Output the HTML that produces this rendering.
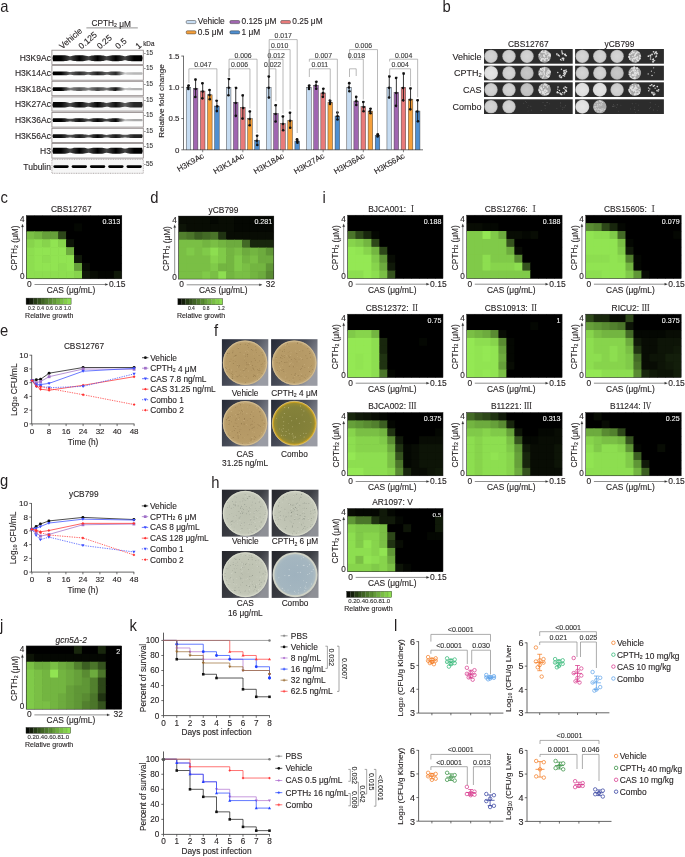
<!DOCTYPE html>
<html><head><meta charset="utf-8"><title>Figure</title>
<style>
html,body{margin:0;padding:0;background:#fff;}
body{width:685px;height:857px;overflow:hidden;}
svg{display:block;font-family:"Liberation Sans", Arial, sans-serif;}
text{stroke:currentColor;stroke-width:0.12px;paint-order:stroke;}
</style></head>
<body>
<svg width="685" height="857" viewBox="0 0 685 857">
<rect width="685" height="857" fill="#fff"/>
<text transform="translate(0.30 12.20) scale(0.87 1)" font-size="17" fill="#231f20" style="stroke:none">a</text>
<text transform="translate(442.50 12.40) scale(0.87 1)" font-size="17" fill="#231f20" style="stroke:none">b</text>
<text transform="translate(0.60 203.20) scale(0.87 1)" font-size="17" fill="#231f20" style="stroke:none">c</text>
<text transform="translate(150.20 203.00) scale(0.87 1)" font-size="17" fill="#231f20" style="stroke:none">d</text>
<text transform="translate(322.50 202.80) scale(0.87 1)" font-size="17" fill="#231f20" style="stroke:none">i</text>
<text transform="translate(0.00 335.70) scale(0.87 1)" font-size="17" fill="#231f20" style="stroke:none">e</text>
<text transform="translate(214.00 336.40) scale(0.87 1)" font-size="17" fill="#231f20" style="stroke:none">f</text>
<text transform="translate(0.00 486.00) scale(0.87 1)" font-size="17" fill="#231f20" style="stroke:none">g</text>
<text transform="translate(211.30 487.50) scale(0.87 1)" font-size="17" fill="#231f20" style="stroke:none">h</text>
<text transform="translate(0.00 631.00) scale(0.87 1)" font-size="17" fill="#231f20" style="stroke:none">j</text>
<text transform="translate(129.50 630.90) scale(0.87 1)" font-size="17" fill="#231f20" style="stroke:none">k</text>
<text transform="translate(394.00 631.00) scale(0.87 1)" font-size="17" fill="#231f20" style="stroke:none">l</text>
<clipPath id="hc1"><rect x="26.30" y="215.50" width="95.50" height="63.30"/></clipPath>
<g clip-path="url(#hc1)">
<rect x="26.30" y="215.50" width="95.50" height="63.30" fill="#000" />
<rect x="26.30" y="215.50" width="8.66" height="8.61" fill="#000000" />
<rect x="34.26" y="215.50" width="8.66" height="8.61" fill="#000000" />
<rect x="42.22" y="215.50" width="8.66" height="8.61" fill="#000000" />
<rect x="50.17" y="215.50" width="8.66" height="8.61" fill="#000000" />
<rect x="58.13" y="215.50" width="8.66" height="8.61" fill="#000000" />
<rect x="66.09" y="215.50" width="8.66" height="8.61" fill="#000000" />
<rect x="74.05" y="215.50" width="8.66" height="8.61" fill="#000000" />
<rect x="82.01" y="215.50" width="8.66" height="8.61" fill="#000000" />
<rect x="89.97" y="215.50" width="8.66" height="8.61" fill="#000000" />
<rect x="97.92" y="215.50" width="8.66" height="8.61" fill="#000000" />
<rect x="105.88" y="215.50" width="8.66" height="8.61" fill="#000000" />
<rect x="113.84" y="215.50" width="8.66" height="8.61" fill="#000000" />
<rect x="26.30" y="223.41" width="8.66" height="8.61" fill="#000000" />
<rect x="34.26" y="223.41" width="8.66" height="8.61" fill="#000000" />
<rect x="42.22" y="223.41" width="8.66" height="8.61" fill="#000000" />
<rect x="50.17" y="223.41" width="8.66" height="8.61" fill="#000000" />
<rect x="58.13" y="223.41" width="8.66" height="8.61" fill="#000000" />
<rect x="66.09" y="223.41" width="8.66" height="8.61" fill="#000000" />
<rect x="74.05" y="223.41" width="8.66" height="8.61" fill="#040702" />
<rect x="82.01" y="223.41" width="8.66" height="8.61" fill="#000000" />
<rect x="89.97" y="223.41" width="8.66" height="8.61" fill="#000000" />
<rect x="97.92" y="223.41" width="8.66" height="8.61" fill="#000000" />
<rect x="105.88" y="223.41" width="8.66" height="8.61" fill="#000000" />
<rect x="113.84" y="223.41" width="8.66" height="8.61" fill="#000000" />
<rect x="26.30" y="231.32" width="8.66" height="8.61" fill="#7abf45" />
<rect x="34.26" y="231.32" width="8.66" height="8.61" fill="#73b541" />
<rect x="42.22" y="231.32" width="8.66" height="8.61" fill="#66a03a" />
<rect x="50.17" y="231.32" width="8.66" height="8.61" fill="#66a03a" />
<rect x="58.13" y="231.32" width="8.66" height="8.61" fill="#2d4719" />
<rect x="66.09" y="231.32" width="8.66" height="8.61" fill="#000000" />
<rect x="74.05" y="231.32" width="8.66" height="8.61" fill="#000000" />
<rect x="82.01" y="231.32" width="8.66" height="8.61" fill="#000000" />
<rect x="89.97" y="231.32" width="8.66" height="8.61" fill="#000000" />
<rect x="97.92" y="231.32" width="8.66" height="8.61" fill="#000000" />
<rect x="105.88" y="231.32" width="8.66" height="8.61" fill="#000000" />
<rect x="113.84" y="231.32" width="8.66" height="8.61" fill="#000000" />
<rect x="26.30" y="239.24" width="8.66" height="8.61" fill="#87d44c" />
<rect x="34.26" y="239.24" width="8.66" height="8.61" fill="#8dde50" />
<rect x="42.22" y="239.24" width="8.66" height="8.61" fill="#87d44c" />
<rect x="50.17" y="239.24" width="8.66" height="8.61" fill="#91e452" />
<rect x="58.13" y="239.24" width="8.66" height="8.61" fill="#87d44c" />
<rect x="66.09" y="239.24" width="8.66" height="8.61" fill="#0d1407" />
<rect x="74.05" y="239.24" width="8.66" height="8.61" fill="#000000" />
<rect x="82.01" y="239.24" width="8.66" height="8.61" fill="#000000" />
<rect x="89.97" y="239.24" width="8.66" height="8.61" fill="#000000" />
<rect x="97.92" y="239.24" width="8.66" height="8.61" fill="#000000" />
<rect x="105.88" y="239.24" width="8.66" height="8.61" fill="#000000" />
<rect x="113.84" y="239.24" width="8.66" height="8.61" fill="#000000" />
<rect x="26.30" y="247.15" width="8.66" height="8.61" fill="#8dde50" />
<rect x="34.26" y="247.15" width="8.66" height="8.61" fill="#91e452" />
<rect x="42.22" y="247.15" width="8.66" height="8.61" fill="#91e452" />
<rect x="50.17" y="247.15" width="8.66" height="8.61" fill="#91e452" />
<rect x="58.13" y="247.15" width="8.66" height="8.61" fill="#91e452" />
<rect x="66.09" y="247.15" width="8.66" height="8.61" fill="#6dab3e" />
<rect x="74.05" y="247.15" width="8.66" height="8.61" fill="#000000" />
<rect x="82.01" y="247.15" width="8.66" height="8.61" fill="#000000" />
<rect x="89.97" y="247.15" width="8.66" height="8.61" fill="#000000" />
<rect x="97.92" y="247.15" width="8.66" height="8.61" fill="#000000" />
<rect x="105.88" y="247.15" width="8.66" height="8.61" fill="#000000" />
<rect x="113.84" y="247.15" width="8.66" height="8.61" fill="#000000" />
<rect x="26.30" y="255.06" width="8.66" height="8.61" fill="#8dde50" />
<rect x="34.26" y="255.06" width="8.66" height="8.61" fill="#91e452" />
<rect x="42.22" y="255.06" width="8.66" height="8.61" fill="#8dde50" />
<rect x="50.17" y="255.06" width="8.66" height="8.61" fill="#91e452" />
<rect x="58.13" y="255.06" width="8.66" height="8.61" fill="#91e452" />
<rect x="66.09" y="255.06" width="8.66" height="8.61" fill="#91e452" />
<rect x="74.05" y="255.06" width="8.66" height="8.61" fill="#101909" />
<rect x="82.01" y="255.06" width="8.66" height="8.61" fill="#000000" />
<rect x="89.97" y="255.06" width="8.66" height="8.61" fill="#000000" />
<rect x="97.92" y="255.06" width="8.66" height="8.61" fill="#000000" />
<rect x="105.88" y="255.06" width="8.66" height="8.61" fill="#000000" />
<rect x="113.84" y="255.06" width="8.66" height="8.61" fill="#000000" />
<rect x="26.30" y="262.98" width="8.66" height="8.61" fill="#8dde50" />
<rect x="34.26" y="262.98" width="8.66" height="8.61" fill="#91e452" />
<rect x="42.22" y="262.98" width="8.66" height="8.61" fill="#91e452" />
<rect x="50.17" y="262.98" width="8.66" height="8.61" fill="#91e452" />
<rect x="58.13" y="262.98" width="8.66" height="8.61" fill="#8dde50" />
<rect x="66.09" y="262.98" width="8.66" height="8.61" fill="#91e452" />
<rect x="74.05" y="262.98" width="8.66" height="8.61" fill="#66a03a" />
<rect x="82.01" y="262.98" width="8.66" height="8.61" fill="#080c04" />
<rect x="89.97" y="262.98" width="8.66" height="8.61" fill="#000000" />
<rect x="97.92" y="262.98" width="8.66" height="8.61" fill="#000000" />
<rect x="105.88" y="262.98" width="8.66" height="8.61" fill="#000000" />
<rect x="113.84" y="262.98" width="8.66" height="8.61" fill="#000000" />
<rect x="26.30" y="270.89" width="8.66" height="8.61" fill="#8dde50" />
<rect x="34.26" y="270.89" width="8.66" height="8.61" fill="#8dde50" />
<rect x="42.22" y="270.89" width="8.66" height="8.61" fill="#8dde50" />
<rect x="50.17" y="270.89" width="8.66" height="8.61" fill="#8dde50" />
<rect x="58.13" y="270.89" width="8.66" height="8.61" fill="#8dde50" />
<rect x="66.09" y="270.89" width="8.66" height="8.61" fill="#8dde50" />
<rect x="74.05" y="270.89" width="8.66" height="8.61" fill="#87d44c" />
<rect x="82.01" y="270.89" width="8.66" height="8.61" fill="#101909" />
<rect x="89.97" y="270.89" width="8.66" height="8.61" fill="#080c04" />
<rect x="97.92" y="270.89" width="8.66" height="8.61" fill="#030501" />
<rect x="105.88" y="270.89" width="8.66" height="8.61" fill="#030501" />
<rect x="113.84" y="270.89" width="8.66" height="8.61" fill="#101909" />
</g>
<rect x="26.30" y="215.50" width="95.50" height="63.30" fill="none" stroke="#222" stroke-width="0.5"/>
<text x="71.30" y="212.30" font-size="8.4" text-anchor="middle" fill="#231f20" color="#231f20" >CBS12767</text>
<text x="120.20" y="223.80" font-size="7.1" text-anchor="end" fill="#f2f2f2" color="#f2f2f2" >0.313</text>
<text x="24.50" y="221.90" font-size="8.2" text-anchor="end" fill="#231f20" color="#231f20" >4</text>
<text x="24.50" y="278.90" font-size="8.2" text-anchor="end" fill="#231f20" color="#231f20" >0</text>
<line x1="22.50" y1="226.00" x2="22.50" y2="273.30" stroke="#333" stroke-width="0.55" />
<path d="M21.40,227.00 L22.50,224.10 L23.60,227.00 Z" stroke="#333" stroke-width="0.2" fill="#333" />
<text x="17.30" y="248.00" font-size="8.3" text-anchor="middle" fill="#231f20" color="#231f20" transform="rotate(-90 17.30 248.00)" >CPTH<tspan font-size="62%" dy="0.9">2</tspan><tspan dy="-0.9"></tspan> (μM)</text>
<text x="27.10" y="286.80" font-size="8.4" text-anchor="start" fill="#231f20" color="#231f20" >0</text>
<line x1="34.50" y1="284.50" x2="105.80" y2="284.50" stroke="#333" stroke-width="0.55" />
<path d="M105.30,283.40 L108.10,284.50 L105.30,285.60 Z" stroke="#333" stroke-width="0.2" fill="#333" />
<text x="108.90" y="286.80" font-size="8.5" text-anchor="start" fill="#231f20" color="#231f20" >0.15</text>
<text x="71.00" y="292.80" font-size="8.4" text-anchor="middle" fill="#231f20" color="#231f20" >CAS (μg/mL)</text>
<rect x="26.10" y="298.10" width="3.80" height="6.30" fill="#060a03" />
<rect x="29.85" y="298.10" width="3.80" height="6.30" fill="#141f0b" />
<rect x="33.60" y="298.10" width="3.80" height="6.30" fill="#273d16" />
<rect x="37.35" y="298.10" width="3.80" height="6.30" fill="#33511d" />
<rect x="41.10" y="298.10" width="3.80" height="6.30" fill="#406424" />
<rect x="44.85" y="298.10" width="3.80" height="6.30" fill="#4c772b" />
<rect x="48.60" y="298.10" width="3.80" height="6.30" fill="#578931" />
<rect x="52.35" y="298.10" width="3.80" height="6.30" fill="#639b38" />
<rect x="56.10" y="298.10" width="3.80" height="6.30" fill="#6ead3e" />
<rect x="59.85" y="298.10" width="3.80" height="6.30" fill="#79be44" />
<rect x="63.60" y="298.10" width="3.80" height="6.30" fill="#84cf4a" />
<rect x="67.35" y="298.10" width="3.80" height="6.30" fill="#8edf51" />
<line x1="29.85" y1="298.90" x2="29.85" y2="303.60" stroke="#000" stroke-width="0.25" opacity="0.5"/>
<line x1="33.60" y1="298.90" x2="33.60" y2="303.60" stroke="#000" stroke-width="0.25" opacity="0.5"/>
<line x1="37.35" y1="298.90" x2="37.35" y2="303.60" stroke="#000" stroke-width="0.25" opacity="0.5"/>
<line x1="41.10" y1="298.90" x2="41.10" y2="303.60" stroke="#000" stroke-width="0.25" opacity="0.5"/>
<line x1="44.85" y1="298.90" x2="44.85" y2="303.60" stroke="#000" stroke-width="0.25" opacity="0.5"/>
<line x1="48.60" y1="298.90" x2="48.60" y2="303.60" stroke="#000" stroke-width="0.25" opacity="0.5"/>
<line x1="52.35" y1="298.90" x2="52.35" y2="303.60" stroke="#000" stroke-width="0.25" opacity="0.5"/>
<line x1="56.10" y1="298.90" x2="56.10" y2="303.60" stroke="#000" stroke-width="0.25" opacity="0.5"/>
<line x1="59.85" y1="298.90" x2="59.85" y2="303.60" stroke="#000" stroke-width="0.25" opacity="0.5"/>
<line x1="63.60" y1="298.90" x2="63.60" y2="303.60" stroke="#000" stroke-width="0.25" opacity="0.5"/>
<line x1="67.35" y1="298.90" x2="67.35" y2="303.60" stroke="#000" stroke-width="0.25" opacity="0.5"/>
<rect x="26.10" y="298.10" width="45.00" height="6.30" fill="none" stroke="#222" stroke-width="0.4"/>
<text x="31.50" y="309.80" font-size="4.9" text-anchor="middle" fill="#333" color="#333" >0.2</text>
<text x="40.50" y="309.80" font-size="4.9" text-anchor="middle" fill="#333" color="#333" >0.4</text>
<text x="49.50" y="309.80" font-size="4.9" text-anchor="middle" fill="#333" color="#333" >0.6</text>
<text x="58.50" y="309.80" font-size="4.9" text-anchor="middle" fill="#333" color="#333" >0.8</text>
<text x="67.50" y="309.80" font-size="4.9" text-anchor="middle" fill="#333" color="#333" >1.0</text>
<text x="25.10" y="317.60" font-size="7.0" text-anchor="start" fill="#231f20" color="#231f20" >Relative growth</text>
<clipPath id="hc2"><rect x="178.50" y="216.10" width="95.30" height="63.00"/></clipPath>
<g clip-path="url(#hc2)">
<rect x="178.50" y="216.10" width="95.30" height="63.00" fill="#000" />
<rect x="178.50" y="216.10" width="8.64" height="8.57" fill="#080c04" />
<rect x="186.44" y="216.10" width="8.64" height="8.57" fill="#080c04" />
<rect x="194.38" y="216.10" width="8.64" height="8.57" fill="#080c04" />
<rect x="202.32" y="216.10" width="8.64" height="8.57" fill="#080c04" />
<rect x="210.27" y="216.10" width="8.64" height="8.57" fill="#040702" />
<rect x="218.21" y="216.10" width="8.64" height="8.57" fill="#080c04" />
<rect x="226.15" y="216.10" width="8.64" height="8.57" fill="#080c04" />
<rect x="234.09" y="216.10" width="8.64" height="8.57" fill="#040702" />
<rect x="242.03" y="216.10" width="8.64" height="8.57" fill="#040702" />
<rect x="249.97" y="216.10" width="8.64" height="8.57" fill="#040702" />
<rect x="257.92" y="216.10" width="8.64" height="8.57" fill="#040702" />
<rect x="265.86" y="216.10" width="8.64" height="8.57" fill="#040702" />
<rect x="178.50" y="223.97" width="8.64" height="8.57" fill="#0d1407" />
<rect x="186.44" y="223.97" width="8.64" height="8.57" fill="#080c04" />
<rect x="194.38" y="223.97" width="8.64" height="8.57" fill="#080c04" />
<rect x="202.32" y="223.97" width="8.64" height="8.57" fill="#080c04" />
<rect x="210.27" y="223.97" width="8.64" height="8.57" fill="#080c04" />
<rect x="218.21" y="223.97" width="8.64" height="8.57" fill="#080c04" />
<rect x="226.15" y="223.97" width="8.64" height="8.57" fill="#080c04" />
<rect x="234.09" y="223.97" width="8.64" height="8.57" fill="#040702" />
<rect x="242.03" y="223.97" width="8.64" height="8.57" fill="#040702" />
<rect x="249.97" y="223.97" width="8.64" height="8.57" fill="#040702" />
<rect x="257.92" y="223.97" width="8.64" height="8.57" fill="#040702" />
<rect x="265.86" y="223.97" width="8.64" height="8.57" fill="#040702" />
<rect x="178.50" y="231.85" width="8.64" height="8.57" fill="#52802e" />
<rect x="186.44" y="231.85" width="8.64" height="8.57" fill="#4b752a" />
<rect x="194.38" y="231.85" width="8.64" height="8.57" fill="#3c5f22" />
<rect x="202.32" y="231.85" width="8.64" height="8.57" fill="#436a26" />
<rect x="210.27" y="231.85" width="8.64" height="8.57" fill="#4b752a" />
<rect x="218.21" y="231.85" width="8.64" height="8.57" fill="#203312" />
<rect x="226.15" y="231.85" width="8.64" height="8.57" fill="#080c04" />
<rect x="234.09" y="231.85" width="8.64" height="8.57" fill="#080c04" />
<rect x="242.03" y="231.85" width="8.64" height="8.57" fill="#080c04" />
<rect x="249.97" y="231.85" width="8.64" height="8.57" fill="#080c04" />
<rect x="257.92" y="231.85" width="8.64" height="8.57" fill="#080c04" />
<rect x="265.86" y="231.85" width="8.64" height="8.57" fill="#080c04" />
<rect x="178.50" y="239.72" width="8.64" height="8.57" fill="#7abf45" />
<rect x="186.44" y="239.72" width="8.64" height="8.57" fill="#7abf45" />
<rect x="194.38" y="239.72" width="8.64" height="8.57" fill="#7abf45" />
<rect x="202.32" y="239.72" width="8.64" height="8.57" fill="#73b541" />
<rect x="210.27" y="239.72" width="8.64" height="8.57" fill="#7abf45" />
<rect x="218.21" y="239.72" width="8.64" height="8.57" fill="#73b541" />
<rect x="226.15" y="239.72" width="8.64" height="8.57" fill="#6dab3e" />
<rect x="234.09" y="239.72" width="8.64" height="8.57" fill="#6dab3e" />
<rect x="242.03" y="239.72" width="8.64" height="8.57" fill="#436a26" />
<rect x="249.97" y="239.72" width="8.64" height="8.57" fill="#18260d" />
<rect x="257.92" y="239.72" width="8.64" height="8.57" fill="#18260d" />
<rect x="265.86" y="239.72" width="8.64" height="8.57" fill="#18260d" />
<rect x="178.50" y="247.60" width="8.64" height="8.57" fill="#7abf45" />
<rect x="186.44" y="247.60" width="8.64" height="8.57" fill="#80ca49" />
<rect x="194.38" y="247.60" width="8.64" height="8.57" fill="#7abf45" />
<rect x="202.32" y="247.60" width="8.64" height="8.57" fill="#80ca49" />
<rect x="210.27" y="247.60" width="8.64" height="8.57" fill="#8dde50" />
<rect x="218.21" y="247.60" width="8.64" height="8.57" fill="#80ca49" />
<rect x="226.15" y="247.60" width="8.64" height="8.57" fill="#73b541" />
<rect x="234.09" y="247.60" width="8.64" height="8.57" fill="#7abf45" />
<rect x="242.03" y="247.60" width="8.64" height="8.57" fill="#6dab3e" />
<rect x="249.97" y="247.60" width="8.64" height="8.57" fill="#73b541" />
<rect x="257.92" y="247.60" width="8.64" height="8.57" fill="#6dab3e" />
<rect x="265.86" y="247.60" width="8.64" height="8.57" fill="#5f9636" />
<rect x="178.50" y="255.47" width="8.64" height="8.57" fill="#7abf45" />
<rect x="186.44" y="255.47" width="8.64" height="8.57" fill="#7abf45" />
<rect x="194.38" y="255.47" width="8.64" height="8.57" fill="#7abf45" />
<rect x="202.32" y="255.47" width="8.64" height="8.57" fill="#7abf45" />
<rect x="210.27" y="255.47" width="8.64" height="8.57" fill="#87d44c" />
<rect x="218.21" y="255.47" width="8.64" height="8.57" fill="#80ca49" />
<rect x="226.15" y="255.47" width="8.64" height="8.57" fill="#73b541" />
<rect x="234.09" y="255.47" width="8.64" height="8.57" fill="#80ca49" />
<rect x="242.03" y="255.47" width="8.64" height="8.57" fill="#73b541" />
<rect x="249.97" y="255.47" width="8.64" height="8.57" fill="#7abf45" />
<rect x="257.92" y="255.47" width="8.64" height="8.57" fill="#6dab3e" />
<rect x="265.86" y="255.47" width="8.64" height="8.57" fill="#6dab3e" />
<rect x="178.50" y="263.35" width="8.64" height="8.57" fill="#7abf45" />
<rect x="186.44" y="263.35" width="8.64" height="8.57" fill="#7abf45" />
<rect x="194.38" y="263.35" width="8.64" height="8.57" fill="#7abf45" />
<rect x="202.32" y="263.35" width="8.64" height="8.57" fill="#7abf45" />
<rect x="210.27" y="263.35" width="8.64" height="8.57" fill="#80ca49" />
<rect x="218.21" y="263.35" width="8.64" height="8.57" fill="#73b541" />
<rect x="226.15" y="263.35" width="8.64" height="8.57" fill="#73b541" />
<rect x="234.09" y="263.35" width="8.64" height="8.57" fill="#80ca49" />
<rect x="242.03" y="263.35" width="8.64" height="8.57" fill="#7abf45" />
<rect x="249.97" y="263.35" width="8.64" height="8.57" fill="#73b541" />
<rect x="257.92" y="263.35" width="8.64" height="8.57" fill="#73b541" />
<rect x="265.86" y="263.35" width="8.64" height="8.57" fill="#5f9636" />
<rect x="178.50" y="271.23" width="8.64" height="8.57" fill="#7abf45" />
<rect x="186.44" y="271.23" width="8.64" height="8.57" fill="#7abf45" />
<rect x="194.38" y="271.23" width="8.64" height="8.57" fill="#7abf45" />
<rect x="202.32" y="271.23" width="8.64" height="8.57" fill="#80ca49" />
<rect x="210.27" y="271.23" width="8.64" height="8.57" fill="#7abf45" />
<rect x="218.21" y="271.23" width="8.64" height="8.57" fill="#8dde50" />
<rect x="226.15" y="271.23" width="8.64" height="8.57" fill="#73b541" />
<rect x="234.09" y="271.23" width="8.64" height="8.57" fill="#7abf45" />
<rect x="242.03" y="271.23" width="8.64" height="8.57" fill="#7abf45" />
<rect x="249.97" y="271.23" width="8.64" height="8.57" fill="#73b541" />
<rect x="257.92" y="271.23" width="8.64" height="8.57" fill="#6dab3e" />
<rect x="265.86" y="271.23" width="8.64" height="8.57" fill="#598b32" />
</g>
<rect x="178.50" y="216.10" width="95.30" height="63.00" fill="none" stroke="#222" stroke-width="0.5"/>
<text x="223.50" y="212.90" font-size="8.4" text-anchor="middle" fill="#231f20" color="#231f20" >yCB799</text>
<text x="272.20" y="224.40" font-size="7.1" text-anchor="end" fill="#f2f2f2" color="#f2f2f2" >0.281</text>
<text x="176.70" y="222.50" font-size="8.2" text-anchor="end" fill="#231f20" color="#231f20" >4</text>
<text x="176.70" y="279.50" font-size="8.2" text-anchor="end" fill="#231f20" color="#231f20" >0</text>
<line x1="174.70" y1="226.60" x2="174.70" y2="273.90" stroke="#333" stroke-width="0.55" />
<path d="M173.60,227.60 L174.70,224.70 L175.80,227.60 Z" stroke="#333" stroke-width="0.2" fill="#333" />
<text x="169.50" y="248.60" font-size="8.3" text-anchor="middle" fill="#231f20" color="#231f20" transform="rotate(-90 169.50 248.60)" >CPTH<tspan font-size="62%" dy="0.9">2</tspan><tspan dy="-0.9"></tspan> (μM)</text>
<text x="179.30" y="287.10" font-size="8.4" text-anchor="start" fill="#231f20" color="#231f20" >0</text>
<line x1="186.70" y1="284.80" x2="259.80" y2="284.80" stroke="#333" stroke-width="0.55" />
<path d="M259.30,283.70 L262.10,284.80 L259.30,285.90 Z" stroke="#333" stroke-width="0.2" fill="#333" />
<text x="265.80" y="287.10" font-size="8.5" text-anchor="start" fill="#231f20" color="#231f20" >32</text>
<text x="223.20" y="293.10" font-size="8.4" text-anchor="middle" fill="#231f20" color="#231f20" >CAS (μg/mL)</text>
<rect x="177.90" y="298.70" width="3.77" height="6.10" fill="#060a03" />
<rect x="181.62" y="298.70" width="3.77" height="6.10" fill="#141f0b" />
<rect x="185.35" y="298.70" width="3.77" height="6.10" fill="#273d16" />
<rect x="189.08" y="298.70" width="3.77" height="6.10" fill="#33511d" />
<rect x="192.80" y="298.70" width="3.77" height="6.10" fill="#406424" />
<rect x="196.53" y="298.70" width="3.77" height="6.10" fill="#4c772b" />
<rect x="200.25" y="298.70" width="3.77" height="6.10" fill="#578931" />
<rect x="203.98" y="298.70" width="3.77" height="6.10" fill="#639b38" />
<rect x="207.70" y="298.70" width="3.77" height="6.10" fill="#6ead3e" />
<rect x="211.43" y="298.70" width="3.77" height="6.10" fill="#79be44" />
<rect x="215.15" y="298.70" width="3.77" height="6.10" fill="#84cf4a" />
<rect x="218.88" y="298.70" width="3.77" height="6.10" fill="#8edf51" />
<line x1="181.62" y1="299.50" x2="181.62" y2="304.00" stroke="#000" stroke-width="0.25" opacity="0.5"/>
<line x1="185.35" y1="299.50" x2="185.35" y2="304.00" stroke="#000" stroke-width="0.25" opacity="0.5"/>
<line x1="189.08" y1="299.50" x2="189.08" y2="304.00" stroke="#000" stroke-width="0.25" opacity="0.5"/>
<line x1="192.80" y1="299.50" x2="192.80" y2="304.00" stroke="#000" stroke-width="0.25" opacity="0.5"/>
<line x1="196.53" y1="299.50" x2="196.53" y2="304.00" stroke="#000" stroke-width="0.25" opacity="0.5"/>
<line x1="200.25" y1="299.50" x2="200.25" y2="304.00" stroke="#000" stroke-width="0.25" opacity="0.5"/>
<line x1="203.98" y1="299.50" x2="203.98" y2="304.00" stroke="#000" stroke-width="0.25" opacity="0.5"/>
<line x1="207.70" y1="299.50" x2="207.70" y2="304.00" stroke="#000" stroke-width="0.25" opacity="0.5"/>
<line x1="211.43" y1="299.50" x2="211.43" y2="304.00" stroke="#000" stroke-width="0.25" opacity="0.5"/>
<line x1="215.15" y1="299.50" x2="215.15" y2="304.00" stroke="#000" stroke-width="0.25" opacity="0.5"/>
<line x1="218.88" y1="299.50" x2="218.88" y2="304.00" stroke="#000" stroke-width="0.25" opacity="0.5"/>
<rect x="177.90" y="298.70" width="44.70" height="6.10" fill="none" stroke="#222" stroke-width="0.4"/>
<text x="191.31" y="310.20" font-size="4.9" text-anchor="middle" fill="#333" color="#333" >0.4</text>
<text x="206.06" y="310.20" font-size="4.9" text-anchor="middle" fill="#333" color="#333" >0.8</text>
<text x="221.26" y="310.20" font-size="4.9" text-anchor="middle" fill="#333" color="#333" >1.2</text>
<text x="176.90" y="318.00" font-size="7.0" text-anchor="start" fill="#231f20" color="#231f20" >Relative growth</text>
<clipPath id="hc3"><rect x="347.50" y="215.20" width="95.50" height="63.30"/></clipPath>
<g clip-path="url(#hc3)">
<rect x="347.50" y="215.20" width="95.50" height="63.30" fill="#000" />
<rect x="347.50" y="215.20" width="8.66" height="8.61" fill="#000000" />
<rect x="355.46" y="215.20" width="8.66" height="8.61" fill="#000000" />
<rect x="363.42" y="215.20" width="8.66" height="8.61" fill="#000000" />
<rect x="371.38" y="215.20" width="8.66" height="8.61" fill="#000000" />
<rect x="379.33" y="215.20" width="8.66" height="8.61" fill="#000000" />
<rect x="387.29" y="215.20" width="8.66" height="8.61" fill="#000000" />
<rect x="395.25" y="215.20" width="8.66" height="8.61" fill="#000000" />
<rect x="403.21" y="215.20" width="8.66" height="8.61" fill="#000000" />
<rect x="411.17" y="215.20" width="8.66" height="8.61" fill="#000000" />
<rect x="419.12" y="215.20" width="8.66" height="8.61" fill="#000000" />
<rect x="427.08" y="215.20" width="8.66" height="8.61" fill="#000000" />
<rect x="435.04" y="215.20" width="8.66" height="8.61" fill="#000000" />
<rect x="347.50" y="223.11" width="8.66" height="8.61" fill="#000000" />
<rect x="355.46" y="223.11" width="8.66" height="8.61" fill="#000000" />
<rect x="363.42" y="223.11" width="8.66" height="8.61" fill="#000000" />
<rect x="371.38" y="223.11" width="8.66" height="8.61" fill="#000000" />
<rect x="379.33" y="223.11" width="8.66" height="8.61" fill="#000000" />
<rect x="387.29" y="223.11" width="8.66" height="8.61" fill="#000000" />
<rect x="395.25" y="223.11" width="8.66" height="8.61" fill="#000000" />
<rect x="403.21" y="223.11" width="8.66" height="8.61" fill="#000000" />
<rect x="411.17" y="223.11" width="8.66" height="8.61" fill="#000000" />
<rect x="419.12" y="223.11" width="8.66" height="8.61" fill="#000000" />
<rect x="427.08" y="223.11" width="8.66" height="8.61" fill="#000000" />
<rect x="435.04" y="223.11" width="8.66" height="8.61" fill="#000000" />
<rect x="347.50" y="231.02" width="8.66" height="8.61" fill="#4b752a" />
<rect x="355.46" y="231.02" width="8.66" height="8.61" fill="#2d4719" />
<rect x="363.42" y="231.02" width="8.66" height="8.61" fill="#18260d" />
<rect x="371.38" y="231.02" width="8.66" height="8.61" fill="#040702" />
<rect x="379.33" y="231.02" width="8.66" height="8.61" fill="#000000" />
<rect x="387.29" y="231.02" width="8.66" height="8.61" fill="#000000" />
<rect x="395.25" y="231.02" width="8.66" height="8.61" fill="#000000" />
<rect x="403.21" y="231.02" width="8.66" height="8.61" fill="#000000" />
<rect x="411.17" y="231.02" width="8.66" height="8.61" fill="#000000" />
<rect x="419.12" y="231.02" width="8.66" height="8.61" fill="#000000" />
<rect x="427.08" y="231.02" width="8.66" height="8.61" fill="#000000" />
<rect x="435.04" y="231.02" width="8.66" height="8.61" fill="#000000" />
<rect x="347.50" y="238.94" width="8.66" height="8.61" fill="#87d44c" />
<rect x="355.46" y="238.94" width="8.66" height="8.61" fill="#80ca49" />
<rect x="363.42" y="238.94" width="8.66" height="8.61" fill="#73b541" />
<rect x="371.38" y="238.94" width="8.66" height="8.61" fill="#2d4719" />
<rect x="379.33" y="238.94" width="8.66" height="8.61" fill="#000000" />
<rect x="387.29" y="238.94" width="8.66" height="8.61" fill="#000000" />
<rect x="395.25" y="238.94" width="8.66" height="8.61" fill="#000000" />
<rect x="403.21" y="238.94" width="8.66" height="8.61" fill="#000000" />
<rect x="411.17" y="238.94" width="8.66" height="8.61" fill="#000000" />
<rect x="419.12" y="238.94" width="8.66" height="8.61" fill="#000000" />
<rect x="427.08" y="238.94" width="8.66" height="8.61" fill="#000000" />
<rect x="435.04" y="238.94" width="8.66" height="8.61" fill="#000000" />
<rect x="347.50" y="246.85" width="8.66" height="8.61" fill="#94e854" />
<rect x="355.46" y="246.85" width="8.66" height="8.61" fill="#91e452" />
<rect x="363.42" y="246.85" width="8.66" height="8.61" fill="#87d44c" />
<rect x="371.38" y="246.85" width="8.66" height="8.61" fill="#73b541" />
<rect x="379.33" y="246.85" width="8.66" height="8.61" fill="#2d4719" />
<rect x="387.29" y="246.85" width="8.66" height="8.61" fill="#000000" />
<rect x="395.25" y="246.85" width="8.66" height="8.61" fill="#000000" />
<rect x="403.21" y="246.85" width="8.66" height="8.61" fill="#000000" />
<rect x="411.17" y="246.85" width="8.66" height="8.61" fill="#000000" />
<rect x="419.12" y="246.85" width="8.66" height="8.61" fill="#000000" />
<rect x="427.08" y="246.85" width="8.66" height="8.61" fill="#000000" />
<rect x="435.04" y="246.85" width="8.66" height="8.61" fill="#000000" />
<rect x="347.50" y="254.76" width="8.66" height="8.61" fill="#94e854" />
<rect x="355.46" y="254.76" width="8.66" height="8.61" fill="#94e854" />
<rect x="363.42" y="254.76" width="8.66" height="8.61" fill="#94e854" />
<rect x="371.38" y="254.76" width="8.66" height="8.61" fill="#80ca49" />
<rect x="379.33" y="254.76" width="8.66" height="8.61" fill="#5f9636" />
<rect x="387.29" y="254.76" width="8.66" height="8.61" fill="#080c04" />
<rect x="395.25" y="254.76" width="8.66" height="8.61" fill="#000000" />
<rect x="403.21" y="254.76" width="8.66" height="8.61" fill="#000000" />
<rect x="411.17" y="254.76" width="8.66" height="8.61" fill="#000000" />
<rect x="419.12" y="254.76" width="8.66" height="8.61" fill="#000000" />
<rect x="427.08" y="254.76" width="8.66" height="8.61" fill="#000000" />
<rect x="435.04" y="254.76" width="8.66" height="8.61" fill="#000000" />
<rect x="347.50" y="262.67" width="8.66" height="8.61" fill="#94e854" />
<rect x="355.46" y="262.67" width="8.66" height="8.61" fill="#94e854" />
<rect x="363.42" y="262.67" width="8.66" height="8.61" fill="#94e854" />
<rect x="371.38" y="262.67" width="8.66" height="8.61" fill="#87d44c" />
<rect x="379.33" y="262.67" width="8.66" height="8.61" fill="#6dab3e" />
<rect x="387.29" y="262.67" width="8.66" height="8.61" fill="#101909" />
<rect x="395.25" y="262.67" width="8.66" height="8.61" fill="#000000" />
<rect x="403.21" y="262.67" width="8.66" height="8.61" fill="#000000" />
<rect x="411.17" y="262.67" width="8.66" height="8.61" fill="#000000" />
<rect x="419.12" y="262.67" width="8.66" height="8.61" fill="#000000" />
<rect x="427.08" y="262.67" width="8.66" height="8.61" fill="#000000" />
<rect x="435.04" y="262.67" width="8.66" height="8.61" fill="#000000" />
<rect x="347.50" y="270.59" width="8.66" height="8.61" fill="#8dde50" />
<rect x="355.46" y="270.59" width="8.66" height="8.61" fill="#8dde50" />
<rect x="363.42" y="270.59" width="8.66" height="8.61" fill="#94e854" />
<rect x="371.38" y="270.59" width="8.66" height="8.61" fill="#8dde50" />
<rect x="379.33" y="270.59" width="8.66" height="8.61" fill="#7abf45" />
<rect x="387.29" y="270.59" width="8.66" height="8.61" fill="#35531e" />
<rect x="395.25" y="270.59" width="8.66" height="8.61" fill="#000000" />
<rect x="403.21" y="270.59" width="8.66" height="8.61" fill="#000000" />
<rect x="411.17" y="270.59" width="8.66" height="8.61" fill="#000000" />
<rect x="419.12" y="270.59" width="8.66" height="8.61" fill="#000000" />
<rect x="427.08" y="270.59" width="8.66" height="8.61" fill="#000000" />
<rect x="435.04" y="270.59" width="8.66" height="8.61" fill="#000000" />
</g>
<rect x="347.50" y="215.20" width="95.50" height="63.30" fill="none" stroke="#222" stroke-width="0.5"/>
<text x="392.50" y="212.00" font-size="8.4" text-anchor="middle" fill="#231f20" color="#231f20" >BJCA001: <tspan font-family="Noto Serif CJK SC, Liberation Serif, serif">Ⅰ</tspan></text>
<text x="441.40" y="223.50" font-size="7.1" text-anchor="end" fill="#f2f2f2" color="#f2f2f2" >0.188</text>
<text x="345.70" y="221.60" font-size="8.2" text-anchor="end" fill="#231f20" color="#231f20" >4</text>
<text x="345.70" y="278.60" font-size="8.2" text-anchor="end" fill="#231f20" color="#231f20" >0</text>
<line x1="343.70" y1="225.70" x2="343.70" y2="273.00" stroke="#333" stroke-width="0.55" />
<path d="M342.60,226.70 L343.70,223.80 L344.80,226.70 Z" stroke="#333" stroke-width="0.2" fill="#333" />
<text x="338.50" y="247.70" font-size="8.3" text-anchor="middle" fill="#231f20" color="#231f20" transform="rotate(-90 338.50 247.70)" >CPTH<tspan font-size="62%" dy="0.9">2</tspan><tspan dy="-0.9"></tspan> (μM)</text>
<text x="348.30" y="286.50" font-size="8.4" text-anchor="start" fill="#231f20" color="#231f20" >0</text>
<line x1="355.70" y1="284.20" x2="427.00" y2="284.20" stroke="#333" stroke-width="0.55" />
<path d="M426.50,283.10 L429.30,284.20 L426.50,285.30 Z" stroke="#333" stroke-width="0.2" fill="#333" />
<text x="430.10" y="286.50" font-size="8.5" text-anchor="start" fill="#231f20" color="#231f20" >0.15</text>
<text x="392.20" y="292.50" font-size="8.4" text-anchor="middle" fill="#231f20" color="#231f20" >CAS (μg/mL)</text>
<clipPath id="hc4"><rect x="466.60" y="215.20" width="95.50" height="63.30"/></clipPath>
<g clip-path="url(#hc4)">
<rect x="466.60" y="215.20" width="95.50" height="63.30" fill="#000" />
<rect x="466.60" y="215.20" width="8.66" height="8.61" fill="#000000" />
<rect x="474.56" y="215.20" width="8.66" height="8.61" fill="#000000" />
<rect x="482.52" y="215.20" width="8.66" height="8.61" fill="#000000" />
<rect x="490.48" y="215.20" width="8.66" height="8.61" fill="#000000" />
<rect x="498.43" y="215.20" width="8.66" height="8.61" fill="#000000" />
<rect x="506.39" y="215.20" width="8.66" height="8.61" fill="#000000" />
<rect x="514.35" y="215.20" width="8.66" height="8.61" fill="#000000" />
<rect x="522.31" y="215.20" width="8.66" height="8.61" fill="#000000" />
<rect x="530.27" y="215.20" width="8.66" height="8.61" fill="#000000" />
<rect x="538.23" y="215.20" width="8.66" height="8.61" fill="#000000" />
<rect x="546.18" y="215.20" width="8.66" height="8.61" fill="#000000" />
<rect x="554.14" y="215.20" width="8.66" height="8.61" fill="#000000" />
<rect x="466.60" y="223.11" width="8.66" height="8.61" fill="#080c04" />
<rect x="474.56" y="223.11" width="8.66" height="8.61" fill="#080c04" />
<rect x="482.52" y="223.11" width="8.66" height="8.61" fill="#040702" />
<rect x="490.48" y="223.11" width="8.66" height="8.61" fill="#040702" />
<rect x="498.43" y="223.11" width="8.66" height="8.61" fill="#000000" />
<rect x="506.39" y="223.11" width="8.66" height="8.61" fill="#000000" />
<rect x="514.35" y="223.11" width="8.66" height="8.61" fill="#000000" />
<rect x="522.31" y="223.11" width="8.66" height="8.61" fill="#000000" />
<rect x="530.27" y="223.11" width="8.66" height="8.61" fill="#000000" />
<rect x="538.23" y="223.11" width="8.66" height="8.61" fill="#000000" />
<rect x="546.18" y="223.11" width="8.66" height="8.61" fill="#000000" />
<rect x="554.14" y="223.11" width="8.66" height="8.61" fill="#000000" />
<rect x="466.60" y="231.02" width="8.66" height="8.61" fill="#80ca49" />
<rect x="474.56" y="231.02" width="8.66" height="8.61" fill="#80ca49" />
<rect x="482.52" y="231.02" width="8.66" height="8.61" fill="#94e854" />
<rect x="490.48" y="231.02" width="8.66" height="8.61" fill="#80ca49" />
<rect x="498.43" y="231.02" width="8.66" height="8.61" fill="#6dab3e" />
<rect x="506.39" y="231.02" width="8.66" height="8.61" fill="#080c04" />
<rect x="514.35" y="231.02" width="8.66" height="8.61" fill="#080c04" />
<rect x="522.31" y="231.02" width="8.66" height="8.61" fill="#040702" />
<rect x="530.27" y="231.02" width="8.66" height="8.61" fill="#080c04" />
<rect x="538.23" y="231.02" width="8.66" height="8.61" fill="#000000" />
<rect x="546.18" y="231.02" width="8.66" height="8.61" fill="#000000" />
<rect x="554.14" y="231.02" width="8.66" height="8.61" fill="#000000" />
<rect x="466.60" y="238.94" width="8.66" height="8.61" fill="#80ca49" />
<rect x="474.56" y="238.94" width="8.66" height="8.61" fill="#80ca49" />
<rect x="482.52" y="238.94" width="8.66" height="8.61" fill="#80ca49" />
<rect x="490.48" y="238.94" width="8.66" height="8.61" fill="#80ca49" />
<rect x="498.43" y="238.94" width="8.66" height="8.61" fill="#80ca49" />
<rect x="506.39" y="238.94" width="8.66" height="8.61" fill="#35531e" />
<rect x="514.35" y="238.94" width="8.66" height="8.61" fill="#000000" />
<rect x="522.31" y="238.94" width="8.66" height="8.61" fill="#000000" />
<rect x="530.27" y="238.94" width="8.66" height="8.61" fill="#000000" />
<rect x="538.23" y="238.94" width="8.66" height="8.61" fill="#000000" />
<rect x="546.18" y="238.94" width="8.66" height="8.61" fill="#000000" />
<rect x="554.14" y="238.94" width="8.66" height="8.61" fill="#000000" />
<rect x="466.60" y="246.85" width="8.66" height="8.61" fill="#80ca49" />
<rect x="474.56" y="246.85" width="8.66" height="8.61" fill="#80ca49" />
<rect x="482.52" y="246.85" width="8.66" height="8.61" fill="#80ca49" />
<rect x="490.48" y="246.85" width="8.66" height="8.61" fill="#80ca49" />
<rect x="498.43" y="246.85" width="8.66" height="8.61" fill="#80ca49" />
<rect x="506.39" y="246.85" width="8.66" height="8.61" fill="#6dab3e" />
<rect x="514.35" y="246.85" width="8.66" height="8.61" fill="#080c04" />
<rect x="522.31" y="246.85" width="8.66" height="8.61" fill="#000000" />
<rect x="530.27" y="246.85" width="8.66" height="8.61" fill="#000000" />
<rect x="538.23" y="246.85" width="8.66" height="8.61" fill="#000000" />
<rect x="546.18" y="246.85" width="8.66" height="8.61" fill="#000000" />
<rect x="554.14" y="246.85" width="8.66" height="8.61" fill="#000000" />
<rect x="466.60" y="254.76" width="8.66" height="8.61" fill="#80ca49" />
<rect x="474.56" y="254.76" width="8.66" height="8.61" fill="#80ca49" />
<rect x="482.52" y="254.76" width="8.66" height="8.61" fill="#8dde50" />
<rect x="490.48" y="254.76" width="8.66" height="8.61" fill="#80ca49" />
<rect x="498.43" y="254.76" width="8.66" height="8.61" fill="#80ca49" />
<rect x="506.39" y="254.76" width="8.66" height="8.61" fill="#80ca49" />
<rect x="514.35" y="254.76" width="8.66" height="8.61" fill="#598b32" />
<rect x="522.31" y="254.76" width="8.66" height="8.61" fill="#000000" />
<rect x="530.27" y="254.76" width="8.66" height="8.61" fill="#000000" />
<rect x="538.23" y="254.76" width="8.66" height="8.61" fill="#000000" />
<rect x="546.18" y="254.76" width="8.66" height="8.61" fill="#000000" />
<rect x="554.14" y="254.76" width="8.66" height="8.61" fill="#000000" />
<rect x="466.60" y="262.67" width="8.66" height="8.61" fill="#80ca49" />
<rect x="474.56" y="262.67" width="8.66" height="8.61" fill="#80ca49" />
<rect x="482.52" y="262.67" width="8.66" height="8.61" fill="#8dde50" />
<rect x="490.48" y="262.67" width="8.66" height="8.61" fill="#87d44c" />
<rect x="498.43" y="262.67" width="8.66" height="8.61" fill="#87d44c" />
<rect x="506.39" y="262.67" width="8.66" height="8.61" fill="#87d44c" />
<rect x="514.35" y="262.67" width="8.66" height="8.61" fill="#8dde50" />
<rect x="522.31" y="262.67" width="8.66" height="8.61" fill="#35531e" />
<rect x="530.27" y="262.67" width="8.66" height="8.61" fill="#000000" />
<rect x="538.23" y="262.67" width="8.66" height="8.61" fill="#000000" />
<rect x="546.18" y="262.67" width="8.66" height="8.61" fill="#000000" />
<rect x="554.14" y="262.67" width="8.66" height="8.61" fill="#000000" />
<rect x="466.60" y="270.59" width="8.66" height="8.61" fill="#80ca49" />
<rect x="474.56" y="270.59" width="8.66" height="8.61" fill="#80ca49" />
<rect x="482.52" y="270.59" width="8.66" height="8.61" fill="#80ca49" />
<rect x="490.48" y="270.59" width="8.66" height="8.61" fill="#80ca49" />
<rect x="498.43" y="270.59" width="8.66" height="8.61" fill="#80ca49" />
<rect x="506.39" y="270.59" width="8.66" height="8.61" fill="#80ca49" />
<rect x="514.35" y="270.59" width="8.66" height="8.61" fill="#80ca49" />
<rect x="522.31" y="270.59" width="8.66" height="8.61" fill="#80ca49" />
<rect x="530.27" y="270.59" width="8.66" height="8.61" fill="#000000" />
<rect x="538.23" y="270.59" width="8.66" height="8.61" fill="#000000" />
<rect x="546.18" y="270.59" width="8.66" height="8.61" fill="#000000" />
<rect x="554.14" y="270.59" width="8.66" height="8.61" fill="#000000" />
</g>
<rect x="466.60" y="215.20" width="95.50" height="63.30" fill="none" stroke="#222" stroke-width="0.5"/>
<text x="511.60" y="212.00" font-size="8.4" text-anchor="middle" fill="#231f20" color="#231f20" >CBS12766: <tspan font-family="Noto Serif CJK SC, Liberation Serif, serif">Ⅰ</tspan></text>
<text x="560.50" y="223.50" font-size="7.1" text-anchor="end" fill="#f2f2f2" color="#f2f2f2" >0.188</text>
<text x="464.80" y="221.60" font-size="8.2" text-anchor="end" fill="#231f20" color="#231f20" >4</text>
<text x="464.80" y="278.60" font-size="8.2" text-anchor="end" fill="#231f20" color="#231f20" >0</text>
<line x1="462.80" y1="225.70" x2="462.80" y2="273.00" stroke="#333" stroke-width="0.55" />
<path d="M461.70,226.70 L462.80,223.80 L463.90,226.70 Z" stroke="#333" stroke-width="0.2" fill="#333" />
<text x="457.60" y="247.70" font-size="8.3" text-anchor="middle" fill="#231f20" color="#231f20" transform="rotate(-90 457.60 247.70)" >CPTH<tspan font-size="62%" dy="0.9">2</tspan><tspan dy="-0.9"></tspan> (μM)</text>
<text x="467.40" y="286.50" font-size="8.4" text-anchor="start" fill="#231f20" color="#231f20" >0</text>
<line x1="474.80" y1="284.20" x2="546.10" y2="284.20" stroke="#333" stroke-width="0.55" />
<path d="M545.60,283.10 L548.40,284.20 L545.60,285.30 Z" stroke="#333" stroke-width="0.2" fill="#333" />
<text x="549.20" y="286.50" font-size="8.5" text-anchor="start" fill="#231f20" color="#231f20" >0.15</text>
<text x="511.30" y="292.50" font-size="8.4" text-anchor="middle" fill="#231f20" color="#231f20" >CAS (μg/mL)</text>
<clipPath id="hc5"><rect x="585.70" y="215.20" width="95.50" height="63.30"/></clipPath>
<g clip-path="url(#hc5)">
<rect x="585.70" y="215.20" width="95.50" height="63.30" fill="#000" />
<rect x="585.70" y="215.20" width="8.66" height="8.61" fill="#000000" />
<rect x="593.66" y="215.20" width="8.66" height="8.61" fill="#000000" />
<rect x="601.62" y="215.20" width="8.66" height="8.61" fill="#000000" />
<rect x="609.58" y="215.20" width="8.66" height="8.61" fill="#000000" />
<rect x="617.53" y="215.20" width="8.66" height="8.61" fill="#000000" />
<rect x="625.49" y="215.20" width="8.66" height="8.61" fill="#000000" />
<rect x="633.45" y="215.20" width="8.66" height="8.61" fill="#000000" />
<rect x="641.41" y="215.20" width="8.66" height="8.61" fill="#000000" />
<rect x="649.37" y="215.20" width="8.66" height="8.61" fill="#000000" />
<rect x="657.33" y="215.20" width="8.66" height="8.61" fill="#000000" />
<rect x="665.28" y="215.20" width="8.66" height="8.61" fill="#000000" />
<rect x="673.24" y="215.20" width="8.66" height="8.61" fill="#000000" />
<rect x="585.70" y="223.11" width="8.66" height="8.61" fill="#598b32" />
<rect x="593.66" y="223.11" width="8.66" height="8.61" fill="#52802e" />
<rect x="601.62" y="223.11" width="8.66" height="8.61" fill="#2d4719" />
<rect x="609.58" y="223.11" width="8.66" height="8.61" fill="#18260d" />
<rect x="617.53" y="223.11" width="8.66" height="8.61" fill="#040702" />
<rect x="625.49" y="223.11" width="8.66" height="8.61" fill="#000000" />
<rect x="633.45" y="223.11" width="8.66" height="8.61" fill="#000000" />
<rect x="641.41" y="223.11" width="8.66" height="8.61" fill="#000000" />
<rect x="649.37" y="223.11" width="8.66" height="8.61" fill="#000000" />
<rect x="657.33" y="223.11" width="8.66" height="8.61" fill="#000000" />
<rect x="665.28" y="223.11" width="8.66" height="8.61" fill="#000000" />
<rect x="673.24" y="223.11" width="8.66" height="8.61" fill="#000000" />
<rect x="585.70" y="231.02" width="8.66" height="8.61" fill="#91e452" />
<rect x="593.66" y="231.02" width="8.66" height="8.61" fill="#8dde50" />
<rect x="601.62" y="231.02" width="8.66" height="8.61" fill="#8dde50" />
<rect x="609.58" y="231.02" width="8.66" height="8.61" fill="#80ca49" />
<rect x="617.53" y="231.02" width="8.66" height="8.61" fill="#436a26" />
<rect x="625.49" y="231.02" width="8.66" height="8.61" fill="#000000" />
<rect x="633.45" y="231.02" width="8.66" height="8.61" fill="#000000" />
<rect x="641.41" y="231.02" width="8.66" height="8.61" fill="#000000" />
<rect x="649.37" y="231.02" width="8.66" height="8.61" fill="#000000" />
<rect x="657.33" y="231.02" width="8.66" height="8.61" fill="#000000" />
<rect x="665.28" y="231.02" width="8.66" height="8.61" fill="#000000" />
<rect x="673.24" y="231.02" width="8.66" height="8.61" fill="#040702" />
<rect x="585.70" y="238.94" width="8.66" height="8.61" fill="#91e452" />
<rect x="593.66" y="238.94" width="8.66" height="8.61" fill="#91e452" />
<rect x="601.62" y="238.94" width="8.66" height="8.61" fill="#91e452" />
<rect x="609.58" y="238.94" width="8.66" height="8.61" fill="#91e452" />
<rect x="617.53" y="238.94" width="8.66" height="8.61" fill="#7abf45" />
<rect x="625.49" y="238.94" width="8.66" height="8.61" fill="#040702" />
<rect x="633.45" y="238.94" width="8.66" height="8.61" fill="#000000" />
<rect x="641.41" y="238.94" width="8.66" height="8.61" fill="#000000" />
<rect x="649.37" y="238.94" width="8.66" height="8.61" fill="#000000" />
<rect x="657.33" y="238.94" width="8.66" height="8.61" fill="#000000" />
<rect x="665.28" y="238.94" width="8.66" height="8.61" fill="#000000" />
<rect x="673.24" y="238.94" width="8.66" height="8.61" fill="#000000" />
<rect x="585.70" y="246.85" width="8.66" height="8.61" fill="#91e452" />
<rect x="593.66" y="246.85" width="8.66" height="8.61" fill="#91e452" />
<rect x="601.62" y="246.85" width="8.66" height="8.61" fill="#91e452" />
<rect x="609.58" y="246.85" width="8.66" height="8.61" fill="#91e452" />
<rect x="617.53" y="246.85" width="8.66" height="8.61" fill="#80ca49" />
<rect x="625.49" y="246.85" width="8.66" height="8.61" fill="#101909" />
<rect x="633.45" y="246.85" width="8.66" height="8.61" fill="#000000" />
<rect x="641.41" y="246.85" width="8.66" height="8.61" fill="#000000" />
<rect x="649.37" y="246.85" width="8.66" height="8.61" fill="#000000" />
<rect x="657.33" y="246.85" width="8.66" height="8.61" fill="#000000" />
<rect x="665.28" y="246.85" width="8.66" height="8.61" fill="#000000" />
<rect x="673.24" y="246.85" width="8.66" height="8.61" fill="#000000" />
<rect x="585.70" y="254.76" width="8.66" height="8.61" fill="#8dde50" />
<rect x="593.66" y="254.76" width="8.66" height="8.61" fill="#8dde50" />
<rect x="601.62" y="254.76" width="8.66" height="8.61" fill="#8dde50" />
<rect x="609.58" y="254.76" width="8.66" height="8.61" fill="#91e452" />
<rect x="617.53" y="254.76" width="8.66" height="8.61" fill="#8dde50" />
<rect x="625.49" y="254.76" width="8.66" height="8.61" fill="#52802e" />
<rect x="633.45" y="254.76" width="8.66" height="8.61" fill="#040702" />
<rect x="641.41" y="254.76" width="8.66" height="8.61" fill="#000000" />
<rect x="649.37" y="254.76" width="8.66" height="8.61" fill="#000000" />
<rect x="657.33" y="254.76" width="8.66" height="8.61" fill="#000000" />
<rect x="665.28" y="254.76" width="8.66" height="8.61" fill="#000000" />
<rect x="673.24" y="254.76" width="8.66" height="8.61" fill="#000000" />
<rect x="585.70" y="262.67" width="8.66" height="8.61" fill="#91e452" />
<rect x="593.66" y="262.67" width="8.66" height="8.61" fill="#91e452" />
<rect x="601.62" y="262.67" width="8.66" height="8.61" fill="#91e452" />
<rect x="609.58" y="262.67" width="8.66" height="8.61" fill="#91e452" />
<rect x="617.53" y="262.67" width="8.66" height="8.61" fill="#91e452" />
<rect x="625.49" y="262.67" width="8.66" height="8.61" fill="#73b541" />
<rect x="633.45" y="262.67" width="8.66" height="8.61" fill="#040702" />
<rect x="641.41" y="262.67" width="8.66" height="8.61" fill="#000000" />
<rect x="649.37" y="262.67" width="8.66" height="8.61" fill="#000000" />
<rect x="657.33" y="262.67" width="8.66" height="8.61" fill="#000000" />
<rect x="665.28" y="262.67" width="8.66" height="8.61" fill="#000000" />
<rect x="673.24" y="262.67" width="8.66" height="8.61" fill="#000000" />
<rect x="585.70" y="270.59" width="8.66" height="8.61" fill="#8dde50" />
<rect x="593.66" y="270.59" width="8.66" height="8.61" fill="#8dde50" />
<rect x="601.62" y="270.59" width="8.66" height="8.61" fill="#91e452" />
<rect x="609.58" y="270.59" width="8.66" height="8.61" fill="#91e452" />
<rect x="617.53" y="270.59" width="8.66" height="8.61" fill="#91e452" />
<rect x="625.49" y="270.59" width="8.66" height="8.61" fill="#80ca49" />
<rect x="633.45" y="270.59" width="8.66" height="8.61" fill="#5f9636" />
<rect x="641.41" y="270.59" width="8.66" height="8.61" fill="#080c04" />
<rect x="649.37" y="270.59" width="8.66" height="8.61" fill="#000000" />
<rect x="657.33" y="270.59" width="8.66" height="8.61" fill="#000000" />
<rect x="665.28" y="270.59" width="8.66" height="8.61" fill="#000000" />
<rect x="673.24" y="270.59" width="8.66" height="8.61" fill="#000000" />
</g>
<rect x="585.70" y="215.20" width="95.50" height="63.30" fill="none" stroke="#222" stroke-width="0.5"/>
<text x="630.70" y="212.00" font-size="8.4" text-anchor="middle" fill="#231f20" color="#231f20" >CBS15605: <tspan font-family="Noto Serif CJK SC, Liberation Serif, serif">Ⅰ</tspan></text>
<text x="679.60" y="223.50" font-size="7.1" text-anchor="end" fill="#f2f2f2" color="#f2f2f2" >0.079</text>
<text x="583.90" y="221.60" font-size="8.2" text-anchor="end" fill="#231f20" color="#231f20" >4</text>
<text x="583.90" y="278.60" font-size="8.2" text-anchor="end" fill="#231f20" color="#231f20" >0</text>
<line x1="581.90" y1="225.70" x2="581.90" y2="273.00" stroke="#333" stroke-width="0.55" />
<path d="M580.80,226.70 L581.90,223.80 L583.00,226.70 Z" stroke="#333" stroke-width="0.2" fill="#333" />
<text x="576.70" y="247.70" font-size="8.3" text-anchor="middle" fill="#231f20" color="#231f20" transform="rotate(-90 576.70 247.70)" >CPTH<tspan font-size="62%" dy="0.9">2</tspan><tspan dy="-0.9"></tspan> (μM)</text>
<text x="586.50" y="286.50" font-size="8.4" text-anchor="start" fill="#231f20" color="#231f20" >0</text>
<line x1="593.90" y1="284.20" x2="665.20" y2="284.20" stroke="#333" stroke-width="0.55" />
<path d="M664.70,283.10 L667.50,284.20 L664.70,285.30 Z" stroke="#333" stroke-width="0.2" fill="#333" />
<text x="668.30" y="286.50" font-size="8.5" text-anchor="start" fill="#231f20" color="#231f20" >0.15</text>
<text x="630.40" y="292.50" font-size="8.4" text-anchor="middle" fill="#231f20" color="#231f20" >CAS (μg/mL)</text>
<clipPath id="hc6"><rect x="347.50" y="314.20" width="95.50" height="63.30"/></clipPath>
<g clip-path="url(#hc6)">
<rect x="347.50" y="314.20" width="95.50" height="63.30" fill="#000" />
<rect x="347.50" y="314.20" width="8.66" height="8.61" fill="#000000" />
<rect x="355.46" y="314.20" width="8.66" height="8.61" fill="#000000" />
<rect x="363.42" y="314.20" width="8.66" height="8.61" fill="#000000" />
<rect x="371.38" y="314.20" width="8.66" height="8.61" fill="#000000" />
<rect x="379.33" y="314.20" width="8.66" height="8.61" fill="#000000" />
<rect x="387.29" y="314.20" width="8.66" height="8.61" fill="#000000" />
<rect x="395.25" y="314.20" width="8.66" height="8.61" fill="#000000" />
<rect x="403.21" y="314.20" width="8.66" height="8.61" fill="#000000" />
<rect x="411.17" y="314.20" width="8.66" height="8.61" fill="#000000" />
<rect x="419.12" y="314.20" width="8.66" height="8.61" fill="#000000" />
<rect x="427.08" y="314.20" width="8.66" height="8.61" fill="#000000" />
<rect x="435.04" y="314.20" width="8.66" height="8.61" fill="#000000" />
<rect x="347.50" y="322.11" width="8.66" height="8.61" fill="#000000" />
<rect x="355.46" y="322.11" width="8.66" height="8.61" fill="#000000" />
<rect x="363.42" y="322.11" width="8.66" height="8.61" fill="#000000" />
<rect x="371.38" y="322.11" width="8.66" height="8.61" fill="#000000" />
<rect x="379.33" y="322.11" width="8.66" height="8.61" fill="#000000" />
<rect x="387.29" y="322.11" width="8.66" height="8.61" fill="#000000" />
<rect x="395.25" y="322.11" width="8.66" height="8.61" fill="#000000" />
<rect x="403.21" y="322.11" width="8.66" height="8.61" fill="#000000" />
<rect x="411.17" y="322.11" width="8.66" height="8.61" fill="#000000" />
<rect x="419.12" y="322.11" width="8.66" height="8.61" fill="#000000" />
<rect x="427.08" y="322.11" width="8.66" height="8.61" fill="#000000" />
<rect x="435.04" y="322.11" width="8.66" height="8.61" fill="#000000" />
<rect x="347.50" y="330.02" width="8.66" height="8.61" fill="#80ca49" />
<rect x="355.46" y="330.02" width="8.66" height="8.61" fill="#87d44c" />
<rect x="363.42" y="330.02" width="8.66" height="8.61" fill="#87d44c" />
<rect x="371.38" y="330.02" width="8.66" height="8.61" fill="#73b541" />
<rect x="379.33" y="330.02" width="8.66" height="8.61" fill="#000000" />
<rect x="387.29" y="330.02" width="8.66" height="8.61" fill="#000000" />
<rect x="395.25" y="330.02" width="8.66" height="8.61" fill="#000000" />
<rect x="403.21" y="330.02" width="8.66" height="8.61" fill="#000000" />
<rect x="411.17" y="330.02" width="8.66" height="8.61" fill="#000000" />
<rect x="419.12" y="330.02" width="8.66" height="8.61" fill="#000000" />
<rect x="427.08" y="330.02" width="8.66" height="8.61" fill="#000000" />
<rect x="435.04" y="330.02" width="8.66" height="8.61" fill="#000000" />
<rect x="347.50" y="337.94" width="8.66" height="8.61" fill="#94e854" />
<rect x="355.46" y="337.94" width="8.66" height="8.61" fill="#94e854" />
<rect x="363.42" y="337.94" width="8.66" height="8.61" fill="#94e854" />
<rect x="371.38" y="337.94" width="8.66" height="8.61" fill="#8dde50" />
<rect x="379.33" y="337.94" width="8.66" height="8.61" fill="#18260d" />
<rect x="387.29" y="337.94" width="8.66" height="8.61" fill="#000000" />
<rect x="395.25" y="337.94" width="8.66" height="8.61" fill="#000000" />
<rect x="403.21" y="337.94" width="8.66" height="8.61" fill="#000000" />
<rect x="411.17" y="337.94" width="8.66" height="8.61" fill="#000000" />
<rect x="419.12" y="337.94" width="8.66" height="8.61" fill="#040702" />
<rect x="427.08" y="337.94" width="8.66" height="8.61" fill="#000000" />
<rect x="435.04" y="337.94" width="8.66" height="8.61" fill="#000000" />
<rect x="347.50" y="345.85" width="8.66" height="8.61" fill="#94e854" />
<rect x="355.46" y="345.85" width="8.66" height="8.61" fill="#94e854" />
<rect x="363.42" y="345.85" width="8.66" height="8.61" fill="#94e854" />
<rect x="371.38" y="345.85" width="8.66" height="8.61" fill="#8dde50" />
<rect x="379.33" y="345.85" width="8.66" height="8.61" fill="#18260d" />
<rect x="387.29" y="345.85" width="8.66" height="8.61" fill="#000000" />
<rect x="395.25" y="345.85" width="8.66" height="8.61" fill="#000000" />
<rect x="403.21" y="345.85" width="8.66" height="8.61" fill="#000000" />
<rect x="411.17" y="345.85" width="8.66" height="8.61" fill="#000000" />
<rect x="419.12" y="345.85" width="8.66" height="8.61" fill="#000000" />
<rect x="427.08" y="345.85" width="8.66" height="8.61" fill="#000000" />
<rect x="435.04" y="345.85" width="8.66" height="8.61" fill="#000000" />
<rect x="347.50" y="353.76" width="8.66" height="8.61" fill="#94e854" />
<rect x="355.46" y="353.76" width="8.66" height="8.61" fill="#91e452" />
<rect x="363.42" y="353.76" width="8.66" height="8.61" fill="#94e854" />
<rect x="371.38" y="353.76" width="8.66" height="8.61" fill="#8dde50" />
<rect x="379.33" y="353.76" width="8.66" height="8.61" fill="#203312" />
<rect x="387.29" y="353.76" width="8.66" height="8.61" fill="#000000" />
<rect x="395.25" y="353.76" width="8.66" height="8.61" fill="#000000" />
<rect x="403.21" y="353.76" width="8.66" height="8.61" fill="#000000" />
<rect x="411.17" y="353.76" width="8.66" height="8.61" fill="#000000" />
<rect x="419.12" y="353.76" width="8.66" height="8.61" fill="#000000" />
<rect x="427.08" y="353.76" width="8.66" height="8.61" fill="#000000" />
<rect x="435.04" y="353.76" width="8.66" height="8.61" fill="#000000" />
<rect x="347.50" y="361.67" width="8.66" height="8.61" fill="#94e854" />
<rect x="355.46" y="361.67" width="8.66" height="8.61" fill="#91e452" />
<rect x="363.42" y="361.67" width="8.66" height="8.61" fill="#94e854" />
<rect x="371.38" y="361.67" width="8.66" height="8.61" fill="#8dde50" />
<rect x="379.33" y="361.67" width="8.66" height="8.61" fill="#203312" />
<rect x="387.29" y="361.67" width="8.66" height="8.61" fill="#000000" />
<rect x="395.25" y="361.67" width="8.66" height="8.61" fill="#000000" />
<rect x="403.21" y="361.67" width="8.66" height="8.61" fill="#000000" />
<rect x="411.17" y="361.67" width="8.66" height="8.61" fill="#000000" />
<rect x="419.12" y="361.67" width="8.66" height="8.61" fill="#000000" />
<rect x="427.08" y="361.67" width="8.66" height="8.61" fill="#000000" />
<rect x="435.04" y="361.67" width="8.66" height="8.61" fill="#000000" />
<rect x="347.50" y="369.59" width="8.66" height="8.61" fill="#94e854" />
<rect x="355.46" y="369.59" width="8.66" height="8.61" fill="#94e854" />
<rect x="363.42" y="369.59" width="8.66" height="8.61" fill="#94e854" />
<rect x="371.38" y="369.59" width="8.66" height="8.61" fill="#8dde50" />
<rect x="379.33" y="369.59" width="8.66" height="8.61" fill="#4b752a" />
<rect x="387.29" y="369.59" width="8.66" height="8.61" fill="#040702" />
<rect x="395.25" y="369.59" width="8.66" height="8.61" fill="#000000" />
<rect x="403.21" y="369.59" width="8.66" height="8.61" fill="#000000" />
<rect x="411.17" y="369.59" width="8.66" height="8.61" fill="#000000" />
<rect x="419.12" y="369.59" width="8.66" height="8.61" fill="#000000" />
<rect x="427.08" y="369.59" width="8.66" height="8.61" fill="#000000" />
<rect x="435.04" y="369.59" width="8.66" height="8.61" fill="#000000" />
</g>
<rect x="347.50" y="314.20" width="95.50" height="63.30" fill="none" stroke="#222" stroke-width="0.5"/>
<text x="392.50" y="311.00" font-size="8.4" text-anchor="middle" fill="#231f20" color="#231f20" >CBS12372: <tspan font-family="Noto Serif CJK SC, Liberation Serif, serif">Ⅱ</tspan></text>
<text x="441.40" y="322.50" font-size="7.1" text-anchor="end" fill="#f2f2f2" color="#f2f2f2" >0.75</text>
<text x="345.70" y="320.60" font-size="8.2" text-anchor="end" fill="#231f20" color="#231f20" >4</text>
<text x="345.70" y="377.60" font-size="8.2" text-anchor="end" fill="#231f20" color="#231f20" >0</text>
<line x1="343.70" y1="324.70" x2="343.70" y2="372.00" stroke="#333" stroke-width="0.55" />
<path d="M342.60,325.70 L343.70,322.80 L344.80,325.70 Z" stroke="#333" stroke-width="0.2" fill="#333" />
<text x="338.50" y="346.70" font-size="8.3" text-anchor="middle" fill="#231f20" color="#231f20" transform="rotate(-90 338.50 346.70)" >CPTH<tspan font-size="62%" dy="0.9">2</tspan><tspan dy="-0.9"></tspan> (μM)</text>
<text x="348.30" y="385.50" font-size="8.4" text-anchor="start" fill="#231f20" color="#231f20" >0</text>
<line x1="355.70" y1="383.20" x2="427.00" y2="383.20" stroke="#333" stroke-width="0.55" />
<path d="M426.50,382.10 L429.30,383.20 L426.50,384.30 Z" stroke="#333" stroke-width="0.2" fill="#333" />
<text x="430.10" y="385.50" font-size="8.5" text-anchor="start" fill="#231f20" color="#231f20" >0.15</text>
<text x="392.20" y="391.50" font-size="8.4" text-anchor="middle" fill="#231f20" color="#231f20" >CAS (μg/mL)</text>
<clipPath id="hc7"><rect x="466.60" y="314.20" width="95.50" height="63.30"/></clipPath>
<g clip-path="url(#hc7)">
<rect x="466.60" y="314.20" width="95.50" height="63.30" fill="#000" />
<rect x="466.60" y="314.20" width="8.66" height="8.61" fill="#000000" />
<rect x="474.56" y="314.20" width="8.66" height="8.61" fill="#000000" />
<rect x="482.52" y="314.20" width="8.66" height="8.61" fill="#000000" />
<rect x="490.48" y="314.20" width="8.66" height="8.61" fill="#000000" />
<rect x="498.43" y="314.20" width="8.66" height="8.61" fill="#000000" />
<rect x="506.39" y="314.20" width="8.66" height="8.61" fill="#000000" />
<rect x="514.35" y="314.20" width="8.66" height="8.61" fill="#000000" />
<rect x="522.31" y="314.20" width="8.66" height="8.61" fill="#000000" />
<rect x="530.27" y="314.20" width="8.66" height="8.61" fill="#000000" />
<rect x="538.23" y="314.20" width="8.66" height="8.61" fill="#000000" />
<rect x="546.18" y="314.20" width="8.66" height="8.61" fill="#000000" />
<rect x="554.14" y="314.20" width="8.66" height="8.61" fill="#000000" />
<rect x="466.60" y="322.11" width="8.66" height="8.61" fill="#000000" />
<rect x="474.56" y="322.11" width="8.66" height="8.61" fill="#000000" />
<rect x="482.52" y="322.11" width="8.66" height="8.61" fill="#000000" />
<rect x="490.48" y="322.11" width="8.66" height="8.61" fill="#000000" />
<rect x="498.43" y="322.11" width="8.66" height="8.61" fill="#000000" />
<rect x="506.39" y="322.11" width="8.66" height="8.61" fill="#000000" />
<rect x="514.35" y="322.11" width="8.66" height="8.61" fill="#000000" />
<rect x="522.31" y="322.11" width="8.66" height="8.61" fill="#000000" />
<rect x="530.27" y="322.11" width="8.66" height="8.61" fill="#040702" />
<rect x="538.23" y="322.11" width="8.66" height="8.61" fill="#000000" />
<rect x="546.18" y="322.11" width="8.66" height="8.61" fill="#000000" />
<rect x="554.14" y="322.11" width="8.66" height="8.61" fill="#000000" />
<rect x="466.60" y="330.02" width="8.66" height="8.61" fill="#7abf45" />
<rect x="474.56" y="330.02" width="8.66" height="8.61" fill="#73b541" />
<rect x="482.52" y="330.02" width="8.66" height="8.61" fill="#6dab3e" />
<rect x="490.48" y="330.02" width="8.66" height="8.61" fill="#598b32" />
<rect x="498.43" y="330.02" width="8.66" height="8.61" fill="#080c04" />
<rect x="506.39" y="330.02" width="8.66" height="8.61" fill="#000000" />
<rect x="514.35" y="330.02" width="8.66" height="8.61" fill="#000000" />
<rect x="522.31" y="330.02" width="8.66" height="8.61" fill="#000000" />
<rect x="530.27" y="330.02" width="8.66" height="8.61" fill="#000000" />
<rect x="538.23" y="330.02" width="8.66" height="8.61" fill="#000000" />
<rect x="546.18" y="330.02" width="8.66" height="8.61" fill="#000000" />
<rect x="554.14" y="330.02" width="8.66" height="8.61" fill="#000000" />
<rect x="466.60" y="337.94" width="8.66" height="8.61" fill="#94e854" />
<rect x="474.56" y="337.94" width="8.66" height="8.61" fill="#8dde50" />
<rect x="482.52" y="337.94" width="8.66" height="8.61" fill="#8dde50" />
<rect x="490.48" y="337.94" width="8.66" height="8.61" fill="#87d44c" />
<rect x="498.43" y="337.94" width="8.66" height="8.61" fill="#598b32" />
<rect x="506.39" y="337.94" width="8.66" height="8.61" fill="#040702" />
<rect x="514.35" y="337.94" width="8.66" height="8.61" fill="#000000" />
<rect x="522.31" y="337.94" width="8.66" height="8.61" fill="#000000" />
<rect x="530.27" y="337.94" width="8.66" height="8.61" fill="#000000" />
<rect x="538.23" y="337.94" width="8.66" height="8.61" fill="#000000" />
<rect x="546.18" y="337.94" width="8.66" height="8.61" fill="#000000" />
<rect x="554.14" y="337.94" width="8.66" height="8.61" fill="#000000" />
<rect x="466.60" y="345.85" width="8.66" height="8.61" fill="#94e854" />
<rect x="474.56" y="345.85" width="8.66" height="8.61" fill="#91e452" />
<rect x="482.52" y="345.85" width="8.66" height="8.61" fill="#94e854" />
<rect x="490.48" y="345.85" width="8.66" height="8.61" fill="#91e452" />
<rect x="498.43" y="345.85" width="8.66" height="8.61" fill="#66a03a" />
<rect x="506.39" y="345.85" width="8.66" height="8.61" fill="#040702" />
<rect x="514.35" y="345.85" width="8.66" height="8.61" fill="#000000" />
<rect x="522.31" y="345.85" width="8.66" height="8.61" fill="#000000" />
<rect x="530.27" y="345.85" width="8.66" height="8.61" fill="#000000" />
<rect x="538.23" y="345.85" width="8.66" height="8.61" fill="#000000" />
<rect x="546.18" y="345.85" width="8.66" height="8.61" fill="#000000" />
<rect x="554.14" y="345.85" width="8.66" height="8.61" fill="#000000" />
<rect x="466.60" y="353.76" width="8.66" height="8.61" fill="#94e854" />
<rect x="474.56" y="353.76" width="8.66" height="8.61" fill="#91e452" />
<rect x="482.52" y="353.76" width="8.66" height="8.61" fill="#94e854" />
<rect x="490.48" y="353.76" width="8.66" height="8.61" fill="#91e452" />
<rect x="498.43" y="353.76" width="8.66" height="8.61" fill="#6dab3e" />
<rect x="506.39" y="353.76" width="8.66" height="8.61" fill="#040702" />
<rect x="514.35" y="353.76" width="8.66" height="8.61" fill="#000000" />
<rect x="522.31" y="353.76" width="8.66" height="8.61" fill="#000000" />
<rect x="530.27" y="353.76" width="8.66" height="8.61" fill="#000000" />
<rect x="538.23" y="353.76" width="8.66" height="8.61" fill="#000000" />
<rect x="546.18" y="353.76" width="8.66" height="8.61" fill="#000000" />
<rect x="554.14" y="353.76" width="8.66" height="8.61" fill="#000000" />
<rect x="466.60" y="361.67" width="8.66" height="8.61" fill="#94e854" />
<rect x="474.56" y="361.67" width="8.66" height="8.61" fill="#91e452" />
<rect x="482.52" y="361.67" width="8.66" height="8.61" fill="#91e452" />
<rect x="490.48" y="361.67" width="8.66" height="8.61" fill="#91e452" />
<rect x="498.43" y="361.67" width="8.66" height="8.61" fill="#66a03a" />
<rect x="506.39" y="361.67" width="8.66" height="8.61" fill="#080c04" />
<rect x="514.35" y="361.67" width="8.66" height="8.61" fill="#000000" />
<rect x="522.31" y="361.67" width="8.66" height="8.61" fill="#000000" />
<rect x="530.27" y="361.67" width="8.66" height="8.61" fill="#000000" />
<rect x="538.23" y="361.67" width="8.66" height="8.61" fill="#000000" />
<rect x="546.18" y="361.67" width="8.66" height="8.61" fill="#000000" />
<rect x="554.14" y="361.67" width="8.66" height="8.61" fill="#000000" />
<rect x="466.60" y="369.59" width="8.66" height="8.61" fill="#94e854" />
<rect x="474.56" y="369.59" width="8.66" height="8.61" fill="#91e452" />
<rect x="482.52" y="369.59" width="8.66" height="8.61" fill="#94e854" />
<rect x="490.48" y="369.59" width="8.66" height="8.61" fill="#91e452" />
<rect x="498.43" y="369.59" width="8.66" height="8.61" fill="#7abf45" />
<rect x="506.39" y="369.59" width="8.66" height="8.61" fill="#000000" />
<rect x="514.35" y="369.59" width="8.66" height="8.61" fill="#000000" />
<rect x="522.31" y="369.59" width="8.66" height="8.61" fill="#000000" />
<rect x="530.27" y="369.59" width="8.66" height="8.61" fill="#000000" />
<rect x="538.23" y="369.59" width="8.66" height="8.61" fill="#000000" />
<rect x="546.18" y="369.59" width="8.66" height="8.61" fill="#000000" />
<rect x="554.14" y="369.59" width="8.66" height="8.61" fill="#000000" />
</g>
<rect x="466.60" y="314.20" width="95.50" height="63.30" fill="none" stroke="#222" stroke-width="0.5"/>
<text x="511.60" y="311.00" font-size="8.4" text-anchor="middle" fill="#231f20" color="#231f20" >CBS10913: <tspan font-family="Noto Serif CJK SC, Liberation Serif, serif">Ⅱ</tspan></text>
<text x="560.50" y="322.50" font-size="7.1" text-anchor="end" fill="#f2f2f2" color="#f2f2f2" >1</text>
<text x="464.80" y="320.60" font-size="8.2" text-anchor="end" fill="#231f20" color="#231f20" >4</text>
<text x="464.80" y="377.60" font-size="8.2" text-anchor="end" fill="#231f20" color="#231f20" >0</text>
<line x1="462.80" y1="324.70" x2="462.80" y2="372.00" stroke="#333" stroke-width="0.55" />
<path d="M461.70,325.70 L462.80,322.80 L463.90,325.70 Z" stroke="#333" stroke-width="0.2" fill="#333" />
<text x="457.60" y="346.70" font-size="8.3" text-anchor="middle" fill="#231f20" color="#231f20" transform="rotate(-90 457.60 346.70)" >CPTH<tspan font-size="62%" dy="0.9">2</tspan><tspan dy="-0.9"></tspan> (μM)</text>
<text x="467.40" y="385.50" font-size="8.4" text-anchor="start" fill="#231f20" color="#231f20" >0</text>
<line x1="474.80" y1="383.20" x2="546.10" y2="383.20" stroke="#333" stroke-width="0.55" />
<path d="M545.60,382.10 L548.40,383.20 L545.60,384.30 Z" stroke="#333" stroke-width="0.2" fill="#333" />
<text x="549.20" y="385.50" font-size="8.5" text-anchor="start" fill="#231f20" color="#231f20" >0.15</text>
<text x="511.30" y="391.50" font-size="8.4" text-anchor="middle" fill="#231f20" color="#231f20" >CAS (μg/mL)</text>
<clipPath id="hc8"><rect x="585.70" y="314.20" width="95.50" height="63.30"/></clipPath>
<g clip-path="url(#hc8)">
<rect x="585.70" y="314.20" width="95.50" height="63.30" fill="#000" />
<rect x="585.70" y="314.20" width="8.66" height="8.61" fill="#2d4719" />
<rect x="593.66" y="314.20" width="8.66" height="8.61" fill="#18260d" />
<rect x="601.62" y="314.20" width="8.66" height="8.61" fill="#18260d" />
<rect x="609.58" y="314.20" width="8.66" height="8.61" fill="#080c04" />
<rect x="617.53" y="314.20" width="8.66" height="8.61" fill="#080c04" />
<rect x="625.49" y="314.20" width="8.66" height="8.61" fill="#2d4719" />
<rect x="633.45" y="314.20" width="8.66" height="8.61" fill="#000000" />
<rect x="641.41" y="314.20" width="8.66" height="8.61" fill="#000000" />
<rect x="649.37" y="314.20" width="8.66" height="8.61" fill="#000000" />
<rect x="657.33" y="314.20" width="8.66" height="8.61" fill="#000000" />
<rect x="665.28" y="314.20" width="8.66" height="8.61" fill="#000000" />
<rect x="673.24" y="314.20" width="8.66" height="8.61" fill="#000000" />
<rect x="585.70" y="322.11" width="8.66" height="8.61" fill="#66a03a" />
<rect x="593.66" y="322.11" width="8.66" height="8.61" fill="#5f9636" />
<rect x="601.62" y="322.11" width="8.66" height="8.61" fill="#598b32" />
<rect x="609.58" y="322.11" width="8.66" height="8.61" fill="#52802e" />
<rect x="617.53" y="322.11" width="8.66" height="8.61" fill="#4b752a" />
<rect x="625.49" y="322.11" width="8.66" height="8.61" fill="#0d1407" />
<rect x="633.45" y="322.11" width="8.66" height="8.61" fill="#000000" />
<rect x="641.41" y="322.11" width="8.66" height="8.61" fill="#000000" />
<rect x="649.37" y="322.11" width="8.66" height="8.61" fill="#000000" />
<rect x="657.33" y="322.11" width="8.66" height="8.61" fill="#000000" />
<rect x="665.28" y="322.11" width="8.66" height="8.61" fill="#000000" />
<rect x="673.24" y="322.11" width="8.66" height="8.61" fill="#000000" />
<rect x="585.70" y="330.02" width="8.66" height="8.61" fill="#87d44c" />
<rect x="593.66" y="330.02" width="8.66" height="8.61" fill="#7abf45" />
<rect x="601.62" y="330.02" width="8.66" height="8.61" fill="#73b541" />
<rect x="609.58" y="330.02" width="8.66" height="8.61" fill="#73b541" />
<rect x="617.53" y="330.02" width="8.66" height="8.61" fill="#73b541" />
<rect x="625.49" y="330.02" width="8.66" height="8.61" fill="#436a26" />
<rect x="633.45" y="330.02" width="8.66" height="8.61" fill="#040702" />
<rect x="641.41" y="330.02" width="8.66" height="8.61" fill="#040702" />
<rect x="649.37" y="330.02" width="8.66" height="8.61" fill="#040702" />
<rect x="657.33" y="330.02" width="8.66" height="8.61" fill="#040702" />
<rect x="665.28" y="330.02" width="8.66" height="8.61" fill="#080c04" />
<rect x="673.24" y="330.02" width="8.66" height="8.61" fill="#080c04" />
<rect x="585.70" y="337.94" width="8.66" height="8.61" fill="#8dde50" />
<rect x="593.66" y="337.94" width="8.66" height="8.61" fill="#87d44c" />
<rect x="601.62" y="337.94" width="8.66" height="8.61" fill="#87d44c" />
<rect x="609.58" y="337.94" width="8.66" height="8.61" fill="#87d44c" />
<rect x="617.53" y="337.94" width="8.66" height="8.61" fill="#87d44c" />
<rect x="625.49" y="337.94" width="8.66" height="8.61" fill="#6dab3e" />
<rect x="633.45" y="337.94" width="8.66" height="8.61" fill="#101909" />
<rect x="641.41" y="337.94" width="8.66" height="8.61" fill="#080c04" />
<rect x="649.37" y="337.94" width="8.66" height="8.61" fill="#080c04" />
<rect x="657.33" y="337.94" width="8.66" height="8.61" fill="#0d1407" />
<rect x="665.28" y="337.94" width="8.66" height="8.61" fill="#0d1407" />
<rect x="673.24" y="337.94" width="8.66" height="8.61" fill="#0d1407" />
<rect x="585.70" y="345.85" width="8.66" height="8.61" fill="#8dde50" />
<rect x="593.66" y="345.85" width="8.66" height="8.61" fill="#87d44c" />
<rect x="601.62" y="345.85" width="8.66" height="8.61" fill="#87d44c" />
<rect x="609.58" y="345.85" width="8.66" height="8.61" fill="#8dde50" />
<rect x="617.53" y="345.85" width="8.66" height="8.61" fill="#87d44c" />
<rect x="625.49" y="345.85" width="8.66" height="8.61" fill="#7abf45" />
<rect x="633.45" y="345.85" width="8.66" height="8.61" fill="#203312" />
<rect x="641.41" y="345.85" width="8.66" height="8.61" fill="#080c04" />
<rect x="649.37" y="345.85" width="8.66" height="8.61" fill="#080c04" />
<rect x="657.33" y="345.85" width="8.66" height="8.61" fill="#0d1407" />
<rect x="665.28" y="345.85" width="8.66" height="8.61" fill="#0d1407" />
<rect x="673.24" y="345.85" width="8.66" height="8.61" fill="#101909" />
<rect x="585.70" y="353.76" width="8.66" height="8.61" fill="#8dde50" />
<rect x="593.66" y="353.76" width="8.66" height="8.61" fill="#8dde50" />
<rect x="601.62" y="353.76" width="8.66" height="8.61" fill="#87d44c" />
<rect x="609.58" y="353.76" width="8.66" height="8.61" fill="#8dde50" />
<rect x="617.53" y="353.76" width="8.66" height="8.61" fill="#87d44c" />
<rect x="625.49" y="353.76" width="8.66" height="8.61" fill="#80ca49" />
<rect x="633.45" y="353.76" width="8.66" height="8.61" fill="#436a26" />
<rect x="641.41" y="353.76" width="8.66" height="8.61" fill="#080c04" />
<rect x="649.37" y="353.76" width="8.66" height="8.61" fill="#0d1407" />
<rect x="657.33" y="353.76" width="8.66" height="8.61" fill="#0d1407" />
<rect x="665.28" y="353.76" width="8.66" height="8.61" fill="#131e0b" />
<rect x="673.24" y="353.76" width="8.66" height="8.61" fill="#131e0b" />
<rect x="585.70" y="361.67" width="8.66" height="8.61" fill="#8dde50" />
<rect x="593.66" y="361.67" width="8.66" height="8.61" fill="#87d44c" />
<rect x="601.62" y="361.67" width="8.66" height="8.61" fill="#87d44c" />
<rect x="609.58" y="361.67" width="8.66" height="8.61" fill="#87d44c" />
<rect x="617.53" y="361.67" width="8.66" height="8.61" fill="#87d44c" />
<rect x="625.49" y="361.67" width="8.66" height="8.61" fill="#80ca49" />
<rect x="633.45" y="361.67" width="8.66" height="8.61" fill="#4b752a" />
<rect x="641.41" y="361.67" width="8.66" height="8.61" fill="#080c04" />
<rect x="649.37" y="361.67" width="8.66" height="8.61" fill="#080c04" />
<rect x="657.33" y="361.67" width="8.66" height="8.61" fill="#0d1407" />
<rect x="665.28" y="361.67" width="8.66" height="8.61" fill="#101909" />
<rect x="673.24" y="361.67" width="8.66" height="8.61" fill="#131e0b" />
<rect x="585.70" y="369.59" width="8.66" height="8.61" fill="#94e854" />
<rect x="593.66" y="369.59" width="8.66" height="8.61" fill="#94e854" />
<rect x="601.62" y="369.59" width="8.66" height="8.61" fill="#8dde50" />
<rect x="609.58" y="369.59" width="8.66" height="8.61" fill="#8dde50" />
<rect x="617.53" y="369.59" width="8.66" height="8.61" fill="#8dde50" />
<rect x="625.49" y="369.59" width="8.66" height="8.61" fill="#8dde50" />
<rect x="633.45" y="369.59" width="8.66" height="8.61" fill="#598b32" />
<rect x="641.41" y="369.59" width="8.66" height="8.61" fill="#18260d" />
<rect x="649.37" y="369.59" width="8.66" height="8.61" fill="#101909" />
<rect x="657.33" y="369.59" width="8.66" height="8.61" fill="#0d1407" />
<rect x="665.28" y="369.59" width="8.66" height="8.61" fill="#0d1407" />
<rect x="673.24" y="369.59" width="8.66" height="8.61" fill="#131e0b" />
</g>
<rect x="585.70" y="314.20" width="95.50" height="63.30" fill="none" stroke="#222" stroke-width="0.5"/>
<text x="630.70" y="311.00" font-size="8.4" text-anchor="middle" fill="#231f20" color="#231f20" >RICU2: <tspan font-family="Noto Serif CJK SC, Liberation Serif, serif">Ⅲ</tspan></text>
<text x="679.60" y="322.50" font-size="7.1" text-anchor="end" fill="#f2f2f2" color="#f2f2f2" >0.375</text>
<text x="583.90" y="320.60" font-size="8.2" text-anchor="end" fill="#231f20" color="#231f20" >4</text>
<text x="583.90" y="377.60" font-size="8.2" text-anchor="end" fill="#231f20" color="#231f20" >0</text>
<line x1="581.90" y1="324.70" x2="581.90" y2="372.00" stroke="#333" stroke-width="0.55" />
<path d="M580.80,325.70 L581.90,322.80 L583.00,325.70 Z" stroke="#333" stroke-width="0.2" fill="#333" />
<text x="576.70" y="346.70" font-size="8.3" text-anchor="middle" fill="#231f20" color="#231f20" transform="rotate(-90 576.70 346.70)" >CPTH<tspan font-size="62%" dy="0.9">2</tspan><tspan dy="-0.9"></tspan> (μM)</text>
<text x="586.50" y="385.50" font-size="8.4" text-anchor="start" fill="#231f20" color="#231f20" >0</text>
<line x1="593.90" y1="383.20" x2="665.20" y2="383.20" stroke="#333" stroke-width="0.55" />
<path d="M664.70,382.10 L667.50,383.20 L664.70,384.30 Z" stroke="#333" stroke-width="0.2" fill="#333" />
<text x="668.30" y="385.50" font-size="8.5" text-anchor="start" fill="#231f20" color="#231f20" >0.15</text>
<text x="630.40" y="391.50" font-size="8.4" text-anchor="middle" fill="#231f20" color="#231f20" >CAS (μg/mL)</text>
<clipPath id="hc9"><rect x="347.50" y="412.50" width="95.50" height="63.30"/></clipPath>
<g clip-path="url(#hc9)">
<rect x="347.50" y="412.50" width="95.50" height="63.30" fill="#000" />
<rect x="347.50" y="412.50" width="8.66" height="8.61" fill="#18260d" />
<rect x="355.46" y="412.50" width="8.66" height="8.61" fill="#101909" />
<rect x="363.42" y="412.50" width="8.66" height="8.61" fill="#0d1407" />
<rect x="371.38" y="412.50" width="8.66" height="8.61" fill="#080c04" />
<rect x="379.33" y="412.50" width="8.66" height="8.61" fill="#040702" />
<rect x="387.29" y="412.50" width="8.66" height="8.61" fill="#000000" />
<rect x="395.25" y="412.50" width="8.66" height="8.61" fill="#000000" />
<rect x="403.21" y="412.50" width="8.66" height="8.61" fill="#000000" />
<rect x="411.17" y="412.50" width="8.66" height="8.61" fill="#000000" />
<rect x="419.12" y="412.50" width="8.66" height="8.61" fill="#000000" />
<rect x="427.08" y="412.50" width="8.66" height="8.61" fill="#000000" />
<rect x="435.04" y="412.50" width="8.66" height="8.61" fill="#000000" />
<rect x="347.50" y="420.41" width="8.66" height="8.61" fill="#66a03a" />
<rect x="355.46" y="420.41" width="8.66" height="8.61" fill="#5f9636" />
<rect x="363.42" y="420.41" width="8.66" height="8.61" fill="#598b32" />
<rect x="371.38" y="420.41" width="8.66" height="8.61" fill="#52802e" />
<rect x="379.33" y="420.41" width="8.66" height="8.61" fill="#3c5f22" />
<rect x="387.29" y="420.41" width="8.66" height="8.61" fill="#040702" />
<rect x="395.25" y="420.41" width="8.66" height="8.61" fill="#000000" />
<rect x="403.21" y="420.41" width="8.66" height="8.61" fill="#000000" />
<rect x="411.17" y="420.41" width="8.66" height="8.61" fill="#000000" />
<rect x="419.12" y="420.41" width="8.66" height="8.61" fill="#000000" />
<rect x="427.08" y="420.41" width="8.66" height="8.61" fill="#000000" />
<rect x="435.04" y="420.41" width="8.66" height="8.61" fill="#000000" />
<rect x="347.50" y="428.32" width="8.66" height="8.61" fill="#87d44c" />
<rect x="355.46" y="428.32" width="8.66" height="8.61" fill="#7abf45" />
<rect x="363.42" y="428.32" width="8.66" height="8.61" fill="#7abf45" />
<rect x="371.38" y="428.32" width="8.66" height="8.61" fill="#7abf45" />
<rect x="379.33" y="428.32" width="8.66" height="8.61" fill="#73b541" />
<rect x="387.29" y="428.32" width="8.66" height="8.61" fill="#203312" />
<rect x="395.25" y="428.32" width="8.66" height="8.61" fill="#000000" />
<rect x="403.21" y="428.32" width="8.66" height="8.61" fill="#000000" />
<rect x="411.17" y="428.32" width="8.66" height="8.61" fill="#000000" />
<rect x="419.12" y="428.32" width="8.66" height="8.61" fill="#000000" />
<rect x="427.08" y="428.32" width="8.66" height="8.61" fill="#000000" />
<rect x="435.04" y="428.32" width="8.66" height="8.61" fill="#040702" />
<rect x="347.50" y="436.24" width="8.66" height="8.61" fill="#8dde50" />
<rect x="355.46" y="436.24" width="8.66" height="8.61" fill="#87d44c" />
<rect x="363.42" y="436.24" width="8.66" height="8.61" fill="#87d44c" />
<rect x="371.38" y="436.24" width="8.66" height="8.61" fill="#87d44c" />
<rect x="379.33" y="436.24" width="8.66" height="8.61" fill="#80ca49" />
<rect x="387.29" y="436.24" width="8.66" height="8.61" fill="#598b32" />
<rect x="395.25" y="436.24" width="8.66" height="8.61" fill="#101909" />
<rect x="403.21" y="436.24" width="8.66" height="8.61" fill="#000000" />
<rect x="411.17" y="436.24" width="8.66" height="8.61" fill="#000000" />
<rect x="419.12" y="436.24" width="8.66" height="8.61" fill="#080c04" />
<rect x="427.08" y="436.24" width="8.66" height="8.61" fill="#080c04" />
<rect x="435.04" y="436.24" width="8.66" height="8.61" fill="#080c04" />
<rect x="347.50" y="444.15" width="8.66" height="8.61" fill="#8dde50" />
<rect x="355.46" y="444.15" width="8.66" height="8.61" fill="#87d44c" />
<rect x="363.42" y="444.15" width="8.66" height="8.61" fill="#87d44c" />
<rect x="371.38" y="444.15" width="8.66" height="8.61" fill="#87d44c" />
<rect x="379.33" y="444.15" width="8.66" height="8.61" fill="#87d44c" />
<rect x="387.29" y="444.15" width="8.66" height="8.61" fill="#6dab3e" />
<rect x="395.25" y="444.15" width="8.66" height="8.61" fill="#203312" />
<rect x="403.21" y="444.15" width="8.66" height="8.61" fill="#040702" />
<rect x="411.17" y="444.15" width="8.66" height="8.61" fill="#080c04" />
<rect x="419.12" y="444.15" width="8.66" height="8.61" fill="#0d1407" />
<rect x="427.08" y="444.15" width="8.66" height="8.61" fill="#0d1407" />
<rect x="435.04" y="444.15" width="8.66" height="8.61" fill="#0d1407" />
<rect x="347.50" y="452.06" width="8.66" height="8.61" fill="#94e854" />
<rect x="355.46" y="452.06" width="8.66" height="8.61" fill="#8dde50" />
<rect x="363.42" y="452.06" width="8.66" height="8.61" fill="#8dde50" />
<rect x="371.38" y="452.06" width="8.66" height="8.61" fill="#8dde50" />
<rect x="379.33" y="452.06" width="8.66" height="8.61" fill="#8dde50" />
<rect x="387.29" y="452.06" width="8.66" height="8.61" fill="#7abf45" />
<rect x="395.25" y="452.06" width="8.66" height="8.61" fill="#35531e" />
<rect x="403.21" y="452.06" width="8.66" height="8.61" fill="#040702" />
<rect x="411.17" y="452.06" width="8.66" height="8.61" fill="#080c04" />
<rect x="419.12" y="452.06" width="8.66" height="8.61" fill="#0d1407" />
<rect x="427.08" y="452.06" width="8.66" height="8.61" fill="#0d1407" />
<rect x="435.04" y="452.06" width="8.66" height="8.61" fill="#0d1407" />
<rect x="347.50" y="459.98" width="8.66" height="8.61" fill="#8dde50" />
<rect x="355.46" y="459.98" width="8.66" height="8.61" fill="#8dde50" />
<rect x="363.42" y="459.98" width="8.66" height="8.61" fill="#8dde50" />
<rect x="371.38" y="459.98" width="8.66" height="8.61" fill="#8dde50" />
<rect x="379.33" y="459.98" width="8.66" height="8.61" fill="#8dde50" />
<rect x="387.29" y="459.98" width="8.66" height="8.61" fill="#7abf45" />
<rect x="395.25" y="459.98" width="8.66" height="8.61" fill="#4b752a" />
<rect x="403.21" y="459.98" width="8.66" height="8.61" fill="#040702" />
<rect x="411.17" y="459.98" width="8.66" height="8.61" fill="#080c04" />
<rect x="419.12" y="459.98" width="8.66" height="8.61" fill="#0d1407" />
<rect x="427.08" y="459.98" width="8.66" height="8.61" fill="#0d1407" />
<rect x="435.04" y="459.98" width="8.66" height="8.61" fill="#0d1407" />
<rect x="347.50" y="467.89" width="8.66" height="8.61" fill="#94e854" />
<rect x="355.46" y="467.89" width="8.66" height="8.61" fill="#94e854" />
<rect x="363.42" y="467.89" width="8.66" height="8.61" fill="#8dde50" />
<rect x="371.38" y="467.89" width="8.66" height="8.61" fill="#8dde50" />
<rect x="379.33" y="467.89" width="8.66" height="8.61" fill="#8dde50" />
<rect x="387.29" y="467.89" width="8.66" height="8.61" fill="#87d44c" />
<rect x="395.25" y="467.89" width="8.66" height="8.61" fill="#598b32" />
<rect x="403.21" y="467.89" width="8.66" height="8.61" fill="#18260d" />
<rect x="411.17" y="467.89" width="8.66" height="8.61" fill="#080c04" />
<rect x="419.12" y="467.89" width="8.66" height="8.61" fill="#080c04" />
<rect x="427.08" y="467.89" width="8.66" height="8.61" fill="#0d1407" />
<rect x="435.04" y="467.89" width="8.66" height="8.61" fill="#101909" />
</g>
<rect x="347.50" y="412.50" width="95.50" height="63.30" fill="none" stroke="#222" stroke-width="0.5"/>
<text x="392.50" y="409.30" font-size="8.4" text-anchor="middle" fill="#231f20" color="#231f20" >BJCA002: <tspan font-family="Noto Serif CJK SC, Liberation Serif, serif">Ⅲ</tspan></text>
<text x="441.40" y="420.80" font-size="7.1" text-anchor="end" fill="#f2f2f2" color="#f2f2f2" >0.375</text>
<text x="345.70" y="418.90" font-size="8.2" text-anchor="end" fill="#231f20" color="#231f20" >4</text>
<text x="345.70" y="475.90" font-size="8.2" text-anchor="end" fill="#231f20" color="#231f20" >0</text>
<line x1="343.70" y1="423.00" x2="343.70" y2="470.30" stroke="#333" stroke-width="0.55" />
<path d="M342.60,424.00 L343.70,421.10 L344.80,424.00 Z" stroke="#333" stroke-width="0.2" fill="#333" />
<text x="338.50" y="445.00" font-size="8.3" text-anchor="middle" fill="#231f20" color="#231f20" transform="rotate(-90 338.50 445.00)" >CPTH<tspan font-size="62%" dy="0.9">2</tspan><tspan dy="-0.9"></tspan> (μM)</text>
<text x="348.30" y="483.80" font-size="8.4" text-anchor="start" fill="#231f20" color="#231f20" >0</text>
<line x1="355.70" y1="481.50" x2="427.00" y2="481.50" stroke="#333" stroke-width="0.55" />
<path d="M426.50,480.40 L429.30,481.50 L426.50,482.60 Z" stroke="#333" stroke-width="0.2" fill="#333" />
<text x="430.10" y="483.80" font-size="8.5" text-anchor="start" fill="#231f20" color="#231f20" >0.15</text>
<text x="392.20" y="489.80" font-size="8.4" text-anchor="middle" fill="#231f20" color="#231f20" >CAS (μg/mL)</text>
<clipPath id="hc10"><rect x="466.60" y="412.50" width="95.50" height="63.30"/></clipPath>
<g clip-path="url(#hc10)">
<rect x="466.60" y="412.50" width="95.50" height="63.30" fill="#000" />
<rect x="466.60" y="412.50" width="8.66" height="8.61" fill="#436a26" />
<rect x="474.56" y="412.50" width="8.66" height="8.61" fill="#35531e" />
<rect x="482.52" y="412.50" width="8.66" height="8.61" fill="#2d4719" />
<rect x="490.48" y="412.50" width="8.66" height="8.61" fill="#203312" />
<rect x="498.43" y="412.50" width="8.66" height="8.61" fill="#101909" />
<rect x="506.39" y="412.50" width="8.66" height="8.61" fill="#000000" />
<rect x="514.35" y="412.50" width="8.66" height="8.61" fill="#000000" />
<rect x="522.31" y="412.50" width="8.66" height="8.61" fill="#000000" />
<rect x="530.27" y="412.50" width="8.66" height="8.61" fill="#000000" />
<rect x="538.23" y="412.50" width="8.66" height="8.61" fill="#000000" />
<rect x="546.18" y="412.50" width="8.66" height="8.61" fill="#000000" />
<rect x="554.14" y="412.50" width="8.66" height="8.61" fill="#000000" />
<rect x="466.60" y="420.41" width="8.66" height="8.61" fill="#73b541" />
<rect x="474.56" y="420.41" width="8.66" height="8.61" fill="#6dab3e" />
<rect x="482.52" y="420.41" width="8.66" height="8.61" fill="#6dab3e" />
<rect x="490.48" y="420.41" width="8.66" height="8.61" fill="#66a03a" />
<rect x="498.43" y="420.41" width="8.66" height="8.61" fill="#598b32" />
<rect x="506.39" y="420.41" width="8.66" height="8.61" fill="#18260d" />
<rect x="514.35" y="420.41" width="8.66" height="8.61" fill="#000000" />
<rect x="522.31" y="420.41" width="8.66" height="8.61" fill="#000000" />
<rect x="530.27" y="420.41" width="8.66" height="8.61" fill="#000000" />
<rect x="538.23" y="420.41" width="8.66" height="8.61" fill="#000000" />
<rect x="546.18" y="420.41" width="8.66" height="8.61" fill="#000000" />
<rect x="554.14" y="420.41" width="8.66" height="8.61" fill="#000000" />
<rect x="466.60" y="428.32" width="8.66" height="8.61" fill="#80ca49" />
<rect x="474.56" y="428.32" width="8.66" height="8.61" fill="#80ca49" />
<rect x="482.52" y="428.32" width="8.66" height="8.61" fill="#87d44c" />
<rect x="490.48" y="428.32" width="8.66" height="8.61" fill="#80ca49" />
<rect x="498.43" y="428.32" width="8.66" height="8.61" fill="#80ca49" />
<rect x="506.39" y="428.32" width="8.66" height="8.61" fill="#66a03a" />
<rect x="514.35" y="428.32" width="8.66" height="8.61" fill="#0d1407" />
<rect x="522.31" y="428.32" width="8.66" height="8.61" fill="#000000" />
<rect x="530.27" y="428.32" width="8.66" height="8.61" fill="#000000" />
<rect x="538.23" y="428.32" width="8.66" height="8.61" fill="#040702" />
<rect x="546.18" y="428.32" width="8.66" height="8.61" fill="#040702" />
<rect x="554.14" y="428.32" width="8.66" height="8.61" fill="#080c04" />
<rect x="466.60" y="436.24" width="8.66" height="8.61" fill="#8dde50" />
<rect x="474.56" y="436.24" width="8.66" height="8.61" fill="#87d44c" />
<rect x="482.52" y="436.24" width="8.66" height="8.61" fill="#8dde50" />
<rect x="490.48" y="436.24" width="8.66" height="8.61" fill="#8dde50" />
<rect x="498.43" y="436.24" width="8.66" height="8.61" fill="#8dde50" />
<rect x="506.39" y="436.24" width="8.66" height="8.61" fill="#7abf45" />
<rect x="514.35" y="436.24" width="8.66" height="8.61" fill="#35531e" />
<rect x="522.31" y="436.24" width="8.66" height="8.61" fill="#040702" />
<rect x="530.27" y="436.24" width="8.66" height="8.61" fill="#040702" />
<rect x="538.23" y="436.24" width="8.66" height="8.61" fill="#080c04" />
<rect x="546.18" y="436.24" width="8.66" height="8.61" fill="#080c04" />
<rect x="554.14" y="436.24" width="8.66" height="8.61" fill="#080c04" />
<rect x="466.60" y="444.15" width="8.66" height="8.61" fill="#8dde50" />
<rect x="474.56" y="444.15" width="8.66" height="8.61" fill="#87d44c" />
<rect x="482.52" y="444.15" width="8.66" height="8.61" fill="#8dde50" />
<rect x="490.48" y="444.15" width="8.66" height="8.61" fill="#8dde50" />
<rect x="498.43" y="444.15" width="8.66" height="8.61" fill="#8dde50" />
<rect x="506.39" y="444.15" width="8.66" height="8.61" fill="#80ca49" />
<rect x="514.35" y="444.15" width="8.66" height="8.61" fill="#5f9636" />
<rect x="522.31" y="444.15" width="8.66" height="8.61" fill="#101909" />
<rect x="530.27" y="444.15" width="8.66" height="8.61" fill="#080c04" />
<rect x="538.23" y="444.15" width="8.66" height="8.61" fill="#080c04" />
<rect x="546.18" y="444.15" width="8.66" height="8.61" fill="#080c04" />
<rect x="554.14" y="444.15" width="8.66" height="8.61" fill="#0d1407" />
<rect x="466.60" y="452.06" width="8.66" height="8.61" fill="#8dde50" />
<rect x="474.56" y="452.06" width="8.66" height="8.61" fill="#87d44c" />
<rect x="482.52" y="452.06" width="8.66" height="8.61" fill="#8dde50" />
<rect x="490.48" y="452.06" width="8.66" height="8.61" fill="#91e452" />
<rect x="498.43" y="452.06" width="8.66" height="8.61" fill="#8dde50" />
<rect x="506.39" y="452.06" width="8.66" height="8.61" fill="#87d44c" />
<rect x="514.35" y="452.06" width="8.66" height="8.61" fill="#66a03a" />
<rect x="522.31" y="452.06" width="8.66" height="8.61" fill="#18260d" />
<rect x="530.27" y="452.06" width="8.66" height="8.61" fill="#080c04" />
<rect x="538.23" y="452.06" width="8.66" height="8.61" fill="#080c04" />
<rect x="546.18" y="452.06" width="8.66" height="8.61" fill="#080c04" />
<rect x="554.14" y="452.06" width="8.66" height="8.61" fill="#0d1407" />
<rect x="466.60" y="459.98" width="8.66" height="8.61" fill="#8dde50" />
<rect x="474.56" y="459.98" width="8.66" height="8.61" fill="#87d44c" />
<rect x="482.52" y="459.98" width="8.66" height="8.61" fill="#8dde50" />
<rect x="490.48" y="459.98" width="8.66" height="8.61" fill="#8dde50" />
<rect x="498.43" y="459.98" width="8.66" height="8.61" fill="#8dde50" />
<rect x="506.39" y="459.98" width="8.66" height="8.61" fill="#87d44c" />
<rect x="514.35" y="459.98" width="8.66" height="8.61" fill="#66a03a" />
<rect x="522.31" y="459.98" width="8.66" height="8.61" fill="#18260d" />
<rect x="530.27" y="459.98" width="8.66" height="8.61" fill="#080c04" />
<rect x="538.23" y="459.98" width="8.66" height="8.61" fill="#080c04" />
<rect x="546.18" y="459.98" width="8.66" height="8.61" fill="#080c04" />
<rect x="554.14" y="459.98" width="8.66" height="8.61" fill="#0d1407" />
<rect x="466.60" y="467.89" width="8.66" height="8.61" fill="#8dde50" />
<rect x="474.56" y="467.89" width="8.66" height="8.61" fill="#87d44c" />
<rect x="482.52" y="467.89" width="8.66" height="8.61" fill="#8dde50" />
<rect x="490.48" y="467.89" width="8.66" height="8.61" fill="#8dde50" />
<rect x="498.43" y="467.89" width="8.66" height="8.61" fill="#8dde50" />
<rect x="506.39" y="467.89" width="8.66" height="8.61" fill="#87d44c" />
<rect x="514.35" y="467.89" width="8.66" height="8.61" fill="#6dab3e" />
<rect x="522.31" y="467.89" width="8.66" height="8.61" fill="#35531e" />
<rect x="530.27" y="467.89" width="8.66" height="8.61" fill="#080c04" />
<rect x="538.23" y="467.89" width="8.66" height="8.61" fill="#080c04" />
<rect x="546.18" y="467.89" width="8.66" height="8.61" fill="#080c04" />
<rect x="554.14" y="467.89" width="8.66" height="8.61" fill="#080c04" />
</g>
<rect x="466.60" y="412.50" width="95.50" height="63.30" fill="none" stroke="#222" stroke-width="0.5"/>
<text x="511.60" y="409.30" font-size="8.4" text-anchor="middle" fill="#231f20" color="#231f20" >B11221: <tspan font-family="Noto Serif CJK SC, Liberation Serif, serif">Ⅲ</tspan></text>
<text x="560.50" y="420.80" font-size="7.1" text-anchor="end" fill="#f2f2f2" color="#f2f2f2" >0.313</text>
<text x="464.80" y="418.90" font-size="8.2" text-anchor="end" fill="#231f20" color="#231f20" >4</text>
<text x="464.80" y="475.90" font-size="8.2" text-anchor="end" fill="#231f20" color="#231f20" >0</text>
<line x1="462.80" y1="423.00" x2="462.80" y2="470.30" stroke="#333" stroke-width="0.55" />
<path d="M461.70,424.00 L462.80,421.10 L463.90,424.00 Z" stroke="#333" stroke-width="0.2" fill="#333" />
<text x="457.60" y="445.00" font-size="8.3" text-anchor="middle" fill="#231f20" color="#231f20" transform="rotate(-90 457.60 445.00)" >CPTH<tspan font-size="62%" dy="0.9">2</tspan><tspan dy="-0.9"></tspan> (μM)</text>
<text x="467.40" y="483.80" font-size="8.4" text-anchor="start" fill="#231f20" color="#231f20" >0</text>
<line x1="474.80" y1="481.50" x2="546.10" y2="481.50" stroke="#333" stroke-width="0.55" />
<path d="M545.60,480.40 L548.40,481.50 L545.60,482.60 Z" stroke="#333" stroke-width="0.2" fill="#333" />
<text x="549.20" y="483.80" font-size="8.5" text-anchor="start" fill="#231f20" color="#231f20" >0.15</text>
<text x="511.30" y="489.80" font-size="8.4" text-anchor="middle" fill="#231f20" color="#231f20" >CAS (μg/mL)</text>
<clipPath id="hc11"><rect x="585.70" y="412.50" width="95.50" height="63.30"/></clipPath>
<g clip-path="url(#hc11)">
<rect x="585.70" y="412.50" width="95.50" height="63.30" fill="#000" />
<rect x="585.70" y="412.50" width="8.66" height="8.61" fill="#000000" />
<rect x="593.66" y="412.50" width="8.66" height="8.61" fill="#080c04" />
<rect x="601.62" y="412.50" width="8.66" height="8.61" fill="#000000" />
<rect x="609.58" y="412.50" width="8.66" height="8.61" fill="#000000" />
<rect x="617.53" y="412.50" width="8.66" height="8.61" fill="#000000" />
<rect x="625.49" y="412.50" width="8.66" height="8.61" fill="#000000" />
<rect x="633.45" y="412.50" width="8.66" height="8.61" fill="#000000" />
<rect x="641.41" y="412.50" width="8.66" height="8.61" fill="#000000" />
<rect x="649.37" y="412.50" width="8.66" height="8.61" fill="#000000" />
<rect x="657.33" y="412.50" width="8.66" height="8.61" fill="#000000" />
<rect x="665.28" y="412.50" width="8.66" height="8.61" fill="#000000" />
<rect x="673.24" y="412.50" width="8.66" height="8.61" fill="#000000" />
<rect x="585.70" y="420.41" width="8.66" height="8.61" fill="#000000" />
<rect x="593.66" y="420.41" width="8.66" height="8.61" fill="#000000" />
<rect x="601.62" y="420.41" width="8.66" height="8.61" fill="#080c04" />
<rect x="609.58" y="420.41" width="8.66" height="8.61" fill="#000000" />
<rect x="617.53" y="420.41" width="8.66" height="8.61" fill="#000000" />
<rect x="625.49" y="420.41" width="8.66" height="8.61" fill="#000000" />
<rect x="633.45" y="420.41" width="8.66" height="8.61" fill="#000000" />
<rect x="641.41" y="420.41" width="8.66" height="8.61" fill="#000000" />
<rect x="649.37" y="420.41" width="8.66" height="8.61" fill="#000000" />
<rect x="657.33" y="420.41" width="8.66" height="8.61" fill="#000000" />
<rect x="665.28" y="420.41" width="8.66" height="8.61" fill="#000000" />
<rect x="673.24" y="420.41" width="8.66" height="8.61" fill="#000000" />
<rect x="585.70" y="428.32" width="8.66" height="8.61" fill="#6dab3e" />
<rect x="593.66" y="428.32" width="8.66" height="8.61" fill="#6dab3e" />
<rect x="601.62" y="428.32" width="8.66" height="8.61" fill="#598b32" />
<rect x="609.58" y="428.32" width="8.66" height="8.61" fill="#52802e" />
<rect x="617.53" y="428.32" width="8.66" height="8.61" fill="#2d4719" />
<rect x="625.49" y="428.32" width="8.66" height="8.61" fill="#000000" />
<rect x="633.45" y="428.32" width="8.66" height="8.61" fill="#000000" />
<rect x="641.41" y="428.32" width="8.66" height="8.61" fill="#000000" />
<rect x="649.37" y="428.32" width="8.66" height="8.61" fill="#000000" />
<rect x="657.33" y="428.32" width="8.66" height="8.61" fill="#000000" />
<rect x="665.28" y="428.32" width="8.66" height="8.61" fill="#000000" />
<rect x="673.24" y="428.32" width="8.66" height="8.61" fill="#000000" />
<rect x="585.70" y="436.24" width="8.66" height="8.61" fill="#87d44c" />
<rect x="593.66" y="436.24" width="8.66" height="8.61" fill="#80ca49" />
<rect x="601.62" y="436.24" width="8.66" height="8.61" fill="#7abf45" />
<rect x="609.58" y="436.24" width="8.66" height="8.61" fill="#7abf45" />
<rect x="617.53" y="436.24" width="8.66" height="8.61" fill="#73b541" />
<rect x="625.49" y="436.24" width="8.66" height="8.61" fill="#35531e" />
<rect x="633.45" y="436.24" width="8.66" height="8.61" fill="#000000" />
<rect x="641.41" y="436.24" width="8.66" height="8.61" fill="#000000" />
<rect x="649.37" y="436.24" width="8.66" height="8.61" fill="#000000" />
<rect x="657.33" y="436.24" width="8.66" height="8.61" fill="#000000" />
<rect x="665.28" y="436.24" width="8.66" height="8.61" fill="#000000" />
<rect x="673.24" y="436.24" width="8.66" height="8.61" fill="#000000" />
<rect x="585.70" y="444.15" width="8.66" height="8.61" fill="#8dde50" />
<rect x="593.66" y="444.15" width="8.66" height="8.61" fill="#80ca49" />
<rect x="601.62" y="444.15" width="8.66" height="8.61" fill="#8dde50" />
<rect x="609.58" y="444.15" width="8.66" height="8.61" fill="#8dde50" />
<rect x="617.53" y="444.15" width="8.66" height="8.61" fill="#87d44c" />
<rect x="625.49" y="444.15" width="8.66" height="8.61" fill="#5f9636" />
<rect x="633.45" y="444.15" width="8.66" height="8.61" fill="#040702" />
<rect x="641.41" y="444.15" width="8.66" height="8.61" fill="#000000" />
<rect x="649.37" y="444.15" width="8.66" height="8.61" fill="#000000" />
<rect x="657.33" y="444.15" width="8.66" height="8.61" fill="#080c04" />
<rect x="665.28" y="444.15" width="8.66" height="8.61" fill="#000000" />
<rect x="673.24" y="444.15" width="8.66" height="8.61" fill="#000000" />
<rect x="585.70" y="452.06" width="8.66" height="8.61" fill="#91e452" />
<rect x="593.66" y="452.06" width="8.66" height="8.61" fill="#8dde50" />
<rect x="601.62" y="452.06" width="8.66" height="8.61" fill="#8dde50" />
<rect x="609.58" y="452.06" width="8.66" height="8.61" fill="#8dde50" />
<rect x="617.53" y="452.06" width="8.66" height="8.61" fill="#8dde50" />
<rect x="625.49" y="452.06" width="8.66" height="8.61" fill="#80ca49" />
<rect x="633.45" y="452.06" width="8.66" height="8.61" fill="#3c5f22" />
<rect x="641.41" y="452.06" width="8.66" height="8.61" fill="#000000" />
<rect x="649.37" y="452.06" width="8.66" height="8.61" fill="#000000" />
<rect x="657.33" y="452.06" width="8.66" height="8.61" fill="#000000" />
<rect x="665.28" y="452.06" width="8.66" height="8.61" fill="#000000" />
<rect x="673.24" y="452.06" width="8.66" height="8.61" fill="#000000" />
<rect x="585.70" y="459.98" width="8.66" height="8.61" fill="#91e452" />
<rect x="593.66" y="459.98" width="8.66" height="8.61" fill="#8dde50" />
<rect x="601.62" y="459.98" width="8.66" height="8.61" fill="#8dde50" />
<rect x="609.58" y="459.98" width="8.66" height="8.61" fill="#8dde50" />
<rect x="617.53" y="459.98" width="8.66" height="8.61" fill="#8dde50" />
<rect x="625.49" y="459.98" width="8.66" height="8.61" fill="#80ca49" />
<rect x="633.45" y="459.98" width="8.66" height="8.61" fill="#5f9636" />
<rect x="641.41" y="459.98" width="8.66" height="8.61" fill="#101909" />
<rect x="649.37" y="459.98" width="8.66" height="8.61" fill="#000000" />
<rect x="657.33" y="459.98" width="8.66" height="8.61" fill="#000000" />
<rect x="665.28" y="459.98" width="8.66" height="8.61" fill="#000000" />
<rect x="673.24" y="459.98" width="8.66" height="8.61" fill="#000000" />
<rect x="585.70" y="467.89" width="8.66" height="8.61" fill="#8dde50" />
<rect x="593.66" y="467.89" width="8.66" height="8.61" fill="#8dde50" />
<rect x="601.62" y="467.89" width="8.66" height="8.61" fill="#8dde50" />
<rect x="609.58" y="467.89" width="8.66" height="8.61" fill="#8dde50" />
<rect x="617.53" y="467.89" width="8.66" height="8.61" fill="#8dde50" />
<rect x="625.49" y="467.89" width="8.66" height="8.61" fill="#8dde50" />
<rect x="633.45" y="467.89" width="8.66" height="8.61" fill="#73b541" />
<rect x="641.41" y="467.89" width="8.66" height="8.61" fill="#3c5f22" />
<rect x="649.37" y="467.89" width="8.66" height="8.61" fill="#000000" />
<rect x="657.33" y="467.89" width="8.66" height="8.61" fill="#000000" />
<rect x="665.28" y="467.89" width="8.66" height="8.61" fill="#000000" />
<rect x="673.24" y="467.89" width="8.66" height="8.61" fill="#000000" />
</g>
<rect x="585.70" y="412.50" width="95.50" height="63.30" fill="none" stroke="#222" stroke-width="0.5"/>
<text x="630.70" y="409.30" font-size="8.4" text-anchor="middle" fill="#231f20" color="#231f20" >B11244: <tspan font-family="Noto Serif CJK SC, Liberation Serif, serif">Ⅳ</tspan></text>
<text x="679.60" y="420.80" font-size="7.1" text-anchor="end" fill="#f2f2f2" color="#f2f2f2" >0.25</text>
<text x="583.90" y="418.90" font-size="8.2" text-anchor="end" fill="#231f20" color="#231f20" >4</text>
<text x="583.90" y="475.90" font-size="8.2" text-anchor="end" fill="#231f20" color="#231f20" >0</text>
<line x1="581.90" y1="423.00" x2="581.90" y2="470.30" stroke="#333" stroke-width="0.55" />
<path d="M580.80,424.00 L581.90,421.10 L583.00,424.00 Z" stroke="#333" stroke-width="0.2" fill="#333" />
<text x="576.70" y="445.00" font-size="8.3" text-anchor="middle" fill="#231f20" color="#231f20" transform="rotate(-90 576.70 445.00)" >CPTH<tspan font-size="62%" dy="0.9">2</tspan><tspan dy="-0.9"></tspan> (μM)</text>
<text x="586.50" y="483.80" font-size="8.4" text-anchor="start" fill="#231f20" color="#231f20" >0</text>
<line x1="593.90" y1="481.50" x2="665.20" y2="481.50" stroke="#333" stroke-width="0.55" />
<path d="M664.70,480.40 L667.50,481.50 L664.70,482.60 Z" stroke="#333" stroke-width="0.2" fill="#333" />
<text x="668.30" y="483.80" font-size="8.5" text-anchor="start" fill="#231f20" color="#231f20" >0.15</text>
<text x="630.40" y="489.80" font-size="8.4" text-anchor="middle" fill="#231f20" color="#231f20" >CAS (μg/mL)</text>
<clipPath id="hc12"><rect x="347.50" y="508.40" width="95.50" height="63.30"/></clipPath>
<g clip-path="url(#hc12)">
<rect x="347.50" y="508.40" width="95.50" height="63.30" fill="#000" />
<rect x="347.50" y="508.40" width="8.66" height="8.61" fill="#080c04" />
<rect x="355.46" y="508.40" width="8.66" height="8.61" fill="#040702" />
<rect x="363.42" y="508.40" width="8.66" height="8.61" fill="#040702" />
<rect x="371.38" y="508.40" width="8.66" height="8.61" fill="#040702" />
<rect x="379.33" y="508.40" width="8.66" height="8.61" fill="#101909" />
<rect x="387.29" y="508.40" width="8.66" height="8.61" fill="#040702" />
<rect x="395.25" y="508.40" width="8.66" height="8.61" fill="#000000" />
<rect x="403.21" y="508.40" width="8.66" height="8.61" fill="#000000" />
<rect x="411.17" y="508.40" width="8.66" height="8.61" fill="#000000" />
<rect x="419.12" y="508.40" width="8.66" height="8.61" fill="#000000" />
<rect x="427.08" y="508.40" width="8.66" height="8.61" fill="#000000" />
<rect x="435.04" y="508.40" width="8.66" height="8.61" fill="#000000" />
<rect x="347.50" y="516.31" width="8.66" height="8.61" fill="#5f9636" />
<rect x="355.46" y="516.31" width="8.66" height="8.61" fill="#4b752a" />
<rect x="363.42" y="516.31" width="8.66" height="8.61" fill="#4b752a" />
<rect x="371.38" y="516.31" width="8.66" height="8.61" fill="#203312" />
<rect x="379.33" y="516.31" width="8.66" height="8.61" fill="#101909" />
<rect x="387.29" y="516.31" width="8.66" height="8.61" fill="#101909" />
<rect x="395.25" y="516.31" width="8.66" height="8.61" fill="#040702" />
<rect x="403.21" y="516.31" width="8.66" height="8.61" fill="#000000" />
<rect x="411.17" y="516.31" width="8.66" height="8.61" fill="#000000" />
<rect x="419.12" y="516.31" width="8.66" height="8.61" fill="#000000" />
<rect x="427.08" y="516.31" width="8.66" height="8.61" fill="#000000" />
<rect x="435.04" y="516.31" width="8.66" height="8.61" fill="#101909" />
<rect x="347.50" y="524.23" width="8.66" height="8.61" fill="#87d44c" />
<rect x="355.46" y="524.23" width="8.66" height="8.61" fill="#80ca49" />
<rect x="363.42" y="524.23" width="8.66" height="8.61" fill="#80ca49" />
<rect x="371.38" y="524.23" width="8.66" height="8.61" fill="#80ca49" />
<rect x="379.33" y="524.23" width="8.66" height="8.61" fill="#7abf45" />
<rect x="387.29" y="524.23" width="8.66" height="8.61" fill="#000000" />
<rect x="395.25" y="524.23" width="8.66" height="8.61" fill="#000000" />
<rect x="403.21" y="524.23" width="8.66" height="8.61" fill="#0d1407" />
<rect x="411.17" y="524.23" width="8.66" height="8.61" fill="#000000" />
<rect x="419.12" y="524.23" width="8.66" height="8.61" fill="#000000" />
<rect x="427.08" y="524.23" width="8.66" height="8.61" fill="#000000" />
<rect x="435.04" y="524.23" width="8.66" height="8.61" fill="#101909" />
<rect x="347.50" y="532.14" width="8.66" height="8.61" fill="#8dde50" />
<rect x="355.46" y="532.14" width="8.66" height="8.61" fill="#80ca49" />
<rect x="363.42" y="532.14" width="8.66" height="8.61" fill="#87d44c" />
<rect x="371.38" y="532.14" width="8.66" height="8.61" fill="#87d44c" />
<rect x="379.33" y="532.14" width="8.66" height="8.61" fill="#7abf45" />
<rect x="387.29" y="532.14" width="8.66" height="8.61" fill="#2d4719" />
<rect x="395.25" y="532.14" width="8.66" height="8.61" fill="#000000" />
<rect x="403.21" y="532.14" width="8.66" height="8.61" fill="#000000" />
<rect x="411.17" y="532.14" width="8.66" height="8.61" fill="#000000" />
<rect x="419.12" y="532.14" width="8.66" height="8.61" fill="#000000" />
<rect x="427.08" y="532.14" width="8.66" height="8.61" fill="#040702" />
<rect x="435.04" y="532.14" width="8.66" height="8.61" fill="#040702" />
<rect x="347.50" y="540.05" width="8.66" height="8.61" fill="#8dde50" />
<rect x="355.46" y="540.05" width="8.66" height="8.61" fill="#80ca49" />
<rect x="363.42" y="540.05" width="8.66" height="8.61" fill="#91e452" />
<rect x="371.38" y="540.05" width="8.66" height="8.61" fill="#87d44c" />
<rect x="379.33" y="540.05" width="8.66" height="8.61" fill="#7abf45" />
<rect x="387.29" y="540.05" width="8.66" height="8.61" fill="#203312" />
<rect x="395.25" y="540.05" width="8.66" height="8.61" fill="#080c04" />
<rect x="403.21" y="540.05" width="8.66" height="8.61" fill="#000000" />
<rect x="411.17" y="540.05" width="8.66" height="8.61" fill="#000000" />
<rect x="419.12" y="540.05" width="8.66" height="8.61" fill="#000000" />
<rect x="427.08" y="540.05" width="8.66" height="8.61" fill="#000000" />
<rect x="435.04" y="540.05" width="8.66" height="8.61" fill="#000000" />
<rect x="347.50" y="547.96" width="8.66" height="8.61" fill="#8dde50" />
<rect x="355.46" y="547.96" width="8.66" height="8.61" fill="#8dde50" />
<rect x="363.42" y="547.96" width="8.66" height="8.61" fill="#8dde50" />
<rect x="371.38" y="547.96" width="8.66" height="8.61" fill="#87d44c" />
<rect x="379.33" y="547.96" width="8.66" height="8.61" fill="#91e452" />
<rect x="387.29" y="547.96" width="8.66" height="8.61" fill="#5f9636" />
<rect x="395.25" y="547.96" width="8.66" height="8.61" fill="#000000" />
<rect x="403.21" y="547.96" width="8.66" height="8.61" fill="#000000" />
<rect x="411.17" y="547.96" width="8.66" height="8.61" fill="#000000" />
<rect x="419.12" y="547.96" width="8.66" height="8.61" fill="#000000" />
<rect x="427.08" y="547.96" width="8.66" height="8.61" fill="#000000" />
<rect x="435.04" y="547.96" width="8.66" height="8.61" fill="#000000" />
<rect x="347.50" y="555.88" width="8.66" height="8.61" fill="#8dde50" />
<rect x="355.46" y="555.88" width="8.66" height="8.61" fill="#7abf45" />
<rect x="363.42" y="555.88" width="8.66" height="8.61" fill="#91e452" />
<rect x="371.38" y="555.88" width="8.66" height="8.61" fill="#8dde50" />
<rect x="379.33" y="555.88" width="8.66" height="8.61" fill="#87d44c" />
<rect x="387.29" y="555.88" width="8.66" height="8.61" fill="#6dab3e" />
<rect x="395.25" y="555.88" width="8.66" height="8.61" fill="#000000" />
<rect x="403.21" y="555.88" width="8.66" height="8.61" fill="#000000" />
<rect x="411.17" y="555.88" width="8.66" height="8.61" fill="#000000" />
<rect x="419.12" y="555.88" width="8.66" height="8.61" fill="#000000" />
<rect x="427.08" y="555.88" width="8.66" height="8.61" fill="#000000" />
<rect x="435.04" y="555.88" width="8.66" height="8.61" fill="#000000" />
<rect x="347.50" y="563.79" width="8.66" height="8.61" fill="#87d44c" />
<rect x="355.46" y="563.79" width="8.66" height="8.61" fill="#87d44c" />
<rect x="363.42" y="563.79" width="8.66" height="8.61" fill="#87d44c" />
<rect x="371.38" y="563.79" width="8.66" height="8.61" fill="#80ca49" />
<rect x="379.33" y="563.79" width="8.66" height="8.61" fill="#87d44c" />
<rect x="387.29" y="563.79" width="8.66" height="8.61" fill="#7abf45" />
<rect x="395.25" y="563.79" width="8.66" height="8.61" fill="#0d1407" />
<rect x="403.21" y="563.79" width="8.66" height="8.61" fill="#040702" />
<rect x="411.17" y="563.79" width="8.66" height="8.61" fill="#000000" />
<rect x="419.12" y="563.79" width="8.66" height="8.61" fill="#000000" />
<rect x="427.08" y="563.79" width="8.66" height="8.61" fill="#000000" />
<rect x="435.04" y="563.79" width="8.66" height="8.61" fill="#000000" />
</g>
<rect x="347.50" y="508.40" width="95.50" height="63.30" fill="none" stroke="#222" stroke-width="0.5"/>
<text x="392.50" y="505.20" font-size="8.4" text-anchor="middle" fill="#231f20" color="#231f20" >AR1097: V</text>
<text x="441.40" y="516.70" font-size="7.1" text-anchor="end" fill="#f2f2f2" color="#f2f2f2" ><tspan font-family="Liberation Serif, serif">0.5</tspan></text>
<text x="345.70" y="514.80" font-size="8.2" text-anchor="end" fill="#231f20" color="#231f20" >4</text>
<text x="345.70" y="571.80" font-size="8.2" text-anchor="end" fill="#231f20" color="#231f20" >0</text>
<line x1="343.70" y1="518.90" x2="343.70" y2="566.20" stroke="#333" stroke-width="0.55" />
<path d="M342.60,519.90 L343.70,517.00 L344.80,519.90 Z" stroke="#333" stroke-width="0.2" fill="#333" />
<text x="338.50" y="540.90" font-size="8.3" text-anchor="middle" fill="#231f20" color="#231f20" transform="rotate(-90 338.50 540.90)" >CPTH<tspan font-size="62%" dy="0.9">2</tspan><tspan dy="-0.9"></tspan> (μM)</text>
<text x="348.30" y="579.70" font-size="8.4" text-anchor="start" fill="#231f20" color="#231f20" >0</text>
<line x1="355.70" y1="577.40" x2="427.00" y2="577.40" stroke="#333" stroke-width="0.55" />
<path d="M426.50,576.30 L429.30,577.40 L426.50,578.50 Z" stroke="#333" stroke-width="0.2" fill="#333" />
<text x="430.10" y="579.70" font-size="8.5" text-anchor="start" fill="#231f20" color="#231f20" >0.15</text>
<text x="392.20" y="585.70" font-size="8.4" text-anchor="middle" fill="#231f20" color="#231f20" >CAS (μg/mL)</text>
<rect x="346.70" y="591.30" width="3.80" height="6.10" fill="#060a03" />
<rect x="350.45" y="591.30" width="3.80" height="6.10" fill="#141f0b" />
<rect x="354.20" y="591.30" width="3.80" height="6.10" fill="#273d16" />
<rect x="357.95" y="591.30" width="3.80" height="6.10" fill="#33511d" />
<rect x="361.70" y="591.30" width="3.80" height="6.10" fill="#406424" />
<rect x="365.45" y="591.30" width="3.80" height="6.10" fill="#4c772b" />
<rect x="369.20" y="591.30" width="3.80" height="6.10" fill="#578931" />
<rect x="372.95" y="591.30" width="3.80" height="6.10" fill="#639b38" />
<rect x="376.70" y="591.30" width="3.80" height="6.10" fill="#6ead3e" />
<rect x="380.45" y="591.30" width="3.80" height="6.10" fill="#79be44" />
<rect x="384.20" y="591.30" width="3.80" height="6.10" fill="#84cf4a" />
<rect x="387.95" y="591.30" width="3.80" height="6.10" fill="#8edf51" />
<line x1="350.45" y1="592.10" x2="350.45" y2="596.60" stroke="#000" stroke-width="0.25" opacity="0.5"/>
<line x1="354.20" y1="592.10" x2="354.20" y2="596.60" stroke="#000" stroke-width="0.25" opacity="0.5"/>
<line x1="357.95" y1="592.10" x2="357.95" y2="596.60" stroke="#000" stroke-width="0.25" opacity="0.5"/>
<line x1="361.70" y1="592.10" x2="361.70" y2="596.60" stroke="#000" stroke-width="0.25" opacity="0.5"/>
<line x1="365.45" y1="592.10" x2="365.45" y2="596.60" stroke="#000" stroke-width="0.25" opacity="0.5"/>
<line x1="369.20" y1="592.10" x2="369.20" y2="596.60" stroke="#000" stroke-width="0.25" opacity="0.5"/>
<line x1="372.95" y1="592.10" x2="372.95" y2="596.60" stroke="#000" stroke-width="0.25" opacity="0.5"/>
<line x1="376.70" y1="592.10" x2="376.70" y2="596.60" stroke="#000" stroke-width="0.25" opacity="0.5"/>
<line x1="380.45" y1="592.10" x2="380.45" y2="596.60" stroke="#000" stroke-width="0.25" opacity="0.5"/>
<line x1="384.20" y1="592.10" x2="384.20" y2="596.60" stroke="#000" stroke-width="0.25" opacity="0.5"/>
<line x1="387.95" y1="592.10" x2="387.95" y2="596.60" stroke="#000" stroke-width="0.25" opacity="0.5"/>
<rect x="346.70" y="591.30" width="45.00" height="6.10" fill="none" stroke="#222" stroke-width="0.4"/>
<text x="369.20" y="602.80" font-size="5.4" text-anchor="middle" fill="#333" color="#333" textLength="42.0" lengthAdjust="spacingAndGlyphs">0.20.40.60.81.0</text>
<text x="344.30" y="610.60" font-size="7.0" text-anchor="start" fill="#231f20" color="#231f20" >Relative growth</text>
<clipPath id="hc13"><rect x="26.20" y="645.90" width="95.50" height="63.30"/></clipPath>
<g clip-path="url(#hc13)">
<rect x="26.20" y="645.90" width="95.50" height="63.30" fill="#000" />
<rect x="26.20" y="645.90" width="8.66" height="8.61" fill="#000000" />
<rect x="34.16" y="645.90" width="8.66" height="8.61" fill="#000000" />
<rect x="42.12" y="645.90" width="8.66" height="8.61" fill="#000000" />
<rect x="50.08" y="645.90" width="8.66" height="8.61" fill="#000000" />
<rect x="58.03" y="645.90" width="8.66" height="8.61" fill="#000000" />
<rect x="65.99" y="645.90" width="8.66" height="8.61" fill="#000000" />
<rect x="73.95" y="645.90" width="8.66" height="8.61" fill="#18260d" />
<rect x="81.91" y="645.90" width="8.66" height="8.61" fill="#000000" />
<rect x="89.87" y="645.90" width="8.66" height="8.61" fill="#000000" />
<rect x="97.83" y="645.90" width="8.66" height="8.61" fill="#18260d" />
<rect x="105.78" y="645.90" width="8.66" height="8.61" fill="#000000" />
<rect x="113.74" y="645.90" width="8.66" height="8.61" fill="#000000" />
<rect x="26.20" y="653.81" width="8.66" height="8.61" fill="#0d1407" />
<rect x="34.16" y="653.81" width="8.66" height="8.61" fill="#040702" />
<rect x="42.12" y="653.81" width="8.66" height="8.61" fill="#040702" />
<rect x="50.08" y="653.81" width="8.66" height="8.61" fill="#040702" />
<rect x="58.03" y="653.81" width="8.66" height="8.61" fill="#040702" />
<rect x="65.99" y="653.81" width="8.66" height="8.61" fill="#040702" />
<rect x="73.95" y="653.81" width="8.66" height="8.61" fill="#040702" />
<rect x="81.91" y="653.81" width="8.66" height="8.61" fill="#040702" />
<rect x="89.87" y="653.81" width="8.66" height="8.61" fill="#040702" />
<rect x="97.83" y="653.81" width="8.66" height="8.61" fill="#040702" />
<rect x="105.78" y="653.81" width="8.66" height="8.61" fill="#000000" />
<rect x="113.74" y="653.81" width="8.66" height="8.61" fill="#000000" />
<rect x="26.20" y="661.73" width="8.66" height="8.61" fill="#7abf45" />
<rect x="34.16" y="661.73" width="8.66" height="8.61" fill="#6dab3e" />
<rect x="42.12" y="661.73" width="8.66" height="8.61" fill="#6dab3e" />
<rect x="50.08" y="661.73" width="8.66" height="8.61" fill="#7abf45" />
<rect x="58.03" y="661.73" width="8.66" height="8.61" fill="#6dab3e" />
<rect x="65.99" y="661.73" width="8.66" height="8.61" fill="#66a03a" />
<rect x="73.95" y="661.73" width="8.66" height="8.61" fill="#52802e" />
<rect x="81.91" y="661.73" width="8.66" height="8.61" fill="#3c5f22" />
<rect x="89.87" y="661.73" width="8.66" height="8.61" fill="#4b752a" />
<rect x="97.83" y="661.73" width="8.66" height="8.61" fill="#35531e" />
<rect x="105.78" y="661.73" width="8.66" height="8.61" fill="#000000" />
<rect x="113.74" y="661.73" width="8.66" height="8.61" fill="#000000" />
<rect x="26.20" y="669.64" width="8.66" height="8.61" fill="#80ca49" />
<rect x="34.16" y="669.64" width="8.66" height="8.61" fill="#7abf45" />
<rect x="42.12" y="669.64" width="8.66" height="8.61" fill="#73b541" />
<rect x="50.08" y="669.64" width="8.66" height="8.61" fill="#91e452" />
<rect x="58.03" y="669.64" width="8.66" height="8.61" fill="#73b541" />
<rect x="65.99" y="669.64" width="8.66" height="8.61" fill="#6dab3e" />
<rect x="73.95" y="669.64" width="8.66" height="8.61" fill="#66a03a" />
<rect x="81.91" y="669.64" width="8.66" height="8.61" fill="#598b32" />
<rect x="89.87" y="669.64" width="8.66" height="8.61" fill="#6dab3e" />
<rect x="97.83" y="669.64" width="8.66" height="8.61" fill="#4b752a" />
<rect x="105.78" y="669.64" width="8.66" height="8.61" fill="#000000" />
<rect x="113.74" y="669.64" width="8.66" height="8.61" fill="#000000" />
<rect x="26.20" y="677.55" width="8.66" height="8.61" fill="#80ca49" />
<rect x="34.16" y="677.55" width="8.66" height="8.61" fill="#7abf45" />
<rect x="42.12" y="677.55" width="8.66" height="8.61" fill="#73b541" />
<rect x="50.08" y="677.55" width="8.66" height="8.61" fill="#73b541" />
<rect x="58.03" y="677.55" width="8.66" height="8.61" fill="#73b541" />
<rect x="65.99" y="677.55" width="8.66" height="8.61" fill="#6dab3e" />
<rect x="73.95" y="677.55" width="8.66" height="8.61" fill="#66a03a" />
<rect x="81.91" y="677.55" width="8.66" height="8.61" fill="#5f9636" />
<rect x="89.87" y="677.55" width="8.66" height="8.61" fill="#52802e" />
<rect x="97.83" y="677.55" width="8.66" height="8.61" fill="#2d4719" />
<rect x="105.78" y="677.55" width="8.66" height="8.61" fill="#000000" />
<rect x="113.74" y="677.55" width="8.66" height="8.61" fill="#000000" />
<rect x="26.20" y="685.46" width="8.66" height="8.61" fill="#80ca49" />
<rect x="34.16" y="685.46" width="8.66" height="8.61" fill="#7abf45" />
<rect x="42.12" y="685.46" width="8.66" height="8.61" fill="#73b541" />
<rect x="50.08" y="685.46" width="8.66" height="8.61" fill="#73b541" />
<rect x="58.03" y="685.46" width="8.66" height="8.61" fill="#73b541" />
<rect x="65.99" y="685.46" width="8.66" height="8.61" fill="#66a03a" />
<rect x="73.95" y="685.46" width="8.66" height="8.61" fill="#5f9636" />
<rect x="81.91" y="685.46" width="8.66" height="8.61" fill="#5f9636" />
<rect x="89.87" y="685.46" width="8.66" height="8.61" fill="#52802e" />
<rect x="97.83" y="685.46" width="8.66" height="8.61" fill="#2d4719" />
<rect x="105.78" y="685.46" width="8.66" height="8.61" fill="#000000" />
<rect x="113.74" y="685.46" width="8.66" height="8.61" fill="#000000" />
<rect x="26.20" y="693.38" width="8.66" height="8.61" fill="#80ca49" />
<rect x="34.16" y="693.38" width="8.66" height="8.61" fill="#7abf45" />
<rect x="42.12" y="693.38" width="8.66" height="8.61" fill="#73b541" />
<rect x="50.08" y="693.38" width="8.66" height="8.61" fill="#73b541" />
<rect x="58.03" y="693.38" width="8.66" height="8.61" fill="#6dab3e" />
<rect x="65.99" y="693.38" width="8.66" height="8.61" fill="#66a03a" />
<rect x="73.95" y="693.38" width="8.66" height="8.61" fill="#5f9636" />
<rect x="81.91" y="693.38" width="8.66" height="8.61" fill="#598b32" />
<rect x="89.87" y="693.38" width="8.66" height="8.61" fill="#4b752a" />
<rect x="97.83" y="693.38" width="8.66" height="8.61" fill="#203312" />
<rect x="105.78" y="693.38" width="8.66" height="8.61" fill="#000000" />
<rect x="113.74" y="693.38" width="8.66" height="8.61" fill="#000000" />
<rect x="26.20" y="701.29" width="8.66" height="8.61" fill="#80ca49" />
<rect x="34.16" y="701.29" width="8.66" height="8.61" fill="#7abf45" />
<rect x="42.12" y="701.29" width="8.66" height="8.61" fill="#7abf45" />
<rect x="50.08" y="701.29" width="8.66" height="8.61" fill="#73b541" />
<rect x="58.03" y="701.29" width="8.66" height="8.61" fill="#6dab3e" />
<rect x="65.99" y="701.29" width="8.66" height="8.61" fill="#66a03a" />
<rect x="73.95" y="701.29" width="8.66" height="8.61" fill="#5f9636" />
<rect x="81.91" y="701.29" width="8.66" height="8.61" fill="#52802e" />
<rect x="89.87" y="701.29" width="8.66" height="8.61" fill="#4b752a" />
<rect x="97.83" y="701.29" width="8.66" height="8.61" fill="#35531e" />
<rect x="105.78" y="701.29" width="8.66" height="8.61" fill="#000000" />
<rect x="113.74" y="701.29" width="8.66" height="8.61" fill="#000000" />
</g>
<rect x="26.20" y="645.90" width="95.50" height="63.30" fill="none" stroke="#222" stroke-width="0.5"/>
<text x="71.20" y="642.70" font-size="8.4" text-anchor="middle" fill="#231f20" color="#231f20" font-style="italic">gcn5Δ-2</text>
<text x="120.10" y="654.20" font-size="7.1" text-anchor="end" fill="#f2f2f2" color="#f2f2f2" >2</text>
<text x="24.40" y="652.30" font-size="8.2" text-anchor="end" fill="#231f20" color="#231f20" >4</text>
<text x="24.40" y="709.30" font-size="8.2" text-anchor="end" fill="#231f20" color="#231f20" >0</text>
<line x1="22.40" y1="656.40" x2="22.40" y2="703.70" stroke="#333" stroke-width="0.55" />
<path d="M21.30,657.40 L22.40,654.50 L23.50,657.40 Z" stroke="#333" stroke-width="0.2" fill="#333" />
<text x="17.20" y="678.40" font-size="8.3" text-anchor="middle" fill="#231f20" color="#231f20" transform="rotate(-90 17.20 678.40)" >CPTH<tspan font-size="62%" dy="0.9">2</tspan><tspan dy="-0.9"></tspan> (μM)</text>
<text x="27.00" y="717.20" font-size="8.4" text-anchor="start" fill="#231f20" color="#231f20" >0</text>
<line x1="34.40" y1="714.90" x2="107.50" y2="714.90" stroke="#333" stroke-width="0.55" />
<path d="M107.00,713.80 L109.80,714.90 L107.00,716.00 Z" stroke="#333" stroke-width="0.2" fill="#333" />
<text x="113.50" y="717.20" font-size="8.5" text-anchor="start" fill="#231f20" color="#231f20" >32</text>
<text x="70.90" y="723.20" font-size="8.4" text-anchor="middle" fill="#231f20" color="#231f20" >CAS (μg/mL)</text>
<rect x="26.00" y="727.50" width="3.77" height="5.80" fill="#060a03" />
<rect x="29.72" y="727.50" width="3.77" height="5.80" fill="#141f0b" />
<rect x="33.43" y="727.50" width="3.77" height="5.80" fill="#273d16" />
<rect x="37.15" y="727.50" width="3.77" height="5.80" fill="#33511d" />
<rect x="40.87" y="727.50" width="3.77" height="5.80" fill="#406424" />
<rect x="44.58" y="727.50" width="3.77" height="5.80" fill="#4c772b" />
<rect x="48.30" y="727.50" width="3.77" height="5.80" fill="#578931" />
<rect x="52.02" y="727.50" width="3.77" height="5.80" fill="#639b38" />
<rect x="55.73" y="727.50" width="3.77" height="5.80" fill="#6ead3e" />
<rect x="59.45" y="727.50" width="3.77" height="5.80" fill="#79be44" />
<rect x="63.17" y="727.50" width="3.77" height="5.80" fill="#84cf4a" />
<rect x="66.88" y="727.50" width="3.77" height="5.80" fill="#8edf51" />
<line x1="29.72" y1="728.30" x2="29.72" y2="732.50" stroke="#000" stroke-width="0.25" opacity="0.5"/>
<line x1="33.43" y1="728.30" x2="33.43" y2="732.50" stroke="#000" stroke-width="0.25" opacity="0.5"/>
<line x1="37.15" y1="728.30" x2="37.15" y2="732.50" stroke="#000" stroke-width="0.25" opacity="0.5"/>
<line x1="40.87" y1="728.30" x2="40.87" y2="732.50" stroke="#000" stroke-width="0.25" opacity="0.5"/>
<line x1="44.58" y1="728.30" x2="44.58" y2="732.50" stroke="#000" stroke-width="0.25" opacity="0.5"/>
<line x1="48.30" y1="728.30" x2="48.30" y2="732.50" stroke="#000" stroke-width="0.25" opacity="0.5"/>
<line x1="52.02" y1="728.30" x2="52.02" y2="732.50" stroke="#000" stroke-width="0.25" opacity="0.5"/>
<line x1="55.73" y1="728.30" x2="55.73" y2="732.50" stroke="#000" stroke-width="0.25" opacity="0.5"/>
<line x1="59.45" y1="728.30" x2="59.45" y2="732.50" stroke="#000" stroke-width="0.25" opacity="0.5"/>
<line x1="63.17" y1="728.30" x2="63.17" y2="732.50" stroke="#000" stroke-width="0.25" opacity="0.5"/>
<line x1="66.88" y1="728.30" x2="66.88" y2="732.50" stroke="#000" stroke-width="0.25" opacity="0.5"/>
<rect x="26.00" y="727.50" width="44.60" height="5.80" fill="none" stroke="#222" stroke-width="0.4"/>
<text x="48.30" y="738.70" font-size="5.4" text-anchor="middle" fill="#333" color="#333" textLength="41.6" lengthAdjust="spacingAndGlyphs">0.20.40.60.81.0</text>
<text x="25.00" y="746.50" font-size="7.0" text-anchor="start" fill="#231f20" color="#231f20" >Relative growth</text>
<filter id="bblur" x="-20%" y="-60%" width="140%" height="220%"><feGaussianBlur stdDeviation="0.65"/></filter>
<rect x="51.90" y="50.20" width="91.40" height="14.30" fill="#fdfdfd" stroke="#8a8282" stroke-width="0.8"/>
<g filter="url(#bblur)">
<linearGradient id="bg0" gradientUnits="userSpaceOnUse" x1="51.90" y1="0" x2="143.30" y2="0"><stop offset="0.100" stop-color="#000" stop-opacity="1.00"/><stop offset="0.200" stop-color="#000" stop-opacity="0.72"/><stop offset="0.300" stop-color="#000" stop-opacity="1.00"/><stop offset="0.400" stop-color="#000" stop-opacity="0.72"/><stop offset="0.500" stop-color="#000" stop-opacity="1.00"/><stop offset="0.600" stop-color="#000" stop-opacity="0.72"/><stop offset="0.700" stop-color="#000" stop-opacity="1.00"/><stop offset="0.800" stop-color="#000" stop-opacity="0.72"/><stop offset="0.900" stop-color="#000" stop-opacity="1.00"/></linearGradient>
<path d="M53.1,55.33 L54.6,55.33 L56.1,55.33 L57.6,55.33 L59.0,55.33 L60.5,55.33 L62.0,55.33 L63.5,55.33 L65.0,55.36 L66.5,55.49 L67.9,55.82 L69.4,56.18 L70.9,56.18 L72.4,55.84 L73.9,55.50 L75.4,55.36 L76.8,55.33 L78.3,55.33 L79.8,55.33 L81.3,55.33 L82.8,55.34 L84.3,55.42 L85.7,55.70 L87.2,56.09 L88.7,56.23 L90.2,55.97 L91.7,55.59 L93.2,55.38 L94.6,55.34 L96.1,55.33 L97.6,55.33 L99.1,55.33 L100.6,55.34 L102.1,55.38 L103.5,55.59 L105.0,55.97 L106.5,56.23 L108.0,56.09 L109.5,55.70 L111.0,55.42 L112.4,55.34 L113.9,55.33 L115.4,55.33 L116.9,55.33 L118.4,55.33 L119.9,55.36 L121.3,55.50 L122.8,55.84 L124.3,56.18 L125.8,56.18 L127.3,55.82 L128.8,55.49 L130.2,55.36 L131.7,55.33 L133.2,55.33 L134.7,55.33 L136.2,55.33 L137.7,55.33 L139.1,55.33 L140.6,55.33 L142.1,55.33 Q143.3,58.35 142.1,61.13 L140.6,61.13 L139.1,61.13 L137.7,61.13 L136.2,61.13 L134.7,61.13 L133.2,61.13 L131.7,61.13 L130.2,61.11 L128.8,60.99 L127.3,60.68 L125.8,60.35 L124.3,60.35 L122.8,60.67 L121.3,60.99 L119.9,61.11 L118.4,61.13 L116.9,61.13 L115.4,61.13 L113.9,61.13 L112.4,61.13 L111.0,61.05 L109.5,60.80 L108.0,60.44 L106.5,60.30 L105.0,60.55 L103.5,60.90 L102.1,61.09 L100.6,61.13 L99.1,61.13 L97.6,61.13 L96.1,61.13 L94.6,61.13 L93.2,61.09 L91.7,60.90 L90.2,60.55 L88.7,60.30 L87.2,60.44 L85.7,60.80 L84.3,61.05 L82.8,61.13 L81.3,61.13 L79.8,61.13 L78.3,61.13 L76.8,61.13 L75.4,61.11 L73.9,60.99 L72.4,60.67 L70.9,60.35 L69.4,60.35 L67.9,60.68 L66.5,60.99 L65.0,61.11 L63.5,61.13 L62.0,61.13 L60.5,61.13 L59.0,61.13 L57.6,61.13 L56.1,61.13 L54.6,61.13 L53.1,61.13 Q51.9,58.35 53.1,55.33 Z" fill="url(#bg0)"/>
</g>
<text x="50.90" y="60.55" font-size="8.5" text-anchor="end" fill="#231f20" color="#231f20" >H3K9Ac</text>
<text x="143.80" y="54.90" font-size="6.4" text-anchor="start" fill="#3a3a3a" color="#3a3a3a" >-15</text>
<rect x="51.90" y="65.60" width="91.40" height="14.60" fill="#fdfdfd" stroke="#8a8282" stroke-width="0.8"/>
<g filter="url(#bblur)">
<linearGradient id="bg1" gradientUnits="userSpaceOnUse" x1="51.90" y1="0" x2="143.30" y2="0"><stop offset="0.100" stop-color="#000" stop-opacity="1.00"/><stop offset="0.200" stop-color="#000" stop-opacity="0.60"/><stop offset="0.300" stop-color="#000" stop-opacity="0.84"/><stop offset="0.400" stop-color="#000" stop-opacity="0.60"/><stop offset="0.500" stop-color="#000" stop-opacity="0.88"/><stop offset="0.600" stop-color="#000" stop-opacity="0.60"/><stop offset="0.700" stop-color="#000" stop-opacity="0.84"/><stop offset="0.800" stop-color="#000" stop-opacity="0.20"/><stop offset="0.900" stop-color="#000" stop-opacity="0.28"/></linearGradient>
<path d="M53.1,71.52 L54.6,71.52 L56.1,71.52 L57.6,71.52 L59.0,71.52 L60.5,71.52 L62.0,71.52 L63.5,71.52 L65.0,71.54 L66.5,71.62 L67.9,71.85 L69.4,72.08 L70.9,72.08 L72.4,71.85 L73.9,71.63 L75.4,71.54 L76.8,71.52 L78.3,71.52 L79.8,71.52 L81.3,71.52 L82.8,71.53 L84.3,71.58 L85.7,71.76 L87.2,72.02 L88.7,72.11 L90.2,71.94 L91.7,71.69 L93.2,71.56 L94.6,71.53 L96.1,71.52 L97.6,71.52 L99.1,71.52 L100.6,71.53 L102.1,71.56 L103.5,71.69 L105.0,71.94 L106.5,72.11 L108.0,72.02 L109.5,71.76 L111.0,71.58 L112.4,71.53 L113.9,71.52 L115.4,71.52 L116.9,71.53 L118.4,71.56 L119.9,71.62 L121.3,71.77 L122.8,72.05 L124.3,72.32 L125.8,72.38 L127.3,72.28 L128.8,72.19 L130.2,72.20 L131.7,72.24 L133.2,72.27 L134.7,72.27 L136.2,72.27 L137.7,72.27 L139.1,72.27 L140.6,72.27 L142.1,72.27 Q143.3,73.50 142.1,74.63 L140.6,74.63 L139.1,74.63 L137.7,74.63 L136.2,74.63 L134.7,74.63 L133.2,74.64 L131.7,74.66 L130.2,74.70 L128.8,74.71 L127.3,74.63 L125.8,74.53 L124.3,74.59 L122.8,74.84 L121.3,75.09 L119.9,75.23 L118.4,75.29 L116.9,75.32 L115.4,75.32 L113.9,75.32 L112.4,75.32 L111.0,75.27 L109.5,75.10 L108.0,74.87 L106.5,74.78 L105.0,74.94 L103.5,75.17 L102.1,75.30 L100.6,75.32 L99.1,75.32 L97.6,75.32 L96.1,75.32 L94.6,75.32 L93.2,75.30 L91.7,75.17 L90.2,74.94 L88.7,74.78 L87.2,74.87 L85.7,75.10 L84.3,75.27 L82.8,75.32 L81.3,75.32 L79.8,75.32 L78.3,75.32 L76.8,75.32 L75.4,75.31 L73.9,75.23 L72.4,75.02 L70.9,74.81 L69.4,74.81 L67.9,75.03 L66.5,75.23 L65.0,75.31 L63.5,75.32 L62.0,75.32 L60.5,75.32 L59.0,75.32 L57.6,75.32 L56.1,75.32 L54.6,75.32 L53.1,75.32 Q51.9,73.50 53.1,71.52 Z" fill="url(#bg1)"/>
</g>
<text x="50.90" y="76.10" font-size="8.5" text-anchor="end" fill="#231f20" color="#231f20" >H3K14Ac</text>
<text x="143.80" y="70.30" font-size="6.4" text-anchor="start" fill="#3a3a3a" color="#3a3a3a" >-15</text>
<rect x="51.90" y="81.30" width="91.40" height="14.40" fill="#fdfdfd" stroke="#8a8282" stroke-width="0.8"/>
<g filter="url(#bblur)">
<linearGradient id="bg2" gradientUnits="userSpaceOnUse" x1="51.90" y1="0" x2="143.30" y2="0"><stop offset="0.100" stop-color="#000" stop-opacity="1.00"/><stop offset="0.200" stop-color="#000" stop-opacity="0.48"/><stop offset="0.300" stop-color="#000" stop-opacity="0.66"/><stop offset="0.400" stop-color="#000" stop-opacity="0.48"/><stop offset="0.500" stop-color="#000" stop-opacity="0.72"/><stop offset="0.600" stop-color="#000" stop-opacity="0.52"/><stop offset="0.700" stop-color="#000" stop-opacity="0.92"/><stop offset="0.800" stop-color="#000" stop-opacity="0.22"/><stop offset="0.900" stop-color="#000" stop-opacity="0.30"/></linearGradient>
<path d="M53.1,87.18 L54.6,87.18 L56.1,87.18 L57.6,87.18 L59.0,87.18 L60.5,87.18 L62.0,87.18 L63.5,87.18 L65.0,87.19 L66.5,87.27 L67.9,87.49 L69.4,87.71 L70.9,87.72 L72.4,87.50 L73.9,87.28 L75.4,87.19 L76.8,87.18 L78.3,87.18 L79.8,87.18 L81.3,87.18 L82.8,87.18 L84.3,87.23 L85.7,87.41 L87.2,87.66 L88.7,87.75 L90.2,87.58 L91.7,87.34 L93.2,87.21 L94.6,87.18 L96.1,87.18 L97.6,87.18 L99.1,87.18 L100.6,87.18 L102.1,87.21 L103.5,87.34 L105.0,87.58 L106.5,87.75 L108.0,87.66 L109.5,87.41 L111.0,87.23 L112.4,87.18 L113.9,87.18 L115.4,87.18 L116.9,87.18 L118.4,87.21 L119.9,87.27 L121.3,87.42 L122.8,87.69 L124.3,87.95 L125.8,88.01 L127.3,87.91 L128.8,87.83 L130.2,87.84 L131.7,87.88 L133.2,87.90 L134.7,87.91 L136.2,87.91 L137.7,87.91 L139.1,87.91 L140.6,87.91 L142.1,87.91 Q143.3,89.10 142.1,90.20 L140.6,90.20 L139.1,90.20 L137.7,90.20 L136.2,90.20 L134.7,90.20 L133.2,90.21 L131.7,90.23 L130.2,90.27 L128.8,90.27 L127.3,90.20 L125.8,90.10 L124.3,90.16 L122.8,90.40 L121.3,90.65 L119.9,90.79 L118.4,90.85 L116.9,90.87 L115.4,90.88 L113.9,90.88 L112.4,90.87 L111.0,90.82 L109.5,90.66 L108.0,90.43 L106.5,90.35 L105.0,90.50 L103.5,90.73 L102.1,90.85 L100.6,90.87 L99.1,90.88 L97.6,90.88 L96.1,90.88 L94.6,90.87 L93.2,90.85 L91.7,90.73 L90.2,90.50 L88.7,90.35 L87.2,90.43 L85.7,90.66 L84.3,90.82 L82.8,90.87 L81.3,90.88 L79.8,90.88 L78.3,90.88 L76.8,90.88 L75.4,90.86 L73.9,90.78 L72.4,90.58 L70.9,90.37 L69.4,90.38 L67.9,90.59 L66.5,90.79 L65.0,90.86 L63.5,90.88 L62.0,90.88 L60.5,90.88 L59.0,90.88 L57.6,90.88 L56.1,90.88 L54.6,90.88 L53.1,90.88 Q51.9,89.10 53.1,87.18 Z" fill="url(#bg2)"/>
</g>
<text x="50.90" y="91.70" font-size="8.5" text-anchor="end" fill="#231f20" color="#231f20" >H3K18Ac</text>
<text x="143.80" y="86.00" font-size="6.4" text-anchor="start" fill="#3a3a3a" color="#3a3a3a" >-15</text>
<rect x="51.90" y="96.90" width="91.40" height="14.20" fill="#f6f6f6" stroke="#8a8282" stroke-width="0.8"/>
<g filter="url(#bblur)">
<linearGradient id="bg3" gradientUnits="userSpaceOnUse" x1="51.90" y1="0" x2="143.30" y2="0"><stop offset="0.100" stop-color="#000" stop-opacity="0.97"/><stop offset="0.200" stop-color="#000" stop-opacity="0.69"/><stop offset="0.300" stop-color="#000" stop-opacity="0.96"/><stop offset="0.400" stop-color="#000" stop-opacity="0.69"/><stop offset="0.500" stop-color="#000" stop-opacity="0.98"/><stop offset="0.600" stop-color="#000" stop-opacity="0.68"/><stop offset="0.700" stop-color="#000" stop-opacity="0.94"/><stop offset="0.800" stop-color="#000" stop-opacity="0.60"/><stop offset="0.900" stop-color="#000" stop-opacity="0.84"/></linearGradient>
<path d="M53.1,102.09 L54.6,102.09 L56.1,102.09 L57.6,102.09 L59.0,102.09 L60.5,102.09 L62.0,102.09 L63.5,102.09 L65.0,102.11 L66.5,102.24 L67.9,102.55 L69.4,102.88 L70.9,102.88 L72.4,102.56 L73.9,102.24 L75.4,102.11 L76.8,102.09 L78.3,102.09 L79.8,102.09 L81.3,102.09 L82.8,102.10 L84.3,102.18 L85.7,102.43 L87.2,102.79 L88.7,102.93 L90.2,102.68 L91.7,102.33 L93.2,102.14 L94.6,102.09 L96.1,102.09 L97.6,102.09 L99.1,102.09 L100.6,102.09 L102.1,102.14 L103.5,102.33 L105.0,102.68 L106.5,102.93 L108.0,102.79 L109.5,102.43 L111.0,102.18 L112.4,102.10 L113.9,102.09 L115.4,102.09 L116.9,102.09 L118.4,102.09 L119.9,102.11 L121.3,102.24 L122.8,102.56 L124.3,102.88 L125.8,102.88 L127.3,102.55 L128.8,102.24 L130.2,102.11 L131.7,102.09 L133.2,102.09 L134.7,102.09 L136.2,102.09 L137.7,102.09 L139.1,102.09 L140.6,102.09 L142.1,102.09 Q143.3,104.90 142.1,107.49 L140.6,107.49 L139.1,107.49 L137.7,107.49 L136.2,107.49 L134.7,107.49 L133.2,107.49 L131.7,107.49 L130.2,107.47 L128.8,107.36 L127.3,107.07 L125.8,106.77 L124.3,106.76 L122.8,107.06 L121.3,107.35 L119.9,107.47 L118.4,107.49 L116.9,107.49 L115.4,107.49 L113.9,107.49 L112.4,107.48 L111.0,107.41 L109.5,107.18 L108.0,106.85 L106.5,106.72 L105.0,106.95 L103.5,107.28 L102.1,107.45 L100.6,107.49 L99.1,107.49 L97.6,107.49 L96.1,107.49 L94.6,107.49 L93.2,107.45 L91.7,107.28 L90.2,106.95 L88.7,106.72 L87.2,106.85 L85.7,107.18 L84.3,107.41 L82.8,107.48 L81.3,107.49 L79.8,107.49 L78.3,107.49 L76.8,107.49 L75.4,107.47 L73.9,107.35 L72.4,107.06 L70.9,106.76 L69.4,106.77 L67.9,107.07 L66.5,107.36 L65.0,107.47 L63.5,107.49 L62.0,107.49 L60.5,107.49 L59.0,107.49 L57.6,107.49 L56.1,107.49 L54.6,107.49 L53.1,107.49 Q51.9,104.90 53.1,102.09 Z" fill="url(#bg3)"/>
</g>
<text x="50.90" y="107.20" font-size="8.5" text-anchor="end" fill="#231f20" color="#231f20" >H3K27Ac</text>
<text x="143.80" y="101.60" font-size="6.4" text-anchor="start" fill="#3a3a3a" color="#3a3a3a" >-15</text>
<rect x="51.90" y="112.50" width="91.40" height="14.60" fill="#fdfdfd" stroke="#8a8282" stroke-width="0.8"/>
<g filter="url(#bblur)">
<linearGradient id="bg4" gradientUnits="userSpaceOnUse" x1="51.90" y1="0" x2="143.30" y2="0"><stop offset="0.100" stop-color="#000" stop-opacity="1.00"/><stop offset="0.200" stop-color="#000" stop-opacity="0.68"/><stop offset="0.300" stop-color="#000" stop-opacity="0.94"/><stop offset="0.400" stop-color="#000" stop-opacity="0.68"/><stop offset="0.500" stop-color="#000" stop-opacity="0.97"/><stop offset="0.600" stop-color="#000" stop-opacity="0.70"/><stop offset="0.700" stop-color="#000" stop-opacity="0.98"/><stop offset="0.800" stop-color="#000" stop-opacity="0.24"/><stop offset="0.900" stop-color="#000" stop-opacity="0.33"/></linearGradient>
<path d="M53.1,118.33 L54.6,118.33 L56.1,118.33 L57.6,118.33 L59.0,118.33 L60.5,118.33 L62.0,118.33 L63.5,118.33 L65.0,118.34 L66.5,118.42 L67.9,118.63 L69.4,118.85 L70.9,118.86 L72.4,118.64 L73.9,118.43 L75.4,118.34 L76.8,118.33 L78.3,118.33 L79.8,118.33 L81.3,118.33 L82.8,118.33 L84.3,118.38 L85.7,118.55 L87.2,118.80 L88.7,118.89 L90.2,118.72 L91.7,118.48 L93.2,118.36 L94.6,118.33 L96.1,118.33 L97.6,118.33 L99.1,118.33 L100.6,118.33 L102.1,118.36 L103.5,118.48 L105.0,118.72 L106.5,118.89 L108.0,118.80 L109.5,118.55 L111.0,118.38 L112.4,118.33 L113.9,118.33 L115.4,118.33 L116.9,118.33 L118.4,118.36 L119.9,118.42 L121.3,118.57 L122.8,118.83 L124.3,119.08 L125.8,119.14 L127.3,119.04 L128.8,118.96 L130.2,118.97 L131.7,119.01 L133.2,119.03 L134.7,119.04 L136.2,119.04 L137.7,119.04 L139.1,119.04 L140.6,119.04 L142.1,119.04 Q143.3,120.20 142.1,121.27 L140.6,121.27 L139.1,121.27 L137.7,121.27 L136.2,121.27 L134.7,121.27 L133.2,121.28 L131.7,121.30 L130.2,121.34 L128.8,121.34 L127.3,121.27 L125.8,121.18 L124.3,121.23 L122.8,121.47 L121.3,121.71 L119.9,121.84 L118.4,121.90 L116.9,121.92 L115.4,121.93 L113.9,121.93 L112.4,121.92 L111.0,121.88 L109.5,121.72 L108.0,121.50 L106.5,121.41 L105.0,121.56 L103.5,121.78 L102.1,121.90 L100.6,121.93 L99.1,121.93 L97.6,121.93 L96.1,121.93 L94.6,121.93 L93.2,121.90 L91.7,121.78 L90.2,121.56 L88.7,121.41 L87.2,121.50 L85.7,121.72 L84.3,121.88 L82.8,121.92 L81.3,121.93 L79.8,121.93 L78.3,121.93 L76.8,121.93 L75.4,121.92 L73.9,121.84 L72.4,121.64 L70.9,121.44 L69.4,121.44 L67.9,121.65 L66.5,121.84 L65.0,121.92 L63.5,121.93 L62.0,121.93 L60.5,121.93 L59.0,121.93 L57.6,121.93 L56.1,121.93 L54.6,121.93 L53.1,121.93 Q51.9,120.20 53.1,118.33 Z" fill="url(#bg4)"/>
</g>
<text x="50.90" y="123.00" font-size="8.5" text-anchor="end" fill="#231f20" color="#231f20" >H3K36Ac</text>
<text x="143.80" y="117.20" font-size="6.4" text-anchor="start" fill="#3a3a3a" color="#3a3a3a" >-15</text>
<rect x="51.90" y="128.30" width="91.40" height="14.20" fill="#fdfdfd" stroke="#8a8282" stroke-width="0.8"/>
<g filter="url(#bblur)">
<linearGradient id="bg5" gradientUnits="userSpaceOnUse" x1="51.90" y1="0" x2="143.30" y2="0"><stop offset="0.100" stop-color="#000" stop-opacity="0.94"/><stop offset="0.200" stop-color="#000" stop-opacity="0.65"/><stop offset="0.300" stop-color="#000" stop-opacity="0.90"/><stop offset="0.400" stop-color="#000" stop-opacity="0.65"/><stop offset="0.500" stop-color="#000" stop-opacity="0.98"/><stop offset="0.600" stop-color="#000" stop-opacity="0.65"/><stop offset="0.700" stop-color="#000" stop-opacity="0.90"/><stop offset="0.800" stop-color="#000" stop-opacity="0.62"/><stop offset="0.900" stop-color="#000" stop-opacity="0.86"/></linearGradient>
<path d="M53.1,134.33 L54.6,134.33 L56.1,134.33 L57.6,134.33 L59.0,134.33 L60.5,134.33 L62.0,134.33 L63.5,134.33 L65.0,134.34 L66.5,134.42 L67.9,134.63 L69.4,134.85 L70.9,134.86 L72.4,134.64 L73.9,134.43 L75.4,134.34 L76.8,134.33 L78.3,134.33 L79.8,134.33 L81.3,134.33 L82.8,134.33 L84.3,134.38 L85.7,134.55 L87.2,134.80 L88.7,134.89 L90.2,134.72 L91.7,134.48 L93.2,134.36 L94.6,134.33 L96.1,134.33 L97.6,134.33 L99.1,134.33 L100.6,134.33 L102.1,134.36 L103.5,134.48 L105.0,134.72 L106.5,134.89 L108.0,134.80 L109.5,134.55 L111.0,134.38 L112.4,134.33 L113.9,134.33 L115.4,134.33 L116.9,134.33 L118.4,134.33 L119.9,134.34 L121.3,134.43 L122.8,134.64 L124.3,134.86 L125.8,134.85 L127.3,134.63 L128.8,134.42 L130.2,134.34 L131.7,134.33 L133.2,134.33 L134.7,134.33 L136.2,134.33 L137.7,134.33 L139.1,134.33 L140.6,134.33 L142.1,134.33 Q143.3,136.20 142.1,137.93 L140.6,137.93 L139.1,137.93 L137.7,137.93 L136.2,137.93 L134.7,137.93 L133.2,137.93 L131.7,137.93 L130.2,137.92 L128.8,137.84 L127.3,137.65 L125.8,137.44 L124.3,137.44 L122.8,137.64 L121.3,137.84 L119.9,137.92 L118.4,137.93 L116.9,137.93 L115.4,137.93 L113.9,137.93 L112.4,137.92 L111.0,137.88 L109.5,137.72 L108.0,137.50 L106.5,137.41 L105.0,137.56 L103.5,137.78 L102.1,137.90 L100.6,137.93 L99.1,137.93 L97.6,137.93 L96.1,137.93 L94.6,137.93 L93.2,137.90 L91.7,137.78 L90.2,137.56 L88.7,137.41 L87.2,137.50 L85.7,137.72 L84.3,137.88 L82.8,137.92 L81.3,137.93 L79.8,137.93 L78.3,137.93 L76.8,137.93 L75.4,137.92 L73.9,137.84 L72.4,137.64 L70.9,137.44 L69.4,137.44 L67.9,137.65 L66.5,137.84 L65.0,137.92 L63.5,137.93 L62.0,137.93 L60.5,137.93 L59.0,137.93 L57.6,137.93 L56.1,137.93 L54.6,137.93 L53.1,137.93 Q51.9,136.20 53.1,134.33 Z" fill="url(#bg5)"/>
</g>
<text x="50.90" y="138.60" font-size="8.5" text-anchor="end" fill="#231f20" color="#231f20" >H3K56Ac</text>
<text x="143.80" y="133.00" font-size="6.4" text-anchor="start" fill="#3a3a3a" color="#3a3a3a" >-15</text>
<rect x="51.90" y="143.50" width="91.40" height="14.60" fill="#fdfdfd" stroke="#8a8282" stroke-width="0.8"/>
<g filter="url(#bblur)">
<linearGradient id="bg6" gradientUnits="userSpaceOnUse" x1="51.90" y1="0" x2="143.30" y2="0"><stop offset="0.100" stop-color="#000" stop-opacity="1.00"/><stop offset="0.200" stop-color="#000" stop-opacity="0.72"/><stop offset="0.300" stop-color="#000" stop-opacity="1.00"/><stop offset="0.400" stop-color="#000" stop-opacity="0.72"/><stop offset="0.500" stop-color="#000" stop-opacity="1.00"/><stop offset="0.600" stop-color="#000" stop-opacity="0.72"/><stop offset="0.700" stop-color="#000" stop-opacity="1.00"/><stop offset="0.800" stop-color="#000" stop-opacity="0.72"/><stop offset="0.900" stop-color="#000" stop-opacity="1.00"/></linearGradient>
<path d="M53.1,147.68 L54.6,147.68 L56.1,147.68 L57.6,147.68 L59.0,147.68 L60.5,147.68 L62.0,147.68 L63.5,147.68 L65.0,147.70 L66.5,147.84 L67.9,148.19 L69.4,148.55 L70.9,148.56 L72.4,148.20 L73.9,147.85 L75.4,147.70 L76.8,147.68 L78.3,147.68 L79.8,147.68 L81.3,147.68 L82.8,147.69 L84.3,147.77 L85.7,148.06 L87.2,148.46 L88.7,148.61 L90.2,148.34 L91.7,147.94 L93.2,147.73 L94.6,147.68 L96.1,147.68 L97.6,147.68 L99.1,147.68 L100.6,147.68 L102.1,147.73 L103.5,147.94 L105.0,148.34 L106.5,148.61 L108.0,148.46 L109.5,148.06 L111.0,147.77 L112.4,147.69 L113.9,147.68 L115.4,147.68 L116.9,147.68 L118.4,147.68 L119.9,147.70 L121.3,147.85 L122.8,148.20 L124.3,148.56 L125.8,148.55 L127.3,148.19 L128.8,147.84 L130.2,147.70 L131.7,147.68 L133.2,147.68 L134.7,147.68 L136.2,147.68 L137.7,147.68 L139.1,147.68 L140.6,147.68 L142.1,147.68 Q143.3,150.80 142.1,153.68 L140.6,153.68 L139.1,153.68 L137.7,153.68 L136.2,153.68 L134.7,153.68 L133.2,153.68 L131.7,153.68 L130.2,153.66 L128.8,153.53 L127.3,153.21 L125.8,152.87 L124.3,152.87 L122.8,153.20 L121.3,153.53 L119.9,153.66 L118.4,153.68 L116.9,153.68 L115.4,153.68 L113.9,153.68 L112.4,153.67 L111.0,153.59 L109.5,153.33 L108.0,152.96 L106.5,152.82 L105.0,153.07 L103.5,153.44 L102.1,153.63 L100.6,153.68 L99.1,153.68 L97.6,153.68 L96.1,153.68 L94.6,153.68 L93.2,153.63 L91.7,153.44 L90.2,153.07 L88.7,152.82 L87.2,152.96 L85.7,153.33 L84.3,153.59 L82.8,153.67 L81.3,153.68 L79.8,153.68 L78.3,153.68 L76.8,153.68 L75.4,153.66 L73.9,153.53 L72.4,153.20 L70.9,152.87 L69.4,152.87 L67.9,153.21 L66.5,153.53 L65.0,153.66 L63.5,153.68 L62.0,153.68 L60.5,153.68 L59.0,153.68 L57.6,153.68 L56.1,153.68 L54.6,153.68 L53.1,153.68 Q51.9,150.80 53.1,147.68 Z" fill="url(#bg6)"/>
</g>
<text x="50.90" y="154.00" font-size="8.5" text-anchor="end" fill="#231f20" color="#231f20" >H3</text>
<text x="143.80" y="148.20" font-size="6.4" text-anchor="start" fill="#3a3a3a" color="#3a3a3a" >-15</text>
<rect x="51.90" y="159.30" width="91.40" height="14.00" fill="#f6f6f6" stroke="#a09898" stroke-width="0.8" stroke-dasharray="1.0,0.7"/>
<g filter="url(#bblur)">
<rect x="53.40" y="165.30" width="15.28" height="2.60" rx="1.30" fill="#000" fill-opacity="1"/>
<rect x="71.68" y="165.30" width="15.28" height="2.60" rx="1.30" fill="#000" fill-opacity="1"/>
<rect x="89.96" y="165.30" width="15.28" height="2.60" rx="1.30" fill="#000" fill-opacity="1"/>
<rect x="108.24" y="165.30" width="15.28" height="2.60" rx="1.30" fill="#000" fill-opacity="1"/>
<rect x="126.52" y="165.30" width="15.28" height="2.60" rx="1.30" fill="#000" fill-opacity="1"/>
</g>
<text x="50.90" y="169.50" font-size="8.5" text-anchor="end" fill="#231f20" color="#231f20" >Tubulin</text>
<text x="143.80" y="165.80" font-size="6.4" text-anchor="start" fill="#3a3a3a" color="#3a3a3a" >-55</text>
<text x="143.20" y="45.80" font-size="6.3" text-anchor="start" fill="#231f20" color="#231f20" >kDa</text>
<text x="62.24" y="49.60" font-size="8.5" text-anchor="start" fill="#231f20" color="#231f20" transform="rotate(-41 62.24 49.60)" >Vehicle</text>
<text x="81.62" y="49.60" font-size="8.5" text-anchor="start" fill="#231f20" color="#231f20" transform="rotate(-41 81.62 49.60)" >0.125</text>
<text x="100.00" y="49.60" font-size="8.5" text-anchor="start" fill="#231f20" color="#231f20" transform="rotate(-41 100.00 49.60)" >0.25</text>
<text x="118.38" y="49.60" font-size="8.5" text-anchor="start" fill="#231f20" color="#231f20" transform="rotate(-41 118.38 49.60)" >0.5</text>
<text x="138.46" y="49.60" font-size="8.5" text-anchor="start" fill="#231f20" color="#231f20" transform="rotate(-41 138.46 49.60)" >1</text>
<text x="91.40" y="26.20" font-size="8.3" text-anchor="start" fill="#231f20" color="#231f20" >CPTH<tspan font-size="62%" dy="0.9">2</tspan><tspan dy="-0.9"></tspan> μM</text>
<line x1="86.40" y1="27.90" x2="137.80" y2="27.90" stroke="#4a4a4a" stroke-width="0.6" />
<line x1="183.50" y1="55.75" x2="183.50" y2="149.80" stroke="#333" stroke-width="0.7" />
<line x1="183.50" y1="149.80" x2="423.00" y2="149.80" stroke="#333" stroke-width="0.7" />
<line x1="181.30" y1="149.80" x2="183.50" y2="149.80" stroke="#333" stroke-width="0.7" />
<text x="179.50" y="152.50" font-size="7.9" text-anchor="end" fill="#231f20" color="#231f20" >0</text>
<line x1="181.30" y1="118.55" x2="183.50" y2="118.55" stroke="#333" stroke-width="0.7" />
<text x="179.50" y="121.25" font-size="7.9" text-anchor="end" fill="#231f20" color="#231f20" >0.5</text>
<line x1="181.30" y1="87.30" x2="183.50" y2="87.30" stroke="#333" stroke-width="0.7" />
<text x="179.50" y="90.00" font-size="7.9" text-anchor="end" fill="#231f20" color="#231f20" >1.0</text>
<line x1="181.30" y1="56.05" x2="183.50" y2="56.05" stroke="#333" stroke-width="0.7" />
<text x="179.50" y="58.75" font-size="7.9" text-anchor="end" fill="#231f20" color="#231f20" >1.5</text>
<text x="164.40" y="101.00" font-size="8.1" text-anchor="middle" fill="#231f20" color="#231f20" transform="rotate(-90 164.40 101.00)" >Relative fold change</text>
<rect x="186.20" y="87.30" width="4.60" height="62.50" fill="#c6dcf2" stroke="#3a3a3a" stroke-width="0.45"/>
<line x1="188.50" y1="85.43" x2="188.50" y2="89.18" stroke="#111" stroke-width="0.85" />
<line x1="187.30" y1="85.43" x2="189.70" y2="85.43" stroke="#111" stroke-width="0.7" />
<circle cx="188.36" cy="88.99" r="1.30" fill="#111" />
<circle cx="188.22" cy="87.39" r="1.30" fill="#111" />
<circle cx="188.62" cy="85.52" r="1.30" fill="#111" />
<rect x="193.30" y="88.55" width="4.60" height="61.25" fill="#a066b0" stroke="#3a3a3a" stroke-width="0.45"/>
<line x1="195.60" y1="79.18" x2="195.60" y2="97.93" stroke="#111" stroke-width="0.85" />
<line x1="194.40" y1="79.18" x2="196.80" y2="79.18" stroke="#111" stroke-width="0.7" />
<circle cx="195.26" cy="96.99" r="1.30" fill="#111" />
<circle cx="195.63" cy="89.02" r="1.30" fill="#111" />
<circle cx="195.49" cy="79.64" r="1.30" fill="#111" />
<rect x="200.40" y="91.05" width="4.60" height="58.75" fill="#e87a7a" stroke="#3a3a3a" stroke-width="0.45"/>
<line x1="202.70" y1="82.93" x2="202.70" y2="99.18" stroke="#111" stroke-width="0.85" />
<line x1="201.50" y1="82.93" x2="203.90" y2="82.93" stroke="#111" stroke-width="0.7" />
<circle cx="202.35" cy="98.36" r="1.30" fill="#111" />
<circle cx="202.71" cy="91.46" r="1.30" fill="#111" />
<circle cx="202.33" cy="83.33" r="1.30" fill="#111" />
<rect x="207.50" y="94.80" width="4.60" height="55.00" fill="#f5a03c" stroke="#3a3a3a" stroke-width="0.45"/>
<line x1="209.80" y1="89.80" x2="209.80" y2="99.80" stroke="#111" stroke-width="0.85" />
<line x1="208.60" y1="89.80" x2="211.00" y2="89.80" stroke="#111" stroke-width="0.7" />
<circle cx="209.75" cy="99.30" r="1.30" fill="#111" />
<circle cx="209.46" cy="95.05" r="1.30" fill="#111" />
<circle cx="209.47" cy="90.05" r="1.30" fill="#111" />
<rect x="214.60" y="106.05" width="4.60" height="43.75" fill="#4f8fd0" stroke="#3a3a3a" stroke-width="0.45"/>
<line x1="216.90" y1="100.43" x2="216.90" y2="111.68" stroke="#111" stroke-width="0.85" />
<line x1="215.70" y1="100.43" x2="218.10" y2="100.43" stroke="#111" stroke-width="0.7" />
<circle cx="216.84" cy="111.11" r="1.30" fill="#111" />
<circle cx="217.16" cy="106.33" r="1.30" fill="#111" />
<circle cx="216.60" cy="100.71" r="1.30" fill="#111" />
<line x1="202.70" y1="149.80" x2="202.70" y2="152.20" stroke="#333" stroke-width="0.6" />
<text x="204.50" y="157.40" font-size="8.0" text-anchor="end" fill="#231f20" color="#231f20" transform="rotate(-30 204.50 157.40)" >H3K9Ac</text>
<rect x="226.35" y="87.30" width="4.60" height="62.50" fill="#c6dcf2" stroke="#3a3a3a" stroke-width="0.45"/>
<line x1="228.65" y1="78.55" x2="228.65" y2="96.05" stroke="#111" stroke-width="0.85" />
<line x1="227.45" y1="78.55" x2="229.85" y2="78.55" stroke="#111" stroke-width="0.7" />
<circle cx="228.43" cy="95.18" r="1.30" fill="#111" />
<circle cx="228.75" cy="87.74" r="1.30" fill="#111" />
<circle cx="229.01" cy="78.99" r="1.30" fill="#111" />
<rect x="233.45" y="102.30" width="4.60" height="47.50" fill="#a066b0" stroke="#3a3a3a" stroke-width="0.45"/>
<line x1="235.75" y1="87.30" x2="235.75" y2="117.30" stroke="#111" stroke-width="0.85" />
<line x1="234.55" y1="87.30" x2="236.95" y2="87.30" stroke="#111" stroke-width="0.7" />
<circle cx="235.81" cy="115.80" r="1.30" fill="#111" />
<circle cx="235.67" cy="103.05" r="1.30" fill="#111" />
<circle cx="236.13" cy="88.05" r="1.30" fill="#111" />
<rect x="240.55" y="107.30" width="4.60" height="42.50" fill="#e87a7a" stroke="#3a3a3a" stroke-width="0.45"/>
<line x1="242.85" y1="94.80" x2="242.85" y2="119.80" stroke="#111" stroke-width="0.85" />
<line x1="241.65" y1="94.80" x2="244.05" y2="94.80" stroke="#111" stroke-width="0.7" />
<circle cx="242.49" cy="118.55" r="1.30" fill="#111" />
<circle cx="243.14" cy="107.93" r="1.30" fill="#111" />
<circle cx="242.68" cy="95.43" r="1.30" fill="#111" />
<rect x="247.65" y="118.55" width="4.60" height="31.25" fill="#f5a03c" stroke="#3a3a3a" stroke-width="0.45"/>
<line x1="249.95" y1="111.05" x2="249.95" y2="126.05" stroke="#111" stroke-width="0.85" />
<line x1="248.75" y1="111.05" x2="251.15" y2="111.05" stroke="#111" stroke-width="0.7" />
<circle cx="249.67" cy="125.30" r="1.30" fill="#111" />
<circle cx="249.64" cy="118.93" r="1.30" fill="#111" />
<circle cx="249.80" cy="111.43" r="1.30" fill="#111" />
<rect x="254.75" y="140.43" width="4.60" height="9.38" fill="#4f8fd0" stroke="#3a3a3a" stroke-width="0.45"/>
<line x1="257.05" y1="135.43" x2="257.05" y2="145.43" stroke="#111" stroke-width="0.85" />
<line x1="255.85" y1="135.43" x2="258.25" y2="135.43" stroke="#111" stroke-width="0.7" />
<circle cx="257.30" cy="144.93" r="1.30" fill="#111" />
<circle cx="256.79" cy="140.68" r="1.30" fill="#111" />
<circle cx="257.12" cy="135.68" r="1.30" fill="#111" />
<line x1="242.85" y1="149.80" x2="242.85" y2="152.20" stroke="#333" stroke-width="0.6" />
<text x="244.65" y="157.40" font-size="8.0" text-anchor="end" fill="#231f20" color="#231f20" transform="rotate(-30 244.65 157.40)" >H3K14Ac</text>
<rect x="266.50" y="87.30" width="4.60" height="62.50" fill="#c6dcf2" stroke="#3a3a3a" stroke-width="0.45"/>
<line x1="268.80" y1="76.05" x2="268.80" y2="98.55" stroke="#111" stroke-width="0.85" />
<line x1="267.60" y1="76.05" x2="270.00" y2="76.05" stroke="#111" stroke-width="0.7" />
<circle cx="268.91" cy="97.43" r="1.30" fill="#111" />
<circle cx="268.70" cy="87.86" r="1.30" fill="#111" />
<circle cx="268.84" cy="76.61" r="1.30" fill="#111" />
<rect x="273.60" y="113.55" width="4.60" height="36.25" fill="#a066b0" stroke="#3a3a3a" stroke-width="0.45"/>
<line x1="275.90" y1="104.80" x2="275.90" y2="122.30" stroke="#111" stroke-width="0.85" />
<line x1="274.70" y1="104.80" x2="277.10" y2="104.80" stroke="#111" stroke-width="0.7" />
<circle cx="275.55" cy="121.43" r="1.30" fill="#111" />
<circle cx="275.55" cy="113.99" r="1.30" fill="#111" />
<circle cx="275.66" cy="105.24" r="1.30" fill="#111" />
<rect x="280.70" y="123.55" width="4.60" height="26.25" fill="#e87a7a" stroke="#3a3a3a" stroke-width="0.45"/>
<line x1="283.00" y1="116.05" x2="283.00" y2="131.05" stroke="#111" stroke-width="0.85" />
<line x1="281.80" y1="116.05" x2="284.20" y2="116.05" stroke="#111" stroke-width="0.7" />
<circle cx="283.14" cy="130.30" r="1.30" fill="#111" />
<circle cx="282.94" cy="123.93" r="1.30" fill="#111" />
<circle cx="282.85" cy="116.43" r="1.30" fill="#111" />
<rect x="287.80" y="120.43" width="4.60" height="29.38" fill="#f5a03c" stroke="#3a3a3a" stroke-width="0.45"/>
<line x1="290.10" y1="112.30" x2="290.10" y2="128.55" stroke="#111" stroke-width="0.85" />
<line x1="288.90" y1="112.30" x2="291.30" y2="112.30" stroke="#111" stroke-width="0.7" />
<circle cx="290.17" cy="127.74" r="1.30" fill="#111" />
<circle cx="290.06" cy="120.83" r="1.30" fill="#111" />
<circle cx="289.94" cy="112.71" r="1.30" fill="#111" />
<rect x="294.90" y="141.05" width="4.60" height="8.75" fill="#4f8fd0" stroke="#3a3a3a" stroke-width="0.45"/>
<line x1="297.20" y1="139.18" x2="297.20" y2="142.93" stroke="#111" stroke-width="0.85" />
<line x1="296.00" y1="139.18" x2="298.40" y2="139.18" stroke="#111" stroke-width="0.7" />
<circle cx="297.44" cy="142.74" r="1.30" fill="#111" />
<circle cx="297.36" cy="141.14" r="1.30" fill="#111" />
<circle cx="297.00" cy="139.27" r="1.30" fill="#111" />
<line x1="283.00" y1="149.80" x2="283.00" y2="152.20" stroke="#333" stroke-width="0.6" />
<text x="284.80" y="157.40" font-size="8.0" text-anchor="end" fill="#231f20" color="#231f20" transform="rotate(-30 284.80 157.40)" >H3K18Ac</text>
<rect x="306.65" y="87.30" width="4.60" height="62.50" fill="#c6dcf2" stroke="#3a3a3a" stroke-width="0.45"/>
<line x1="308.95" y1="85.43" x2="308.95" y2="89.18" stroke="#111" stroke-width="0.85" />
<line x1="307.75" y1="85.43" x2="310.15" y2="85.43" stroke="#111" stroke-width="0.7" />
<circle cx="309.01" cy="88.99" r="1.30" fill="#111" />
<circle cx="308.97" cy="87.39" r="1.30" fill="#111" />
<circle cx="309.25" cy="85.52" r="1.30" fill="#111" />
<rect x="313.75" y="85.43" width="4.60" height="64.38" fill="#a066b0" stroke="#3a3a3a" stroke-width="0.45"/>
<line x1="316.05" y1="81.68" x2="316.05" y2="89.18" stroke="#111" stroke-width="0.85" />
<line x1="314.85" y1="81.68" x2="317.25" y2="81.68" stroke="#111" stroke-width="0.7" />
<circle cx="316.23" cy="88.80" r="1.30" fill="#111" />
<circle cx="315.88" cy="85.61" r="1.30" fill="#111" />
<circle cx="316.43" cy="81.86" r="1.30" fill="#111" />
<rect x="320.85" y="92.93" width="4.60" height="56.88" fill="#e87a7a" stroke="#3a3a3a" stroke-width="0.45"/>
<line x1="323.15" y1="88.55" x2="323.15" y2="97.30" stroke="#111" stroke-width="0.85" />
<line x1="321.95" y1="88.55" x2="324.35" y2="88.55" stroke="#111" stroke-width="0.7" />
<circle cx="322.84" cy="96.86" r="1.30" fill="#111" />
<circle cx="323.08" cy="93.14" r="1.30" fill="#111" />
<circle cx="323.36" cy="88.77" r="1.30" fill="#111" />
<rect x="327.95" y="102.30" width="4.60" height="47.50" fill="#f5a03c" stroke="#3a3a3a" stroke-width="0.45"/>
<line x1="330.25" y1="100.43" x2="330.25" y2="104.18" stroke="#111" stroke-width="0.85" />
<line x1="329.05" y1="100.43" x2="331.45" y2="100.43" stroke="#111" stroke-width="0.7" />
<circle cx="329.97" cy="103.99" r="1.30" fill="#111" />
<circle cx="330.24" cy="102.39" r="1.30" fill="#111" />
<circle cx="329.88" cy="100.52" r="1.30" fill="#111" />
<rect x="335.05" y="116.05" width="4.60" height="33.75" fill="#4f8fd0" stroke="#3a3a3a" stroke-width="0.45"/>
<line x1="337.35" y1="112.30" x2="337.35" y2="119.80" stroke="#111" stroke-width="0.85" />
<line x1="336.15" y1="112.30" x2="338.55" y2="112.30" stroke="#111" stroke-width="0.7" />
<circle cx="337.48" cy="119.43" r="1.30" fill="#111" />
<circle cx="337.56" cy="116.24" r="1.30" fill="#111" />
<circle cx="337.41" cy="112.49" r="1.30" fill="#111" />
<line x1="323.15" y1="149.80" x2="323.15" y2="152.20" stroke="#333" stroke-width="0.6" />
<text x="324.95" y="157.40" font-size="8.0" text-anchor="end" fill="#231f20" color="#231f20" transform="rotate(-30 324.95 157.40)" >H3K27Ac</text>
<rect x="346.80" y="87.30" width="4.60" height="62.50" fill="#c6dcf2" stroke="#3a3a3a" stroke-width="0.45"/>
<line x1="349.10" y1="82.93" x2="349.10" y2="91.68" stroke="#111" stroke-width="0.85" />
<line x1="347.90" y1="82.93" x2="350.30" y2="82.93" stroke="#111" stroke-width="0.7" />
<circle cx="349.40" cy="91.24" r="1.30" fill="#111" />
<circle cx="348.95" cy="87.52" r="1.30" fill="#111" />
<circle cx="349.26" cy="83.14" r="1.30" fill="#111" />
<rect x="353.90" y="101.05" width="4.60" height="48.75" fill="#a066b0" stroke="#3a3a3a" stroke-width="0.45"/>
<line x1="356.20" y1="96.68" x2="356.20" y2="105.43" stroke="#111" stroke-width="0.85" />
<line x1="355.00" y1="96.68" x2="357.40" y2="96.68" stroke="#111" stroke-width="0.7" />
<circle cx="356.28" cy="104.99" r="1.30" fill="#111" />
<circle cx="356.26" cy="101.27" r="1.30" fill="#111" />
<circle cx="356.16" cy="96.89" r="1.30" fill="#111" />
<rect x="361.00" y="106.68" width="4.60" height="43.12" fill="#e87a7a" stroke="#3a3a3a" stroke-width="0.45"/>
<line x1="363.30" y1="101.68" x2="363.30" y2="111.68" stroke="#111" stroke-width="0.85" />
<line x1="362.10" y1="101.68" x2="364.50" y2="101.68" stroke="#111" stroke-width="0.7" />
<circle cx="363.57" cy="111.18" r="1.30" fill="#111" />
<circle cx="363.66" cy="106.93" r="1.30" fill="#111" />
<circle cx="363.28" cy="101.93" r="1.30" fill="#111" />
<rect x="368.10" y="111.05" width="4.60" height="38.75" fill="#f5a03c" stroke="#3a3a3a" stroke-width="0.45"/>
<line x1="370.40" y1="108.55" x2="370.40" y2="113.55" stroke="#111" stroke-width="0.85" />
<line x1="369.20" y1="108.55" x2="371.60" y2="108.55" stroke="#111" stroke-width="0.7" />
<circle cx="370.53" cy="113.30" r="1.30" fill="#111" />
<circle cx="370.05" cy="111.18" r="1.30" fill="#111" />
<circle cx="370.56" cy="108.68" r="1.30" fill="#111" />
<rect x="375.20" y="135.43" width="4.60" height="14.38" fill="#4f8fd0" stroke="#3a3a3a" stroke-width="0.45"/>
<line x1="377.50" y1="134.18" x2="377.50" y2="136.68" stroke="#111" stroke-width="0.85" />
<line x1="376.30" y1="134.18" x2="378.70" y2="134.18" stroke="#111" stroke-width="0.7" />
<circle cx="377.62" cy="136.55" r="1.30" fill="#111" />
<circle cx="377.89" cy="135.49" r="1.30" fill="#111" />
<circle cx="377.76" cy="134.24" r="1.30" fill="#111" />
<line x1="363.30" y1="149.80" x2="363.30" y2="152.20" stroke="#333" stroke-width="0.6" />
<text x="365.10" y="157.40" font-size="8.0" text-anchor="end" fill="#231f20" color="#231f20" transform="rotate(-30 365.10 157.40)" >H3K36Ac</text>
<rect x="386.95" y="87.30" width="4.60" height="62.50" fill="#c6dcf2" stroke="#3a3a3a" stroke-width="0.45"/>
<line x1="389.25" y1="76.05" x2="389.25" y2="98.55" stroke="#111" stroke-width="0.85" />
<line x1="388.05" y1="76.05" x2="390.45" y2="76.05" stroke="#111" stroke-width="0.7" />
<circle cx="389.08" cy="97.43" r="1.30" fill="#111" />
<circle cx="389.16" cy="87.86" r="1.30" fill="#111" />
<circle cx="389.38" cy="76.61" r="1.30" fill="#111" />
<rect x="394.05" y="92.30" width="4.60" height="57.50" fill="#a066b0" stroke="#3a3a3a" stroke-width="0.45"/>
<line x1="396.35" y1="77.30" x2="396.35" y2="107.30" stroke="#111" stroke-width="0.85" />
<line x1="395.15" y1="77.30" x2="397.55" y2="77.30" stroke="#111" stroke-width="0.7" />
<circle cx="395.97" cy="105.80" r="1.30" fill="#111" />
<circle cx="396.32" cy="93.05" r="1.30" fill="#111" />
<circle cx="396.08" cy="78.05" r="1.30" fill="#111" />
<rect x="401.15" y="87.30" width="4.60" height="62.50" fill="#e87a7a" stroke="#3a3a3a" stroke-width="0.45"/>
<line x1="403.45" y1="72.93" x2="403.45" y2="101.68" stroke="#111" stroke-width="0.85" />
<line x1="402.25" y1="72.93" x2="404.65" y2="72.93" stroke="#111" stroke-width="0.7" />
<circle cx="403.14" cy="100.24" r="1.30" fill="#111" />
<circle cx="403.10" cy="88.02" r="1.30" fill="#111" />
<circle cx="403.66" cy="73.64" r="1.30" fill="#111" />
<rect x="408.25" y="99.18" width="4.60" height="50.62" fill="#f5a03c" stroke="#3a3a3a" stroke-width="0.45"/>
<line x1="410.55" y1="87.93" x2="410.55" y2="110.43" stroke="#111" stroke-width="0.85" />
<line x1="409.35" y1="87.93" x2="411.75" y2="87.93" stroke="#111" stroke-width="0.7" />
<circle cx="410.25" cy="109.30" r="1.30" fill="#111" />
<circle cx="410.35" cy="99.74" r="1.30" fill="#111" />
<circle cx="410.46" cy="88.49" r="1.30" fill="#111" />
<rect x="415.35" y="111.05" width="4.60" height="38.75" fill="#4f8fd0" stroke="#3a3a3a" stroke-width="0.45"/>
<line x1="417.65" y1="99.80" x2="417.65" y2="122.30" stroke="#111" stroke-width="0.85" />
<line x1="416.45" y1="99.80" x2="418.85" y2="99.80" stroke="#111" stroke-width="0.7" />
<circle cx="417.95" cy="121.18" r="1.30" fill="#111" />
<circle cx="417.31" cy="111.61" r="1.30" fill="#111" />
<circle cx="417.61" cy="100.36" r="1.30" fill="#111" />
<line x1="403.45" y1="149.80" x2="403.45" y2="152.20" stroke="#333" stroke-width="0.6" />
<text x="405.25" y="157.40" font-size="8.0" text-anchor="end" fill="#231f20" color="#231f20" transform="rotate(-30 405.25 157.40)" >H3K56Ac</text>
<rect x="186.20" y="20.50" width="9.8" height="3.1" rx="1.2" fill="#c6dcf2" stroke="#3a3a3a" stroke-width="0.5"/>
<text x="197.80" y="24.20" font-size="8.35" text-anchor="start" fill="#231f20" color="#231f20" >Vehicle</text>
<rect x="229.90" y="20.50" width="9.8" height="3.1" rx="1.2" fill="#a066b0" stroke="#3a3a3a" stroke-width="0.5"/>
<text x="241.50" y="24.20" font-size="8.35" text-anchor="start" fill="#231f20" color="#231f20" >0.125 μM</text>
<rect x="280.70" y="20.50" width="9.8" height="3.1" rx="1.2" fill="#e87a7a" stroke="#3a3a3a" stroke-width="0.5"/>
<text x="292.30" y="24.20" font-size="8.35" text-anchor="start" fill="#231f20" color="#231f20" >0.25 μM</text>
<rect x="186.20" y="30.80" width="9.8" height="3.1" rx="1.2" fill="#f5a03c" stroke="#3a3a3a" stroke-width="0.5"/>
<text x="197.80" y="34.50" font-size="8.35" text-anchor="start" fill="#231f20" color="#231f20" >0.5 μM</text>
<rect x="229.90" y="30.80" width="9.8" height="3.1" rx="1.2" fill="#4f8fd0" stroke="#3a3a3a" stroke-width="0.5"/>
<text x="241.50" y="34.50" font-size="8.35" text-anchor="start" fill="#231f20" color="#231f20" >1 μM</text>
<path d="M188.90,82.90 V68.80 H216.90 V99.30" stroke="#8c8c8c" stroke-width="0.6" fill="none" />
<text x="202.90" y="67.40" font-size="6.9" text-anchor="middle" fill="#3a3a3a" color="#3a3a3a" >0.047</text>
<path d="M229.05,76.80 V59.20 H257.05 V133.00" stroke="#8c8c8c" stroke-width="0.6" fill="none" />
<text x="243.05" y="57.80" font-size="6.9" text-anchor="middle" fill="#3a3a3a" color="#3a3a3a" >0.006</text>
<path d="M229.05,76.80 V68.80 H249.95 V108.50" stroke="#8c8c8c" stroke-width="0.6" fill="none" />
<text x="239.50" y="67.40" font-size="6.9" text-anchor="middle" fill="#3a3a3a" color="#3a3a3a" >0.006</text>
<path d="M269.20,75.00 V68.80 H275.90 V101.30" stroke="#8c8c8c" stroke-width="0.6" fill="none" />
<text x="272.55" y="67.40" font-size="6.9" text-anchor="middle" fill="#3a3a3a" color="#3a3a3a" >0.022</text>
<path d="M269.20,75.00 V59.20 H283.00 V113.60" stroke="#8c8c8c" stroke-width="0.6" fill="none" />
<text x="276.10" y="57.80" font-size="6.9" text-anchor="middle" fill="#3a3a3a" color="#3a3a3a" >0.012</text>
<path d="M269.20,75.00 V49.60 H290.10 V109.50" stroke="#8c8c8c" stroke-width="0.6" fill="none" />
<text x="279.65" y="48.20" font-size="6.9" text-anchor="middle" fill="#3a3a3a" color="#3a3a3a" >0.010</text>
<path d="M269.20,75.00 V39.60 H297.20 V133.00" stroke="#8c8c8c" stroke-width="0.6" fill="none" />
<text x="283.20" y="38.20" font-size="6.9" text-anchor="middle" fill="#3a3a3a" color="#3a3a3a" >0.017</text>
<path d="M309.35,61.70 V59.20 H337.35 V113.80" stroke="#8c8c8c" stroke-width="0.6" fill="none" />
<text x="323.35" y="57.80" font-size="6.9" text-anchor="middle" fill="#3a3a3a" color="#3a3a3a" >0.007</text>
<path d="M309.35,77.00 V68.80 H330.25 V100.50" stroke="#8c8c8c" stroke-width="0.6" fill="none" />
<text x="319.80" y="67.40" font-size="6.9" text-anchor="middle" fill="#3a3a3a" color="#3a3a3a" >0.011</text>
<path d="M349.50,51.60 V49.60 H377.50 V133.20" stroke="#8c8c8c" stroke-width="0.6" fill="none" />
<text x="363.50" y="48.20" font-size="6.9" text-anchor="middle" fill="#3a3a3a" color="#3a3a3a" >0.006</text>
<path d="M349.50,51.60 V59.20 H363.30 V99.50" stroke="#8c8c8c" stroke-width="0.6" fill="none" />
<text x="356.40" y="57.80" font-size="6.9" text-anchor="middle" fill="#3a3a3a" color="#3a3a3a" >0.018</text>
<path d="M349.50,77.00 V68.80 H356.20 V76.00" stroke="#8c8c8c" stroke-width="0.6" fill="none" />
<path d="M389.65,61.50 V59.20 H417.65 V97.40" stroke="#8c8c8c" stroke-width="0.6" fill="none" />
<text x="403.65" y="57.80" font-size="6.9" text-anchor="middle" fill="#3a3a3a" color="#3a3a3a" >0.004</text>
<path d="M389.65,75.00 V68.80 H410.55 V86.20" stroke="#8c8c8c" stroke-width="0.6" fill="none" />
<text x="400.10" y="67.40" font-size="6.9" text-anchor="middle" fill="#3a3a3a" color="#3a3a3a" >0.004</text>
<radialGradient id="spotg"><stop offset="0" stop-color="#d6d6d6"/><stop offset="0.8" stop-color="#cdcdcd"/><stop offset="1" stop-color="#acacac"/></radialGradient>
<radialGradient id="spotg2"><stop offset="0" stop-color="#c8c8c8"/><stop offset="0.8" stop-color="#c0c0c0"/><stop offset="1" stop-color="#a0a0a0"/></radialGradient>
<radialGradient id="spotg3"><stop offset="0" stop-color="#e6e6e6"/><stop offset="0.85" stop-color="#dedede"/><stop offset="1" stop-color="#bebebe"/></radialGradient>
<rect x="484.00" y="49.00" width="88.70" height="14.70" fill="#2c2c2c" />
<circle cx="491.00" cy="56.35" r="6.70" fill="url(#spotg)" />
<circle cx="509.00" cy="56.35" r="6.70" fill="url(#spotg)" />
<circle cx="527.00" cy="56.35" r="6.70" fill="url(#spotg)" />
<circle cx="544.60" cy="56.35" r="6.30" fill="#a6a6a6" />
<circle cx="539.41" cy="54.68" r="0.88" fill="#e2e2e2" />
<circle cx="546.61" cy="54.04" r="0.72" fill="#e2e2e2" />
<circle cx="541.16" cy="60.58" r="0.93" fill="#e2e2e2" />
<circle cx="546.02" cy="58.33" r="0.64" fill="#e2e2e2" />
<circle cx="545.02" cy="60.37" r="0.79" fill="#e2e2e2" />
<circle cx="544.57" cy="56.72" r="0.72" fill="#e2e2e2" />
<circle cx="541.63" cy="59.55" r="0.93" fill="#e2e2e2" />
<circle cx="543.08" cy="52.47" r="0.80" fill="#e2e2e2" />
<circle cx="544.00" cy="55.14" r="0.91" fill="#e2e2e2" />
<circle cx="545.62" cy="51.02" r="0.87" fill="#e2e2e2" />
<circle cx="541.74" cy="58.64" r="0.59" fill="#e2e2e2" />
<circle cx="543.64" cy="55.27" r="0.58" fill="#e2e2e2" />
<circle cx="545.20" cy="58.61" r="0.69" fill="#e2e2e2" />
<circle cx="544.68" cy="56.38" r="0.61" fill="#e2e2e2" />
<circle cx="547.41" cy="58.43" r="0.56" fill="#e2e2e2" />
<circle cx="547.80" cy="53.12" r="0.61" fill="#e2e2e2" />
<circle cx="544.55" cy="59.77" r="0.70" fill="#e2e2e2" />
<circle cx="548.43" cy="60.08" r="0.95" fill="#e2e2e2" />
<circle cx="540.66" cy="57.21" r="0.58" fill="#e2e2e2" />
<circle cx="547.32" cy="58.38" r="0.66" fill="#e2e2e2" />
<circle cx="545.71" cy="54.30" r="0.56" fill="#e2e2e2" />
<circle cx="548.62" cy="55.07" r="0.61" fill="#e2e2e2" />
<circle cx="543.68" cy="56.09" r="0.76" fill="#e2e2e2" />
<circle cx="549.94" cy="55.62" r="0.83" fill="#e2e2e2" />
<circle cx="544.35" cy="59.85" r="0.62" fill="#e2e2e2" />
<circle cx="545.18" cy="52.16" r="0.86" fill="#e2e2e2" />
<circle cx="543.29" cy="58.75" r="0.87" fill="#e2e2e2" />
<circle cx="549.93" cy="55.84" r="0.87" fill="#e2e2e2" />
<circle cx="546.68" cy="51.81" r="0.64" fill="#e2e2e2" />
<circle cx="541.16" cy="55.97" r="0.56" fill="#e2e2e2" />
<circle cx="547.62" cy="56.89" r="0.65" fill="#e2e2e2" />
<circle cx="542.60" cy="51.04" r="0.73" fill="#e2e2e2" />
<circle cx="549.92" cy="54.13" r="0.93" fill="#e2e2e2" />
<circle cx="542.80" cy="58.40" r="0.64" fill="#e2e2e2" />
<circle cx="545.46" cy="58.83" r="0.80" fill="#e2e2e2" />
<circle cx="548.91" cy="53.23" r="0.74" fill="#e2e2e2" />
<circle cx="541.63" cy="52.10" r="0.58" fill="#e2e2e2" />
<circle cx="541.65" cy="51.67" r="0.86" fill="#e2e2e2" />
<circle cx="544.60" cy="52.34" r="0.62" fill="#e2e2e2" />
<circle cx="545.41" cy="53.11" r="0.87" fill="#e2e2e2" />
<circle cx="548.19" cy="55.70" r="0.71" fill="#e2e2e2" />
<circle cx="549.26" cy="54.73" r="0.62" fill="#e2e2e2" />
<circle cx="563.53" cy="58.43" r="0.91" fill="#dcdcdc" />
<circle cx="562.50" cy="53.65" r="0.88" fill="#dcdcdc" />
<circle cx="566.09" cy="55.78" r="0.69" fill="#dcdcdc" />
<circle cx="558.82" cy="55.50" r="0.56" fill="#dcdcdc" />
<circle cx="566.03" cy="55.51" r="0.76" fill="#dcdcdc" />
<circle cx="565.12" cy="54.75" r="0.90" fill="#dcdcdc" />
<circle cx="562.95" cy="53.55" r="0.65" fill="#dcdcdc" />
<circle cx="560.63" cy="59.51" r="0.78" fill="#dcdcdc" />
<circle cx="561.27" cy="60.26" r="0.60" fill="#dcdcdc" />
<circle cx="564.62" cy="54.37" r="0.73" fill="#dcdcdc" />
<circle cx="556.93" cy="53.71" r="0.72" fill="#dcdcdc" />
<circle cx="565.13" cy="54.29" r="0.76" fill="#dcdcdc" />
<circle cx="559.28" cy="56.02" r="0.73" fill="#dcdcdc" />
<circle cx="562.38" cy="58.32" r="0.87" fill="#dcdcdc" />
<circle cx="563.42" cy="59.96" r="0.84" fill="#dcdcdc" />
<circle cx="558.13" cy="55.10" r="0.76" fill="#dcdcdc" />
<circle cx="556.83" cy="54.65" r="0.59" fill="#dcdcdc" />
<circle cx="558.43" cy="55.13" r="0.66" fill="#dcdcdc" />
<circle cx="562.08" cy="52.20" r="0.77" fill="#dcdcdc" />
<circle cx="561.83" cy="51.07" r="0.73" fill="#dcdcdc" />
<rect x="575.10" y="49.00" width="88.80" height="14.70" fill="#2c2c2c" />
<circle cx="582.30" cy="56.35" r="6.70" fill="url(#spotg)" />
<circle cx="599.80" cy="56.35" r="6.70" fill="url(#spotg)" />
<circle cx="617.10" cy="56.35" r="6.70" fill="url(#spotg)" />
<circle cx="634.80" cy="56.35" r="6.30" fill="#a6a6a6" />
<circle cx="631.66" cy="53.67" r="0.75" fill="#e2e2e2" />
<circle cx="633.43" cy="52.70" r="0.76" fill="#e2e2e2" />
<circle cx="629.23" cy="57.12" r="0.83" fill="#e2e2e2" />
<circle cx="638.82" cy="52.41" r="0.65" fill="#e2e2e2" />
<circle cx="629.56" cy="54.29" r="0.89" fill="#e2e2e2" />
<circle cx="636.12" cy="57.89" r="0.73" fill="#e2e2e2" />
<circle cx="637.35" cy="57.60" r="0.58" fill="#e2e2e2" />
<circle cx="632.31" cy="51.86" r="0.91" fill="#e2e2e2" />
<circle cx="637.57" cy="60.40" r="0.81" fill="#e2e2e2" />
<circle cx="638.19" cy="60.61" r="0.94" fill="#e2e2e2" />
<circle cx="635.88" cy="61.91" r="0.71" fill="#e2e2e2" />
<circle cx="629.05" cy="56.81" r="0.88" fill="#e2e2e2" />
<circle cx="636.81" cy="59.59" r="0.76" fill="#e2e2e2" />
<circle cx="633.44" cy="58.52" r="0.68" fill="#e2e2e2" />
<circle cx="634.66" cy="55.55" r="0.77" fill="#e2e2e2" />
<circle cx="634.07" cy="56.64" r="0.68" fill="#e2e2e2" />
<circle cx="631.84" cy="53.43" r="0.58" fill="#e2e2e2" />
<circle cx="639.93" cy="55.87" r="0.94" fill="#e2e2e2" />
<circle cx="637.16" cy="58.18" r="0.57" fill="#e2e2e2" />
<circle cx="635.35" cy="53.38" r="0.60" fill="#e2e2e2" />
<circle cx="629.91" cy="58.95" r="0.88" fill="#e2e2e2" />
<circle cx="634.68" cy="58.59" r="0.92" fill="#e2e2e2" />
<circle cx="630.42" cy="54.27" r="0.59" fill="#e2e2e2" />
<circle cx="639.30" cy="58.05" r="0.72" fill="#e2e2e2" />
<circle cx="639.85" cy="58.82" r="0.80" fill="#e2e2e2" />
<circle cx="635.33" cy="54.76" r="0.89" fill="#e2e2e2" />
<circle cx="639.72" cy="58.54" r="0.73" fill="#e2e2e2" />
<circle cx="632.51" cy="60.00" r="0.92" fill="#e2e2e2" />
<circle cx="634.57" cy="58.42" r="0.76" fill="#e2e2e2" />
<circle cx="634.94" cy="58.26" r="0.61" fill="#e2e2e2" />
<circle cx="637.28" cy="57.16" r="0.67" fill="#e2e2e2" />
<circle cx="633.09" cy="61.11" r="0.67" fill="#e2e2e2" />
<circle cx="632.35" cy="56.35" r="0.69" fill="#e2e2e2" />
<circle cx="637.68" cy="56.68" r="0.56" fill="#e2e2e2" />
<circle cx="634.34" cy="52.07" r="0.63" fill="#e2e2e2" />
<circle cx="629.26" cy="57.24" r="0.59" fill="#e2e2e2" />
<circle cx="636.40" cy="52.89" r="0.75" fill="#e2e2e2" />
<circle cx="636.64" cy="53.22" r="0.75" fill="#e2e2e2" />
<circle cx="632.61" cy="51.04" r="0.69" fill="#e2e2e2" />
<circle cx="637.21" cy="52.11" r="0.80" fill="#e2e2e2" />
<circle cx="631.98" cy="58.28" r="0.57" fill="#e2e2e2" />
<circle cx="635.86" cy="57.47" r="0.85" fill="#e2e2e2" />
<circle cx="653.40" cy="59.30" r="0.58" fill="#dcdcdc" />
<circle cx="656.32" cy="51.99" r="0.82" fill="#dcdcdc" />
<circle cx="652.85" cy="59.57" r="0.67" fill="#dcdcdc" />
<circle cx="650.66" cy="57.09" r="0.73" fill="#dcdcdc" />
<circle cx="653.05" cy="61.74" r="0.94" fill="#dcdcdc" />
<circle cx="650.35" cy="55.39" r="0.94" fill="#dcdcdc" />
<circle cx="652.15" cy="59.80" r="0.55" fill="#dcdcdc" />
<circle cx="650.49" cy="59.12" r="0.75" fill="#dcdcdc" />
<circle cx="654.77" cy="60.34" r="0.55" fill="#dcdcdc" />
<circle cx="653.27" cy="58.96" r="0.71" fill="#dcdcdc" />
<circle cx="655.68" cy="56.94" r="0.67" fill="#dcdcdc" />
<circle cx="653.98" cy="60.75" r="0.76" fill="#dcdcdc" />
<circle cx="653.52" cy="51.72" r="0.84" fill="#dcdcdc" />
<circle cx="656.27" cy="53.72" r="0.68" fill="#dcdcdc" />
<circle cx="656.38" cy="56.07" r="0.84" fill="#dcdcdc" />
<circle cx="652.02" cy="54.49" r="0.88" fill="#dcdcdc" />
<circle cx="657.04" cy="53.50" r="0.84" fill="#dcdcdc" />
<circle cx="654.59" cy="53.72" r="0.76" fill="#dcdcdc" />
<circle cx="648.40" cy="56.21" r="0.87" fill="#dcdcdc" />
<circle cx="655.54" cy="52.43" r="0.91" fill="#dcdcdc" />
<text x="481.60" y="59.65" font-size="9.0" text-anchor="end" fill="#231f20" color="#231f20" >Vehicle</text>
<rect x="484.00" y="65.70" width="88.70" height="14.70" fill="#2c2c2c" />
<circle cx="491.00" cy="73.05" r="7.00" fill="url(#spotg3)" />
<circle cx="509.00" cy="73.05" r="6.70" fill="url(#spotg)" />
<circle cx="527.00" cy="73.05" r="6.70" fill="url(#spotg2)" />
<circle cx="544.60" cy="73.05" r="6.30" fill="#a6a6a6" />
<circle cx="542.62" cy="68.64" r="0.64" fill="#e2e2e2" />
<circle cx="546.68" cy="73.46" r="0.69" fill="#e2e2e2" />
<circle cx="548.79" cy="76.30" r="0.77" fill="#e2e2e2" />
<circle cx="541.41" cy="69.75" r="0.82" fill="#e2e2e2" />
<circle cx="544.27" cy="73.07" r="0.87" fill="#e2e2e2" />
<circle cx="544.56" cy="68.94" r="0.76" fill="#e2e2e2" />
<circle cx="543.80" cy="71.79" r="0.84" fill="#e2e2e2" />
<circle cx="544.58" cy="74.63" r="0.66" fill="#e2e2e2" />
<circle cx="544.26" cy="70.44" r="0.85" fill="#e2e2e2" />
<circle cx="548.63" cy="72.43" r="0.70" fill="#e2e2e2" />
<circle cx="539.85" cy="73.68" r="0.86" fill="#e2e2e2" />
<circle cx="541.15" cy="69.93" r="0.58" fill="#e2e2e2" />
<circle cx="546.36" cy="75.39" r="0.85" fill="#e2e2e2" />
<circle cx="543.13" cy="77.17" r="0.55" fill="#e2e2e2" />
<circle cx="547.39" cy="74.17" r="0.82" fill="#e2e2e2" />
<circle cx="542.91" cy="68.59" r="0.67" fill="#e2e2e2" />
<circle cx="540.67" cy="72.64" r="0.74" fill="#e2e2e2" />
<circle cx="548.63" cy="76.77" r="0.63" fill="#e2e2e2" />
<circle cx="550.16" cy="72.28" r="0.56" fill="#e2e2e2" />
<circle cx="539.52" cy="74.39" r="0.94" fill="#e2e2e2" />
<circle cx="541.74" cy="73.99" r="0.63" fill="#e2e2e2" />
<circle cx="547.11" cy="72.16" r="0.78" fill="#e2e2e2" />
<circle cx="547.24" cy="76.31" r="0.93" fill="#e2e2e2" />
<circle cx="548.13" cy="76.94" r="0.75" fill="#e2e2e2" />
<circle cx="548.29" cy="69.88" r="0.64" fill="#e2e2e2" />
<circle cx="547.84" cy="70.63" r="0.56" fill="#e2e2e2" />
<circle cx="548.67" cy="73.14" r="0.73" fill="#e2e2e2" />
<circle cx="543.90" cy="75.11" r="0.69" fill="#e2e2e2" />
<circle cx="542.46" cy="77.91" r="0.55" fill="#e2e2e2" />
<circle cx="544.62" cy="67.74" r="0.60" fill="#e2e2e2" />
<circle cx="548.98" cy="70.86" r="0.91" fill="#e2e2e2" />
<circle cx="543.72" cy="76.48" r="0.71" fill="#e2e2e2" />
<circle cx="549.05" cy="73.02" r="0.69" fill="#e2e2e2" />
<circle cx="541.86" cy="74.38" r="0.57" fill="#e2e2e2" />
<circle cx="548.85" cy="76.21" r="0.66" fill="#e2e2e2" />
<circle cx="547.26" cy="71.91" r="0.66" fill="#e2e2e2" />
<circle cx="542.08" cy="72.88" r="0.70" fill="#e2e2e2" />
<circle cx="549.85" cy="71.57" r="0.87" fill="#e2e2e2" />
<circle cx="540.83" cy="68.99" r="0.93" fill="#e2e2e2" />
<circle cx="539.91" cy="71.55" r="0.57" fill="#e2e2e2" />
<circle cx="544.17" cy="69.18" r="0.85" fill="#e2e2e2" />
<circle cx="542.69" cy="70.60" r="0.57" fill="#e2e2e2" />
<circle cx="564.00" cy="71.81" r="0.74" fill="#dcdcdc" />
<circle cx="559.56" cy="75.95" r="0.85" fill="#dcdcdc" />
<circle cx="564.81" cy="72.55" r="0.81" fill="#dcdcdc" />
<circle cx="560.14" cy="77.17" r="0.71" fill="#dcdcdc" />
<circle cx="562.96" cy="75.61" r="0.63" fill="#dcdcdc" />
<circle cx="564.96" cy="70.73" r="0.64" fill="#dcdcdc" />
<circle cx="566.07" cy="70.00" r="0.73" fill="#dcdcdc" />
<circle cx="563.47" cy="75.42" r="0.59" fill="#dcdcdc" />
<circle cx="560.07" cy="75.25" r="0.65" fill="#dcdcdc" />
<circle cx="561.27" cy="77.42" r="0.90" fill="#dcdcdc" />
<circle cx="561.49" cy="69.16" r="0.72" fill="#dcdcdc" />
<circle cx="557.77" cy="72.48" r="0.69" fill="#dcdcdc" />
<circle cx="564.66" cy="74.35" r="0.94" fill="#dcdcdc" />
<circle cx="564.44" cy="76.02" r="0.80" fill="#dcdcdc" />
<circle cx="563.57" cy="70.64" r="0.66" fill="#dcdcdc" />
<circle cx="561.54" cy="76.90" r="0.73" fill="#dcdcdc" />
<circle cx="566.42" cy="71.58" r="0.90" fill="#dcdcdc" />
<circle cx="563.79" cy="73.37" r="0.83" fill="#dcdcdc" />
<circle cx="564.74" cy="70.56" r="0.78" fill="#dcdcdc" />
<circle cx="565.32" cy="73.05" r="0.92" fill="#dcdcdc" />
<rect x="575.10" y="65.70" width="88.80" height="14.70" fill="#2c2c2c" />
<circle cx="582.30" cy="73.05" r="6.70" fill="url(#spotg)" />
<circle cx="599.80" cy="73.05" r="6.70" fill="url(#spotg)" />
<circle cx="617.10" cy="73.05" r="6.70" fill="url(#spotg2)" />
<circle cx="634.80" cy="73.05" r="6.30" fill="#a6a6a6" />
<circle cx="637.25" cy="68.28" r="0.94" fill="#e2e2e2" />
<circle cx="634.82" cy="74.97" r="0.61" fill="#e2e2e2" />
<circle cx="630.06" cy="72.38" r="0.93" fill="#e2e2e2" />
<circle cx="633.98" cy="68.46" r="0.86" fill="#e2e2e2" />
<circle cx="630.65" cy="74.19" r="0.57" fill="#e2e2e2" />
<circle cx="635.36" cy="70.31" r="0.92" fill="#e2e2e2" />
<circle cx="632.85" cy="70.52" r="0.60" fill="#e2e2e2" />
<circle cx="634.75" cy="77.68" r="0.83" fill="#e2e2e2" />
<circle cx="635.97" cy="74.05" r="0.76" fill="#e2e2e2" />
<circle cx="631.67" cy="71.25" r="0.64" fill="#e2e2e2" />
<circle cx="634.32" cy="72.70" r="0.67" fill="#e2e2e2" />
<circle cx="629.29" cy="74.44" r="0.81" fill="#e2e2e2" />
<circle cx="637.78" cy="70.38" r="0.64" fill="#e2e2e2" />
<circle cx="634.91" cy="78.73" r="0.83" fill="#e2e2e2" />
<circle cx="634.50" cy="73.85" r="0.75" fill="#e2e2e2" />
<circle cx="633.08" cy="69.71" r="0.65" fill="#e2e2e2" />
<circle cx="632.03" cy="68.21" r="0.64" fill="#e2e2e2" />
<circle cx="638.10" cy="73.77" r="0.72" fill="#e2e2e2" />
<circle cx="633.74" cy="70.70" r="0.87" fill="#e2e2e2" />
<circle cx="634.52" cy="68.94" r="0.63" fill="#e2e2e2" />
<circle cx="637.98" cy="72.44" r="0.88" fill="#e2e2e2" />
<circle cx="635.13" cy="75.76" r="0.85" fill="#e2e2e2" />
<circle cx="633.22" cy="78.48" r="0.75" fill="#e2e2e2" />
<circle cx="635.85" cy="75.58" r="0.72" fill="#e2e2e2" />
<circle cx="631.93" cy="68.18" r="0.61" fill="#e2e2e2" />
<circle cx="632.70" cy="74.71" r="0.94" fill="#e2e2e2" />
<circle cx="635.63" cy="74.08" r="0.57" fill="#e2e2e2" />
<circle cx="630.49" cy="76.46" r="0.90" fill="#e2e2e2" />
<circle cx="634.17" cy="67.29" r="0.92" fill="#e2e2e2" />
<circle cx="633.61" cy="75.24" r="0.92" fill="#e2e2e2" />
<circle cx="634.78" cy="72.01" r="0.82" fill="#e2e2e2" />
<circle cx="632.24" cy="75.50" r="0.68" fill="#e2e2e2" />
<circle cx="634.95" cy="73.32" r="0.66" fill="#e2e2e2" />
<circle cx="631.43" cy="77.61" r="0.60" fill="#e2e2e2" />
<circle cx="637.38" cy="72.46" r="0.69" fill="#e2e2e2" />
<circle cx="637.09" cy="68.31" r="0.72" fill="#e2e2e2" />
<circle cx="638.60" cy="74.27" r="0.70" fill="#e2e2e2" />
<circle cx="637.03" cy="71.82" r="0.70" fill="#e2e2e2" />
<circle cx="635.61" cy="72.44" r="0.71" fill="#e2e2e2" />
<circle cx="636.72" cy="68.35" r="0.57" fill="#e2e2e2" />
<circle cx="636.22" cy="73.37" r="0.92" fill="#e2e2e2" />
<circle cx="634.58" cy="78.06" r="0.91" fill="#e2e2e2" />
<circle cx="651.98" cy="75.48" r="0.69" fill="#cfcfcf" />
<circle cx="651.41" cy="71.16" r="0.61" fill="#cfcfcf" />
<circle cx="652.33" cy="75.69" r="0.40" fill="#cfcfcf" />
<circle cx="653.69" cy="67.79" r="0.59" fill="#cfcfcf" />
<circle cx="654.30" cy="72.75" r="0.47" fill="#cfcfcf" />
<circle cx="648.19" cy="73.89" r="0.69" fill="#cfcfcf" />
<text x="481.60" y="76.35" font-size="9.0" text-anchor="end" fill="#231f20" color="#231f20" >CPTH<tspan font-size="62%" dy="0.9">2</tspan><tspan dy="-0.9"></tspan></text>
<rect x="484.00" y="82.30" width="88.70" height="14.70" fill="#2c2c2c" />
<circle cx="491.00" cy="89.65" r="6.70" fill="url(#spotg)" />
<circle cx="509.00" cy="89.65" r="6.70" fill="url(#spotg)" />
<circle cx="527.00" cy="89.65" r="6.70" fill="url(#spotg2)" />
<circle cx="544.60" cy="89.65" r="6.30" fill="#a6a6a6" />
<circle cx="542.40" cy="91.55" r="0.72" fill="#e2e2e2" />
<circle cx="539.02" cy="89.88" r="0.62" fill="#e2e2e2" />
<circle cx="546.22" cy="84.94" r="0.88" fill="#e2e2e2" />
<circle cx="545.25" cy="85.18" r="0.68" fill="#e2e2e2" />
<circle cx="543.12" cy="92.81" r="0.86" fill="#e2e2e2" />
<circle cx="546.87" cy="90.88" r="0.85" fill="#e2e2e2" />
<circle cx="544.62" cy="91.13" r="0.56" fill="#e2e2e2" />
<circle cx="541.47" cy="88.58" r="0.94" fill="#e2e2e2" />
<circle cx="548.89" cy="85.80" r="0.66" fill="#e2e2e2" />
<circle cx="546.16" cy="90.56" r="0.75" fill="#e2e2e2" />
<circle cx="543.63" cy="85.90" r="0.64" fill="#e2e2e2" />
<circle cx="540.64" cy="91.93" r="0.82" fill="#e2e2e2" />
<circle cx="544.53" cy="84.31" r="0.82" fill="#e2e2e2" />
<circle cx="548.45" cy="93.32" r="0.67" fill="#e2e2e2" />
<circle cx="541.37" cy="88.20" r="0.85" fill="#e2e2e2" />
<circle cx="545.51" cy="92.39" r="0.65" fill="#e2e2e2" />
<circle cx="547.71" cy="94.13" r="0.78" fill="#e2e2e2" />
<circle cx="542.92" cy="92.89" r="0.95" fill="#e2e2e2" />
<circle cx="541.81" cy="89.52" r="0.87" fill="#e2e2e2" />
<circle cx="541.30" cy="84.91" r="0.59" fill="#e2e2e2" />
<circle cx="539.42" cy="90.48" r="0.89" fill="#e2e2e2" />
<circle cx="545.60" cy="89.05" r="0.67" fill="#e2e2e2" />
<circle cx="546.45" cy="91.37" r="0.94" fill="#e2e2e2" />
<circle cx="539.75" cy="86.86" r="0.70" fill="#e2e2e2" />
<circle cx="547.19" cy="86.75" r="0.65" fill="#e2e2e2" />
<circle cx="545.58" cy="84.10" r="0.59" fill="#e2e2e2" />
<circle cx="540.84" cy="87.06" r="0.64" fill="#e2e2e2" />
<circle cx="543.12" cy="91.25" r="0.63" fill="#e2e2e2" />
<circle cx="544.46" cy="94.14" r="0.81" fill="#e2e2e2" />
<circle cx="544.78" cy="90.24" r="0.68" fill="#e2e2e2" />
<circle cx="543.51" cy="87.40" r="0.67" fill="#e2e2e2" />
<circle cx="546.09" cy="94.60" r="0.77" fill="#e2e2e2" />
<circle cx="546.30" cy="90.36" r="0.71" fill="#e2e2e2" />
<circle cx="540.19" cy="88.21" r="0.59" fill="#e2e2e2" />
<circle cx="547.10" cy="93.79" r="0.71" fill="#e2e2e2" />
<circle cx="543.93" cy="92.80" r="0.93" fill="#e2e2e2" />
<circle cx="542.93" cy="93.68" r="0.69" fill="#e2e2e2" />
<circle cx="539.93" cy="92.35" r="0.95" fill="#e2e2e2" />
<circle cx="542.91" cy="91.59" r="0.84" fill="#e2e2e2" />
<circle cx="544.73" cy="90.08" r="0.91" fill="#e2e2e2" />
<circle cx="539.94" cy="92.07" r="0.71" fill="#e2e2e2" />
<circle cx="547.52" cy="87.01" r="0.62" fill="#e2e2e2" />
<circle cx="565.81" cy="90.05" r="0.81" fill="#dcdcdc" />
<circle cx="563.70" cy="88.25" r="0.80" fill="#dcdcdc" />
<circle cx="558.62" cy="92.69" r="0.61" fill="#dcdcdc" />
<circle cx="560.62" cy="93.79" r="0.92" fill="#dcdcdc" />
<circle cx="564.71" cy="92.27" r="0.87" fill="#dcdcdc" />
<circle cx="564.53" cy="89.01" r="0.60" fill="#dcdcdc" />
<circle cx="566.60" cy="87.74" r="0.74" fill="#dcdcdc" />
<circle cx="566.53" cy="91.40" r="0.71" fill="#dcdcdc" />
<circle cx="565.23" cy="87.09" r="0.88" fill="#dcdcdc" />
<circle cx="564.16" cy="93.85" r="0.64" fill="#dcdcdc" />
<circle cx="557.27" cy="92.55" r="0.88" fill="#dcdcdc" />
<circle cx="562.80" cy="92.56" r="0.71" fill="#dcdcdc" />
<circle cx="557.73" cy="89.22" r="0.60" fill="#dcdcdc" />
<circle cx="561.59" cy="94.46" r="0.91" fill="#dcdcdc" />
<circle cx="565.71" cy="90.76" r="0.85" fill="#dcdcdc" />
<circle cx="566.46" cy="90.86" r="0.60" fill="#dcdcdc" />
<circle cx="558.00" cy="87.12" r="0.80" fill="#dcdcdc" />
<circle cx="560.15" cy="93.32" r="0.78" fill="#dcdcdc" />
<circle cx="557.36" cy="91.73" r="0.73" fill="#dcdcdc" />
<circle cx="559.40" cy="90.51" r="0.80" fill="#dcdcdc" />
<rect x="575.10" y="82.30" width="88.80" height="14.70" fill="#2c2c2c" />
<circle cx="582.30" cy="89.65" r="7.00" fill="url(#spotg3)" />
<circle cx="599.80" cy="89.65" r="7.00" fill="url(#spotg3)" />
<circle cx="617.10" cy="89.65" r="6.70" fill="url(#spotg)" />
<circle cx="634.80" cy="89.65" r="6.30" fill="#a6a6a6" />
<circle cx="631.99" cy="89.84" r="0.86" fill="#e2e2e2" />
<circle cx="635.54" cy="85.79" r="0.62" fill="#e2e2e2" />
<circle cx="632.93" cy="89.97" r="0.60" fill="#e2e2e2" />
<circle cx="633.21" cy="90.39" r="0.73" fill="#e2e2e2" />
<circle cx="633.63" cy="89.58" r="0.80" fill="#e2e2e2" />
<circle cx="639.12" cy="92.10" r="0.86" fill="#e2e2e2" />
<circle cx="633.45" cy="89.55" r="0.75" fill="#e2e2e2" />
<circle cx="630.73" cy="93.58" r="0.60" fill="#e2e2e2" />
<circle cx="638.41" cy="85.12" r="0.84" fill="#e2e2e2" />
<circle cx="635.81" cy="87.31" r="0.94" fill="#e2e2e2" />
<circle cx="629.13" cy="89.94" r="0.92" fill="#e2e2e2" />
<circle cx="637.42" cy="94.08" r="0.92" fill="#e2e2e2" />
<circle cx="637.95" cy="91.02" r="0.85" fill="#e2e2e2" />
<circle cx="637.78" cy="94.26" r="0.66" fill="#e2e2e2" />
<circle cx="635.68" cy="87.64" r="0.75" fill="#e2e2e2" />
<circle cx="637.12" cy="88.37" r="0.66" fill="#e2e2e2" />
<circle cx="631.53" cy="89.53" r="0.56" fill="#e2e2e2" />
<circle cx="635.76" cy="91.77" r="0.92" fill="#e2e2e2" />
<circle cx="632.45" cy="84.69" r="0.62" fill="#e2e2e2" />
<circle cx="635.23" cy="87.73" r="0.76" fill="#e2e2e2" />
<circle cx="632.52" cy="87.02" r="0.90" fill="#e2e2e2" />
<circle cx="630.65" cy="88.15" r="0.90" fill="#e2e2e2" />
<circle cx="639.38" cy="93.18" r="0.80" fill="#e2e2e2" />
<circle cx="630.72" cy="92.84" r="0.66" fill="#e2e2e2" />
<circle cx="639.20" cy="89.39" r="0.69" fill="#e2e2e2" />
<circle cx="635.15" cy="85.81" r="0.62" fill="#e2e2e2" />
<circle cx="634.75" cy="88.38" r="0.88" fill="#e2e2e2" />
<circle cx="634.69" cy="94.29" r="0.94" fill="#e2e2e2" />
<circle cx="630.75" cy="87.22" r="0.68" fill="#e2e2e2" />
<circle cx="635.87" cy="89.66" r="0.61" fill="#e2e2e2" />
<circle cx="631.96" cy="87.11" r="0.76" fill="#e2e2e2" />
<circle cx="636.47" cy="88.36" r="0.64" fill="#e2e2e2" />
<circle cx="634.30" cy="88.94" r="0.55" fill="#e2e2e2" />
<circle cx="633.64" cy="91.14" r="0.69" fill="#e2e2e2" />
<circle cx="635.51" cy="94.02" r="0.79" fill="#e2e2e2" />
<circle cx="636.10" cy="94.04" r="0.74" fill="#e2e2e2" />
<circle cx="638.52" cy="93.85" r="0.65" fill="#e2e2e2" />
<circle cx="635.86" cy="91.10" r="0.81" fill="#e2e2e2" />
<circle cx="638.34" cy="85.94" r="0.71" fill="#e2e2e2" />
<circle cx="634.74" cy="90.27" r="0.81" fill="#e2e2e2" />
<circle cx="631.63" cy="88.34" r="0.81" fill="#e2e2e2" />
<circle cx="629.53" cy="91.59" r="0.84" fill="#e2e2e2" />
<circle cx="653.55" cy="94.92" r="0.57" fill="#dcdcdc" />
<circle cx="649.71" cy="88.89" r="0.65" fill="#dcdcdc" />
<circle cx="658.13" cy="91.43" r="0.55" fill="#dcdcdc" />
<circle cx="648.41" cy="87.96" r="0.61" fill="#dcdcdc" />
<circle cx="654.90" cy="93.92" r="0.75" fill="#dcdcdc" />
<circle cx="650.32" cy="85.73" r="0.62" fill="#dcdcdc" />
<circle cx="652.22" cy="92.91" r="0.57" fill="#dcdcdc" />
<circle cx="657.31" cy="86.47" r="0.84" fill="#dcdcdc" />
<circle cx="658.62" cy="89.85" r="0.85" fill="#dcdcdc" />
<circle cx="648.76" cy="90.70" r="0.73" fill="#dcdcdc" />
<circle cx="653.91" cy="92.31" r="0.64" fill="#dcdcdc" />
<circle cx="657.02" cy="90.53" r="0.85" fill="#dcdcdc" />
<circle cx="651.77" cy="84.83" r="0.83" fill="#dcdcdc" />
<circle cx="653.07" cy="93.96" r="0.72" fill="#dcdcdc" />
<circle cx="654.51" cy="85.53" r="0.66" fill="#dcdcdc" />
<circle cx="650.10" cy="85.43" r="0.64" fill="#dcdcdc" />
<circle cx="655.12" cy="88.13" r="0.65" fill="#dcdcdc" />
<circle cx="653.92" cy="94.50" r="0.93" fill="#dcdcdc" />
<circle cx="653.41" cy="86.05" r="0.90" fill="#dcdcdc" />
<circle cx="651.95" cy="92.53" r="0.91" fill="#dcdcdc" />
<text x="481.60" y="92.95" font-size="9.0" text-anchor="end" fill="#231f20" color="#231f20" >CAS</text>
<rect x="484.00" y="99.30" width="88.70" height="14.70" fill="#2c2c2c" />
<circle cx="491.00" cy="106.65" r="6.70" fill="url(#spotg)" />
<circle cx="509.00" cy="106.65" r="6.70" fill="url(#spotg)" />
<circle cx="523.77" cy="103.18" r="0.43" fill="#6a6a6a" />
<circle cx="530.87" cy="106.14" r="0.47" fill="#6a6a6a" />
<circle cx="525.29" cy="101.65" r="0.39" fill="#6a6a6a" />
<circle cx="526.32" cy="102.40" r="0.36" fill="#6a6a6a" />
<circle cx="528.06" cy="111.02" r="0.32" fill="#6a6a6a" />
<circle cx="528.84" cy="105.50" r="0.31" fill="#6a6a6a" />
<circle cx="531.31" cy="110.06" r="0.37" fill="#6a6a6a" />
<circle cx="527.61" cy="107.40" r="0.31" fill="#6a6a6a" />
<circle cx="543.00" cy="102.40" r="0.44" fill="#6a6a6a" />
<circle cx="544.48" cy="105.19" r="0.42" fill="#6a6a6a" />
<circle cx="541.23" cy="110.55" r="0.46" fill="#6a6a6a" />
<circle cx="545.74" cy="105.73" r="0.47" fill="#6a6a6a" />
<circle cx="549.36" cy="103.81" r="0.32" fill="#6a6a6a" />
<circle cx="545.12" cy="108.48" r="0.31" fill="#6a6a6a" />
<circle cx="547.56" cy="102.45" r="0.43" fill="#6a6a6a" />
<circle cx="546.66" cy="102.61" r="0.36" fill="#6a6a6a" />
<circle cx="562.94" cy="107.70" r="0.45" fill="#6a6a6a" />
<circle cx="562.40" cy="109.74" r="0.38" fill="#6a6a6a" />
<circle cx="564.36" cy="107.03" r="0.36" fill="#6a6a6a" />
<circle cx="560.76" cy="103.27" r="0.36" fill="#6a6a6a" />
<circle cx="565.44" cy="105.74" r="0.47" fill="#6a6a6a" />
<circle cx="560.76" cy="105.97" r="0.38" fill="#6a6a6a" />
<circle cx="556.88" cy="108.60" r="0.37" fill="#6a6a6a" />
<circle cx="560.33" cy="102.64" r="0.34" fill="#6a6a6a" />
<rect x="575.10" y="99.30" width="88.80" height="14.70" fill="#2c2c2c" />
<circle cx="582.30" cy="106.65" r="7.00" fill="url(#spotg3)" />
<circle cx="599.80" cy="106.65" r="6.70" fill="#a8a8a8" />
<circle cx="601.01" cy="105.23" r="0.69" fill="#d0d0d0" />
<circle cx="599.91" cy="106.85" r="0.47" fill="#d0d0d0" />
<circle cx="600.27" cy="100.54" r="0.40" fill="#d0d0d0" />
<circle cx="595.46" cy="106.90" r="0.68" fill="#d0d0d0" />
<circle cx="601.54" cy="110.65" r="0.52" fill="#d0d0d0" />
<circle cx="601.36" cy="103.89" r="0.73" fill="#d0d0d0" />
<circle cx="599.20" cy="109.46" r="0.64" fill="#d0d0d0" />
<circle cx="597.74" cy="106.67" r="0.62" fill="#d0d0d0" />
<circle cx="604.61" cy="109.33" r="0.64" fill="#d0d0d0" />
<circle cx="600.93" cy="101.87" r="0.52" fill="#d0d0d0" />
<circle cx="596.63" cy="108.91" r="0.71" fill="#d0d0d0" />
<circle cx="604.81" cy="109.66" r="0.41" fill="#d0d0d0" />
<circle cx="600.67" cy="109.71" r="0.72" fill="#d0d0d0" />
<circle cx="595.98" cy="106.62" r="0.71" fill="#d0d0d0" />
<circle cx="600.23" cy="110.84" r="0.59" fill="#d0d0d0" />
<circle cx="599.95" cy="101.27" r="0.63" fill="#d0d0d0" />
<circle cx="597.74" cy="109.54" r="0.45" fill="#d0d0d0" />
<circle cx="602.59" cy="102.44" r="0.66" fill="#d0d0d0" />
<circle cx="601.79" cy="110.24" r="0.67" fill="#d0d0d0" />
<circle cx="597.87" cy="105.60" r="0.56" fill="#d0d0d0" />
<circle cx="602.07" cy="104.65" r="0.47" fill="#d0d0d0" />
<circle cx="598.15" cy="111.58" r="0.70" fill="#d0d0d0" />
<circle cx="601.18" cy="108.67" r="0.49" fill="#d0d0d0" />
<circle cx="597.73" cy="110.62" r="0.46" fill="#d0d0d0" />
<circle cx="598.53" cy="109.03" r="0.74" fill="#d0d0d0" />
<circle cx="599.54" cy="104.69" r="0.74" fill="#d0d0d0" />
<circle cx="602.89" cy="108.94" r="0.74" fill="#d0d0d0" />
<circle cx="601.28" cy="101.55" r="0.55" fill="#d0d0d0" />
<circle cx="601.44" cy="111.32" r="0.44" fill="#d0d0d0" />
<circle cx="600.84" cy="110.37" r="0.41" fill="#d0d0d0" />
<circle cx="595.36" cy="109.92" r="0.64" fill="#d0d0d0" />
<circle cx="594.87" cy="106.63" r="0.56" fill="#d0d0d0" />
<circle cx="602.83" cy="110.40" r="0.54" fill="#d0d0d0" />
<circle cx="599.46" cy="100.75" r="0.55" fill="#d0d0d0" />
<circle cx="595.00" cy="104.24" r="0.55" fill="#d0d0d0" />
<circle cx="600.51" cy="111.87" r="0.71" fill="#d0d0d0" />
<circle cx="600.58" cy="101.52" r="0.70" fill="#d0d0d0" />
<circle cx="597.67" cy="102.16" r="0.56" fill="#d0d0d0" />
<circle cx="597.90" cy="111.18" r="0.43" fill="#d0d0d0" />
<circle cx="595.00" cy="109.30" r="0.65" fill="#d0d0d0" />
<circle cx="597.67" cy="104.40" r="0.55" fill="#d0d0d0" />
<circle cx="595.10" cy="108.01" r="0.54" fill="#d0d0d0" />
<circle cx="597.09" cy="101.32" r="0.46" fill="#d0d0d0" />
<circle cx="596.71" cy="102.14" r="0.54" fill="#d0d0d0" />
<circle cx="593.69" cy="107.04" r="0.41" fill="#d0d0d0" />
<circle cx="614.90" cy="106.03" r="0.46" fill="#6a6a6a" />
<circle cx="620.92" cy="105.15" r="0.32" fill="#6a6a6a" />
<circle cx="613.36" cy="104.76" r="0.44" fill="#6a6a6a" />
<circle cx="612.56" cy="106.30" r="0.47" fill="#6a6a6a" />
<circle cx="613.48" cy="106.15" r="0.49" fill="#6a6a6a" />
<circle cx="618.27" cy="111.22" r="0.38" fill="#6a6a6a" />
<circle cx="617.26" cy="104.66" r="0.50" fill="#6a6a6a" />
<circle cx="616.27" cy="107.72" r="0.35" fill="#6a6a6a" />
<circle cx="634.27" cy="107.04" r="0.38" fill="#6a6a6a" />
<circle cx="630.62" cy="108.93" r="0.37" fill="#6a6a6a" />
<circle cx="634.54" cy="109.34" r="0.45" fill="#6a6a6a" />
<circle cx="638.65" cy="105.12" r="0.34" fill="#6a6a6a" />
<circle cx="635.93" cy="103.27" r="0.34" fill="#6a6a6a" />
<circle cx="638.25" cy="110.30" r="0.46" fill="#6a6a6a" />
<circle cx="632.21" cy="103.73" r="0.41" fill="#6a6a6a" />
<circle cx="635.64" cy="112.18" r="0.37" fill="#6a6a6a" />
<circle cx="650.18" cy="102.70" r="0.46" fill="#6a6a6a" />
<circle cx="650.47" cy="107.27" r="0.41" fill="#6a6a6a" />
<circle cx="657.18" cy="110.33" r="0.37" fill="#6a6a6a" />
<circle cx="655.24" cy="104.27" r="0.38" fill="#6a6a6a" />
<circle cx="653.42" cy="110.37" r="0.34" fill="#6a6a6a" />
<circle cx="658.34" cy="106.73" r="0.36" fill="#6a6a6a" />
<circle cx="653.60" cy="109.78" r="0.40" fill="#6a6a6a" />
<circle cx="649.40" cy="108.63" r="0.43" fill="#6a6a6a" />
<text x="481.60" y="109.95" font-size="9.0" text-anchor="end" fill="#231f20" color="#231f20" >Combo</text>
<text x="528.30" y="46.70" font-size="8.4" text-anchor="middle" fill="#231f20" color="#231f20" >CBS12767</text>
<text x="619.50" y="46.70" font-size="8.4" text-anchor="middle" fill="#231f20" color="#231f20" >yCB799</text>
<line x1="31.70" y1="354.90" x2="31.70" y2="423.90" stroke="#333" stroke-width="0.75" />
<line x1="31.70" y1="423.90" x2="134.40" y2="423.90" stroke="#333" stroke-width="0.75" />
<line x1="29.50" y1="423.90" x2="31.70" y2="423.90" stroke="#333" stroke-width="0.7" />
<text x="28.10" y="426.70" font-size="8.0" text-anchor="end" fill="#231f20" color="#231f20" >0</text>
<line x1="29.50" y1="410.16" x2="31.70" y2="410.16" stroke="#333" stroke-width="0.7" />
<text x="28.10" y="412.96" font-size="8.0" text-anchor="end" fill="#231f20" color="#231f20" >2</text>
<line x1="29.50" y1="396.42" x2="31.70" y2="396.42" stroke="#333" stroke-width="0.7" />
<text x="28.10" y="399.22" font-size="8.0" text-anchor="end" fill="#231f20" color="#231f20" >4</text>
<line x1="29.50" y1="382.68" x2="31.70" y2="382.68" stroke="#333" stroke-width="0.7" />
<text x="28.10" y="385.48" font-size="8.0" text-anchor="end" fill="#231f20" color="#231f20" >6</text>
<line x1="29.50" y1="368.94" x2="31.70" y2="368.94" stroke="#333" stroke-width="0.7" />
<text x="28.10" y="371.74" font-size="8.0" text-anchor="end" fill="#231f20" color="#231f20" >8</text>
<line x1="29.50" y1="355.20" x2="31.70" y2="355.20" stroke="#333" stroke-width="0.7" />
<text x="28.10" y="358.00" font-size="8.0" text-anchor="end" fill="#231f20" color="#231f20" >10</text>
<line x1="32.10" y1="423.90" x2="32.10" y2="426.10" stroke="#333" stroke-width="0.7" />
<text x="32.10" y="433.70" font-size="8.0" text-anchor="middle" fill="#231f20" color="#231f20" >0</text>
<line x1="49.10" y1="423.90" x2="49.10" y2="426.10" stroke="#333" stroke-width="0.7" />
<text x="49.10" y="433.70" font-size="8.0" text-anchor="middle" fill="#231f20" color="#231f20" >8</text>
<line x1="66.10" y1="423.90" x2="66.10" y2="426.10" stroke="#333" stroke-width="0.7" />
<text x="66.10" y="433.70" font-size="8.0" text-anchor="middle" fill="#231f20" color="#231f20" >16</text>
<line x1="83.10" y1="423.90" x2="83.10" y2="426.10" stroke="#333" stroke-width="0.7" />
<text x="83.10" y="433.70" font-size="8.0" text-anchor="middle" fill="#231f20" color="#231f20" >24</text>
<line x1="100.10" y1="423.90" x2="100.10" y2="426.10" stroke="#333" stroke-width="0.7" />
<text x="100.10" y="433.70" font-size="8.0" text-anchor="middle" fill="#231f20" color="#231f20" >32</text>
<line x1="117.10" y1="423.90" x2="117.10" y2="426.10" stroke="#333" stroke-width="0.7" />
<text x="117.10" y="433.70" font-size="8.0" text-anchor="middle" fill="#231f20" color="#231f20" >40</text>
<line x1="134.10" y1="423.90" x2="134.10" y2="426.10" stroke="#333" stroke-width="0.7" />
<text x="134.10" y="433.70" font-size="8.0" text-anchor="middle" fill="#231f20" color="#231f20" >48</text>
<text x="83.10" y="444.70" font-size="8.3" text-anchor="middle" fill="#231f20" color="#231f20" >Time (h)</text>
<text x="83.95" y="348.80" font-size="8.3" text-anchor="middle" fill="#231f20" color="#231f20" >CBS12767</text>
<text x="16.70" y="389.70" font-size="8.3" text-anchor="middle" fill="#231f20" color="#231f20" transform="rotate(-90 16.70 389.70)" >Log<tspan font-size="62%" dy="0.6">10</tspan><tspan dy="-0.6"> CFU/mL</tspan></text>
<polyline points="32.10,380.41 36.35,379.79 40.60,379.31 49.10,373.20 83.10,367.50 134.10,367.50" fill="none" stroke="#111111" stroke-width="0.75"/>
<circle cx="32.10" cy="380.41" r="1.47" fill="#111111" />
<circle cx="36.35" cy="379.79" r="1.47" fill="#111111" />
<circle cx="40.60" cy="379.31" r="1.47" fill="#111111" />
<circle cx="49.10" cy="373.20" r="1.47" fill="#111111" />
<circle cx="83.10" cy="367.50" r="1.47" fill="#111111" />
<circle cx="134.10" cy="367.50" r="1.47" fill="#111111" />
<polyline points="32.10,380.62 36.35,382.68 40.60,381.51 49.10,376.70 83.10,369.01 134.10,369.28" fill="none" stroke="#a070c8" stroke-width="0.75"/>
<rect x="30.68" y="379.19" width="2.85" height="2.85" fill="#a070c8" />
<rect x="34.93" y="381.25" width="2.85" height="2.85" fill="#a070c8" />
<rect x="39.18" y="380.09" width="2.85" height="2.85" fill="#a070c8" />
<rect x="47.68" y="375.28" width="2.85" height="2.85" fill="#a070c8" />
<rect x="81.67" y="367.58" width="2.85" height="2.85" fill="#a070c8" />
<rect x="132.67" y="367.86" width="2.85" height="2.85" fill="#a070c8" />
<polyline points="32.10,380.62 36.35,384.74 40.60,384.60 49.10,383.37 83.10,371.21 134.10,368.39" fill="none" stroke="#3b4dff" stroke-width="0.75"/>
<path d="M30.49,379.48 L33.72,379.48 L32.10,382.23 Z" fill="#3b4dff"/>
<path d="M34.73,383.60 L37.97,383.60 L36.35,386.36 Z" fill="#3b4dff"/>
<path d="M38.98,383.46 L42.22,383.46 L40.60,386.22 Z" fill="#3b4dff"/>
<path d="M47.48,382.23 L50.72,382.23 L49.10,384.98 Z" fill="#3b4dff"/>
<path d="M81.48,370.07 L84.71,370.07 L83.10,372.82 Z" fill="#3b4dff"/>
<path d="M132.48,367.25 L135.72,367.25 L134.10,370.01 Z" fill="#3b4dff"/>
<polyline points="32.10,380.62 36.35,386.11 40.60,389.21 49.10,390.24 83.10,385.29 134.10,376.70" fill="none" stroke="#ff3030" stroke-width="0.75"/>
<path d="M30.68,380.62 L32.10,379.19 L33.52,380.62 L32.10,382.04 Z" fill="#ff3030"/>
<path d="M34.93,386.11 L36.35,384.69 L37.77,386.11 L36.35,387.54 Z" fill="#ff3030"/>
<path d="M39.18,389.21 L40.60,387.78 L42.02,389.21 L40.60,390.63 Z" fill="#ff3030"/>
<path d="M47.68,390.24 L49.10,388.81 L50.52,390.24 L49.10,391.66 Z" fill="#ff3030"/>
<path d="M81.67,385.29 L83.10,383.87 L84.52,385.29 L83.10,386.72 Z" fill="#ff3030"/>
<path d="M132.67,376.70 L134.10,375.28 L135.53,376.70 L134.10,378.13 Z" fill="#ff3030"/>
<polyline points="32.10,380.62 36.35,386.39 40.60,386.11 49.10,387.70 83.10,386.39 134.10,373.89" fill="none" stroke="#3b4dff" stroke-width="0.75" stroke-dasharray="1.3,1.1"/>
<path d="M30.49,379.48 L33.72,379.48 L32.10,382.23 Z" fill="#3b4dff"/>
<path d="M34.73,385.25 L37.97,385.25 L36.35,388.00 Z" fill="#3b4dff"/>
<path d="M38.98,384.97 L42.22,384.97 L40.60,387.73 Z" fill="#3b4dff"/>
<path d="M47.48,386.56 L50.72,386.56 L49.10,389.31 Z" fill="#3b4dff"/>
<path d="M81.48,385.25 L84.71,385.25 L83.10,388.00 Z" fill="#3b4dff"/>
<path d="M132.48,372.75 L135.72,372.75 L134.10,375.50 Z" fill="#3b4dff"/>
<polyline points="32.10,380.62 36.35,386.39 40.60,386.80 49.10,388.59 83.10,394.70 134.10,404.60" fill="none" stroke="#ff3030" stroke-width="0.75" stroke-dasharray="1.3,1.1"/>
<path d="M30.68,380.62 L32.10,379.19 L33.52,380.62 L32.10,382.04 Z" fill="#ff3030"/>
<path d="M34.93,386.39 L36.35,384.96 L37.77,386.39 L36.35,387.81 Z" fill="#ff3030"/>
<path d="M39.18,386.80 L40.60,385.38 L42.02,386.80 L40.60,388.23 Z" fill="#ff3030"/>
<path d="M47.68,388.59 L49.10,387.16 L50.52,388.59 L49.10,390.01 Z" fill="#ff3030"/>
<path d="M81.67,394.70 L83.10,393.28 L84.52,394.70 L83.10,396.13 Z" fill="#ff3030"/>
<path d="M132.67,404.60 L134.10,403.17 L135.53,404.60 L134.10,406.02 Z" fill="#ff3030"/>
<line x1="142.00" y1="357.70" x2="148.40" y2="357.70" stroke="#111111" stroke-width="0.75"/>
<circle cx="145.40" cy="357.70" r="1.40" fill="#111111" />
<text x="150.20" y="360.60" font-size="8.3" text-anchor="start" fill="#231f20" color="#231f20" >Vehicle</text>
<line x1="142.00" y1="368.20" x2="148.40" y2="368.20" stroke="#a070c8" stroke-width="0.75"/>
<rect x="144.05" y="366.85" width="2.70" height="2.70" fill="#a070c8" />
<text x="150.20" y="371.10" font-size="8.3" text-anchor="start" fill="#231f20" color="#231f20" >CPTH<tspan font-size="62%" dy="0.9">2</tspan><tspan dy="-0.9"></tspan> 4 μM</text>
<line x1="142.00" y1="378.70" x2="148.40" y2="378.70" stroke="#3b4dff" stroke-width="0.75"/>
<path d="M143.87,377.62 L146.93,377.62 L145.40,380.23 Z" fill="#3b4dff"/>
<text x="150.20" y="381.60" font-size="8.3" text-anchor="start" fill="#231f20" color="#231f20" >CAS 7.8 ng/mL</text>
<line x1="142.00" y1="389.20" x2="148.40" y2="389.20" stroke="#ff3030" stroke-width="0.75"/>
<path d="M144.05,389.20 L145.40,387.85 L146.75,389.20 L145.40,390.55 Z" fill="#ff3030"/>
<text x="150.20" y="392.10" font-size="8.3" text-anchor="start" fill="#231f20" color="#231f20" >CAS 31.25 ng/mL</text>
<line x1="142.00" y1="399.70" x2="148.40" y2="399.70" stroke="#3b4dff" stroke-width="0.75" stroke-dasharray="1.3,1.1"/>
<path d="M143.87,398.62 L146.93,398.62 L145.40,401.23 Z" fill="#3b4dff"/>
<text x="150.20" y="402.60" font-size="8.3" text-anchor="start" fill="#231f20" color="#231f20" >Combo 1</text>
<line x1="142.00" y1="410.20" x2="148.40" y2="410.20" stroke="#ff3030" stroke-width="0.75" stroke-dasharray="1.3,1.1"/>
<path d="M144.05,410.20 L145.40,408.85 L146.75,410.20 L145.40,411.55 Z" fill="#ff3030"/>
<text x="150.20" y="413.10" font-size="8.3" text-anchor="start" fill="#231f20" color="#231f20" >Combo 2</text>
<line x1="31.50" y1="503.10" x2="31.50" y2="572.10" stroke="#333" stroke-width="0.75" />
<line x1="31.50" y1="572.10" x2="134.20" y2="572.10" stroke="#333" stroke-width="0.75" />
<line x1="29.30" y1="572.10" x2="31.50" y2="572.10" stroke="#333" stroke-width="0.7" />
<text x="27.90" y="574.90" font-size="8.0" text-anchor="end" fill="#231f20" color="#231f20" >0</text>
<line x1="29.30" y1="558.36" x2="31.50" y2="558.36" stroke="#333" stroke-width="0.7" />
<text x="27.90" y="561.16" font-size="8.0" text-anchor="end" fill="#231f20" color="#231f20" >2</text>
<line x1="29.30" y1="544.62" x2="31.50" y2="544.62" stroke="#333" stroke-width="0.7" />
<text x="27.90" y="547.42" font-size="8.0" text-anchor="end" fill="#231f20" color="#231f20" >4</text>
<line x1="29.30" y1="530.88" x2="31.50" y2="530.88" stroke="#333" stroke-width="0.7" />
<text x="27.90" y="533.68" font-size="8.0" text-anchor="end" fill="#231f20" color="#231f20" >6</text>
<line x1="29.30" y1="517.14" x2="31.50" y2="517.14" stroke="#333" stroke-width="0.7" />
<text x="27.90" y="519.94" font-size="8.0" text-anchor="end" fill="#231f20" color="#231f20" >8</text>
<line x1="29.30" y1="503.40" x2="31.50" y2="503.40" stroke="#333" stroke-width="0.7" />
<text x="27.90" y="506.20" font-size="8.0" text-anchor="end" fill="#231f20" color="#231f20" >10</text>
<line x1="31.90" y1="572.10" x2="31.90" y2="574.30" stroke="#333" stroke-width="0.7" />
<text x="31.90" y="581.90" font-size="8.0" text-anchor="middle" fill="#231f20" color="#231f20" >0</text>
<line x1="48.90" y1="572.10" x2="48.90" y2="574.30" stroke="#333" stroke-width="0.7" />
<text x="48.90" y="581.90" font-size="8.0" text-anchor="middle" fill="#231f20" color="#231f20" >8</text>
<line x1="65.90" y1="572.10" x2="65.90" y2="574.30" stroke="#333" stroke-width="0.7" />
<text x="65.90" y="581.90" font-size="8.0" text-anchor="middle" fill="#231f20" color="#231f20" >16</text>
<line x1="82.90" y1="572.10" x2="82.90" y2="574.30" stroke="#333" stroke-width="0.7" />
<text x="82.90" y="581.90" font-size="8.0" text-anchor="middle" fill="#231f20" color="#231f20" >24</text>
<line x1="99.90" y1="572.10" x2="99.90" y2="574.30" stroke="#333" stroke-width="0.7" />
<text x="99.90" y="581.90" font-size="8.0" text-anchor="middle" fill="#231f20" color="#231f20" >32</text>
<line x1="116.90" y1="572.10" x2="116.90" y2="574.30" stroke="#333" stroke-width="0.7" />
<text x="116.90" y="581.90" font-size="8.0" text-anchor="middle" fill="#231f20" color="#231f20" >40</text>
<line x1="133.90" y1="572.10" x2="133.90" y2="574.30" stroke="#333" stroke-width="0.7" />
<text x="133.90" y="581.90" font-size="8.0" text-anchor="middle" fill="#231f20" color="#231f20" >48</text>
<text x="82.90" y="592.90" font-size="8.3" text-anchor="middle" fill="#231f20" color="#231f20" >Time (h)</text>
<text x="83.75" y="497.00" font-size="8.3" text-anchor="middle" fill="#231f20" color="#231f20" >yCB799</text>
<text x="16.50" y="537.90" font-size="8.3" text-anchor="middle" fill="#231f20" color="#231f20" transform="rotate(-90 16.50 537.90)" >Log<tspan font-size="62%" dy="0.6">10</tspan><tspan dy="-0.6"> CFU/mL</tspan></text>
<polyline points="31.90,529.16 36.15,526.55 40.40,524.01 48.90,520.92 82.90,517.41 133.90,519.54" fill="none" stroke="#111111" stroke-width="0.75"/>
<circle cx="31.90" cy="529.16" r="1.47" fill="#111111" />
<circle cx="36.15" cy="526.55" r="1.47" fill="#111111" />
<circle cx="40.40" cy="524.01" r="1.47" fill="#111111" />
<circle cx="48.90" cy="520.92" r="1.47" fill="#111111" />
<circle cx="82.90" cy="517.41" r="1.47" fill="#111111" />
<circle cx="133.90" cy="519.54" r="1.47" fill="#111111" />
<polyline points="31.90,529.16 36.15,532.67 40.40,536.17 48.90,534.45 82.90,524.77 133.90,524.01" fill="none" stroke="#a070c8" stroke-width="0.75"/>
<rect x="30.47" y="527.74" width="2.85" height="2.85" fill="#a070c8" />
<rect x="34.73" y="531.24" width="2.85" height="2.85" fill="#a070c8" />
<rect x="38.98" y="534.74" width="2.85" height="2.85" fill="#a070c8" />
<rect x="47.48" y="533.03" width="2.85" height="2.85" fill="#a070c8" />
<rect x="81.48" y="523.34" width="2.85" height="2.85" fill="#a070c8" />
<rect x="132.47" y="522.59" width="2.85" height="2.85" fill="#a070c8" />
<polyline points="31.90,529.16 36.15,528.27 40.40,526.55 48.90,523.05 82.90,519.20 133.90,520.03" fill="none" stroke="#3b4dff" stroke-width="0.75"/>
<path d="M30.29,528.02 L33.52,528.02 L31.90,530.78 Z" fill="#3b4dff"/>
<path d="M34.53,527.13 L37.77,527.13 L36.15,529.88 Z" fill="#3b4dff"/>
<path d="M38.78,525.41 L42.02,525.41 L40.40,528.17 Z" fill="#3b4dff"/>
<path d="M47.28,521.91 L50.52,521.91 L48.90,524.66 Z" fill="#3b4dff"/>
<path d="M81.29,518.06 L84.52,518.06 L82.90,520.82 Z" fill="#3b4dff"/>
<path d="M132.28,518.89 L135.52,518.89 L133.90,521.64 Z" fill="#3b4dff"/>
<polyline points="31.90,529.16 36.15,530.06 40.40,531.77 48.90,530.54 82.90,523.39 133.90,523.39" fill="none" stroke="#ff3030" stroke-width="0.75"/>
<path d="M30.47,529.16 L31.90,527.74 L33.32,529.16 L31.90,530.59 Z" fill="#ff3030"/>
<path d="M34.73,530.06 L36.15,528.63 L37.57,530.06 L36.15,531.48 Z" fill="#ff3030"/>
<path d="M38.98,531.77 L40.40,530.35 L41.82,531.77 L40.40,533.20 Z" fill="#ff3030"/>
<path d="M47.48,530.54 L48.90,529.11 L50.32,530.54 L48.90,531.96 Z" fill="#ff3030"/>
<path d="M81.48,523.39 L82.90,521.97 L84.33,523.39 L82.90,524.82 Z" fill="#ff3030"/>
<path d="M132.47,523.39 L133.90,521.97 L135.33,523.39 L133.90,524.82 Z" fill="#ff3030"/>
<polyline points="31.90,529.16 36.15,535.28 40.40,539.67 48.90,537.06 82.90,545.44 133.90,551.97" fill="none" stroke="#3b4dff" stroke-width="0.75" stroke-dasharray="1.3,1.1"/>
<path d="M30.29,528.02 L33.52,528.02 L31.90,530.78 Z" fill="#3b4dff"/>
<path d="M34.53,534.14 L37.77,534.14 L36.15,536.89 Z" fill="#3b4dff"/>
<path d="M38.78,538.53 L42.02,538.53 L40.40,541.29 Z" fill="#3b4dff"/>
<path d="M47.28,535.92 L50.52,535.92 L48.90,538.68 Z" fill="#3b4dff"/>
<path d="M81.29,544.30 L84.52,544.30 L82.90,547.06 Z" fill="#3b4dff"/>
<path d="M132.28,550.83 L135.52,550.83 L133.90,553.59 Z" fill="#3b4dff"/>
<polyline points="31.90,529.16 36.15,530.88 40.40,532.67 48.90,535.00 82.90,537.96 133.90,554.93" fill="none" stroke="#ff3030" stroke-width="0.75" stroke-dasharray="1.3,1.1"/>
<path d="M30.47,529.16 L31.90,527.74 L33.32,529.16 L31.90,530.59 Z" fill="#ff3030"/>
<path d="M34.73,530.88 L36.15,529.46 L37.57,530.88 L36.15,532.30 Z" fill="#ff3030"/>
<path d="M38.98,532.67 L40.40,531.24 L41.82,532.67 L40.40,534.09 Z" fill="#ff3030"/>
<path d="M47.48,535.00 L48.90,533.58 L50.32,535.00 L48.90,536.43 Z" fill="#ff3030"/>
<path d="M81.48,537.96 L82.90,536.53 L84.33,537.96 L82.90,539.38 Z" fill="#ff3030"/>
<path d="M132.47,554.93 L133.90,553.50 L135.33,554.93 L133.90,556.35 Z" fill="#ff3030"/>
<line x1="141.80" y1="505.90" x2="148.20" y2="505.90" stroke="#111111" stroke-width="0.75"/>
<circle cx="145.20" cy="505.90" r="1.40" fill="#111111" />
<text x="150.00" y="508.80" font-size="8.3" text-anchor="start" fill="#231f20" color="#231f20" >Vehicle</text>
<line x1="141.80" y1="516.65" x2="148.20" y2="516.65" stroke="#a070c8" stroke-width="0.75"/>
<rect x="143.85" y="515.30" width="2.70" height="2.70" fill="#a070c8" />
<text x="150.00" y="519.55" font-size="8.3" text-anchor="start" fill="#231f20" color="#231f20" >CPTH<tspan font-size="62%" dy="0.9">2</tspan><tspan dy="-0.9"></tspan> 6 μM</text>
<line x1="141.80" y1="527.40" x2="148.20" y2="527.40" stroke="#3b4dff" stroke-width="0.75"/>
<path d="M143.67,526.32 L146.73,526.32 L145.20,528.93 Z" fill="#3b4dff"/>
<text x="150.00" y="530.30" font-size="8.3" text-anchor="start" fill="#231f20" color="#231f20" >CAS 8 μg/mL</text>
<line x1="141.80" y1="538.15" x2="148.20" y2="538.15" stroke="#ff3030" stroke-width="0.75"/>
<path d="M143.85,538.15 L145.20,536.80 L146.55,538.15 L145.20,539.50 Z" fill="#ff3030"/>
<text x="150.00" y="541.05" font-size="8.3" text-anchor="start" fill="#231f20" color="#231f20" >CAS 128 μg/mL</text>
<line x1="141.80" y1="548.90" x2="148.20" y2="548.90" stroke="#3b4dff" stroke-width="0.75" stroke-dasharray="1.3,1.1"/>
<path d="M143.67,547.82 L146.73,547.82 L145.20,550.43 Z" fill="#3b4dff"/>
<text x="150.00" y="551.80" font-size="8.3" text-anchor="start" fill="#231f20" color="#231f20" >Combo 1</text>
<line x1="141.80" y1="559.65" x2="148.20" y2="559.65" stroke="#ff3030" stroke-width="0.75" stroke-dasharray="1.3,1.1"/>
<path d="M143.85,559.65 L145.20,558.30 L146.55,559.65 L145.20,561.00 Z" fill="#ff3030"/>
<text x="150.00" y="562.55" font-size="8.3" text-anchor="start" fill="#231f20" color="#231f20" >Combo 2</text>
<linearGradient id="pbg" x1="0" y1="0" x2="1" y2="0.6"><stop offset="0" stop-color="#262a36"/><stop offset="0.55" stop-color="#4a4e5a"/><stop offset="1" stop-color="#9a9ca4"/></linearGradient>
<linearGradient id="pbg2" x1="0" y1="0" x2="1" y2="0.7"><stop offset="0" stop-color="#25262c"/><stop offset="0.6" stop-color="#3c3e44"/><stop offset="1" stop-color="#8e9096"/></linearGradient>
<radialGradient id="ptan"><stop offset="0" stop-color="#b39764"/><stop offset="0.85" stop-color="#b89c68"/><stop offset="1" stop-color="#c6ad7e"/></radialGradient>
<radialGradient id="pyel"><stop offset="0" stop-color="#7f7d38"/><stop offset="0.8" stop-color="#85823a"/><stop offset="1" stop-color="#9a8c30"/></radialGradient>
<radialGradient id="pgry"><stop offset="0" stop-color="#bcc0b0"/><stop offset="0.85" stop-color="#c2c6b6"/><stop offset="1" stop-color="#cdd0c2"/></radialGradient>
<radialGradient id="pblu"><stop offset="0" stop-color="#9fb2be"/><stop offset="0.85" stop-color="#a4b6c0"/><stop offset="1" stop-color="#b0bec2"/></radialGradient>
<rect x="221.90" y="339.20" width="46.40" height="46.60" fill="url(#pbg)" />
<circle cx="245.10" cy="362.70" r="22.30" fill="url(#ptan)" />
<circle cx="232.09" cy="377.95" r="0.46" fill="#7a6038" opacity="0.8"/>
<circle cx="258.54" cy="370.68" r="0.33" fill="#7a6038" opacity="0.8"/>
<circle cx="233.11" cy="360.36" r="0.40" fill="#8c7044" opacity="0.8"/>
<circle cx="265.34" cy="364.16" r="0.41" fill="#d8c090" opacity="0.8"/>
<circle cx="232.80" cy="352.75" r="0.46" fill="#7a6038" opacity="0.8"/>
<circle cx="247.11" cy="350.62" r="0.29" fill="#d8c090" opacity="0.8"/>
<circle cx="247.31" cy="354.47" r="0.47" fill="#8c7044" opacity="0.8"/>
<circle cx="251.29" cy="361.81" r="0.48" fill="#8c7044" opacity="0.8"/>
<circle cx="249.61" cy="344.19" r="0.30" fill="#8c7044" opacity="0.8"/>
<circle cx="246.44" cy="368.38" r="0.46" fill="#8c7044" opacity="0.8"/>
<circle cx="256.57" cy="352.28" r="0.32" fill="#7a6038" opacity="0.8"/>
<circle cx="251.76" cy="350.04" r="0.39" fill="#d8c090" opacity="0.8"/>
<circle cx="237.36" cy="364.32" r="0.37" fill="#d8c090" opacity="0.8"/>
<circle cx="253.33" cy="376.54" r="0.43" fill="#7a6038" opacity="0.8"/>
<circle cx="252.78" cy="350.72" r="0.39" fill="#8c7044" opacity="0.8"/>
<circle cx="240.98" cy="376.29" r="0.36" fill="#8c7044" opacity="0.8"/>
<circle cx="259.87" cy="370.27" r="0.41" fill="#7a6038" opacity="0.8"/>
<circle cx="249.52" cy="363.27" r="0.43" fill="#d8c090" opacity="0.8"/>
<circle cx="247.40" cy="356.75" r="0.37" fill="#7a6038" opacity="0.8"/>
<circle cx="262.33" cy="366.43" r="0.41" fill="#d8c090" opacity="0.8"/>
<circle cx="259.10" cy="372.14" r="0.34" fill="#8c7044" opacity="0.8"/>
<circle cx="226.37" cy="356.07" r="0.32" fill="#d8c090" opacity="0.8"/>
<circle cx="231.42" cy="369.95" r="0.46" fill="#d8c090" opacity="0.8"/>
<circle cx="236.13" cy="374.24" r="0.33" fill="#d8c090" opacity="0.8"/>
<circle cx="253.63" cy="353.95" r="0.30" fill="#d8c090" opacity="0.8"/>
<circle cx="248.22" cy="351.15" r="0.33" fill="#d8c090" opacity="0.8"/>
<circle cx="259.37" cy="377.44" r="0.27" fill="#7a6038" opacity="0.8"/>
<circle cx="232.64" cy="371.89" r="0.35" fill="#8c7044" opacity="0.8"/>
<circle cx="255.95" cy="366.20" r="0.25" fill="#7a6038" opacity="0.8"/>
<circle cx="251.36" cy="349.80" r="0.44" fill="#7a6038" opacity="0.8"/>
<circle cx="249.92" cy="343.45" r="0.40" fill="#8c7044" opacity="0.8"/>
<circle cx="255.39" cy="376.32" r="0.42" fill="#8c7044" opacity="0.8"/>
<circle cx="248.68" cy="364.76" r="0.41" fill="#8c7044" opacity="0.8"/>
<circle cx="245.63" cy="356.10" r="0.30" fill="#7a6038" opacity="0.8"/>
<circle cx="239.29" cy="365.82" r="0.48" fill="#7a6038" opacity="0.8"/>
<circle cx="232.28" cy="376.54" r="0.45" fill="#8c7044" opacity="0.8"/>
<circle cx="240.31" cy="343.99" r="0.30" fill="#7a6038" opacity="0.8"/>
<circle cx="239.41" cy="375.11" r="0.41" fill="#7a6038" opacity="0.8"/>
<circle cx="230.07" cy="362.91" r="0.46" fill="#d8c090" opacity="0.8"/>
<circle cx="227.36" cy="353.61" r="0.36" fill="#7a6038" opacity="0.8"/>
<circle cx="238.27" cy="348.20" r="0.50" fill="#8c7044" opacity="0.8"/>
<circle cx="259.34" cy="360.97" r="0.35" fill="#7a6038" opacity="0.8"/>
<circle cx="257.50" cy="369.81" r="0.47" fill="#8c7044" opacity="0.8"/>
<circle cx="246.53" cy="362.84" r="0.42" fill="#7a6038" opacity="0.8"/>
<circle cx="264.30" cy="361.09" r="0.30" fill="#7a6038" opacity="0.8"/>
<circle cx="247.01" cy="364.71" r="0.43" fill="#7a6038" opacity="0.8"/>
<circle cx="228.01" cy="368.16" r="0.48" fill="#d8c090" opacity="0.8"/>
<circle cx="247.74" cy="345.33" r="0.46" fill="#8c7044" opacity="0.8"/>
<circle cx="245.76" cy="351.46" r="0.39" fill="#d8c090" opacity="0.8"/>
<circle cx="225.63" cy="367.62" r="0.31" fill="#7a6038" opacity="0.8"/>
<circle cx="244.65" cy="360.53" r="0.25" fill="#8c7044" opacity="0.8"/>
<circle cx="238.76" cy="347.62" r="0.35" fill="#d8c090" opacity="0.8"/>
<circle cx="244.01" cy="354.30" r="0.47" fill="#d8c090" opacity="0.8"/>
<circle cx="236.04" cy="355.30" r="0.49" fill="#8c7044" opacity="0.8"/>
<circle cx="229.24" cy="369.13" r="0.29" fill="#7a6038" opacity="0.8"/>
<circle cx="234.19" cy="375.35" r="0.41" fill="#d8c090" opacity="0.8"/>
<circle cx="226.94" cy="365.35" r="0.36" fill="#d8c090" opacity="0.8"/>
<circle cx="248.48" cy="347.41" r="0.32" fill="#7a6038" opacity="0.8"/>
<circle cx="233.00" cy="351.07" r="0.45" fill="#8c7044" opacity="0.8"/>
<circle cx="237.12" cy="376.79" r="0.49" fill="#7a6038" opacity="0.8"/>
<circle cx="235.80" cy="355.84" r="0.36" fill="#7a6038" opacity="0.8"/>
<circle cx="232.80" cy="374.74" r="0.40" fill="#7a6038" opacity="0.8"/>
<circle cx="249.01" cy="352.34" r="0.25" fill="#d8c090" opacity="0.8"/>
<circle cx="244.17" cy="370.90" r="0.48" fill="#7a6038" opacity="0.8"/>
<circle cx="243.23" cy="370.27" r="0.47" fill="#8c7044" opacity="0.8"/>
<circle cx="257.49" cy="379.09" r="0.45" fill="#8c7044" opacity="0.8"/>
<circle cx="237.16" cy="344.47" r="0.34" fill="#7a6038" opacity="0.8"/>
<circle cx="231.07" cy="359.10" r="0.35" fill="#8c7044" opacity="0.8"/>
<circle cx="254.25" cy="358.51" r="0.40" fill="#8c7044" opacity="0.8"/>
<circle cx="231.23" cy="373.39" r="0.48" fill="#8c7044" opacity="0.8"/>
<circle cx="245.23" cy="344.19" r="0.36" fill="#7a6038" opacity="0.8"/>
<circle cx="233.02" cy="359.91" r="0.27" fill="#d8c090" opacity="0.8"/>
<circle cx="227.81" cy="353.25" r="0.47" fill="#8c7044" opacity="0.8"/>
<circle cx="238.72" cy="376.05" r="0.30" fill="#7a6038" opacity="0.8"/>
<circle cx="248.23" cy="370.97" r="0.43" fill="#d8c090" opacity="0.8"/>
<circle cx="234.10" cy="356.84" r="0.44" fill="#7a6038" opacity="0.8"/>
<circle cx="245.56" cy="382.67" r="0.37" fill="#7a6038" opacity="0.8"/>
<circle cx="235.30" cy="372.92" r="0.27" fill="#d8c090" opacity="0.8"/>
<circle cx="235.09" cy="355.69" r="0.38" fill="#7a6038" opacity="0.8"/>
<circle cx="252.91" cy="367.94" r="0.47" fill="#8c7044" opacity="0.8"/>
<circle cx="229.49" cy="364.05" r="0.32" fill="#d8c090" opacity="0.8"/>
<circle cx="227.02" cy="371.78" r="0.44" fill="#8c7044" opacity="0.8"/>
<circle cx="255.31" cy="360.31" r="0.26" fill="#7a6038" opacity="0.8"/>
<circle cx="257.88" cy="362.27" r="0.26" fill="#7a6038" opacity="0.8"/>
<circle cx="226.94" cy="355.85" r="0.36" fill="#7a6038" opacity="0.8"/>
<circle cx="255.94" cy="350.08" r="0.48" fill="#8c7044" opacity="0.8"/>
<circle cx="255.31" cy="360.03" r="0.39" fill="#8c7044" opacity="0.8"/>
<circle cx="261.97" cy="373.37" r="0.38" fill="#7a6038" opacity="0.8"/>
<circle cx="237.22" cy="365.35" r="0.49" fill="#8c7044" opacity="0.8"/>
<circle cx="245.82" cy="366.72" r="0.31" fill="#d8c090" opacity="0.8"/>
<circle cx="259.51" cy="368.33" r="0.26" fill="#7a6038" opacity="0.8"/>
<circle cx="244.36" cy="377.58" r="0.43" fill="#d8c090" opacity="0.8"/>
<circle cx="252.53" cy="365.42" r="0.44" fill="#7a6038" opacity="0.8"/>
<circle cx="240.06" cy="352.51" r="0.40" fill="#8c7044" opacity="0.8"/>
<circle cx="254.43" cy="369.98" r="0.31" fill="#7a6038" opacity="0.8"/>
<circle cx="236.04" cy="371.76" r="0.36" fill="#7a6038" opacity="0.8"/>
<circle cx="261.97" cy="352.62" r="0.37" fill="#7a6038" opacity="0.8"/>
<circle cx="247.59" cy="354.84" r="0.46" fill="#7a6038" opacity="0.8"/>
<circle cx="262.82" cy="354.90" r="0.47" fill="#7a6038" opacity="0.8"/>
<circle cx="248.70" cy="342.66" r="0.48" fill="#d8c090" opacity="0.8"/>
<circle cx="254.13" cy="348.90" r="0.36" fill="#d8c090" opacity="0.8"/>
<circle cx="240.67" cy="371.73" r="0.28" fill="#d8c090" opacity="0.8"/>
<circle cx="251.21" cy="370.35" r="0.26" fill="#8c7044" opacity="0.8"/>
<circle cx="226.39" cy="368.60" r="0.36" fill="#7a6038" opacity="0.8"/>
<circle cx="243.73" cy="375.98" r="0.29" fill="#d8c090" opacity="0.8"/>
<circle cx="234.88" cy="357.81" r="0.45" fill="#d8c090" opacity="0.8"/>
<circle cx="233.39" cy="363.36" r="0.48" fill="#7a6038" opacity="0.8"/>
<circle cx="253.60" cy="374.94" r="0.41" fill="#8c7044" opacity="0.8"/>
<circle cx="258.98" cy="355.65" r="0.46" fill="#7a6038" opacity="0.8"/>
<circle cx="244.64" cy="372.03" r="0.34" fill="#d8c090" opacity="0.8"/>
<circle cx="265.10" cy="362.46" r="0.27" fill="#d8c090" opacity="0.8"/>
<circle cx="237.87" cy="366.94" r="0.46" fill="#d8c090" opacity="0.8"/>
<circle cx="255.35" cy="375.80" r="0.36" fill="#8c7044" opacity="0.8"/>
<circle cx="240.89" cy="369.25" r="0.25" fill="#8c7044" opacity="0.8"/>
<circle cx="242.27" cy="374.86" r="0.26" fill="#d8c090" opacity="0.8"/>
<circle cx="248.21" cy="378.11" r="0.28" fill="#7a6038" opacity="0.8"/>
<circle cx="235.21" cy="361.35" r="0.29" fill="#8c7044" opacity="0.8"/>
<circle cx="250.50" cy="365.64" r="0.40" fill="#d8c090" opacity="0.8"/>
<circle cx="245.72" cy="354.01" r="0.28" fill="#8c7044" opacity="0.8"/>
<circle cx="240.18" cy="344.62" r="0.40" fill="#7a6038" opacity="0.8"/>
<circle cx="262.37" cy="363.79" r="0.38" fill="#8c7044" opacity="0.8"/>
<circle cx="258.05" cy="355.18" r="0.34" fill="#d8c090" opacity="0.8"/>
<circle cx="255.66" cy="346.50" r="0.37" fill="#7a6038" opacity="0.8"/>
<circle cx="229.79" cy="372.48" r="0.28" fill="#8c7044" opacity="0.8"/>
<circle cx="244.19" cy="371.63" r="0.46" fill="#d8c090" opacity="0.8"/>
<circle cx="262.07" cy="366.68" r="0.39" fill="#7a6038" opacity="0.8"/>
<circle cx="232.68" cy="378.48" r="0.49" fill="#7a6038" opacity="0.8"/>
<circle cx="257.86" cy="374.80" r="0.45" fill="#d8c090" opacity="0.8"/>
<circle cx="248.63" cy="343.64" r="0.39" fill="#7a6038" opacity="0.8"/>
<circle cx="243.34" cy="369.29" r="0.43" fill="#d8c090" opacity="0.8"/>
<circle cx="230.00" cy="361.43" r="0.38" fill="#7a6038" opacity="0.8"/>
<circle cx="245.35" cy="368.89" r="0.40" fill="#7a6038" opacity="0.8"/>
<circle cx="253.42" cy="368.96" r="0.45" fill="#7a6038" opacity="0.8"/>
<circle cx="264.97" cy="365.14" r="0.43" fill="#d8c090" opacity="0.8"/>
<circle cx="261.10" cy="364.49" r="0.39" fill="#8c7044" opacity="0.8"/>
<circle cx="246.11" cy="376.53" r="0.34" fill="#7a6038" opacity="0.8"/>
<circle cx="244.19" cy="358.37" r="0.28" fill="#d8c090" opacity="0.8"/>
<circle cx="229.53" cy="353.37" r="0.28" fill="#7a6038" opacity="0.8"/>
<circle cx="238.72" cy="367.00" r="0.40" fill="#7a6038" opacity="0.8"/>
<circle cx="254.57" cy="375.27" r="0.44" fill="#7a6038" opacity="0.8"/>
<circle cx="245.10" cy="362.70" r="21.70" fill="none" stroke="#d6c196" stroke-width="1.0" opacity="0.8"/>
<rect x="271.10" y="339.20" width="46.40" height="46.60" fill="url(#pbg)" />
<circle cx="294.30" cy="362.70" r="22.30" fill="url(#ptan)" />
<circle cx="296.98" cy="361.80" r="0.41" fill="#8c7044" opacity="0.8"/>
<circle cx="277.57" cy="371.83" r="0.38" fill="#d8c090" opacity="0.8"/>
<circle cx="298.96" cy="361.83" r="0.34" fill="#d8c090" opacity="0.8"/>
<circle cx="295.03" cy="374.72" r="0.36" fill="#8c7044" opacity="0.8"/>
<circle cx="300.96" cy="343.98" r="0.45" fill="#8c7044" opacity="0.8"/>
<circle cx="308.42" cy="367.64" r="0.49" fill="#d8c090" opacity="0.8"/>
<circle cx="294.36" cy="376.21" r="0.41" fill="#d8c090" opacity="0.8"/>
<circle cx="301.27" cy="368.40" r="0.33" fill="#7a6038" opacity="0.8"/>
<circle cx="291.30" cy="362.61" r="0.28" fill="#d8c090" opacity="0.8"/>
<circle cx="297.65" cy="342.85" r="0.41" fill="#7a6038" opacity="0.8"/>
<circle cx="310.57" cy="366.27" r="0.32" fill="#8c7044" opacity="0.8"/>
<circle cx="282.53" cy="351.15" r="0.45" fill="#7a6038" opacity="0.8"/>
<circle cx="286.77" cy="355.51" r="0.38" fill="#d8c090" opacity="0.8"/>
<circle cx="294.65" cy="366.82" r="0.28" fill="#d8c090" opacity="0.8"/>
<circle cx="289.97" cy="356.93" r="0.40" fill="#8c7044" opacity="0.8"/>
<circle cx="299.22" cy="359.19" r="0.40" fill="#7a6038" opacity="0.8"/>
<circle cx="280.47" cy="368.18" r="0.47" fill="#d8c090" opacity="0.8"/>
<circle cx="284.67" cy="357.61" r="0.43" fill="#8c7044" opacity="0.8"/>
<circle cx="276.04" cy="357.23" r="0.40" fill="#8c7044" opacity="0.8"/>
<circle cx="296.59" cy="375.43" r="0.39" fill="#d8c090" opacity="0.8"/>
<circle cx="279.36" cy="366.45" r="0.40" fill="#d8c090" opacity="0.8"/>
<circle cx="295.83" cy="359.38" r="0.33" fill="#7a6038" opacity="0.8"/>
<circle cx="281.46" cy="361.69" r="0.40" fill="#7a6038" opacity="0.8"/>
<circle cx="301.75" cy="358.86" r="0.49" fill="#d8c090" opacity="0.8"/>
<circle cx="280.63" cy="357.62" r="0.32" fill="#7a6038" opacity="0.8"/>
<circle cx="289.15" cy="380.24" r="0.29" fill="#7a6038" opacity="0.8"/>
<circle cx="284.65" cy="355.12" r="0.41" fill="#8c7044" opacity="0.8"/>
<circle cx="283.79" cy="371.63" r="0.43" fill="#7a6038" opacity="0.8"/>
<circle cx="273.79" cy="359.99" r="0.42" fill="#7a6038" opacity="0.8"/>
<circle cx="279.57" cy="371.19" r="0.29" fill="#7a6038" opacity="0.8"/>
<circle cx="280.02" cy="349.90" r="0.46" fill="#8c7044" opacity="0.8"/>
<circle cx="310.22" cy="373.52" r="0.48" fill="#d8c090" opacity="0.8"/>
<circle cx="292.37" cy="379.10" r="0.41" fill="#8c7044" opacity="0.8"/>
<circle cx="307.83" cy="376.62" r="0.25" fill="#8c7044" opacity="0.8"/>
<circle cx="281.71" cy="355.16" r="0.49" fill="#8c7044" opacity="0.8"/>
<circle cx="305.61" cy="378.19" r="0.32" fill="#8c7044" opacity="0.8"/>
<circle cx="284.29" cy="354.70" r="0.36" fill="#d8c090" opacity="0.8"/>
<circle cx="291.37" cy="374.70" r="0.34" fill="#8c7044" opacity="0.8"/>
<circle cx="282.17" cy="358.30" r="0.33" fill="#8c7044" opacity="0.8"/>
<circle cx="302.91" cy="350.78" r="0.36" fill="#7a6038" opacity="0.8"/>
<circle cx="276.16" cy="358.42" r="0.36" fill="#d8c090" opacity="0.8"/>
<circle cx="288.92" cy="359.68" r="0.48" fill="#d8c090" opacity="0.8"/>
<circle cx="310.21" cy="359.56" r="0.31" fill="#d8c090" opacity="0.8"/>
<circle cx="298.15" cy="375.73" r="0.48" fill="#7a6038" opacity="0.8"/>
<circle cx="304.70" cy="364.39" r="0.47" fill="#d8c090" opacity="0.8"/>
<circle cx="310.35" cy="353.92" r="0.38" fill="#d8c090" opacity="0.8"/>
<circle cx="279.43" cy="361.06" r="0.42" fill="#d8c090" opacity="0.8"/>
<circle cx="290.21" cy="363.63" r="0.42" fill="#d8c090" opacity="0.8"/>
<circle cx="310.50" cy="357.20" r="0.38" fill="#7a6038" opacity="0.8"/>
<circle cx="281.89" cy="370.63" r="0.41" fill="#8c7044" opacity="0.8"/>
<circle cx="299.41" cy="370.14" r="0.36" fill="#d8c090" opacity="0.8"/>
<circle cx="279.01" cy="368.74" r="0.50" fill="#d8c090" opacity="0.8"/>
<circle cx="287.85" cy="345.93" r="0.27" fill="#d8c090" opacity="0.8"/>
<circle cx="285.77" cy="381.42" r="0.46" fill="#8c7044" opacity="0.8"/>
<circle cx="301.89" cy="377.74" r="0.32" fill="#d8c090" opacity="0.8"/>
<circle cx="303.18" cy="344.00" r="0.47" fill="#d8c090" opacity="0.8"/>
<circle cx="284.07" cy="351.65" r="0.45" fill="#7a6038" opacity="0.8"/>
<circle cx="285.28" cy="362.42" r="0.30" fill="#8c7044" opacity="0.8"/>
<circle cx="288.07" cy="360.00" r="0.39" fill="#8c7044" opacity="0.8"/>
<circle cx="291.50" cy="359.46" r="0.35" fill="#7a6038" opacity="0.8"/>
<circle cx="288.27" cy="378.90" r="0.25" fill="#d8c090" opacity="0.8"/>
<circle cx="289.08" cy="366.62" r="0.25" fill="#7a6038" opacity="0.8"/>
<circle cx="299.13" cy="376.56" r="0.39" fill="#d8c090" opacity="0.8"/>
<circle cx="307.88" cy="348.45" r="0.38" fill="#7a6038" opacity="0.8"/>
<circle cx="282.40" cy="356.69" r="0.28" fill="#7a6038" opacity="0.8"/>
<circle cx="279.55" cy="360.99" r="0.26" fill="#7a6038" opacity="0.8"/>
<circle cx="301.50" cy="375.90" r="0.46" fill="#8c7044" opacity="0.8"/>
<circle cx="277.43" cy="370.56" r="0.41" fill="#8c7044" opacity="0.8"/>
<circle cx="295.82" cy="350.98" r="0.43" fill="#d8c090" opacity="0.8"/>
<circle cx="293.70" cy="366.42" r="0.41" fill="#8c7044" opacity="0.8"/>
<circle cx="302.70" cy="366.21" r="0.41" fill="#7a6038" opacity="0.8"/>
<circle cx="312.78" cy="369.31" r="0.40" fill="#7a6038" opacity="0.8"/>
<circle cx="279.08" cy="368.76" r="0.31" fill="#7a6038" opacity="0.8"/>
<circle cx="302.89" cy="376.12" r="0.29" fill="#7a6038" opacity="0.8"/>
<circle cx="309.42" cy="351.55" r="0.33" fill="#8c7044" opacity="0.8"/>
<circle cx="294.06" cy="382.29" r="0.49" fill="#7a6038" opacity="0.8"/>
<circle cx="294.88" cy="375.67" r="0.43" fill="#7a6038" opacity="0.8"/>
<circle cx="283.06" cy="369.49" r="0.43" fill="#7a6038" opacity="0.8"/>
<circle cx="297.02" cy="352.81" r="0.29" fill="#d8c090" opacity="0.8"/>
<circle cx="292.98" cy="363.95" r="0.47" fill="#d8c090" opacity="0.8"/>
<circle cx="287.77" cy="360.04" r="0.38" fill="#d8c090" opacity="0.8"/>
<circle cx="285.68" cy="377.10" r="0.49" fill="#d8c090" opacity="0.8"/>
<circle cx="299.95" cy="351.75" r="0.31" fill="#7a6038" opacity="0.8"/>
<circle cx="282.35" cy="365.21" r="0.36" fill="#d8c090" opacity="0.8"/>
<circle cx="288.07" cy="352.27" r="0.29" fill="#8c7044" opacity="0.8"/>
<circle cx="300.61" cy="369.41" r="0.39" fill="#7a6038" opacity="0.8"/>
<circle cx="280.92" cy="357.89" r="0.45" fill="#7a6038" opacity="0.8"/>
<circle cx="300.97" cy="373.10" r="0.43" fill="#d8c090" opacity="0.8"/>
<circle cx="283.40" cy="351.19" r="0.32" fill="#d8c090" opacity="0.8"/>
<circle cx="284.39" cy="362.40" r="0.36" fill="#7a6038" opacity="0.8"/>
<circle cx="313.72" cy="355.30" r="0.40" fill="#d8c090" opacity="0.8"/>
<circle cx="283.54" cy="356.10" r="0.31" fill="#8c7044" opacity="0.8"/>
<circle cx="286.95" cy="362.23" r="0.44" fill="#8c7044" opacity="0.8"/>
<circle cx="279.03" cy="361.45" r="0.32" fill="#d8c090" opacity="0.8"/>
<circle cx="311.64" cy="365.86" r="0.29" fill="#7a6038" opacity="0.8"/>
<circle cx="289.60" cy="366.59" r="0.29" fill="#7a6038" opacity="0.8"/>
<circle cx="286.99" cy="377.97" r="0.28" fill="#8c7044" opacity="0.8"/>
<circle cx="310.30" cy="353.08" r="0.44" fill="#7a6038" opacity="0.8"/>
<circle cx="304.92" cy="367.37" r="0.31" fill="#7a6038" opacity="0.8"/>
<circle cx="299.66" cy="350.70" r="0.34" fill="#d8c090" opacity="0.8"/>
<circle cx="297.36" cy="343.40" r="0.47" fill="#7a6038" opacity="0.8"/>
<circle cx="302.35" cy="359.32" r="0.34" fill="#8c7044" opacity="0.8"/>
<circle cx="287.16" cy="344.34" r="0.26" fill="#8c7044" opacity="0.8"/>
<circle cx="291.05" cy="352.86" r="0.46" fill="#d8c090" opacity="0.8"/>
<circle cx="299.70" cy="359.08" r="0.32" fill="#d8c090" opacity="0.8"/>
<circle cx="309.51" cy="353.41" r="0.43" fill="#7a6038" opacity="0.8"/>
<circle cx="280.90" cy="371.85" r="0.36" fill="#d8c090" opacity="0.8"/>
<circle cx="304.24" cy="377.56" r="0.39" fill="#8c7044" opacity="0.8"/>
<circle cx="288.61" cy="355.97" r="0.46" fill="#8c7044" opacity="0.8"/>
<circle cx="279.29" cy="362.90" r="0.48" fill="#8c7044" opacity="0.8"/>
<circle cx="289.37" cy="351.44" r="0.25" fill="#8c7044" opacity="0.8"/>
<circle cx="293.32" cy="366.90" r="0.46" fill="#8c7044" opacity="0.8"/>
<circle cx="287.47" cy="343.34" r="0.42" fill="#7a6038" opacity="0.8"/>
<circle cx="296.75" cy="353.49" r="0.48" fill="#8c7044" opacity="0.8"/>
<circle cx="305.81" cy="355.76" r="0.44" fill="#8c7044" opacity="0.8"/>
<circle cx="286.98" cy="356.22" r="0.38" fill="#d8c090" opacity="0.8"/>
<circle cx="307.08" cy="358.22" r="0.48" fill="#8c7044" opacity="0.8"/>
<circle cx="277.05" cy="362.37" r="0.46" fill="#8c7044" opacity="0.8"/>
<circle cx="289.66" cy="364.12" r="0.42" fill="#d8c090" opacity="0.8"/>
<circle cx="285.41" cy="345.75" r="0.44" fill="#d8c090" opacity="0.8"/>
<circle cx="294.63" cy="358.36" r="0.43" fill="#8c7044" opacity="0.8"/>
<circle cx="293.22" cy="378.04" r="0.49" fill="#8c7044" opacity="0.8"/>
<circle cx="295.23" cy="373.27" r="0.49" fill="#7a6038" opacity="0.8"/>
<circle cx="285.93" cy="373.10" r="0.30" fill="#d8c090" opacity="0.8"/>
<circle cx="305.52" cy="375.78" r="0.37" fill="#d8c090" opacity="0.8"/>
<circle cx="295.08" cy="372.90" r="0.38" fill="#d8c090" opacity="0.8"/>
<circle cx="305.46" cy="375.06" r="0.42" fill="#7a6038" opacity="0.8"/>
<circle cx="300.17" cy="357.51" r="0.39" fill="#d8c090" opacity="0.8"/>
<circle cx="289.39" cy="357.51" r="0.36" fill="#7a6038" opacity="0.8"/>
<circle cx="290.68" cy="355.36" r="0.49" fill="#d8c090" opacity="0.8"/>
<circle cx="297.74" cy="356.56" r="0.32" fill="#d8c090" opacity="0.8"/>
<circle cx="289.98" cy="363.06" r="0.47" fill="#d8c090" opacity="0.8"/>
<circle cx="299.98" cy="379.17" r="0.36" fill="#7a6038" opacity="0.8"/>
<circle cx="301.64" cy="374.48" r="0.39" fill="#d8c090" opacity="0.8"/>
<circle cx="297.04" cy="367.55" r="0.25" fill="#d8c090" opacity="0.8"/>
<circle cx="309.52" cy="371.57" r="0.50" fill="#8c7044" opacity="0.8"/>
<circle cx="292.79" cy="379.34" r="0.49" fill="#d8c090" opacity="0.8"/>
<circle cx="299.96" cy="376.95" r="0.25" fill="#7a6038" opacity="0.8"/>
<circle cx="284.16" cy="349.71" r="0.48" fill="#8c7044" opacity="0.8"/>
<circle cx="289.04" cy="346.73" r="0.27" fill="#8c7044" opacity="0.8"/>
<circle cx="294.30" cy="362.70" r="21.70" fill="none" stroke="#d6c196" stroke-width="1.0" opacity="0.8"/>
<rect x="221.90" y="399.80" width="46.40" height="46.60" fill="url(#pbg)" />
<circle cx="245.10" cy="423.30" r="22.30" fill="url(#ptan)" />
<circle cx="263.13" cy="426.47" r="0.46" fill="#d8c090" opacity="0.8"/>
<circle cx="231.33" cy="438.36" r="0.38" fill="#8c7044" opacity="0.8"/>
<circle cx="254.13" cy="439.36" r="0.46" fill="#8c7044" opacity="0.8"/>
<circle cx="235.59" cy="414.72" r="0.41" fill="#d8c090" opacity="0.8"/>
<circle cx="239.71" cy="434.72" r="0.39" fill="#d8c090" opacity="0.8"/>
<circle cx="250.59" cy="414.38" r="0.26" fill="#7a6038" opacity="0.8"/>
<circle cx="230.05" cy="416.58" r="0.45" fill="#8c7044" opacity="0.8"/>
<circle cx="241.26" cy="425.97" r="0.30" fill="#d8c090" opacity="0.8"/>
<circle cx="236.85" cy="423.32" r="0.32" fill="#8c7044" opacity="0.8"/>
<circle cx="239.61" cy="417.71" r="0.31" fill="#7a6038" opacity="0.8"/>
<circle cx="225.91" cy="430.46" r="0.27" fill="#7a6038" opacity="0.8"/>
<circle cx="253.61" cy="411.68" r="0.30" fill="#d8c090" opacity="0.8"/>
<circle cx="264.17" cy="423.64" r="0.46" fill="#8c7044" opacity="0.8"/>
<circle cx="235.22" cy="428.30" r="0.42" fill="#8c7044" opacity="0.8"/>
<circle cx="240.31" cy="404.26" r="0.27" fill="#7a6038" opacity="0.8"/>
<circle cx="235.59" cy="406.96" r="0.48" fill="#7a6038" opacity="0.8"/>
<circle cx="244.12" cy="424.23" r="0.45" fill="#8c7044" opacity="0.8"/>
<circle cx="239.78" cy="430.80" r="0.27" fill="#d8c090" opacity="0.8"/>
<circle cx="231.56" cy="421.87" r="0.38" fill="#8c7044" opacity="0.8"/>
<circle cx="258.72" cy="407.93" r="0.49" fill="#8c7044" opacity="0.8"/>
<circle cx="261.42" cy="432.46" r="0.43" fill="#d8c090" opacity="0.8"/>
<circle cx="236.33" cy="416.12" r="0.39" fill="#d8c090" opacity="0.8"/>
<circle cx="228.49" cy="425.32" r="0.32" fill="#d8c090" opacity="0.8"/>
<circle cx="228.84" cy="420.16" r="0.46" fill="#7a6038" opacity="0.8"/>
<circle cx="239.07" cy="410.76" r="0.27" fill="#8c7044" opacity="0.8"/>
<circle cx="231.48" cy="415.92" r="0.49" fill="#d8c090" opacity="0.8"/>
<circle cx="229.74" cy="420.37" r="0.35" fill="#7a6038" opacity="0.8"/>
<circle cx="248.02" cy="443.56" r="0.30" fill="#8c7044" opacity="0.8"/>
<circle cx="259.80" cy="435.82" r="0.31" fill="#7a6038" opacity="0.8"/>
<circle cx="251.61" cy="439.03" r="0.43" fill="#7a6038" opacity="0.8"/>
<circle cx="235.76" cy="420.00" r="0.39" fill="#7a6038" opacity="0.8"/>
<circle cx="243.31" cy="403.55" r="0.39" fill="#d8c090" opacity="0.8"/>
<circle cx="237.12" cy="406.49" r="0.28" fill="#8c7044" opacity="0.8"/>
<circle cx="228.40" cy="417.81" r="0.44" fill="#7a6038" opacity="0.8"/>
<circle cx="230.83" cy="408.74" r="0.38" fill="#d8c090" opacity="0.8"/>
<circle cx="251.39" cy="411.90" r="0.29" fill="#7a6038" opacity="0.8"/>
<circle cx="228.21" cy="416.24" r="0.28" fill="#8c7044" opacity="0.8"/>
<circle cx="254.57" cy="426.88" r="0.34" fill="#7a6038" opacity="0.8"/>
<circle cx="239.05" cy="403.89" r="0.36" fill="#7a6038" opacity="0.8"/>
<circle cx="241.51" cy="410.21" r="0.47" fill="#8c7044" opacity="0.8"/>
<circle cx="254.42" cy="422.63" r="0.28" fill="#8c7044" opacity="0.8"/>
<circle cx="250.97" cy="417.11" r="0.44" fill="#d8c090" opacity="0.8"/>
<circle cx="251.05" cy="406.48" r="0.25" fill="#d8c090" opacity="0.8"/>
<circle cx="254.21" cy="432.15" r="0.43" fill="#d8c090" opacity="0.8"/>
<circle cx="244.33" cy="419.03" r="0.40" fill="#7a6038" opacity="0.8"/>
<circle cx="237.76" cy="432.67" r="0.40" fill="#7a6038" opacity="0.8"/>
<circle cx="260.35" cy="415.57" r="0.31" fill="#7a6038" opacity="0.8"/>
<circle cx="244.05" cy="420.45" r="0.50" fill="#d8c090" opacity="0.8"/>
<circle cx="247.38" cy="425.27" r="0.28" fill="#d8c090" opacity="0.8"/>
<circle cx="251.23" cy="437.52" r="0.32" fill="#8c7044" opacity="0.8"/>
<circle cx="235.89" cy="406.66" r="0.40" fill="#d8c090" opacity="0.8"/>
<circle cx="228.33" cy="419.17" r="0.45" fill="#d8c090" opacity="0.8"/>
<circle cx="257.22" cy="424.35" r="0.29" fill="#8c7044" opacity="0.8"/>
<circle cx="241.42" cy="423.67" r="0.46" fill="#7a6038" opacity="0.8"/>
<circle cx="252.87" cy="440.44" r="0.42" fill="#d8c090" opacity="0.8"/>
<circle cx="256.38" cy="406.23" r="0.42" fill="#d8c090" opacity="0.8"/>
<circle cx="229.86" cy="435.36" r="0.40" fill="#7a6038" opacity="0.8"/>
<circle cx="235.40" cy="434.89" r="0.33" fill="#7a6038" opacity="0.8"/>
<circle cx="241.42" cy="420.99" r="0.29" fill="#d8c090" opacity="0.8"/>
<circle cx="243.39" cy="411.45" r="0.37" fill="#d8c090" opacity="0.8"/>
<circle cx="240.36" cy="434.38" r="0.37" fill="#7a6038" opacity="0.8"/>
<circle cx="259.08" cy="425.11" r="0.50" fill="#7a6038" opacity="0.8"/>
<circle cx="233.03" cy="410.31" r="0.29" fill="#d8c090" opacity="0.8"/>
<circle cx="242.95" cy="437.85" r="0.32" fill="#8c7044" opacity="0.8"/>
<circle cx="230.87" cy="416.21" r="0.28" fill="#8c7044" opacity="0.8"/>
<circle cx="260.32" cy="426.61" r="0.44" fill="#7a6038" opacity="0.8"/>
<circle cx="247.62" cy="406.94" r="0.41" fill="#d8c090" opacity="0.8"/>
<circle cx="249.92" cy="405.42" r="0.31" fill="#7a6038" opacity="0.8"/>
<circle cx="240.30" cy="412.88" r="0.44" fill="#8c7044" opacity="0.8"/>
<circle cx="232.61" cy="437.90" r="0.31" fill="#8c7044" opacity="0.8"/>
<circle cx="242.53" cy="411.55" r="0.43" fill="#8c7044" opacity="0.8"/>
<circle cx="235.92" cy="441.83" r="0.37" fill="#d8c090" opacity="0.8"/>
<circle cx="259.83" cy="411.76" r="0.50" fill="#7a6038" opacity="0.8"/>
<circle cx="246.26" cy="424.63" r="0.47" fill="#d8c090" opacity="0.8"/>
<circle cx="234.27" cy="430.66" r="0.44" fill="#7a6038" opacity="0.8"/>
<circle cx="238.36" cy="419.21" r="0.43" fill="#d8c090" opacity="0.8"/>
<circle cx="242.84" cy="408.02" r="0.48" fill="#d8c090" opacity="0.8"/>
<circle cx="253.22" cy="427.34" r="0.48" fill="#8c7044" opacity="0.8"/>
<circle cx="251.96" cy="437.59" r="0.50" fill="#d8c090" opacity="0.8"/>
<circle cx="262.09" cy="420.12" r="0.43" fill="#7a6038" opacity="0.8"/>
<circle cx="251.31" cy="413.32" r="0.29" fill="#d8c090" opacity="0.8"/>
<circle cx="227.75" cy="418.08" r="0.41" fill="#7a6038" opacity="0.8"/>
<circle cx="242.35" cy="413.98" r="0.35" fill="#7a6038" opacity="0.8"/>
<circle cx="253.74" cy="416.40" r="0.38" fill="#7a6038" opacity="0.8"/>
<circle cx="250.96" cy="440.13" r="0.49" fill="#8c7044" opacity="0.8"/>
<circle cx="250.48" cy="424.99" r="0.45" fill="#8c7044" opacity="0.8"/>
<circle cx="240.93" cy="429.76" r="0.30" fill="#8c7044" opacity="0.8"/>
<circle cx="243.51" cy="421.31" r="0.33" fill="#7a6038" opacity="0.8"/>
<circle cx="247.90" cy="434.86" r="0.44" fill="#8c7044" opacity="0.8"/>
<circle cx="228.92" cy="424.69" r="0.45" fill="#7a6038" opacity="0.8"/>
<circle cx="257.62" cy="428.03" r="0.26" fill="#8c7044" opacity="0.8"/>
<circle cx="231.19" cy="411.37" r="0.50" fill="#d8c090" opacity="0.8"/>
<circle cx="244.48" cy="437.45" r="0.25" fill="#d8c090" opacity="0.8"/>
<circle cx="226.09" cy="415.19" r="0.26" fill="#8c7044" opacity="0.8"/>
<circle cx="240.39" cy="404.89" r="0.29" fill="#7a6038" opacity="0.8"/>
<circle cx="249.47" cy="429.83" r="0.44" fill="#7a6038" opacity="0.8"/>
<circle cx="237.26" cy="433.05" r="0.34" fill="#8c7044" opacity="0.8"/>
<circle cx="231.94" cy="415.12" r="0.41" fill="#8c7044" opacity="0.8"/>
<circle cx="236.21" cy="418.77" r="0.40" fill="#8c7044" opacity="0.8"/>
<circle cx="241.44" cy="423.82" r="0.41" fill="#8c7044" opacity="0.8"/>
<circle cx="248.01" cy="402.94" r="0.36" fill="#d8c090" opacity="0.8"/>
<circle cx="235.35" cy="434.88" r="0.32" fill="#d8c090" opacity="0.8"/>
<circle cx="259.42" cy="424.11" r="0.41" fill="#d8c090" opacity="0.8"/>
<circle cx="254.75" cy="436.68" r="0.35" fill="#7a6038" opacity="0.8"/>
<circle cx="260.27" cy="416.96" r="0.28" fill="#8c7044" opacity="0.8"/>
<circle cx="229.60" cy="423.12" r="0.30" fill="#8c7044" opacity="0.8"/>
<circle cx="239.76" cy="429.31" r="0.29" fill="#8c7044" opacity="0.8"/>
<circle cx="256.41" cy="408.84" r="0.38" fill="#d8c090" opacity="0.8"/>
<circle cx="246.90" cy="413.21" r="0.50" fill="#d8c090" opacity="0.8"/>
<circle cx="249.66" cy="442.64" r="0.48" fill="#d8c090" opacity="0.8"/>
<circle cx="233.63" cy="426.24" r="0.48" fill="#7a6038" opacity="0.8"/>
<circle cx="243.72" cy="421.12" r="0.45" fill="#d8c090" opacity="0.8"/>
<circle cx="239.45" cy="412.35" r="0.31" fill="#d8c090" opacity="0.8"/>
<circle cx="228.27" cy="433.99" r="0.49" fill="#8c7044" opacity="0.8"/>
<circle cx="247.43" cy="420.50" r="0.26" fill="#8c7044" opacity="0.8"/>
<circle cx="235.95" cy="427.34" r="0.30" fill="#d8c090" opacity="0.8"/>
<circle cx="238.01" cy="414.42" r="0.50" fill="#7a6038" opacity="0.8"/>
<circle cx="263.47" cy="421.14" r="0.37" fill="#d8c090" opacity="0.8"/>
<circle cx="252.47" cy="421.12" r="0.33" fill="#7a6038" opacity="0.8"/>
<circle cx="238.00" cy="435.93" r="0.47" fill="#7a6038" opacity="0.8"/>
<circle cx="238.20" cy="438.01" r="0.49" fill="#7a6038" opacity="0.8"/>
<circle cx="227.93" cy="413.97" r="0.30" fill="#8c7044" opacity="0.8"/>
<circle cx="233.36" cy="437.43" r="0.47" fill="#7a6038" opacity="0.8"/>
<circle cx="237.97" cy="426.40" r="0.48" fill="#8c7044" opacity="0.8"/>
<circle cx="251.97" cy="424.36" r="0.49" fill="#7a6038" opacity="0.8"/>
<circle cx="252.75" cy="431.81" r="0.38" fill="#d8c090" opacity="0.8"/>
<circle cx="252.09" cy="428.22" r="0.42" fill="#7a6038" opacity="0.8"/>
<circle cx="230.80" cy="431.86" r="0.42" fill="#d8c090" opacity="0.8"/>
<circle cx="260.28" cy="409.39" r="0.26" fill="#7a6038" opacity="0.8"/>
<circle cx="250.06" cy="439.01" r="0.25" fill="#7a6038" opacity="0.8"/>
<circle cx="235.09" cy="423.00" r="0.36" fill="#7a6038" opacity="0.8"/>
<circle cx="244.48" cy="418.77" r="0.47" fill="#7a6038" opacity="0.8"/>
<circle cx="250.32" cy="418.31" r="0.37" fill="#7a6038" opacity="0.8"/>
<circle cx="244.06" cy="423.13" r="0.31" fill="#8c7044" opacity="0.8"/>
<circle cx="255.79" cy="437.62" r="0.38" fill="#7a6038" opacity="0.8"/>
<circle cx="226.38" cy="419.74" r="0.49" fill="#7a6038" opacity="0.8"/>
<circle cx="239.46" cy="431.12" r="0.49" fill="#7a6038" opacity="0.8"/>
<circle cx="243.83" cy="412.51" r="0.29" fill="#d8c090" opacity="0.8"/>
<circle cx="242.66" cy="443.60" r="0.30" fill="#7a6038" opacity="0.8"/>
<circle cx="232.10" cy="431.77" r="0.34" fill="#7a6038" opacity="0.8"/>
<circle cx="245.10" cy="423.30" r="21.70" fill="none" stroke="#d6c196" stroke-width="1.0" opacity="0.8"/>
<rect x="271.10" y="399.80" width="46.40" height="46.60" fill="url(#pbg)" />
<circle cx="294.30" cy="423.30" r="22.30" fill="#c9a020" />
<circle cx="294.30" cy="423.30" r="22.00" fill="none" stroke="#e2d6a6" stroke-width="0.6"/>
<circle cx="294.30" cy="423.30" r="20.50" fill="url(#pyel)" />
<circle cx="292.50" cy="426.79" r="0.39" fill="#e8e0b0" opacity="0.8"/>
<circle cx="292.07" cy="434.17" r="0.38" fill="#e8e0b0" opacity="0.8"/>
<circle cx="310.95" cy="422.60" r="0.35" fill="#e8e0b0" opacity="0.8"/>
<circle cx="281.79" cy="429.98" r="0.38" fill="#e8e0b0" opacity="0.8"/>
<circle cx="304.09" cy="437.00" r="0.48" fill="#e8e0b0" opacity="0.8"/>
<circle cx="300.36" cy="406.04" r="0.43" fill="#e8e0b0" opacity="0.8"/>
<circle cx="295.24" cy="436.93" r="0.50" fill="#e8e0b0" opacity="0.8"/>
<circle cx="288.58" cy="407.83" r="0.50" fill="#e8e0b0" opacity="0.8"/>
<circle cx="301.49" cy="409.32" r="0.32" fill="#e8e0b0" opacity="0.8"/>
<circle cx="291.73" cy="420.86" r="0.44" fill="#e8e0b0" opacity="0.8"/>
<circle cx="282.33" cy="431.35" r="0.44" fill="#e8e0b0" opacity="0.8"/>
<circle cx="279.55" cy="428.88" r="0.39" fill="#e8e0b0" opacity="0.8"/>
<circle cx="282.57" cy="417.07" r="0.43" fill="#e8e0b0" opacity="0.8"/>
<circle cx="283.20" cy="425.37" r="0.41" fill="#e8e0b0" opacity="0.8"/>
<circle cx="281.53" cy="435.31" r="0.46" fill="#e8e0b0" opacity="0.8"/>
<circle cx="302.14" cy="414.89" r="0.31" fill="#e8e0b0" opacity="0.8"/>
<circle cx="304.15" cy="421.80" r="0.43" fill="#e8e0b0" opacity="0.8"/>
<circle cx="296.69" cy="418.70" r="0.46" fill="#e8e0b0" opacity="0.8"/>
<circle cx="284.78" cy="407.38" r="0.45" fill="#e8e0b0" opacity="0.8"/>
<circle cx="292.94" cy="440.95" r="0.47" fill="#e8e0b0" opacity="0.8"/>
<circle cx="285.76" cy="435.41" r="0.41" fill="#e8e0b0" opacity="0.8"/>
<circle cx="299.25" cy="423.28" r="0.45" fill="#e8e0b0" opacity="0.8"/>
<circle cx="288.56" cy="429.89" r="0.33" fill="#e8e0b0" opacity="0.8"/>
<circle cx="283.77" cy="435.13" r="0.33" fill="#e8e0b0" opacity="0.8"/>
<circle cx="290.02" cy="416.38" r="0.49" fill="#e8e0b0" opacity="0.8"/>
<circle cx="303.91" cy="411.03" r="0.48" fill="#e8e0b0" opacity="0.8"/>
<circle cx="289.23" cy="433.74" r="0.47" fill="#e8e0b0" opacity="0.8"/>
<circle cx="283.18" cy="428.70" r="0.44" fill="#e8e0b0" opacity="0.8"/>
<circle cx="286.05" cy="431.53" r="0.43" fill="#e8e0b0" opacity="0.8"/>
<circle cx="283.79" cy="421.80" r="0.43" fill="#e8e0b0" opacity="0.8"/>
<circle cx="292.67" cy="433.57" r="0.39" fill="#e8e0b0" opacity="0.8"/>
<circle cx="306.04" cy="433.23" r="0.45" fill="#e8e0b0" opacity="0.8"/>
<circle cx="300.64" cy="435.65" r="0.30" fill="#e8e0b0" opacity="0.8"/>
<circle cx="303.50" cy="433.17" r="0.43" fill="#e8e0b0" opacity="0.8"/>
<circle cx="284.29" cy="413.57" r="0.46" fill="#e8e0b0" opacity="0.8"/>
<circle cx="294.04" cy="437.69" r="0.30" fill="#e8e0b0" opacity="0.8"/>
<circle cx="293.40" cy="438.10" r="0.36" fill="#e8e0b0" opacity="0.8"/>
<circle cx="276.54" cy="418.18" r="0.35" fill="#e8e0b0" opacity="0.8"/>
<circle cx="293.07" cy="436.01" r="0.41" fill="#e8e0b0" opacity="0.8"/>
<circle cx="288.55" cy="423.54" r="0.33" fill="#e8e0b0" opacity="0.8"/>
<text x="245.10" y="395.80" font-size="8.3" text-anchor="middle" fill="#231f20" color="#231f20" >Vehicle</text>
<text x="294.40" y="395.80" font-size="8.3" text-anchor="middle" fill="#231f20" color="#231f20" >CPTH<tspan font-size="62%" dy="1.6">2</tspan><tspan dy="-1.6"> 4 μM</tspan></text>
<text x="245.10" y="456.60" font-size="8.3" text-anchor="middle" fill="#231f20" color="#231f20" >CAS</text>
<text x="245.10" y="466.40" font-size="8.3" text-anchor="middle" fill="#231f20" color="#231f20" >31.25 ng/mL</text>
<text x="294.40" y="456.60" font-size="8.3" text-anchor="middle" fill="#231f20" color="#231f20" >Combo</text>
<rect x="221.90" y="489.70" width="46.80" height="46.90" fill="url(#pbg2)" />
<circle cx="245.30" cy="513.35" r="22.50" fill="url(#pgry)" />
<circle cx="256.23" cy="510.42" r="0.41" fill="#6c7268" opacity="0.8"/>
<circle cx="242.68" cy="500.75" r="0.26" fill="#8a9088" opacity="0.8"/>
<circle cx="258.84" cy="510.75" r="0.37" fill="#8a9088" opacity="0.8"/>
<circle cx="237.48" cy="523.78" r="0.37" fill="#e4e6dc" opacity="0.8"/>
<circle cx="252.72" cy="532.67" r="0.39" fill="#8a9088" opacity="0.8"/>
<circle cx="254.02" cy="517.02" r="0.42" fill="#6c7268" opacity="0.8"/>
<circle cx="245.79" cy="500.42" r="0.36" fill="#8a9088" opacity="0.8"/>
<circle cx="260.79" cy="506.73" r="0.41" fill="#6c7268" opacity="0.8"/>
<circle cx="233.38" cy="505.49" r="0.34" fill="#8a9088" opacity="0.8"/>
<circle cx="232.87" cy="520.72" r="0.43" fill="#8a9088" opacity="0.8"/>
<circle cx="239.12" cy="517.98" r="0.40" fill="#6c7268" opacity="0.8"/>
<circle cx="236.63" cy="497.49" r="0.33" fill="#6c7268" opacity="0.8"/>
<circle cx="255.47" cy="508.23" r="0.32" fill="#8a9088" opacity="0.8"/>
<circle cx="246.20" cy="506.19" r="0.29" fill="#6c7268" opacity="0.8"/>
<circle cx="242.94" cy="512.22" r="0.35" fill="#6c7268" opacity="0.8"/>
<circle cx="240.77" cy="511.41" r="0.39" fill="#e4e6dc" opacity="0.8"/>
<circle cx="235.31" cy="530.10" r="0.36" fill="#e4e6dc" opacity="0.8"/>
<circle cx="231.34" cy="521.26" r="0.45" fill="#6c7268" opacity="0.8"/>
<circle cx="250.85" cy="507.58" r="0.32" fill="#e4e6dc" opacity="0.8"/>
<circle cx="254.30" cy="512.34" r="0.36" fill="#e4e6dc" opacity="0.8"/>
<circle cx="244.39" cy="525.06" r="0.30" fill="#8a9088" opacity="0.8"/>
<circle cx="231.20" cy="508.20" r="0.33" fill="#6c7268" opacity="0.8"/>
<circle cx="241.64" cy="523.16" r="0.33" fill="#8a9088" opacity="0.8"/>
<circle cx="251.91" cy="505.00" r="0.29" fill="#6c7268" opacity="0.8"/>
<circle cx="249.77" cy="529.71" r="0.44" fill="#e4e6dc" opacity="0.8"/>
<circle cx="229.29" cy="514.46" r="0.32" fill="#8a9088" opacity="0.8"/>
<circle cx="251.49" cy="532.51" r="0.36" fill="#6c7268" opacity="0.8"/>
<circle cx="245.05" cy="511.43" r="0.26" fill="#e4e6dc" opacity="0.8"/>
<circle cx="247.06" cy="509.82" r="0.29" fill="#8a9088" opacity="0.8"/>
<circle cx="240.73" cy="530.45" r="0.41" fill="#e4e6dc" opacity="0.8"/>
<circle cx="235.03" cy="504.77" r="0.40" fill="#6c7268" opacity="0.8"/>
<circle cx="248.94" cy="509.85" r="0.34" fill="#e4e6dc" opacity="0.8"/>
<circle cx="250.81" cy="518.83" r="0.43" fill="#e4e6dc" opacity="0.8"/>
<circle cx="242.80" cy="513.39" r="0.39" fill="#e4e6dc" opacity="0.8"/>
<circle cx="249.94" cy="499.27" r="0.38" fill="#e4e6dc" opacity="0.8"/>
<circle cx="245.14" cy="494.55" r="0.36" fill="#6c7268" opacity="0.8"/>
<circle cx="257.55" cy="529.31" r="0.29" fill="#6c7268" opacity="0.8"/>
<circle cx="236.09" cy="515.37" r="0.27" fill="#6c7268" opacity="0.8"/>
<circle cx="230.64" cy="522.06" r="0.30" fill="#8a9088" opacity="0.8"/>
<circle cx="242.06" cy="505.75" r="0.26" fill="#e4e6dc" opacity="0.8"/>
<circle cx="250.92" cy="519.60" r="0.34" fill="#6c7268" opacity="0.8"/>
<circle cx="258.53" cy="500.07" r="0.39" fill="#e4e6dc" opacity="0.8"/>
<circle cx="256.68" cy="529.86" r="0.31" fill="#6c7268" opacity="0.8"/>
<circle cx="256.15" cy="528.67" r="0.45" fill="#8a9088" opacity="0.8"/>
<circle cx="257.16" cy="511.41" r="0.28" fill="#8a9088" opacity="0.8"/>
<circle cx="247.88" cy="528.65" r="0.27" fill="#8a9088" opacity="0.8"/>
<circle cx="250.64" cy="520.60" r="0.32" fill="#8a9088" opacity="0.8"/>
<circle cx="259.69" cy="525.93" r="0.27" fill="#6c7268" opacity="0.8"/>
<circle cx="265.65" cy="512.85" r="0.36" fill="#8a9088" opacity="0.8"/>
<circle cx="242.51" cy="513.53" r="0.41" fill="#6c7268" opacity="0.8"/>
<circle cx="248.70" cy="523.93" r="0.31" fill="#e4e6dc" opacity="0.8"/>
<circle cx="239.26" cy="511.77" r="0.28" fill="#8a9088" opacity="0.8"/>
<circle cx="247.35" cy="495.10" r="0.43" fill="#e4e6dc" opacity="0.8"/>
<circle cx="248.66" cy="511.63" r="0.37" fill="#6c7268" opacity="0.8"/>
<circle cx="233.90" cy="530.28" r="0.38" fill="#6c7268" opacity="0.8"/>
<circle cx="251.15" cy="524.31" r="0.35" fill="#8a9088" opacity="0.8"/>
<circle cx="244.87" cy="504.48" r="0.41" fill="#8a9088" opacity="0.8"/>
<circle cx="251.77" cy="496.70" r="0.34" fill="#e4e6dc" opacity="0.8"/>
<circle cx="227.63" cy="507.42" r="0.37" fill="#8a9088" opacity="0.8"/>
<circle cx="249.37" cy="514.28" r="0.37" fill="#8a9088" opacity="0.8"/>
<circle cx="240.69" cy="507.27" r="0.37" fill="#8a9088" opacity="0.8"/>
<circle cx="261.20" cy="521.61" r="0.40" fill="#8a9088" opacity="0.8"/>
<circle cx="255.15" cy="531.19" r="0.32" fill="#e4e6dc" opacity="0.8"/>
<circle cx="255.49" cy="502.96" r="0.28" fill="#6c7268" opacity="0.8"/>
<circle cx="253.35" cy="519.72" r="0.28" fill="#8a9088" opacity="0.8"/>
<circle cx="238.28" cy="511.74" r="0.34" fill="#6c7268" opacity="0.8"/>
<circle cx="241.38" cy="511.56" r="0.30" fill="#6c7268" opacity="0.8"/>
<circle cx="242.03" cy="528.65" r="0.45" fill="#6c7268" opacity="0.8"/>
<circle cx="243.05" cy="498.16" r="0.30" fill="#6c7268" opacity="0.8"/>
<circle cx="265.60" cy="515.28" r="0.35" fill="#e4e6dc" opacity="0.8"/>
<circle cx="229.55" cy="505.89" r="0.30" fill="#6c7268" opacity="0.8"/>
<circle cx="251.44" cy="522.23" r="0.26" fill="#8a9088" opacity="0.8"/>
<circle cx="240.36" cy="508.46" r="0.36" fill="#6c7268" opacity="0.8"/>
<circle cx="259.08" cy="521.42" r="0.30" fill="#e4e6dc" opacity="0.8"/>
<circle cx="247.65" cy="498.49" r="0.41" fill="#6c7268" opacity="0.8"/>
<circle cx="256.23" cy="518.75" r="0.27" fill="#6c7268" opacity="0.8"/>
<circle cx="232.44" cy="501.53" r="0.41" fill="#8a9088" opacity="0.8"/>
<circle cx="261.11" cy="522.57" r="0.37" fill="#6c7268" opacity="0.8"/>
<circle cx="265.62" cy="514.73" r="0.33" fill="#8a9088" opacity="0.8"/>
<circle cx="263.57" cy="517.10" r="0.28" fill="#e4e6dc" opacity="0.8"/>
<circle cx="241.77" cy="505.99" r="0.32" fill="#6c7268" opacity="0.8"/>
<circle cx="251.09" cy="532.70" r="0.39" fill="#e4e6dc" opacity="0.8"/>
<circle cx="266.03" cy="510.20" r="0.41" fill="#8a9088" opacity="0.8"/>
<circle cx="260.10" cy="516.93" r="0.32" fill="#6c7268" opacity="0.8"/>
<circle cx="245.45" cy="496.60" r="0.29" fill="#e4e6dc" opacity="0.8"/>
<circle cx="257.37" cy="517.30" r="0.33" fill="#e4e6dc" opacity="0.8"/>
<circle cx="242.78" cy="501.20" r="0.28" fill="#8a9088" opacity="0.8"/>
<circle cx="236.84" cy="497.31" r="0.28" fill="#e4e6dc" opacity="0.8"/>
<circle cx="263.74" cy="505.66" r="0.40" fill="#e4e6dc" opacity="0.8"/>
<circle cx="233.62" cy="505.90" r="0.42" fill="#e4e6dc" opacity="0.8"/>
<circle cx="239.07" cy="532.97" r="0.36" fill="#e4e6dc" opacity="0.8"/>
<circle cx="260.73" cy="527.10" r="0.41" fill="#8a9088" opacity="0.8"/>
<circle cx="245.39" cy="494.02" r="0.30" fill="#e4e6dc" opacity="0.8"/>
<circle cx="235.44" cy="516.02" r="0.35" fill="#e4e6dc" opacity="0.8"/>
<circle cx="248.92" cy="510.34" r="0.38" fill="#8a9088" opacity="0.8"/>
<circle cx="250.00" cy="496.65" r="0.44" fill="#8a9088" opacity="0.8"/>
<circle cx="240.15" cy="516.79" r="0.38" fill="#8a9088" opacity="0.8"/>
<circle cx="234.95" cy="496.27" r="0.34" fill="#8a9088" opacity="0.8"/>
<circle cx="259.98" cy="513.76" r="0.25" fill="#6c7268" opacity="0.8"/>
<circle cx="255.74" cy="503.32" r="0.33" fill="#8a9088" opacity="0.8"/>
<circle cx="233.57" cy="516.56" r="0.29" fill="#8a9088" opacity="0.8"/>
<circle cx="234.04" cy="522.22" r="0.26" fill="#8a9088" opacity="0.8"/>
<circle cx="254.60" cy="519.09" r="0.39" fill="#8a9088" opacity="0.8"/>
<circle cx="232.43" cy="521.81" r="0.30" fill="#6c7268" opacity="0.8"/>
<circle cx="243.55" cy="509.44" r="0.41" fill="#6c7268" opacity="0.8"/>
<circle cx="235.98" cy="521.09" r="0.28" fill="#6c7268" opacity="0.8"/>
<circle cx="248.50" cy="532.90" r="0.37" fill="#8a9088" opacity="0.8"/>
<circle cx="241.04" cy="524.41" r="0.43" fill="#e4e6dc" opacity="0.8"/>
<circle cx="252.41" cy="531.12" r="0.28" fill="#e4e6dc" opacity="0.8"/>
<circle cx="264.67" cy="514.45" r="0.27" fill="#6c7268" opacity="0.8"/>
<circle cx="227.17" cy="518.67" r="0.30" fill="#8a9088" opacity="0.8"/>
<circle cx="235.99" cy="494.71" r="0.40" fill="#e4e6dc" opacity="0.8"/>
<circle cx="241.42" cy="506.68" r="0.40" fill="#8a9088" opacity="0.8"/>
<circle cx="242.40" cy="508.35" r="0.37" fill="#8a9088" opacity="0.8"/>
<circle cx="244.13" cy="524.71" r="0.31" fill="#e4e6dc" opacity="0.8"/>
<circle cx="236.60" cy="503.86" r="0.35" fill="#e4e6dc" opacity="0.8"/>
<circle cx="261.11" cy="519.57" r="0.35" fill="#e4e6dc" opacity="0.8"/>
<circle cx="250.26" cy="512.60" r="0.42" fill="#e4e6dc" opacity="0.8"/>
<circle cx="254.75" cy="522.12" r="0.31" fill="#e4e6dc" opacity="0.8"/>
<circle cx="259.19" cy="502.02" r="0.40" fill="#6c7268" opacity="0.8"/>
<circle cx="259.12" cy="508.69" r="0.25" fill="#8a9088" opacity="0.8"/>
<circle cx="255.20" cy="526.04" r="0.37" fill="#6c7268" opacity="0.8"/>
<circle cx="254.05" cy="513.22" r="0.37" fill="#8a9088" opacity="0.8"/>
<circle cx="238.11" cy="505.94" r="0.40" fill="#6c7268" opacity="0.8"/>
<circle cx="227.06" cy="523.28" r="0.38" fill="#e4e6dc" opacity="0.8"/>
<circle cx="235.86" cy="502.02" r="0.44" fill="#8a9088" opacity="0.8"/>
<circle cx="241.28" cy="503.04" r="0.28" fill="#e4e6dc" opacity="0.8"/>
<circle cx="240.69" cy="513.47" r="0.36" fill="#6c7268" opacity="0.8"/>
<circle cx="251.04" cy="531.33" r="0.26" fill="#8a9088" opacity="0.8"/>
<circle cx="244.67" cy="504.70" r="0.31" fill="#6c7268" opacity="0.8"/>
<circle cx="227.64" cy="502.56" r="0.41" fill="#8a9088" opacity="0.8"/>
<circle cx="254.13" cy="511.21" r="0.31" fill="#8a9088" opacity="0.8"/>
<circle cx="249.16" cy="524.60" r="0.34" fill="#6c7268" opacity="0.8"/>
<circle cx="240.03" cy="501.87" r="0.31" fill="#8a9088" opacity="0.8"/>
<circle cx="244.30" cy="522.78" r="0.43" fill="#8a9088" opacity="0.8"/>
<circle cx="231.88" cy="513.24" r="0.28" fill="#8a9088" opacity="0.8"/>
<circle cx="255.97" cy="516.37" r="0.36" fill="#e4e6dc" opacity="0.8"/>
<circle cx="229.26" cy="507.15" r="0.40" fill="#8a9088" opacity="0.8"/>
<circle cx="231.48" cy="524.55" r="0.33" fill="#8a9088" opacity="0.8"/>
<circle cx="249.65" cy="507.48" r="0.34" fill="#6c7268" opacity="0.8"/>
<circle cx="263.75" cy="518.25" r="0.36" fill="#8a9088" opacity="0.8"/>
<circle cx="235.21" cy="505.81" r="0.45" fill="#6c7268" opacity="0.8"/>
<circle cx="249.93" cy="508.76" r="0.37" fill="#8a9088" opacity="0.8"/>
<circle cx="254.26" cy="498.07" r="0.44" fill="#6c7268" opacity="0.8"/>
<circle cx="232.62" cy="497.05" r="0.38" fill="#e4e6dc" opacity="0.8"/>
<circle cx="255.15" cy="522.35" r="0.42" fill="#e4e6dc" opacity="0.8"/>
<circle cx="252.36" cy="502.10" r="0.35" fill="#8a9088" opacity="0.8"/>
<circle cx="239.99" cy="520.68" r="0.42" fill="#e4e6dc" opacity="0.8"/>
<circle cx="244.08" cy="499.90" r="0.44" fill="#8a9088" opacity="0.8"/>
<circle cx="253.46" cy="522.44" r="0.26" fill="#8a9088" opacity="0.8"/>
<circle cx="246.37" cy="513.83" r="0.36" fill="#6c7268" opacity="0.8"/>
<circle cx="233.52" cy="507.08" r="0.36" fill="#8a9088" opacity="0.8"/>
<circle cx="249.10" cy="496.46" r="0.42" fill="#6c7268" opacity="0.8"/>
<circle cx="255.31" cy="527.35" r="0.40" fill="#e4e6dc" opacity="0.8"/>
<circle cx="253.20" cy="521.24" r="0.26" fill="#e4e6dc" opacity="0.8"/>
<circle cx="237.05" cy="521.01" r="0.38" fill="#e4e6dc" opacity="0.8"/>
<circle cx="230.44" cy="526.56" r="0.39" fill="#e4e6dc" opacity="0.8"/>
<circle cx="233.45" cy="504.18" r="0.37" fill="#6c7268" opacity="0.8"/>
<circle cx="240.72" cy="525.08" r="0.36" fill="#6c7268" opacity="0.8"/>
<circle cx="234.13" cy="526.90" r="0.26" fill="#8a9088" opacity="0.8"/>
<circle cx="245.30" cy="513.35" r="21.90" fill="none" stroke="#dadccc" stroke-width="1.0" opacity="0.8"/>
<rect x="271.70" y="489.70" width="46.80" height="46.90" fill="url(#pbg2)" />
<circle cx="295.10" cy="513.35" r="22.50" fill="url(#pgry)" />
<circle cx="297.90" cy="527.28" r="0.40" fill="#8a9088" opacity="0.8"/>
<circle cx="294.30" cy="518.39" r="0.34" fill="#e4e6dc" opacity="0.8"/>
<circle cx="291.99" cy="511.22" r="0.36" fill="#8a9088" opacity="0.8"/>
<circle cx="302.74" cy="519.72" r="0.38" fill="#8a9088" opacity="0.8"/>
<circle cx="310.02" cy="509.99" r="0.30" fill="#e4e6dc" opacity="0.8"/>
<circle cx="297.69" cy="504.11" r="0.42" fill="#e4e6dc" opacity="0.8"/>
<circle cx="291.53" cy="512.50" r="0.41" fill="#6c7268" opacity="0.8"/>
<circle cx="299.15" cy="503.26" r="0.32" fill="#e4e6dc" opacity="0.8"/>
<circle cx="294.17" cy="519.56" r="0.27" fill="#8a9088" opacity="0.8"/>
<circle cx="279.03" cy="512.13" r="0.30" fill="#6c7268" opacity="0.8"/>
<circle cx="301.97" cy="493.94" r="0.32" fill="#8a9088" opacity="0.8"/>
<circle cx="308.18" cy="519.64" r="0.28" fill="#8a9088" opacity="0.8"/>
<circle cx="314.44" cy="509.56" r="0.37" fill="#6c7268" opacity="0.8"/>
<circle cx="290.12" cy="521.02" r="0.33" fill="#8a9088" opacity="0.8"/>
<circle cx="295.45" cy="507.55" r="0.43" fill="#6c7268" opacity="0.8"/>
<circle cx="286.45" cy="516.86" r="0.39" fill="#6c7268" opacity="0.8"/>
<circle cx="296.47" cy="504.03" r="0.40" fill="#8a9088" opacity="0.8"/>
<circle cx="294.80" cy="492.90" r="0.43" fill="#e4e6dc" opacity="0.8"/>
<circle cx="293.10" cy="511.63" r="0.32" fill="#8a9088" opacity="0.8"/>
<circle cx="314.55" cy="514.94" r="0.39" fill="#e4e6dc" opacity="0.8"/>
<circle cx="279.86" cy="509.67" r="0.38" fill="#e4e6dc" opacity="0.8"/>
<circle cx="281.00" cy="497.91" r="0.31" fill="#6c7268" opacity="0.8"/>
<circle cx="293.93" cy="495.93" r="0.33" fill="#6c7268" opacity="0.8"/>
<circle cx="299.86" cy="500.01" r="0.27" fill="#6c7268" opacity="0.8"/>
<circle cx="303.06" cy="503.50" r="0.43" fill="#8a9088" opacity="0.8"/>
<circle cx="315.12" cy="512.16" r="0.41" fill="#8a9088" opacity="0.8"/>
<circle cx="311.68" cy="500.87" r="0.42" fill="#e4e6dc" opacity="0.8"/>
<circle cx="281.31" cy="507.54" r="0.29" fill="#8a9088" opacity="0.8"/>
<circle cx="283.81" cy="496.44" r="0.29" fill="#8a9088" opacity="0.8"/>
<circle cx="314.68" cy="506.34" r="0.34" fill="#e4e6dc" opacity="0.8"/>
<circle cx="293.82" cy="505.02" r="0.43" fill="#8a9088" opacity="0.8"/>
<circle cx="296.69" cy="515.13" r="0.29" fill="#e4e6dc" opacity="0.8"/>
<circle cx="291.68" cy="512.67" r="0.41" fill="#6c7268" opacity="0.8"/>
<circle cx="290.85" cy="514.34" r="0.43" fill="#e4e6dc" opacity="0.8"/>
<circle cx="311.78" cy="503.33" r="0.32" fill="#e4e6dc" opacity="0.8"/>
<circle cx="306.08" cy="503.70" r="0.38" fill="#6c7268" opacity="0.8"/>
<circle cx="304.59" cy="513.79" r="0.32" fill="#6c7268" opacity="0.8"/>
<circle cx="311.16" cy="524.72" r="0.44" fill="#8a9088" opacity="0.8"/>
<circle cx="279.63" cy="517.70" r="0.38" fill="#e4e6dc" opacity="0.8"/>
<circle cx="310.82" cy="503.92" r="0.36" fill="#e4e6dc" opacity="0.8"/>
<circle cx="308.69" cy="518.13" r="0.33" fill="#e4e6dc" opacity="0.8"/>
<circle cx="308.61" cy="497.41" r="0.39" fill="#8a9088" opacity="0.8"/>
<circle cx="289.96" cy="499.87" r="0.28" fill="#8a9088" opacity="0.8"/>
<circle cx="290.83" cy="510.28" r="0.30" fill="#6c7268" opacity="0.8"/>
<circle cx="310.89" cy="513.84" r="0.40" fill="#6c7268" opacity="0.8"/>
<circle cx="283.05" cy="499.87" r="0.26" fill="#6c7268" opacity="0.8"/>
<circle cx="302.97" cy="508.22" r="0.25" fill="#8a9088" opacity="0.8"/>
<circle cx="304.92" cy="516.45" r="0.44" fill="#6c7268" opacity="0.8"/>
<circle cx="295.80" cy="508.99" r="0.36" fill="#e4e6dc" opacity="0.8"/>
<circle cx="304.51" cy="508.12" r="0.28" fill="#6c7268" opacity="0.8"/>
<circle cx="274.74" cy="516.07" r="0.40" fill="#e4e6dc" opacity="0.8"/>
<circle cx="301.63" cy="517.88" r="0.36" fill="#e4e6dc" opacity="0.8"/>
<circle cx="288.29" cy="512.83" r="0.41" fill="#8a9088" opacity="0.8"/>
<circle cx="295.96" cy="512.85" r="0.42" fill="#e4e6dc" opacity="0.8"/>
<circle cx="291.43" cy="508.42" r="0.36" fill="#e4e6dc" opacity="0.8"/>
<circle cx="279.54" cy="502.84" r="0.27" fill="#6c7268" opacity="0.8"/>
<circle cx="286.40" cy="499.36" r="0.34" fill="#e4e6dc" opacity="0.8"/>
<circle cx="313.20" cy="514.22" r="0.25" fill="#e4e6dc" opacity="0.8"/>
<circle cx="300.46" cy="500.19" r="0.27" fill="#e4e6dc" opacity="0.8"/>
<circle cx="293.54" cy="496.21" r="0.45" fill="#e4e6dc" opacity="0.8"/>
<circle cx="310.45" cy="511.06" r="0.32" fill="#6c7268" opacity="0.8"/>
<circle cx="303.84" cy="518.73" r="0.43" fill="#6c7268" opacity="0.8"/>
<circle cx="304.39" cy="519.23" r="0.31" fill="#8a9088" opacity="0.8"/>
<circle cx="304.89" cy="526.45" r="0.45" fill="#6c7268" opacity="0.8"/>
<circle cx="300.85" cy="513.60" r="0.27" fill="#e4e6dc" opacity="0.8"/>
<circle cx="296.16" cy="503.70" r="0.33" fill="#8a9088" opacity="0.8"/>
<circle cx="309.23" cy="506.02" r="0.29" fill="#e4e6dc" opacity="0.8"/>
<circle cx="295.17" cy="507.42" r="0.25" fill="#6c7268" opacity="0.8"/>
<circle cx="294.34" cy="509.76" r="0.39" fill="#8a9088" opacity="0.8"/>
<circle cx="296.65" cy="508.68" r="0.37" fill="#8a9088" opacity="0.8"/>
<circle cx="278.62" cy="519.67" r="0.30" fill="#8a9088" opacity="0.8"/>
<circle cx="297.11" cy="510.44" r="0.33" fill="#6c7268" opacity="0.8"/>
<circle cx="275.63" cy="520.66" r="0.38" fill="#8a9088" opacity="0.8"/>
<circle cx="296.59" cy="494.20" r="0.45" fill="#8a9088" opacity="0.8"/>
<circle cx="293.51" cy="523.72" r="0.33" fill="#6c7268" opacity="0.8"/>
<circle cx="286.74" cy="526.39" r="0.32" fill="#8a9088" opacity="0.8"/>
<circle cx="313.54" cy="513.55" r="0.30" fill="#8a9088" opacity="0.8"/>
<circle cx="299.34" cy="498.63" r="0.27" fill="#8a9088" opacity="0.8"/>
<circle cx="284.24" cy="518.88" r="0.26" fill="#6c7268" opacity="0.8"/>
<circle cx="303.33" cy="511.54" r="0.36" fill="#e4e6dc" opacity="0.8"/>
<circle cx="289.72" cy="504.45" r="0.43" fill="#e4e6dc" opacity="0.8"/>
<circle cx="287.47" cy="494.16" r="0.27" fill="#6c7268" opacity="0.8"/>
<circle cx="298.74" cy="531.23" r="0.43" fill="#e4e6dc" opacity="0.8"/>
<circle cx="293.96" cy="531.08" r="0.45" fill="#6c7268" opacity="0.8"/>
<circle cx="282.46" cy="502.81" r="0.28" fill="#e4e6dc" opacity="0.8"/>
<circle cx="292.29" cy="526.18" r="0.32" fill="#6c7268" opacity="0.8"/>
<circle cx="311.49" cy="524.00" r="0.38" fill="#e4e6dc" opacity="0.8"/>
<circle cx="311.52" cy="509.60" r="0.37" fill="#e4e6dc" opacity="0.8"/>
<circle cx="300.06" cy="515.66" r="0.33" fill="#6c7268" opacity="0.8"/>
<circle cx="300.10" cy="515.47" r="0.25" fill="#8a9088" opacity="0.8"/>
<circle cx="309.09" cy="520.42" r="0.39" fill="#e4e6dc" opacity="0.8"/>
<circle cx="312.19" cy="510.04" r="0.30" fill="#8a9088" opacity="0.8"/>
<circle cx="298.01" cy="519.32" r="0.31" fill="#8a9088" opacity="0.8"/>
<circle cx="292.23" cy="505.09" r="0.45" fill="#6c7268" opacity="0.8"/>
<circle cx="304.27" cy="502.44" r="0.31" fill="#6c7268" opacity="0.8"/>
<circle cx="313.86" cy="517.01" r="0.30" fill="#6c7268" opacity="0.8"/>
<circle cx="300.71" cy="497.09" r="0.31" fill="#6c7268" opacity="0.8"/>
<circle cx="298.30" cy="508.68" r="0.27" fill="#e4e6dc" opacity="0.8"/>
<circle cx="288.92" cy="503.38" r="0.30" fill="#6c7268" opacity="0.8"/>
<circle cx="299.15" cy="518.49" r="0.45" fill="#8a9088" opacity="0.8"/>
<circle cx="294.94" cy="519.61" r="0.37" fill="#6c7268" opacity="0.8"/>
<circle cx="297.45" cy="514.36" r="0.42" fill="#6c7268" opacity="0.8"/>
<circle cx="306.62" cy="508.45" r="0.36" fill="#6c7268" opacity="0.8"/>
<circle cx="307.13" cy="527.59" r="0.30" fill="#8a9088" opacity="0.8"/>
<circle cx="303.69" cy="528.14" r="0.42" fill="#6c7268" opacity="0.8"/>
<circle cx="292.25" cy="525.99" r="0.40" fill="#6c7268" opacity="0.8"/>
<circle cx="283.34" cy="497.45" r="0.40" fill="#8a9088" opacity="0.8"/>
<circle cx="296.24" cy="533.16" r="0.30" fill="#6c7268" opacity="0.8"/>
<circle cx="311.35" cy="518.69" r="0.42" fill="#6c7268" opacity="0.8"/>
<circle cx="292.23" cy="527.50" r="0.35" fill="#6c7268" opacity="0.8"/>
<circle cx="277.94" cy="517.76" r="0.27" fill="#6c7268" opacity="0.8"/>
<circle cx="275.01" cy="515.25" r="0.43" fill="#8a9088" opacity="0.8"/>
<circle cx="288.38" cy="516.00" r="0.26" fill="#8a9088" opacity="0.8"/>
<circle cx="285.46" cy="516.89" r="0.32" fill="#6c7268" opacity="0.8"/>
<circle cx="304.02" cy="517.65" r="0.40" fill="#e4e6dc" opacity="0.8"/>
<circle cx="279.02" cy="499.85" r="0.44" fill="#8a9088" opacity="0.8"/>
<circle cx="310.81" cy="526.36" r="0.35" fill="#6c7268" opacity="0.8"/>
<circle cx="280.23" cy="511.33" r="0.31" fill="#6c7268" opacity="0.8"/>
<circle cx="304.48" cy="518.74" r="0.43" fill="#8a9088" opacity="0.8"/>
<circle cx="296.77" cy="505.91" r="0.41" fill="#e4e6dc" opacity="0.8"/>
<circle cx="291.17" cy="522.01" r="0.38" fill="#8a9088" opacity="0.8"/>
<circle cx="311.12" cy="520.66" r="0.34" fill="#8a9088" opacity="0.8"/>
<circle cx="296.03" cy="515.33" r="0.38" fill="#e4e6dc" opacity="0.8"/>
<circle cx="308.89" cy="503.68" r="0.39" fill="#6c7268" opacity="0.8"/>
<circle cx="285.21" cy="511.00" r="0.35" fill="#e4e6dc" opacity="0.8"/>
<circle cx="303.22" cy="523.08" r="0.33" fill="#8a9088" opacity="0.8"/>
<circle cx="293.92" cy="493.94" r="0.32" fill="#e4e6dc" opacity="0.8"/>
<circle cx="299.26" cy="522.45" r="0.37" fill="#e4e6dc" opacity="0.8"/>
<circle cx="303.61" cy="518.17" r="0.26" fill="#8a9088" opacity="0.8"/>
<circle cx="314.11" cy="510.39" r="0.31" fill="#8a9088" opacity="0.8"/>
<circle cx="277.47" cy="503.18" r="0.33" fill="#e4e6dc" opacity="0.8"/>
<circle cx="301.50" cy="524.20" r="0.35" fill="#6c7268" opacity="0.8"/>
<circle cx="280.23" cy="515.51" r="0.44" fill="#8a9088" opacity="0.8"/>
<circle cx="290.58" cy="504.80" r="0.43" fill="#6c7268" opacity="0.8"/>
<circle cx="299.85" cy="505.20" r="0.45" fill="#8a9088" opacity="0.8"/>
<circle cx="292.37" cy="533.91" r="0.40" fill="#6c7268" opacity="0.8"/>
<circle cx="284.84" cy="520.14" r="0.38" fill="#6c7268" opacity="0.8"/>
<circle cx="278.36" cy="505.65" r="0.30" fill="#6c7268" opacity="0.8"/>
<circle cx="305.75" cy="528.99" r="0.37" fill="#8a9088" opacity="0.8"/>
<circle cx="278.71" cy="506.63" r="0.28" fill="#6c7268" opacity="0.8"/>
<circle cx="284.94" cy="509.17" r="0.33" fill="#6c7268" opacity="0.8"/>
<circle cx="302.82" cy="513.28" r="0.31" fill="#6c7268" opacity="0.8"/>
<circle cx="301.85" cy="525.22" r="0.27" fill="#8a9088" opacity="0.8"/>
<circle cx="297.73" cy="503.12" r="0.36" fill="#6c7268" opacity="0.8"/>
<circle cx="308.22" cy="497.54" r="0.30" fill="#e4e6dc" opacity="0.8"/>
<circle cx="291.11" cy="515.96" r="0.43" fill="#6c7268" opacity="0.8"/>
<circle cx="314.65" cy="509.30" r="0.26" fill="#6c7268" opacity="0.8"/>
<circle cx="304.45" cy="503.45" r="0.36" fill="#8a9088" opacity="0.8"/>
<circle cx="301.06" cy="497.45" r="0.35" fill="#6c7268" opacity="0.8"/>
<circle cx="281.09" cy="518.27" r="0.36" fill="#e4e6dc" opacity="0.8"/>
<circle cx="301.38" cy="494.46" r="0.44" fill="#6c7268" opacity="0.8"/>
<circle cx="280.23" cy="519.68" r="0.30" fill="#8a9088" opacity="0.8"/>
<circle cx="302.39" cy="529.23" r="0.30" fill="#6c7268" opacity="0.8"/>
<circle cx="277.62" cy="524.13" r="0.30" fill="#6c7268" opacity="0.8"/>
<circle cx="293.58" cy="508.57" r="0.39" fill="#6c7268" opacity="0.8"/>
<circle cx="286.27" cy="496.78" r="0.25" fill="#8a9088" opacity="0.8"/>
<circle cx="285.28" cy="528.81" r="0.44" fill="#6c7268" opacity="0.8"/>
<circle cx="283.42" cy="515.92" r="0.44" fill="#8a9088" opacity="0.8"/>
<circle cx="312.64" cy="524.32" r="0.36" fill="#8a9088" opacity="0.8"/>
<circle cx="314.45" cy="508.59" r="0.30" fill="#e4e6dc" opacity="0.8"/>
<circle cx="295.10" cy="513.35" r="21.90" fill="none" stroke="#dadccc" stroke-width="1.0" opacity="0.8"/>
<rect x="221.90" y="551.00" width="46.80" height="46.90" fill="url(#pbg2)" />
<circle cx="245.30" cy="574.65" r="22.50" fill="url(#pgry)" />
<circle cx="241.94" cy="562.15" r="0.35" fill="#8a9088" opacity="0.8"/>
<circle cx="252.19" cy="581.77" r="0.29" fill="#8a9088" opacity="0.8"/>
<circle cx="256.67" cy="584.43" r="0.43" fill="#e4e6dc" opacity="0.8"/>
<circle cx="240.15" cy="577.45" r="0.37" fill="#8a9088" opacity="0.8"/>
<circle cx="234.21" cy="568.83" r="0.39" fill="#8a9088" opacity="0.8"/>
<circle cx="237.84" cy="592.03" r="0.39" fill="#e4e6dc" opacity="0.8"/>
<circle cx="241.52" cy="567.12" r="0.32" fill="#e4e6dc" opacity="0.8"/>
<circle cx="247.32" cy="555.56" r="0.38" fill="#e4e6dc" opacity="0.8"/>
<circle cx="245.45" cy="590.81" r="0.40" fill="#8a9088" opacity="0.8"/>
<circle cx="246.47" cy="563.19" r="0.30" fill="#6c7268" opacity="0.8"/>
<circle cx="229.72" cy="563.16" r="0.43" fill="#e4e6dc" opacity="0.8"/>
<circle cx="264.38" cy="580.27" r="0.37" fill="#8a9088" opacity="0.8"/>
<circle cx="243.63" cy="563.82" r="0.26" fill="#6c7268" opacity="0.8"/>
<circle cx="248.50" cy="569.40" r="0.30" fill="#6c7268" opacity="0.8"/>
<circle cx="246.66" cy="585.38" r="0.39" fill="#6c7268" opacity="0.8"/>
<circle cx="252.35" cy="575.51" r="0.44" fill="#6c7268" opacity="0.8"/>
<circle cx="252.53" cy="584.43" r="0.35" fill="#8a9088" opacity="0.8"/>
<circle cx="240.59" cy="592.18" r="0.42" fill="#8a9088" opacity="0.8"/>
<circle cx="251.02" cy="576.71" r="0.28" fill="#6c7268" opacity="0.8"/>
<circle cx="249.73" cy="576.51" r="0.44" fill="#6c7268" opacity="0.8"/>
<circle cx="249.95" cy="557.34" r="0.32" fill="#8a9088" opacity="0.8"/>
<circle cx="255.63" cy="587.31" r="0.45" fill="#6c7268" opacity="0.8"/>
<circle cx="245.45" cy="555.42" r="0.33" fill="#8a9088" opacity="0.8"/>
<circle cx="243.23" cy="564.81" r="0.41" fill="#8a9088" opacity="0.8"/>
<circle cx="258.64" cy="583.62" r="0.29" fill="#e4e6dc" opacity="0.8"/>
<circle cx="231.57" cy="578.91" r="0.41" fill="#e4e6dc" opacity="0.8"/>
<circle cx="259.55" cy="584.11" r="0.36" fill="#6c7268" opacity="0.8"/>
<circle cx="265.52" cy="576.32" r="0.29" fill="#e4e6dc" opacity="0.8"/>
<circle cx="227.75" cy="579.47" r="0.35" fill="#e4e6dc" opacity="0.8"/>
<circle cx="227.81" cy="570.95" r="0.26" fill="#e4e6dc" opacity="0.8"/>
<circle cx="260.17" cy="576.86" r="0.29" fill="#e4e6dc" opacity="0.8"/>
<circle cx="239.36" cy="559.30" r="0.43" fill="#6c7268" opacity="0.8"/>
<circle cx="266.17" cy="572.84" r="0.43" fill="#6c7268" opacity="0.8"/>
<circle cx="250.79" cy="582.99" r="0.40" fill="#e4e6dc" opacity="0.8"/>
<circle cx="240.98" cy="554.55" r="0.41" fill="#8a9088" opacity="0.8"/>
<circle cx="233.21" cy="583.84" r="0.31" fill="#e4e6dc" opacity="0.8"/>
<circle cx="240.75" cy="585.08" r="0.32" fill="#6c7268" opacity="0.8"/>
<circle cx="257.08" cy="591.14" r="0.43" fill="#8a9088" opacity="0.8"/>
<circle cx="256.98" cy="576.89" r="0.41" fill="#e4e6dc" opacity="0.8"/>
<circle cx="232.76" cy="572.96" r="0.39" fill="#e4e6dc" opacity="0.8"/>
<circle cx="243.16" cy="579.98" r="0.38" fill="#e4e6dc" opacity="0.8"/>
<circle cx="234.22" cy="584.17" r="0.30" fill="#e4e6dc" opacity="0.8"/>
<circle cx="231.27" cy="573.45" r="0.42" fill="#e4e6dc" opacity="0.8"/>
<circle cx="229.93" cy="583.30" r="0.36" fill="#e4e6dc" opacity="0.8"/>
<circle cx="260.42" cy="567.99" r="0.27" fill="#8a9088" opacity="0.8"/>
<circle cx="262.47" cy="585.23" r="0.28" fill="#e4e6dc" opacity="0.8"/>
<circle cx="255.18" cy="585.03" r="0.37" fill="#8a9088" opacity="0.8"/>
<circle cx="234.67" cy="558.44" r="0.38" fill="#8a9088" opacity="0.8"/>
<circle cx="239.62" cy="577.01" r="0.33" fill="#6c7268" opacity="0.8"/>
<circle cx="241.47" cy="557.05" r="0.26" fill="#e4e6dc" opacity="0.8"/>
<circle cx="249.83" cy="579.79" r="0.26" fill="#6c7268" opacity="0.8"/>
<circle cx="252.11" cy="559.82" r="0.33" fill="#6c7268" opacity="0.8"/>
<circle cx="253.77" cy="590.95" r="0.34" fill="#8a9088" opacity="0.8"/>
<circle cx="232.43" cy="589.73" r="0.34" fill="#e4e6dc" opacity="0.8"/>
<circle cx="253.24" cy="581.82" r="0.40" fill="#e4e6dc" opacity="0.8"/>
<circle cx="257.20" cy="566.48" r="0.44" fill="#e4e6dc" opacity="0.8"/>
<circle cx="252.13" cy="557.68" r="0.33" fill="#6c7268" opacity="0.8"/>
<circle cx="244.54" cy="567.13" r="0.29" fill="#8a9088" opacity="0.8"/>
<circle cx="260.12" cy="586.45" r="0.32" fill="#6c7268" opacity="0.8"/>
<circle cx="260.11" cy="577.25" r="0.41" fill="#e4e6dc" opacity="0.8"/>
<circle cx="256.86" cy="590.25" r="0.31" fill="#6c7268" opacity="0.8"/>
<circle cx="242.80" cy="555.47" r="0.39" fill="#e4e6dc" opacity="0.8"/>
<circle cx="228.71" cy="583.99" r="0.42" fill="#e4e6dc" opacity="0.8"/>
<circle cx="234.94" cy="590.14" r="0.30" fill="#6c7268" opacity="0.8"/>
<circle cx="261.83" cy="562.54" r="0.32" fill="#8a9088" opacity="0.8"/>
<circle cx="249.84" cy="564.82" r="0.32" fill="#8a9088" opacity="0.8"/>
<circle cx="235.56" cy="565.75" r="0.31" fill="#6c7268" opacity="0.8"/>
<circle cx="262.51" cy="576.01" r="0.40" fill="#e4e6dc" opacity="0.8"/>
<circle cx="245.66" cy="564.28" r="0.43" fill="#6c7268" opacity="0.8"/>
<circle cx="263.19" cy="573.60" r="0.40" fill="#8a9088" opacity="0.8"/>
<circle cx="244.96" cy="591.65" r="0.33" fill="#8a9088" opacity="0.8"/>
<circle cx="255.60" cy="586.13" r="0.32" fill="#6c7268" opacity="0.8"/>
<circle cx="234.43" cy="590.59" r="0.42" fill="#6c7268" opacity="0.8"/>
<circle cx="258.10" cy="558.61" r="0.42" fill="#e4e6dc" opacity="0.8"/>
<circle cx="242.65" cy="570.89" r="0.42" fill="#e4e6dc" opacity="0.8"/>
<circle cx="265.55" cy="571.99" r="0.34" fill="#8a9088" opacity="0.8"/>
<circle cx="249.24" cy="555.46" r="0.29" fill="#8a9088" opacity="0.8"/>
<circle cx="241.89" cy="578.72" r="0.27" fill="#6c7268" opacity="0.8"/>
<circle cx="248.05" cy="572.73" r="0.32" fill="#e4e6dc" opacity="0.8"/>
<circle cx="261.77" cy="582.11" r="0.29" fill="#8a9088" opacity="0.8"/>
<circle cx="237.84" cy="565.62" r="0.35" fill="#8a9088" opacity="0.8"/>
<circle cx="239.16" cy="590.18" r="0.43" fill="#8a9088" opacity="0.8"/>
<circle cx="240.15" cy="585.86" r="0.42" fill="#e4e6dc" opacity="0.8"/>
<circle cx="256.47" cy="563.33" r="0.27" fill="#e4e6dc" opacity="0.8"/>
<circle cx="265.18" cy="574.37" r="0.26" fill="#8a9088" opacity="0.8"/>
<circle cx="228.25" cy="584.53" r="0.38" fill="#6c7268" opacity="0.8"/>
<circle cx="249.30" cy="589.60" r="0.44" fill="#e4e6dc" opacity="0.8"/>
<circle cx="242.83" cy="567.65" r="0.43" fill="#6c7268" opacity="0.8"/>
<circle cx="229.92" cy="578.44" r="0.25" fill="#6c7268" opacity="0.8"/>
<circle cx="239.54" cy="577.39" r="0.35" fill="#e4e6dc" opacity="0.8"/>
<circle cx="248.33" cy="562.48" r="0.29" fill="#e4e6dc" opacity="0.8"/>
<circle cx="241.29" cy="571.59" r="0.32" fill="#e4e6dc" opacity="0.8"/>
<circle cx="233.46" cy="579.91" r="0.39" fill="#8a9088" opacity="0.8"/>
<circle cx="248.75" cy="585.66" r="0.32" fill="#e4e6dc" opacity="0.8"/>
<circle cx="259.80" cy="572.12" r="0.40" fill="#6c7268" opacity="0.8"/>
<circle cx="241.40" cy="567.72" r="0.44" fill="#e4e6dc" opacity="0.8"/>
<circle cx="252.18" cy="569.65" r="0.25" fill="#e4e6dc" opacity="0.8"/>
<circle cx="227.94" cy="568.84" r="0.42" fill="#8a9088" opacity="0.8"/>
<circle cx="249.97" cy="576.28" r="0.35" fill="#e4e6dc" opacity="0.8"/>
<circle cx="255.84" cy="560.37" r="0.39" fill="#6c7268" opacity="0.8"/>
<circle cx="225.07" cy="573.28" r="0.36" fill="#6c7268" opacity="0.8"/>
<circle cx="253.24" cy="586.06" r="0.26" fill="#6c7268" opacity="0.8"/>
<circle cx="236.74" cy="568.25" r="0.31" fill="#8a9088" opacity="0.8"/>
<circle cx="248.79" cy="590.93" r="0.26" fill="#6c7268" opacity="0.8"/>
<circle cx="251.79" cy="555.78" r="0.28" fill="#6c7268" opacity="0.8"/>
<circle cx="235.48" cy="572.22" r="0.41" fill="#6c7268" opacity="0.8"/>
<circle cx="229.36" cy="562.62" r="0.29" fill="#e4e6dc" opacity="0.8"/>
<circle cx="244.06" cy="567.80" r="0.34" fill="#e4e6dc" opacity="0.8"/>
<circle cx="242.61" cy="564.02" r="0.42" fill="#e4e6dc" opacity="0.8"/>
<circle cx="264.60" cy="581.27" r="0.34" fill="#6c7268" opacity="0.8"/>
<circle cx="258.79" cy="560.02" r="0.36" fill="#8a9088" opacity="0.8"/>
<circle cx="254.23" cy="585.74" r="0.38" fill="#e4e6dc" opacity="0.8"/>
<circle cx="235.84" cy="590.41" r="0.30" fill="#6c7268" opacity="0.8"/>
<circle cx="248.04" cy="594.04" r="0.32" fill="#8a9088" opacity="0.8"/>
<circle cx="242.53" cy="582.63" r="0.29" fill="#6c7268" opacity="0.8"/>
<circle cx="255.38" cy="587.24" r="0.27" fill="#8a9088" opacity="0.8"/>
<circle cx="251.19" cy="587.95" r="0.34" fill="#e4e6dc" opacity="0.8"/>
<circle cx="224.96" cy="576.41" r="0.34" fill="#6c7268" opacity="0.8"/>
<circle cx="230.55" cy="577.29" r="0.35" fill="#6c7268" opacity="0.8"/>
<circle cx="261.05" cy="582.47" r="0.44" fill="#8a9088" opacity="0.8"/>
<circle cx="259.83" cy="585.27" r="0.32" fill="#e4e6dc" opacity="0.8"/>
<circle cx="240.51" cy="562.41" r="0.28" fill="#e4e6dc" opacity="0.8"/>
<circle cx="241.21" cy="573.38" r="0.41" fill="#8a9088" opacity="0.8"/>
<circle cx="235.13" cy="587.85" r="0.43" fill="#8a9088" opacity="0.8"/>
<circle cx="261.09" cy="569.75" r="0.28" fill="#e4e6dc" opacity="0.8"/>
<circle cx="235.92" cy="559.28" r="0.44" fill="#6c7268" opacity="0.8"/>
<circle cx="233.19" cy="562.31" r="0.33" fill="#8a9088" opacity="0.8"/>
<circle cx="230.71" cy="565.39" r="0.32" fill="#6c7268" opacity="0.8"/>
<circle cx="232.61" cy="570.58" r="0.29" fill="#6c7268" opacity="0.8"/>
<circle cx="258.41" cy="589.71" r="0.45" fill="#e4e6dc" opacity="0.8"/>
<circle cx="238.84" cy="587.68" r="0.35" fill="#8a9088" opacity="0.8"/>
<circle cx="242.37" cy="574.25" r="0.36" fill="#8a9088" opacity="0.8"/>
<circle cx="236.00" cy="563.52" r="0.32" fill="#8a9088" opacity="0.8"/>
<circle cx="233.12" cy="564.61" r="0.42" fill="#6c7268" opacity="0.8"/>
<circle cx="236.32" cy="584.15" r="0.32" fill="#e4e6dc" opacity="0.8"/>
<circle cx="234.60" cy="571.98" r="0.32" fill="#8a9088" opacity="0.8"/>
<circle cx="254.63" cy="589.39" r="0.25" fill="#6c7268" opacity="0.8"/>
<circle cx="249.82" cy="592.10" r="0.28" fill="#8a9088" opacity="0.8"/>
<circle cx="245.99" cy="579.64" r="0.30" fill="#e4e6dc" opacity="0.8"/>
<circle cx="264.97" cy="571.05" r="0.27" fill="#6c7268" opacity="0.8"/>
<circle cx="226.16" cy="568.31" r="0.27" fill="#6c7268" opacity="0.8"/>
<circle cx="236.86" cy="578.36" r="0.40" fill="#e4e6dc" opacity="0.8"/>
<circle cx="240.47" cy="578.87" r="0.42" fill="#6c7268" opacity="0.8"/>
<circle cx="228.28" cy="562.77" r="0.26" fill="#6c7268" opacity="0.8"/>
<circle cx="247.51" cy="578.16" r="0.32" fill="#e4e6dc" opacity="0.8"/>
<circle cx="240.49" cy="569.52" r="0.28" fill="#6c7268" opacity="0.8"/>
<circle cx="249.37" cy="586.53" r="0.44" fill="#6c7268" opacity="0.8"/>
<circle cx="231.99" cy="590.61" r="0.34" fill="#8a9088" opacity="0.8"/>
<circle cx="233.50" cy="582.24" r="0.35" fill="#6c7268" opacity="0.8"/>
<circle cx="262.93" cy="574.08" r="0.29" fill="#6c7268" opacity="0.8"/>
<circle cx="259.92" cy="562.98" r="0.38" fill="#e4e6dc" opacity="0.8"/>
<circle cx="259.55" cy="580.18" r="0.39" fill="#6c7268" opacity="0.8"/>
<circle cx="248.52" cy="559.45" r="0.43" fill="#6c7268" opacity="0.8"/>
<circle cx="226.49" cy="580.56" r="0.37" fill="#8a9088" opacity="0.8"/>
<circle cx="237.27" cy="561.96" r="0.28" fill="#6c7268" opacity="0.8"/>
<circle cx="258.83" cy="566.63" r="0.28" fill="#6c7268" opacity="0.8"/>
<circle cx="242.16" cy="566.95" r="0.38" fill="#e4e6dc" opacity="0.8"/>
<circle cx="251.28" cy="557.02" r="0.35" fill="#6c7268" opacity="0.8"/>
<circle cx="252.37" cy="564.18" r="0.39" fill="#6c7268" opacity="0.8"/>
<circle cx="229.08" cy="567.03" r="0.33" fill="#8a9088" opacity="0.8"/>
<circle cx="245.30" cy="574.65" r="21.90" fill="none" stroke="#dadccc" stroke-width="1.0" opacity="0.8"/>
<rect x="271.70" y="551.00" width="46.80" height="46.90" fill="url(#pbg2)" />
<circle cx="295.10" cy="574.65" r="22.50" fill="#cfd2c6" />
<circle cx="295.10" cy="574.65" r="20.70" fill="url(#pblu)" />
<circle cx="313.16" cy="569.46" r="0.42" fill="#eef2f0" opacity="0.85"/>
<circle cx="290.25" cy="585.59" r="0.35" fill="#eef2f0" opacity="0.85"/>
<circle cx="309.38" cy="564.78" r="0.46" fill="#eef2f0" opacity="0.85"/>
<circle cx="303.50" cy="557.15" r="0.44" fill="#eef2f0" opacity="0.85"/>
<circle cx="288.04" cy="590.08" r="0.35" fill="#eef2f0" opacity="0.85"/>
<circle cx="289.15" cy="569.67" r="0.47" fill="#eef2f0" opacity="0.85"/>
<circle cx="284.90" cy="575.37" r="0.48" fill="#eef2f0" opacity="0.85"/>
<circle cx="311.41" cy="584.02" r="0.45" fill="#eef2f0" opacity="0.85"/>
<circle cx="305.18" cy="588.35" r="0.41" fill="#eef2f0" opacity="0.85"/>
<circle cx="307.57" cy="566.43" r="0.39" fill="#eef2f0" opacity="0.85"/>
<circle cx="300.36" cy="572.31" r="0.46" fill="#eef2f0" opacity="0.85"/>
<circle cx="303.29" cy="580.83" r="0.32" fill="#eef2f0" opacity="0.85"/>
<circle cx="304.05" cy="565.27" r="0.45" fill="#eef2f0" opacity="0.85"/>
<circle cx="294.41" cy="591.30" r="0.43" fill="#eef2f0" opacity="0.85"/>
<circle cx="306.31" cy="582.54" r="0.44" fill="#eef2f0" opacity="0.85"/>
<circle cx="298.59" cy="590.03" r="0.36" fill="#eef2f0" opacity="0.85"/>
<circle cx="282.25" cy="588.24" r="0.49" fill="#eef2f0" opacity="0.85"/>
<circle cx="307.84" cy="574.48" r="0.41" fill="#eef2f0" opacity="0.85"/>
<circle cx="301.20" cy="558.80" r="0.39" fill="#eef2f0" opacity="0.85"/>
<circle cx="303.19" cy="565.31" r="0.49" fill="#eef2f0" opacity="0.85"/>
<circle cx="288.48" cy="575.79" r="0.45" fill="#eef2f0" opacity="0.85"/>
<circle cx="304.96" cy="587.35" r="0.31" fill="#eef2f0" opacity="0.85"/>
<circle cx="309.40" cy="573.60" r="0.45" fill="#eef2f0" opacity="0.85"/>
<circle cx="305.67" cy="586.07" r="0.38" fill="#eef2f0" opacity="0.85"/>
<circle cx="295.20" cy="592.25" r="0.31" fill="#eef2f0" opacity="0.85"/>
<circle cx="289.41" cy="575.45" r="0.47" fill="#eef2f0" opacity="0.85"/>
<circle cx="297.93" cy="572.40" r="0.39" fill="#eef2f0" opacity="0.85"/>
<circle cx="278.88" cy="577.85" r="0.45" fill="#eef2f0" opacity="0.85"/>
<circle cx="284.69" cy="590.34" r="0.34" fill="#eef2f0" opacity="0.85"/>
<circle cx="306.60" cy="587.97" r="0.32" fill="#eef2f0" opacity="0.85"/>
<circle cx="300.50" cy="587.34" r="0.37" fill="#eef2f0" opacity="0.85"/>
<circle cx="304.79" cy="590.76" r="0.39" fill="#eef2f0" opacity="0.85"/>
<circle cx="297.28" cy="565.14" r="0.48" fill="#eef2f0" opacity="0.85"/>
<circle cx="298.45" cy="592.91" r="0.42" fill="#eef2f0" opacity="0.85"/>
<circle cx="311.94" cy="571.55" r="0.43" fill="#eef2f0" opacity="0.85"/>
<text x="245.30" y="544.10" font-size="8.3" text-anchor="middle" fill="#231f20" color="#231f20" >Vehicle</text>
<text x="295.00" y="544.10" font-size="8.3" text-anchor="middle" fill="#231f20" color="#231f20" >CPTH<tspan font-size="62%" dy="1.6">2</tspan><tspan dy="-1.6"> 6 μM</tspan></text>
<text x="245.30" y="606.00" font-size="8.3" text-anchor="middle" fill="#231f20" color="#231f20" >CAS</text>
<text x="245.30" y="616.00" font-size="8.3" text-anchor="middle" fill="#231f20" color="#231f20" >16 μg/mL</text>
<text x="295.00" y="606.00" font-size="8.3" text-anchor="middle" fill="#231f20" color="#231f20" >Combo</text>
<line x1="163.50" y1="632.65" x2="163.50" y2="715.60" stroke="#333" stroke-width="0.8" />
<line x1="163.50" y1="715.60" x2="269.80" y2="715.60" stroke="#333" stroke-width="0.8" />
<line x1="161.30" y1="715.60" x2="163.50" y2="715.60" stroke="#333" stroke-width="0.7" />
<text x="159.30" y="718.50" font-size="8.2" text-anchor="end" fill="#231f20" color="#231f20" >0</text>
<line x1="161.30" y1="700.57" x2="163.50" y2="700.57" stroke="#333" stroke-width="0.7" />
<text x="159.30" y="703.47" font-size="8.2" text-anchor="end" fill="#231f20" color="#231f20" >20</text>
<line x1="161.30" y1="685.54" x2="163.50" y2="685.54" stroke="#333" stroke-width="0.7" />
<text x="159.30" y="688.44" font-size="8.2" text-anchor="end" fill="#231f20" color="#231f20" >40</text>
<line x1="161.30" y1="670.51" x2="163.50" y2="670.51" stroke="#333" stroke-width="0.7" />
<text x="159.30" y="673.41" font-size="8.2" text-anchor="end" fill="#231f20" color="#231f20" >60</text>
<line x1="161.30" y1="655.48" x2="163.50" y2="655.48" stroke="#333" stroke-width="0.7" />
<text x="159.30" y="658.38" font-size="8.2" text-anchor="end" fill="#231f20" color="#231f20" >80</text>
<line x1="161.30" y1="640.45" x2="163.50" y2="640.45" stroke="#333" stroke-width="0.7" />
<text x="159.30" y="643.35" font-size="8.2" text-anchor="end" fill="#231f20" color="#231f20" >100</text>
<line x1="163.50" y1="715.60" x2="163.50" y2="717.80" stroke="#333" stroke-width="0.7" />
<text x="163.50" y="725.60" font-size="8.2" text-anchor="middle" fill="#231f20" color="#231f20" >0</text>
<line x1="176.75" y1="715.60" x2="176.75" y2="717.80" stroke="#333" stroke-width="0.7" />
<text x="176.75" y="725.60" font-size="8.2" text-anchor="middle" fill="#231f20" color="#231f20" >1</text>
<line x1="190.00" y1="715.60" x2="190.00" y2="717.80" stroke="#333" stroke-width="0.7" />
<text x="190.00" y="725.60" font-size="8.2" text-anchor="middle" fill="#231f20" color="#231f20" >2</text>
<line x1="203.25" y1="715.60" x2="203.25" y2="717.80" stroke="#333" stroke-width="0.7" />
<text x="203.25" y="725.60" font-size="8.2" text-anchor="middle" fill="#231f20" color="#231f20" >3</text>
<line x1="216.50" y1="715.60" x2="216.50" y2="717.80" stroke="#333" stroke-width="0.7" />
<text x="216.50" y="725.60" font-size="8.2" text-anchor="middle" fill="#231f20" color="#231f20" >4</text>
<line x1="229.75" y1="715.60" x2="229.75" y2="717.80" stroke="#333" stroke-width="0.7" />
<text x="229.75" y="725.60" font-size="8.2" text-anchor="middle" fill="#231f20" color="#231f20" >5</text>
<line x1="243.00" y1="715.60" x2="243.00" y2="717.80" stroke="#333" stroke-width="0.7" />
<text x="243.00" y="725.60" font-size="8.2" text-anchor="middle" fill="#231f20" color="#231f20" >6</text>
<line x1="256.25" y1="715.60" x2="256.25" y2="717.80" stroke="#333" stroke-width="0.7" />
<text x="256.25" y="725.60" font-size="8.2" text-anchor="middle" fill="#231f20" color="#231f20" >7</text>
<line x1="269.50" y1="715.60" x2="269.50" y2="717.80" stroke="#333" stroke-width="0.7" />
<text x="269.50" y="725.60" font-size="8.2" text-anchor="middle" fill="#231f20" color="#231f20" >8</text>
<text x="216.50" y="735.20" font-size="8.3" text-anchor="middle" fill="#231f20" color="#231f20" >Days post infection</text>
<text x="146.10" y="678.02" font-size="8.3" text-anchor="middle" fill="#231f20" color="#231f20" transform="rotate(-90 146.10 678.02)" >Percent of survival</text>
<path d="M163.50,640.45 H176.75 V659.24 H203.25 V674.27 H216.50 V678.02 H243.00 V689.30 H256.25 V696.81 H269.50" stroke="#111111" stroke-width="0.7" fill="none" />
<rect x="175.47" y="657.96" width="2.55" height="2.55" fill="#111111" />
<rect x="201.97" y="672.99" width="2.55" height="2.55" fill="#111111" />
<rect x="215.22" y="676.75" width="2.55" height="2.55" fill="#111111" />
<rect x="241.72" y="688.02" width="2.55" height="2.55" fill="#111111" />
<rect x="254.97" y="695.54" width="2.55" height="2.55" fill="#111111" />
<rect x="268.23" y="695.54" width="2.55" height="2.55" fill="#111111" />
<path d="M163.50,640.45 H176.75 V647.97 H190.00 V651.72 H203.25 V659.24 H243.00 V670.51 H269.50 V674.27 H269.50" stroke="#b070d0" stroke-width="0.7" fill="none" />
<path d="M175.40,647.97 L176.75,646.62 L178.10,647.97 L176.75,649.32 Z" fill="#b070d0"/>
<path d="M188.65,651.72 L190.00,650.37 L191.35,651.72 L190.00,653.07 Z" fill="#b070d0"/>
<path d="M201.90,659.24 L203.25,657.89 L204.60,659.24 L203.25,660.59 Z" fill="#b070d0"/>
<path d="M241.65,670.51 L243.00,669.16 L244.35,670.51 L243.00,671.86 Z" fill="#b070d0"/>
<path d="M268.15,674.27 L269.50,672.92 L270.85,674.27 L269.50,675.62 Z" fill="#b070d0"/>
<path d="M268.15,674.27 L269.50,672.92 L270.85,674.27 L269.50,675.62 Z" fill="#b070d0"/>
<path d="M163.50,640.45 H176.75 V644.21 H203.25 V651.72 H216.50 V655.48 H229.75 V659.24 H256.25 V666.75 H269.50 V678.02 H269.50" stroke="#2040ff" stroke-width="0.7" fill="none" />
<circle cx="176.75" cy="644.21" r="1.40" fill="#2040ff" />
<circle cx="203.25" cy="651.72" r="1.40" fill="#2040ff" />
<circle cx="216.50" cy="655.48" r="1.40" fill="#2040ff" />
<circle cx="229.75" cy="659.24" r="1.40" fill="#2040ff" />
<circle cx="256.25" cy="666.75" r="1.40" fill="#2040ff" />
<circle cx="269.50" cy="678.02" r="1.40" fill="#2040ff" />
<circle cx="269.50" cy="678.02" r="1.40" fill="#2040ff" />
<path d="M163.50,640.45 H176.75 V651.72 H190.00 V655.48 H203.25 V663.00 H229.75 V666.75 H243.00 V670.51 H269.50 V674.27 H269.50" stroke="#9a6a30" stroke-width="0.7" fill="none" />
<path d="M175.22,650.64 L178.28,650.64 L176.75,653.25 Z" fill="#9a6a30"/>
<path d="M188.47,654.40 L191.53,654.40 L190.00,657.01 Z" fill="#9a6a30"/>
<path d="M201.72,661.91 L204.78,661.91 L203.25,664.52 Z" fill="#9a6a30"/>
<path d="M228.22,665.67 L231.28,665.67 L229.75,668.28 Z" fill="#9a6a30"/>
<path d="M241.47,669.43 L244.53,669.43 L243.00,672.04 Z" fill="#9a6a30"/>
<path d="M267.97,673.19 L271.03,673.19 L269.50,675.80 Z" fill="#9a6a30"/>
<path d="M267.97,673.19 L271.03,673.19 L269.50,675.80 Z" fill="#9a6a30"/>
<path d="M163.50,640.45 H229.75 V651.72 H243.00 V655.48 H256.25 V659.24 H269.50" stroke="#ff3838" stroke-width="0.7" fill="none" />
<path d="M228.22,652.80 L231.28,652.80 L229.75,650.19 Z" fill="#ff3838"/>
<path d="M241.47,656.56 L244.53,656.56 L243.00,653.95 Z" fill="#ff3838"/>
<path d="M254.72,660.32 L257.78,660.32 L256.25,657.71 Z" fill="#ff3838"/>
<path d="M267.97,660.32 L271.03,660.32 L269.50,657.71 Z" fill="#ff3838"/>
<path d="M163.50,640.45 H269.50" stroke="#7a7a7a" stroke-width="0.7" fill="none" />
<circle cx="269.50" cy="640.45" r="1.24" fill="#7a7a7a" />
<line x1="280.60" y1="635.80" x2="287.60" y2="635.80" stroke="#7a7a7a" stroke-width="0.7" />
<line x1="282.82" y1="635.80" x2="285.38" y2="635.80" stroke="#7a7a7a" stroke-width="0.7" />
<line x1="284.10" y1="634.52" x2="284.10" y2="637.08" stroke="#7a7a7a" stroke-width="0.7" />
<text x="290.80" y="638.70" font-size="8.4" text-anchor="start" fill="#231f20" color="#231f20" >PBS</text>
<line x1="280.60" y1="646.90" x2="287.60" y2="646.90" stroke="#111111" stroke-width="0.7" />
<circle cx="284.10" cy="646.90" r="1.32" fill="#111111" />
<text x="290.80" y="649.80" font-size="8.4" text-anchor="start" fill="#231f20" color="#231f20" >Vehicle</text>
<line x1="280.60" y1="658.00" x2="287.60" y2="658.00" stroke="#b070d0" stroke-width="0.7" />
<path d="M282.75,658.00 L284.10,656.65 L285.45,658.00 L284.10,659.35 Z" fill="#b070d0"/>
<text x="290.80" y="660.90" font-size="8.4" text-anchor="start" fill="#231f20" color="#231f20" >8 ng/mL</text>
<line x1="280.60" y1="669.10" x2="287.60" y2="669.10" stroke="#2040ff" stroke-width="0.7" />
<line x1="282.66" y1="669.10" x2="285.54" y2="669.10" stroke="#2040ff" stroke-width="0.7" />
<line x1="284.10" y1="667.66" x2="284.10" y2="670.54" stroke="#2040ff" stroke-width="0.7" />
<text x="290.80" y="672.00" font-size="8.4" text-anchor="start" fill="#231f20" color="#231f20" >16 ng/mL</text>
<line x1="280.60" y1="680.20" x2="287.60" y2="680.20" stroke="#9a6a30" stroke-width="0.7" />
<line x1="282.66" y1="680.20" x2="285.54" y2="680.20" stroke="#9a6a30" stroke-width="0.7" />
<line x1="284.10" y1="678.76" x2="284.10" y2="681.64" stroke="#9a6a30" stroke-width="0.7" />
<text x="290.80" y="683.10" font-size="8.4" text-anchor="start" fill="#231f20" color="#231f20" >32 ng/mL</text>
<line x1="280.60" y1="691.30" x2="287.60" y2="691.30" stroke="#ff3838" stroke-width="0.7" />
<line x1="282.66" y1="691.30" x2="285.54" y2="691.30" stroke="#ff3838" stroke-width="0.7" />
<line x1="284.10" y1="689.86" x2="284.10" y2="692.74" stroke="#ff3838" stroke-width="0.7" />
<text x="290.80" y="694.20" font-size="8.4" text-anchor="start" fill="#231f20" color="#231f20" >62.5 ng/mL</text>
<path d="M325.40,646.20 H327.40 V668.40 H325.40" stroke="#6a6a6a" stroke-width="0.6" fill="none" />
<text x="329.00" y="657.30" font-size="7.0" text-anchor="middle" fill="#333" color="#333" transform="rotate(90 329.00 657.30)" >0.032</text>
<path d="M337.00,646.20 H339.00 V691.40 H337.00" stroke="#6a6a6a" stroke-width="0.6" fill="none" />
<text x="341.70" y="668.80" font-size="7.0" text-anchor="middle" fill="#333" color="#333" transform="rotate(90 341.70 668.80)" >0.0007</text>
<line x1="163.50" y1="751.45" x2="163.50" y2="834.40" stroke="#333" stroke-width="0.8" />
<line x1="163.50" y1="834.40" x2="269.80" y2="834.40" stroke="#333" stroke-width="0.8" />
<line x1="161.30" y1="834.40" x2="163.50" y2="834.40" stroke="#333" stroke-width="0.7" />
<text x="159.30" y="837.30" font-size="8.2" text-anchor="end" fill="#231f20" color="#231f20" >0</text>
<line x1="161.30" y1="819.37" x2="163.50" y2="819.37" stroke="#333" stroke-width="0.7" />
<text x="159.30" y="822.27" font-size="8.2" text-anchor="end" fill="#231f20" color="#231f20" >20</text>
<line x1="161.30" y1="804.34" x2="163.50" y2="804.34" stroke="#333" stroke-width="0.7" />
<text x="159.30" y="807.24" font-size="8.2" text-anchor="end" fill="#231f20" color="#231f20" >40</text>
<line x1="161.30" y1="789.31" x2="163.50" y2="789.31" stroke="#333" stroke-width="0.7" />
<text x="159.30" y="792.21" font-size="8.2" text-anchor="end" fill="#231f20" color="#231f20" >60</text>
<line x1="161.30" y1="774.28" x2="163.50" y2="774.28" stroke="#333" stroke-width="0.7" />
<text x="159.30" y="777.18" font-size="8.2" text-anchor="end" fill="#231f20" color="#231f20" >80</text>
<line x1="161.30" y1="759.25" x2="163.50" y2="759.25" stroke="#333" stroke-width="0.7" />
<text x="159.30" y="762.15" font-size="8.2" text-anchor="end" fill="#231f20" color="#231f20" >100</text>
<line x1="163.50" y1="834.40" x2="163.50" y2="836.60" stroke="#333" stroke-width="0.7" />
<text x="163.50" y="844.40" font-size="8.2" text-anchor="middle" fill="#231f20" color="#231f20" >0</text>
<line x1="176.75" y1="834.40" x2="176.75" y2="836.60" stroke="#333" stroke-width="0.7" />
<text x="176.75" y="844.40" font-size="8.2" text-anchor="middle" fill="#231f20" color="#231f20" >1</text>
<line x1="190.00" y1="834.40" x2="190.00" y2="836.60" stroke="#333" stroke-width="0.7" />
<text x="190.00" y="844.40" font-size="8.2" text-anchor="middle" fill="#231f20" color="#231f20" >2</text>
<line x1="203.25" y1="834.40" x2="203.25" y2="836.60" stroke="#333" stroke-width="0.7" />
<text x="203.25" y="844.40" font-size="8.2" text-anchor="middle" fill="#231f20" color="#231f20" >3</text>
<line x1="216.50" y1="834.40" x2="216.50" y2="836.60" stroke="#333" stroke-width="0.7" />
<text x="216.50" y="844.40" font-size="8.2" text-anchor="middle" fill="#231f20" color="#231f20" >4</text>
<line x1="229.75" y1="834.40" x2="229.75" y2="836.60" stroke="#333" stroke-width="0.7" />
<text x="229.75" y="844.40" font-size="8.2" text-anchor="middle" fill="#231f20" color="#231f20" >5</text>
<line x1="243.00" y1="834.40" x2="243.00" y2="836.60" stroke="#333" stroke-width="0.7" />
<text x="243.00" y="844.40" font-size="8.2" text-anchor="middle" fill="#231f20" color="#231f20" >6</text>
<line x1="256.25" y1="834.40" x2="256.25" y2="836.60" stroke="#333" stroke-width="0.7" />
<text x="256.25" y="844.40" font-size="8.2" text-anchor="middle" fill="#231f20" color="#231f20" >7</text>
<line x1="269.50" y1="834.40" x2="269.50" y2="836.60" stroke="#333" stroke-width="0.7" />
<text x="269.50" y="844.40" font-size="8.2" text-anchor="middle" fill="#231f20" color="#231f20" >8</text>
<text x="216.50" y="854.00" font-size="8.3" text-anchor="middle" fill="#231f20" color="#231f20" >Days post infection</text>
<text x="146.10" y="796.82" font-size="8.3" text-anchor="middle" fill="#231f20" color="#231f20" transform="rotate(-90 146.10 796.82)" >Percent of survival</text>
<path d="M163.50,759.25 H176.75 V770.52 H190.00 V789.31 H203.25 V796.82 H216.50 V811.86 H229.75 V819.37 H243.00 V826.88 H256.25 V830.64 H269.50" stroke="#111111" stroke-width="0.7" fill="none" />
<rect x="175.47" y="769.25" width="2.55" height="2.55" fill="#111111" />
<rect x="188.72" y="788.03" width="2.55" height="2.55" fill="#111111" />
<rect x="201.97" y="795.55" width="2.55" height="2.55" fill="#111111" />
<rect x="215.22" y="810.58" width="2.55" height="2.55" fill="#111111" />
<rect x="228.47" y="818.10" width="2.55" height="2.55" fill="#111111" />
<rect x="241.72" y="825.61" width="2.55" height="2.55" fill="#111111" />
<rect x="254.97" y="829.37" width="2.55" height="2.55" fill="#111111" />
<rect x="268.23" y="829.37" width="2.55" height="2.55" fill="#111111" />
<path d="M163.50,759.25 H176.75 V763.01 H190.00 V774.28 H203.25 V781.79 H216.50 V789.31 H229.75 V796.82 H256.25 V800.58 H269.50" stroke="#b070d0" stroke-width="0.7" fill="none" />
<path d="M175.22,761.93 L178.28,761.93 L176.75,764.54 Z" fill="#b070d0"/>
<path d="M188.47,773.20 L191.53,773.20 L190.00,775.81 Z" fill="#b070d0"/>
<path d="M201.72,780.71 L204.78,780.71 L203.25,783.32 Z" fill="#b070d0"/>
<path d="M214.97,788.23 L218.03,788.23 L216.50,790.84 Z" fill="#b070d0"/>
<path d="M228.22,795.74 L231.28,795.74 L229.75,798.35 Z" fill="#b070d0"/>
<path d="M254.72,799.50 L257.78,799.50 L256.25,802.11 Z" fill="#b070d0"/>
<path d="M267.97,799.50 L271.03,799.50 L269.50,802.11 Z" fill="#b070d0"/>
<path d="M163.50,759.25 H176.75 V763.01 H190.00 V774.28 H203.25 V781.79 H216.50 V793.07 H229.75 V800.58 H256.25 V808.10 H269.50" stroke="#2040ff" stroke-width="0.7" fill="none" />
<path d="M175.22,764.09 L178.28,764.09 L176.75,761.48 Z" fill="#2040ff"/>
<path d="M188.47,775.36 L191.53,775.36 L190.00,772.75 Z" fill="#2040ff"/>
<path d="M201.72,782.88 L204.78,782.88 L203.25,780.26 Z" fill="#2040ff"/>
<path d="M214.97,794.15 L218.03,794.15 L216.50,791.54 Z" fill="#2040ff"/>
<path d="M228.22,801.66 L231.28,801.66 L229.75,799.05 Z" fill="#2040ff"/>
<path d="M254.72,809.18 L257.78,809.18 L256.25,806.57 Z" fill="#2040ff"/>
<path d="M267.97,809.18 L271.03,809.18 L269.50,806.57 Z" fill="#2040ff"/>
<path d="M163.50,759.25 H190.00 V766.76 H229.75 V770.52 H243.00 V778.04 H269.50" stroke="#ff3838" stroke-width="0.7" fill="none" />
<path d="M188.65,766.76 L190.00,765.41 L191.35,766.76 L190.00,768.12 Z" fill="#ff3838"/>
<path d="M228.40,770.52 L229.75,769.17 L231.10,770.52 L229.75,771.87 Z" fill="#ff3838"/>
<path d="M241.65,778.04 L243.00,776.69 L244.35,778.04 L243.00,779.39 Z" fill="#ff3838"/>
<path d="M268.15,778.04 L269.50,776.69 L270.85,778.04 L269.50,779.39 Z" fill="#ff3838"/>
<path d="M163.50,759.25 H269.50" stroke="#7a7a7a" stroke-width="0.7" fill="none" />
<circle cx="269.50" cy="759.25" r="1.24" fill="#7a7a7a" />
<line x1="275.30" y1="756.20" x2="282.30" y2="756.20" stroke="#7a7a7a" stroke-width="0.7" />
<line x1="277.52" y1="756.20" x2="280.08" y2="756.20" stroke="#7a7a7a" stroke-width="0.7" />
<line x1="278.80" y1="754.92" x2="278.80" y2="757.48" stroke="#7a7a7a" stroke-width="0.7" />
<text x="285.50" y="759.10" font-size="8.4" text-anchor="start" fill="#231f20" color="#231f20" >PBS</text>
<line x1="275.30" y1="768.35" x2="282.30" y2="768.35" stroke="#111111" stroke-width="0.7" />
<circle cx="278.80" cy="768.35" r="1.32" fill="#111111" />
<text x="285.50" y="771.25" font-size="8.4" text-anchor="start" fill="#231f20" color="#231f20" >Vehicle</text>
<line x1="275.30" y1="780.50" x2="282.30" y2="780.50" stroke="#b070d0" stroke-width="0.7" />
<line x1="277.36" y1="780.50" x2="280.24" y2="780.50" stroke="#b070d0" stroke-width="0.7" />
<line x1="278.80" y1="779.06" x2="278.80" y2="781.94" stroke="#b070d0" stroke-width="0.7" />
<text x="285.50" y="783.40" font-size="8.4" text-anchor="start" fill="#231f20" color="#231f20" >CAS 0.5 μg/mL</text>
<line x1="275.30" y1="792.65" x2="282.30" y2="792.65" stroke="#2040ff" stroke-width="0.7" />
<line x1="277.36" y1="792.65" x2="280.24" y2="792.65" stroke="#2040ff" stroke-width="0.7" />
<line x1="278.80" y1="791.21" x2="278.80" y2="794.09" stroke="#2040ff" stroke-width="0.7" />
<text x="285.50" y="795.55" font-size="8.4" text-anchor="start" fill="#231f20" color="#231f20" >CPTH<tspan font-size="62%" dy="0.9">2</tspan><tspan dy="-0.9"></tspan> 16 ng/mL</text>
<line x1="275.30" y1="804.80" x2="282.30" y2="804.80" stroke="#ff3838" stroke-width="0.7" />
<line x1="277.36" y1="804.80" x2="280.24" y2="804.80" stroke="#ff3838" stroke-width="0.7" />
<line x1="278.80" y1="803.36" x2="278.80" y2="806.24" stroke="#ff3838" stroke-width="0.7" />
<text x="285.50" y="807.70" font-size="8.4" text-anchor="start" fill="#231f20" color="#231f20" >Combo</text>
<path d="M348.30,769.40 H350.30 V781.30 H348.30" stroke="#6a6a6a" stroke-width="0.6" fill="none" />
<text x="352.00" y="775.35" font-size="7.0" text-anchor="middle" fill="#333" color="#333" transform="rotate(90 352.00 775.35)" >0.032</text>
<path d="M348.30,793.50 H350.30 V805.80 H348.30" stroke="#6a6a6a" stroke-width="0.6" fill="none" />
<text x="352.00" y="799.65" font-size="7.0" text-anchor="middle" fill="#333" color="#333" transform="rotate(90 352.00 799.65)" >0.009</text>
<path d="M356.40,782.10 H358.40 V805.80 H356.40" stroke="#6a6a6a" stroke-width="0.6" fill="none" />
<text x="359.90" y="793.95" font-size="7.0" text-anchor="middle" fill="#333" color="#333" transform="rotate(90 359.90 793.95)" >0.042</text>
<path d="M364.70,769.40 H366.70 V794.00 H364.70" stroke="#6a6a6a" stroke-width="0.6" fill="none" />
<text x="369.00" y="781.70" font-size="7.0" text-anchor="middle" fill="#333" color="#333" transform="rotate(90 369.00 781.70)" >0.015</text>
<path d="M373.90,769.40 H375.90 V806.20 H373.90" stroke="#6a6a6a" stroke-width="0.6" fill="none" />
<text x="378.20" y="787.80" font-size="7.0" text-anchor="middle" fill="#333" color="#333" transform="rotate(90 378.20 787.80)" >&lt;0.0001</text>
<circle cx="163.50" cy="759.50" r="1.70" fill="#555" />
<line x1="418.60" y1="641.30" x2="418.60" y2="713.10" stroke="#333" stroke-width="0.75" />
<line x1="418.60" y1="713.10" x2="503.40" y2="713.10" stroke="#333" stroke-width="0.75" />
<line x1="416.40" y1="713.10" x2="418.60" y2="713.10" stroke="#333" stroke-width="0.7" />
<text x="415.00" y="716.40" font-size="9.0" text-anchor="end" fill="#231f20" color="#231f20" >3</text>
<line x1="416.40" y1="689.27" x2="418.60" y2="689.27" stroke="#333" stroke-width="0.7" />
<text x="415.00" y="692.57" font-size="9.0" text-anchor="end" fill="#231f20" color="#231f20" >4</text>
<line x1="416.40" y1="665.43" x2="418.60" y2="665.43" stroke="#333" stroke-width="0.7" />
<text x="415.00" y="668.73" font-size="9.0" text-anchor="end" fill="#231f20" color="#231f20" >5</text>
<line x1="416.40" y1="641.60" x2="418.60" y2="641.60" stroke="#333" stroke-width="0.7" />
<text x="415.00" y="644.90" font-size="9.0" text-anchor="end" fill="#231f20" color="#231f20" >6</text>
<line x1="431.90" y1="713.10" x2="431.90" y2="715.30" stroke="#333" stroke-width="0.7" />
<line x1="450.90" y1="713.10" x2="450.90" y2="715.30" stroke="#333" stroke-width="0.7" />
<line x1="470.70" y1="713.10" x2="470.70" y2="715.30" stroke="#333" stroke-width="0.7" />
<line x1="490.10" y1="713.10" x2="490.10" y2="715.30" stroke="#333" stroke-width="0.7" />
<text x="402.80" y="677.85" font-size="8.1" text-anchor="middle" fill="#231f20" color="#231f20" transform="rotate(-90 402.80 677.85)" >Log<tspan font-size="62%" dy="0.6">10</tspan><tspan dy="-0.6"> (CFU/g Kidney)</tspan></text>
<circle cx="428.1" cy="657.1" r="1.75" fill="none" stroke="#f47a20" stroke-width="0.7"/>
<circle cx="435.7" cy="658.3" r="1.75" fill="none" stroke="#f47a20" stroke-width="0.7"/>
<circle cx="431.9" cy="659.5" r="1.75" fill="none" stroke="#f47a20" stroke-width="0.7"/>
<circle cx="428.1" cy="660.7" r="1.75" fill="none" stroke="#f47a20" stroke-width="0.7"/>
<circle cx="435.7" cy="660.7" r="1.75" fill="none" stroke="#f47a20" stroke-width="0.7"/>
<circle cx="431.9" cy="661.9" r="1.75" fill="none" stroke="#f47a20" stroke-width="0.7"/>
<circle cx="429.9" cy="663.1" r="1.75" fill="none" stroke="#f47a20" stroke-width="0.7"/>
<circle cx="433.9" cy="664.2" r="1.75" fill="none" stroke="#f47a20" stroke-width="0.7"/>
<line x1="427.40" y1="660.67" x2="436.40" y2="660.67" stroke="#f47a20" stroke-width="0.75" />
<line x1="431.90" y1="658.28" x2="431.90" y2="663.05" stroke="#f47a20" stroke-width="0.75" />
<line x1="429.50" y1="658.28" x2="434.30" y2="658.28" stroke="#f47a20" stroke-width="0.75" />
<line x1="429.50" y1="663.05" x2="434.30" y2="663.05" stroke="#f47a20" stroke-width="0.75" />
<circle cx="447.1" cy="658.3" r="1.75" fill="none" stroke="#2cb673" stroke-width="0.7"/>
<circle cx="454.7" cy="659.5" r="1.75" fill="none" stroke="#2cb673" stroke-width="0.7"/>
<circle cx="450.9" cy="660.7" r="1.75" fill="none" stroke="#2cb673" stroke-width="0.7"/>
<circle cx="447.1" cy="661.9" r="1.75" fill="none" stroke="#2cb673" stroke-width="0.7"/>
<circle cx="454.7" cy="663.1" r="1.75" fill="none" stroke="#2cb673" stroke-width="0.7"/>
<circle cx="450.9" cy="664.2" r="1.75" fill="none" stroke="#2cb673" stroke-width="0.7"/>
<circle cx="448.9" cy="666.6" r="1.75" fill="none" stroke="#2cb673" stroke-width="0.7"/>
<line x1="446.40" y1="662.03" x2="455.40" y2="662.03" stroke="#2cb673" stroke-width="0.75" />
<line x1="450.90" y1="659.16" x2="450.90" y2="664.90" stroke="#2cb673" stroke-width="0.75" />
<line x1="448.50" y1="659.16" x2="453.30" y2="659.16" stroke="#2cb673" stroke-width="0.75" />
<line x1="448.50" y1="664.90" x2="453.30" y2="664.90" stroke="#2cb673" stroke-width="0.75" />
<circle cx="466.9" cy="667.8" r="1.75" fill="none" stroke="#d6338a" stroke-width="0.7"/>
<circle cx="474.5" cy="670.2" r="1.75" fill="none" stroke="#d6338a" stroke-width="0.7"/>
<circle cx="470.7" cy="672.6" r="1.75" fill="none" stroke="#d6338a" stroke-width="0.7"/>
<circle cx="466.9" cy="673.8" r="1.75" fill="none" stroke="#d6338a" stroke-width="0.7"/>
<circle cx="474.5" cy="675.0" r="1.75" fill="none" stroke="#d6338a" stroke-width="0.7"/>
<circle cx="470.7" cy="676.2" r="1.75" fill="none" stroke="#d6338a" stroke-width="0.7"/>
<circle cx="468.7" cy="677.4" r="1.75" fill="none" stroke="#d6338a" stroke-width="0.7"/>
<circle cx="472.7" cy="679.7" r="1.75" fill="none" stroke="#d6338a" stroke-width="0.7"/>
<line x1="466.20" y1="674.07" x2="475.20" y2="674.07" stroke="#d6338a" stroke-width="0.75" />
<line x1="470.70" y1="670.21" x2="470.70" y2="677.93" stroke="#d6338a" stroke-width="0.75" />
<line x1="468.30" y1="670.21" x2="473.10" y2="670.21" stroke="#d6338a" stroke-width="0.75" />
<line x1="468.30" y1="677.93" x2="473.10" y2="677.93" stroke="#d6338a" stroke-width="0.75" />
<circle cx="486.3" cy="675.0" r="1.75" fill="none" stroke="#5aa0ea" stroke-width="0.7"/>
<circle cx="493.9" cy="676.2" r="1.75" fill="none" stroke="#5aa0ea" stroke-width="0.7"/>
<circle cx="490.1" cy="676.9" r="1.75" fill="none" stroke="#5aa0ea" stroke-width="0.7"/>
<circle cx="486.3" cy="677.4" r="1.75" fill="none" stroke="#5aa0ea" stroke-width="0.7"/>
<circle cx="493.9" cy="677.8" r="1.75" fill="none" stroke="#5aa0ea" stroke-width="0.7"/>
<circle cx="490.1" cy="678.5" r="1.75" fill="none" stroke="#5aa0ea" stroke-width="0.7"/>
<circle cx="488.1" cy="679.3" r="1.75" fill="none" stroke="#5aa0ea" stroke-width="0.7"/>
<line x1="485.60" y1="677.28" x2="494.60" y2="677.28" stroke="#5aa0ea" stroke-width="0.75" />
<line x1="490.10" y1="675.83" x2="490.10" y2="678.73" stroke="#5aa0ea" stroke-width="0.75" />
<line x1="487.70" y1="675.83" x2="492.50" y2="675.83" stroke="#5aa0ea" stroke-width="0.75" />
<line x1="487.70" y1="678.73" x2="492.50" y2="678.73" stroke="#5aa0ea" stroke-width="0.75" />
<path d="M430.90,641.60 V634.40 H490.50 V641.60" stroke="#8a8a8a" stroke-width="0.7" fill="none" />
<text x="460.70" y="632.40" font-size="7.1" text-anchor="middle" fill="#333" color="#333" >&lt;0.0001</text>
<path d="M430.90,653.80 V650.20 H467.30 V664.00" stroke="#8a8a8a" stroke-width="0.7" fill="none" />
<text x="449.10" y="648.20" font-size="7.1" text-anchor="middle" fill="#333" color="#333" >&lt;0.0001</text>
<path d="M471.70,664.00 V650.20 H490.50 V674.30" stroke="#8a8a8a" stroke-width="0.7" fill="none" />
<text x="481.10" y="648.20" font-size="7.1" text-anchor="middle" fill="#333" color="#333" >0.030</text>
<line x1="527.00" y1="642.50" x2="527.00" y2="712.80" stroke="#333" stroke-width="0.75" />
<line x1="527.00" y1="712.80" x2="609.40" y2="712.80" stroke="#333" stroke-width="0.75" />
<line x1="524.80" y1="712.80" x2="527.00" y2="712.80" stroke="#333" stroke-width="0.7" />
<text x="523.40" y="716.10" font-size="9.0" text-anchor="end" fill="#231f20" color="#231f20" >3</text>
<line x1="524.80" y1="689.47" x2="527.00" y2="689.47" stroke="#333" stroke-width="0.7" />
<text x="523.40" y="692.77" font-size="9.0" text-anchor="end" fill="#231f20" color="#231f20" >4</text>
<line x1="524.80" y1="666.13" x2="527.00" y2="666.13" stroke="#333" stroke-width="0.7" />
<text x="523.40" y="669.43" font-size="9.0" text-anchor="end" fill="#231f20" color="#231f20" >5</text>
<line x1="524.80" y1="642.80" x2="527.00" y2="642.80" stroke="#333" stroke-width="0.7" />
<text x="523.40" y="646.10" font-size="9.0" text-anchor="end" fill="#231f20" color="#231f20" >6</text>
<line x1="539.70" y1="712.80" x2="539.70" y2="715.00" stroke="#333" stroke-width="0.7" />
<line x1="558.90" y1="712.80" x2="558.90" y2="715.00" stroke="#333" stroke-width="0.7" />
<line x1="577.50" y1="712.80" x2="577.50" y2="715.00" stroke="#333" stroke-width="0.7" />
<line x1="596.40" y1="712.80" x2="596.40" y2="715.00" stroke="#333" stroke-width="0.7" />
<text x="511.20" y="678.30" font-size="8.1" text-anchor="middle" fill="#231f20" color="#231f20" transform="rotate(-90 511.20 678.30)" >Log<tspan font-size="62%" dy="0.6">10</tspan><tspan dy="-0.6"> (CFU/g Liver</tspan></text>
<circle cx="535.9" cy="647.5" r="1.75" fill="none" stroke="#f47a20" stroke-width="0.7"/>
<circle cx="543.5" cy="659.1" r="1.75" fill="none" stroke="#f47a20" stroke-width="0.7"/>
<circle cx="539.7" cy="660.3" r="1.75" fill="none" stroke="#f47a20" stroke-width="0.7"/>
<circle cx="535.9" cy="661.5" r="1.75" fill="none" stroke="#f47a20" stroke-width="0.7"/>
<circle cx="543.5" cy="662.6" r="1.75" fill="none" stroke="#f47a20" stroke-width="0.7"/>
<circle cx="539.7" cy="665.0" r="1.75" fill="none" stroke="#f47a20" stroke-width="0.7"/>
<circle cx="537.7" cy="667.3" r="1.75" fill="none" stroke="#f47a20" stroke-width="0.7"/>
<circle cx="541.7" cy="676.6" r="1.75" fill="none" stroke="#f47a20" stroke-width="0.7"/>
<line x1="535.20" y1="662.49" x2="544.20" y2="662.49" stroke="#f47a20" stroke-width="0.75" />
<line x1="539.70" y1="654.27" x2="539.70" y2="670.70" stroke="#f47a20" stroke-width="0.75" />
<line x1="537.30" y1="654.27" x2="542.10" y2="654.27" stroke="#f47a20" stroke-width="0.75" />
<line x1="537.30" y1="670.70" x2="542.10" y2="670.70" stroke="#f47a20" stroke-width="0.75" />
<circle cx="555.1" cy="659.1" r="1.75" fill="none" stroke="#2cb673" stroke-width="0.7"/>
<circle cx="562.7" cy="660.3" r="1.75" fill="none" stroke="#2cb673" stroke-width="0.7"/>
<circle cx="558.9" cy="661.5" r="1.75" fill="none" stroke="#2cb673" stroke-width="0.7"/>
<circle cx="555.1" cy="662.6" r="1.75" fill="none" stroke="#2cb673" stroke-width="0.7"/>
<circle cx="562.7" cy="663.8" r="1.75" fill="none" stroke="#2cb673" stroke-width="0.7"/>
<circle cx="558.9" cy="666.1" r="1.75" fill="none" stroke="#2cb673" stroke-width="0.7"/>
<circle cx="556.9" cy="667.3" r="1.75" fill="none" stroke="#2cb673" stroke-width="0.7"/>
<line x1="554.40" y1="662.97" x2="563.40" y2="662.97" stroke="#2cb673" stroke-width="0.75" />
<line x1="558.90" y1="659.98" x2="558.90" y2="665.96" stroke="#2cb673" stroke-width="0.75" />
<line x1="556.50" y1="659.98" x2="561.30" y2="659.98" stroke="#2cb673" stroke-width="0.75" />
<line x1="556.50" y1="665.96" x2="561.30" y2="665.96" stroke="#2cb673" stroke-width="0.75" />
<circle cx="573.7" cy="658.0" r="1.75" fill="none" stroke="#d6338a" stroke-width="0.7"/>
<circle cx="581.3" cy="668.5" r="1.75" fill="none" stroke="#d6338a" stroke-width="0.7"/>
<circle cx="577.5" cy="670.8" r="1.75" fill="none" stroke="#d6338a" stroke-width="0.7"/>
<circle cx="573.7" cy="673.1" r="1.75" fill="none" stroke="#d6338a" stroke-width="0.7"/>
<circle cx="581.3" cy="675.5" r="1.75" fill="none" stroke="#d6338a" stroke-width="0.7"/>
<circle cx="577.5" cy="677.8" r="1.75" fill="none" stroke="#d6338a" stroke-width="0.7"/>
<circle cx="575.5" cy="681.3" r="1.75" fill="none" stroke="#d6338a" stroke-width="0.7"/>
<circle cx="579.5" cy="682.5" r="1.75" fill="none" stroke="#d6338a" stroke-width="0.7"/>
<line x1="573.00" y1="673.42" x2="582.00" y2="673.42" stroke="#d6338a" stroke-width="0.75" />
<line x1="577.50" y1="665.52" x2="577.50" y2="681.33" stroke="#d6338a" stroke-width="0.75" />
<line x1="575.10" y1="665.52" x2="579.90" y2="665.52" stroke="#d6338a" stroke-width="0.75" />
<line x1="575.10" y1="681.33" x2="579.90" y2="681.33" stroke="#d6338a" stroke-width="0.75" />
<circle cx="592.6" cy="672.0" r="1.75" fill="none" stroke="#5aa0ea" stroke-width="0.7"/>
<circle cx="600.2" cy="677.8" r="1.75" fill="none" stroke="#5aa0ea" stroke-width="0.7"/>
<circle cx="596.4" cy="680.1" r="1.75" fill="none" stroke="#5aa0ea" stroke-width="0.7"/>
<circle cx="592.6" cy="682.5" r="1.75" fill="none" stroke="#5aa0ea" stroke-width="0.7"/>
<circle cx="600.2" cy="687.1" r="1.75" fill="none" stroke="#5aa0ea" stroke-width="0.7"/>
<circle cx="596.4" cy="689.5" r="1.75" fill="none" stroke="#5aa0ea" stroke-width="0.7"/>
<circle cx="594.4" cy="690.6" r="1.75" fill="none" stroke="#5aa0ea" stroke-width="0.7"/>
<line x1="591.90" y1="682.80" x2="600.90" y2="682.80" stroke="#5aa0ea" stroke-width="0.75" />
<line x1="596.40" y1="676.04" x2="596.40" y2="689.56" stroke="#5aa0ea" stroke-width="0.75" />
<line x1="594.00" y1="676.04" x2="598.80" y2="676.04" stroke="#5aa0ea" stroke-width="0.75" />
<line x1="594.00" y1="689.56" x2="598.80" y2="689.56" stroke="#5aa0ea" stroke-width="0.75" />
<path d="M539.70,636.00 V631.70 H596.40 V636.00" stroke="#8a8a8a" stroke-width="0.7" fill="none" />
<text x="568.05" y="629.70" font-size="7.1" text-anchor="middle" fill="#333" color="#333" >&lt;0.0001</text>
<path d="M539.70,645.00 V642.00 H577.00 V657.00" stroke="#8a8a8a" stroke-width="0.7" fill="none" />
<text x="558.35" y="640.00" font-size="7.1" text-anchor="middle" fill="#333" color="#333" >0.021</text>
<path d="M580.50,657.00 V642.00 H596.40 V668.00" stroke="#8a8a8a" stroke-width="0.7" fill="none" />
<text x="588.45" y="640.00" font-size="7.1" text-anchor="middle" fill="#333" color="#333" >0.025</text>
<circle cx="613.4" cy="642.8" r="1.75" fill="none" stroke="#f47a20" stroke-width="0.75"/>
<text x="617.00" y="645.80" font-size="8.4" text-anchor="start" fill="#231f20" color="#231f20" >Vehicle</text>
<circle cx="613.4" cy="654.7" r="1.75" fill="none" stroke="#2cb673" stroke-width="0.75"/>
<text x="617.00" y="657.70" font-size="8.4" text-anchor="start" fill="#231f20" color="#231f20" >CPTH<tspan font-size="62%" dy="0.9">2</tspan><tspan dy="-0.9"></tspan> 10 mg/kg</text>
<circle cx="613.4" cy="666.6" r="1.75" fill="none" stroke="#d6338a" stroke-width="0.75"/>
<text x="617.00" y="669.60" font-size="8.4" text-anchor="start" fill="#231f20" color="#231f20" >CAS 10 mg/kg</text>
<circle cx="613.4" cy="678.5" r="1.75" fill="none" stroke="#5aa0ea" stroke-width="0.75"/>
<text x="617.00" y="681.50" font-size="8.4" text-anchor="start" fill="#231f20" color="#231f20" >Combo</text>
<line x1="418.60" y1="750.00" x2="418.60" y2="821.20" stroke="#333" stroke-width="0.75" />
<line x1="418.60" y1="821.20" x2="503.40" y2="821.20" stroke="#333" stroke-width="0.75" />
<line x1="416.40" y1="821.20" x2="418.60" y2="821.20" stroke="#333" stroke-width="0.7" />
<text x="415.00" y="824.50" font-size="9.0" text-anchor="end" fill="#231f20" color="#231f20" >3</text>
<line x1="416.40" y1="797.57" x2="418.60" y2="797.57" stroke="#333" stroke-width="0.7" />
<text x="415.00" y="800.87" font-size="9.0" text-anchor="end" fill="#231f20" color="#231f20" >4</text>
<line x1="416.40" y1="773.93" x2="418.60" y2="773.93" stroke="#333" stroke-width="0.7" />
<text x="415.00" y="777.23" font-size="9.0" text-anchor="end" fill="#231f20" color="#231f20" >5</text>
<line x1="416.40" y1="750.30" x2="418.60" y2="750.30" stroke="#333" stroke-width="0.7" />
<text x="415.00" y="753.60" font-size="9.0" text-anchor="end" fill="#231f20" color="#231f20" >6</text>
<line x1="431.90" y1="821.20" x2="431.90" y2="823.40" stroke="#333" stroke-width="0.7" />
<line x1="450.90" y1="821.20" x2="450.90" y2="823.40" stroke="#333" stroke-width="0.7" />
<line x1="470.70" y1="821.20" x2="470.70" y2="823.40" stroke="#333" stroke-width="0.7" />
<line x1="490.10" y1="821.20" x2="490.10" y2="823.40" stroke="#333" stroke-width="0.7" />
<text x="402.80" y="786.25" font-size="8.1" text-anchor="middle" fill="#231f20" color="#231f20" transform="rotate(-90 402.80 786.25)" >Log<tspan font-size="62%" dy="0.6">10</tspan><tspan dy="-0.6"> (CFU/g Kidney)</tspan></text>
<circle cx="428.1" cy="772.8" r="1.75" fill="none" stroke="#f47a20" stroke-width="0.7"/>
<circle cx="435.7" cy="773.9" r="1.75" fill="none" stroke="#f47a20" stroke-width="0.7"/>
<circle cx="431.9" cy="775.1" r="1.75" fill="none" stroke="#f47a20" stroke-width="0.7"/>
<circle cx="428.1" cy="776.3" r="1.75" fill="none" stroke="#f47a20" stroke-width="0.7"/>
<circle cx="435.7" cy="778.7" r="1.75" fill="none" stroke="#f47a20" stroke-width="0.7"/>
<circle cx="431.9" cy="779.8" r="1.75" fill="none" stroke="#f47a20" stroke-width="0.7"/>
<line x1="427.40" y1="776.10" x2="436.40" y2="776.10" stroke="#f47a20" stroke-width="0.75" />
<line x1="431.90" y1="773.36" x2="431.90" y2="778.84" stroke="#f47a20" stroke-width="0.75" />
<line x1="429.50" y1="773.36" x2="434.30" y2="773.36" stroke="#f47a20" stroke-width="0.75" />
<line x1="429.50" y1="778.84" x2="434.30" y2="778.84" stroke="#f47a20" stroke-width="0.75" />
<circle cx="447.1" cy="772.8" r="1.75" fill="none" stroke="#2e8b3a" stroke-width="0.7"/>
<circle cx="454.7" cy="775.1" r="1.75" fill="none" stroke="#2e8b3a" stroke-width="0.7"/>
<circle cx="450.9" cy="777.5" r="1.75" fill="none" stroke="#2e8b3a" stroke-width="0.7"/>
<circle cx="447.1" cy="779.8" r="1.75" fill="none" stroke="#2e8b3a" stroke-width="0.7"/>
<circle cx="454.7" cy="780.6" r="1.75" fill="none" stroke="#2e8b3a" stroke-width="0.7"/>
<line x1="446.40" y1="777.15" x2="455.40" y2="777.15" stroke="#2e8b3a" stroke-width="0.75" />
<line x1="450.90" y1="773.89" x2="450.90" y2="780.40" stroke="#2e8b3a" stroke-width="0.75" />
<line x1="448.50" y1="773.89" x2="453.30" y2="773.89" stroke="#2e8b3a" stroke-width="0.75" />
<line x1="448.50" y1="780.40" x2="453.30" y2="780.40" stroke="#2e8b3a" stroke-width="0.75" />
<circle cx="466.9" cy="786.9" r="1.75" fill="none" stroke="#d6338a" stroke-width="0.7"/>
<circle cx="474.5" cy="791.7" r="1.75" fill="none" stroke="#d6338a" stroke-width="0.7"/>
<circle cx="470.7" cy="792.8" r="1.75" fill="none" stroke="#d6338a" stroke-width="0.7"/>
<circle cx="466.9" cy="794.0" r="1.75" fill="none" stroke="#d6338a" stroke-width="0.7"/>
<circle cx="474.5" cy="794.7" r="1.75" fill="none" stroke="#d6338a" stroke-width="0.7"/>
<circle cx="470.7" cy="795.2" r="1.75" fill="none" stroke="#d6338a" stroke-width="0.7"/>
<line x1="466.20" y1="792.56" x2="475.20" y2="792.56" stroke="#d6338a" stroke-width="0.75" />
<line x1="470.70" y1="789.52" x2="470.70" y2="795.61" stroke="#d6338a" stroke-width="0.75" />
<line x1="468.30" y1="789.52" x2="473.10" y2="789.52" stroke="#d6338a" stroke-width="0.75" />
<line x1="468.30" y1="795.61" x2="473.10" y2="795.61" stroke="#d6338a" stroke-width="0.75" />
<circle cx="486.3" cy="794.0" r="1.75" fill="none" stroke="#2c3a9c" stroke-width="0.7"/>
<circle cx="493.9" cy="795.2" r="1.75" fill="none" stroke="#2c3a9c" stroke-width="0.7"/>
<circle cx="490.1" cy="798.7" r="1.75" fill="none" stroke="#2c3a9c" stroke-width="0.7"/>
<circle cx="486.3" cy="801.1" r="1.75" fill="none" stroke="#2c3a9c" stroke-width="0.7"/>
<circle cx="493.9" cy="805.8" r="1.75" fill="none" stroke="#2c3a9c" stroke-width="0.7"/>
<circle cx="490.1" cy="807.0" r="1.75" fill="none" stroke="#2c3a9c" stroke-width="0.7"/>
<line x1="485.60" y1="800.32" x2="494.60" y2="800.32" stroke="#2c3a9c" stroke-width="0.75" />
<line x1="490.10" y1="794.95" x2="490.10" y2="805.70" stroke="#2c3a9c" stroke-width="0.75" />
<line x1="487.70" y1="794.95" x2="492.50" y2="794.95" stroke="#2c3a9c" stroke-width="0.75" />
<line x1="487.70" y1="805.70" x2="492.50" y2="805.70" stroke="#2c3a9c" stroke-width="0.75" />
<path d="M430.90,759.50 V754.40 H490.50 V759.50" stroke="#8a8a8a" stroke-width="0.7" fill="none" />
<text x="460.70" y="752.40" font-size="7.1" text-anchor="middle" fill="#333" color="#333" >&lt;0.0001</text>
<path d="M430.90,770.00 V766.70 H467.30 V785.00" stroke="#8a8a8a" stroke-width="0.7" fill="none" />
<text x="449.10" y="764.70" font-size="7.1" text-anchor="middle" fill="#333" color="#333" >&lt;0.0001</text>
<path d="M473.40,785.00 V766.70 H490.50 V793.00" stroke="#8a8a8a" stroke-width="0.7" fill="none" />
<text x="481.95" y="764.70" font-size="7.1" text-anchor="middle" fill="#333" color="#333" >0.013</text>
<line x1="527.00" y1="750.10" x2="527.00" y2="821.40" stroke="#333" stroke-width="0.75" />
<line x1="527.00" y1="821.40" x2="611.50" y2="821.40" stroke="#333" stroke-width="0.75" />
<line x1="524.80" y1="821.40" x2="527.00" y2="821.40" stroke="#333" stroke-width="0.7" />
<text x="523.40" y="824.70" font-size="9.0" text-anchor="end" fill="#231f20" color="#231f20" >3</text>
<line x1="524.80" y1="797.73" x2="527.00" y2="797.73" stroke="#333" stroke-width="0.7" />
<text x="523.40" y="801.03" font-size="9.0" text-anchor="end" fill="#231f20" color="#231f20" >4</text>
<line x1="524.80" y1="774.07" x2="527.00" y2="774.07" stroke="#333" stroke-width="0.7" />
<text x="523.40" y="777.37" font-size="9.0" text-anchor="end" fill="#231f20" color="#231f20" >5</text>
<line x1="524.80" y1="750.40" x2="527.00" y2="750.40" stroke="#333" stroke-width="0.7" />
<text x="523.40" y="753.70" font-size="9.0" text-anchor="end" fill="#231f20" color="#231f20" >6</text>
<line x1="540.00" y1="821.40" x2="540.00" y2="823.60" stroke="#333" stroke-width="0.7" />
<line x1="559.40" y1="821.40" x2="559.40" y2="823.60" stroke="#333" stroke-width="0.7" />
<line x1="578.90" y1="821.40" x2="578.90" y2="823.60" stroke="#333" stroke-width="0.7" />
<line x1="599.00" y1="821.40" x2="599.00" y2="823.60" stroke="#333" stroke-width="0.7" />
<text x="511.20" y="786.40" font-size="8.1" text-anchor="middle" fill="#231f20" color="#231f20" transform="rotate(-90 511.20 786.40)" >Log<tspan font-size="62%" dy="0.6">10</tspan><tspan dy="-0.6"> (CFU/g Liver</tspan></text>
<circle cx="536.2" cy="761.0" r="1.75" fill="none" stroke="#f47a20" stroke-width="0.7"/>
<circle cx="543.8" cy="762.2" r="1.75" fill="none" stroke="#f47a20" stroke-width="0.7"/>
<circle cx="540.0" cy="769.3" r="1.75" fill="none" stroke="#f47a20" stroke-width="0.7"/>
<circle cx="536.2" cy="776.4" r="1.75" fill="none" stroke="#f47a20" stroke-width="0.7"/>
<circle cx="543.8" cy="777.6" r="1.75" fill="none" stroke="#f47a20" stroke-width="0.7"/>
<line x1="535.50" y1="769.33" x2="544.50" y2="769.33" stroke="#f47a20" stroke-width="0.75" />
<line x1="540.00" y1="761.62" x2="540.00" y2="777.05" stroke="#f47a20" stroke-width="0.75" />
<line x1="537.60" y1="761.62" x2="542.40" y2="761.62" stroke="#f47a20" stroke-width="0.75" />
<line x1="537.60" y1="777.05" x2="542.40" y2="777.05" stroke="#f47a20" stroke-width="0.75" />
<circle cx="555.6" cy="761.0" r="1.75" fill="none" stroke="#2e8b3a" stroke-width="0.7"/>
<circle cx="563.2" cy="763.4" r="1.75" fill="none" stroke="#2e8b3a" stroke-width="0.7"/>
<circle cx="559.4" cy="765.8" r="1.75" fill="none" stroke="#2e8b3a" stroke-width="0.7"/>
<circle cx="555.6" cy="768.1" r="1.75" fill="none" stroke="#2e8b3a" stroke-width="0.7"/>
<circle cx="563.2" cy="769.3" r="1.75" fill="none" stroke="#2e8b3a" stroke-width="0.7"/>
<line x1="554.90" y1="765.55" x2="563.90" y2="765.55" stroke="#2e8b3a" stroke-width="0.75" />
<line x1="559.40" y1="762.16" x2="559.40" y2="768.94" stroke="#2e8b3a" stroke-width="0.75" />
<line x1="557.00" y1="762.16" x2="561.80" y2="762.16" stroke="#2e8b3a" stroke-width="0.75" />
<line x1="557.00" y1="768.94" x2="561.80" y2="768.94" stroke="#2e8b3a" stroke-width="0.75" />
<circle cx="575.1" cy="781.2" r="1.75" fill="none" stroke="#d6338a" stroke-width="0.7"/>
<circle cx="582.7" cy="783.1" r="1.75" fill="none" stroke="#d6338a" stroke-width="0.7"/>
<circle cx="578.9" cy="785.9" r="1.75" fill="none" stroke="#d6338a" stroke-width="0.7"/>
<circle cx="575.1" cy="787.1" r="1.75" fill="none" stroke="#d6338a" stroke-width="0.7"/>
<circle cx="582.7" cy="785.9" r="1.75" fill="none" stroke="#d6338a" stroke-width="0.7"/>
<line x1="574.40" y1="784.62" x2="583.40" y2="784.62" stroke="#d6338a" stroke-width="0.75" />
<line x1="578.90" y1="782.19" x2="578.90" y2="787.06" stroke="#d6338a" stroke-width="0.75" />
<line x1="576.50" y1="782.19" x2="581.30" y2="782.19" stroke="#d6338a" stroke-width="0.75" />
<line x1="576.50" y1="787.06" x2="581.30" y2="787.06" stroke="#d6338a" stroke-width="0.75" />
<circle cx="595.2" cy="789.4" r="1.75" fill="none" stroke="#2c3a9c" stroke-width="0.7"/>
<circle cx="602.8" cy="790.6" r="1.75" fill="none" stroke="#2c3a9c" stroke-width="0.7"/>
<circle cx="599.0" cy="793.0" r="1.75" fill="none" stroke="#2c3a9c" stroke-width="0.7"/>
<circle cx="595.2" cy="794.2" r="1.75" fill="none" stroke="#2c3a9c" stroke-width="0.7"/>
<circle cx="602.8" cy="796.5" r="1.75" fill="none" stroke="#2c3a9c" stroke-width="0.7"/>
<line x1="594.50" y1="792.76" x2="603.50" y2="792.76" stroke="#2c3a9c" stroke-width="0.75" />
<line x1="599.00" y1="789.94" x2="599.00" y2="795.59" stroke="#2c3a9c" stroke-width="0.75" />
<line x1="596.60" y1="789.94" x2="601.40" y2="789.94" stroke="#2c3a9c" stroke-width="0.75" />
<line x1="596.60" y1="795.59" x2="601.40" y2="795.59" stroke="#2c3a9c" stroke-width="0.75" />
<path d="M540.00,744.00 V740.40 H599.00 V744.00" stroke="#8a8a8a" stroke-width="0.7" fill="none" />
<text x="569.50" y="738.40" font-size="7.1" text-anchor="middle" fill="#333" color="#333" >&lt;0.0001</text>
<path d="M540.00,757.00 V754.40 H577.00 V769.00" stroke="#8a8a8a" stroke-width="0.7" fill="none" />
<text x="558.50" y="752.40" font-size="7.1" text-anchor="middle" fill="#333" color="#333" >0.0001</text>
<path d="M582.40,769.00 V754.40 H599.00 V781.00" stroke="#8a8a8a" stroke-width="0.7" fill="none" />
<text x="590.70" y="752.40" font-size="7.1" text-anchor="middle" fill="#333" color="#333" >0.046</text>
<circle cx="616.1" cy="756.0" r="1.75" fill="none" stroke="#f47a20" stroke-width="0.75"/>
<text x="619.70" y="759.00" font-size="8.4" text-anchor="start" fill="#231f20" color="#231f20" >Vehicle</text>
<circle cx="616.1" cy="767.9" r="1.75" fill="none" stroke="#2e8b3a" stroke-width="0.75"/>
<text x="619.70" y="770.90" font-size="8.4" text-anchor="start" fill="#231f20" color="#231f20" >CPTH<tspan font-size="62%" dy="0.9">2</tspan><tspan dy="-0.9"></tspan> 40 mg/kg</text>
<circle cx="616.1" cy="779.8" r="1.75" fill="none" stroke="#d6338a" stroke-width="0.75"/>
<text x="619.70" y="782.80" font-size="8.4" text-anchor="start" fill="#231f20" color="#231f20" >CAS 10 mg/kg</text>
<circle cx="616.1" cy="791.7" r="1.75" fill="none" stroke="#2c3a9c" stroke-width="0.75"/>
<text x="619.70" y="794.70" font-size="8.4" text-anchor="start" fill="#231f20" color="#231f20" >Combo</text>
</svg>
</body></html>
